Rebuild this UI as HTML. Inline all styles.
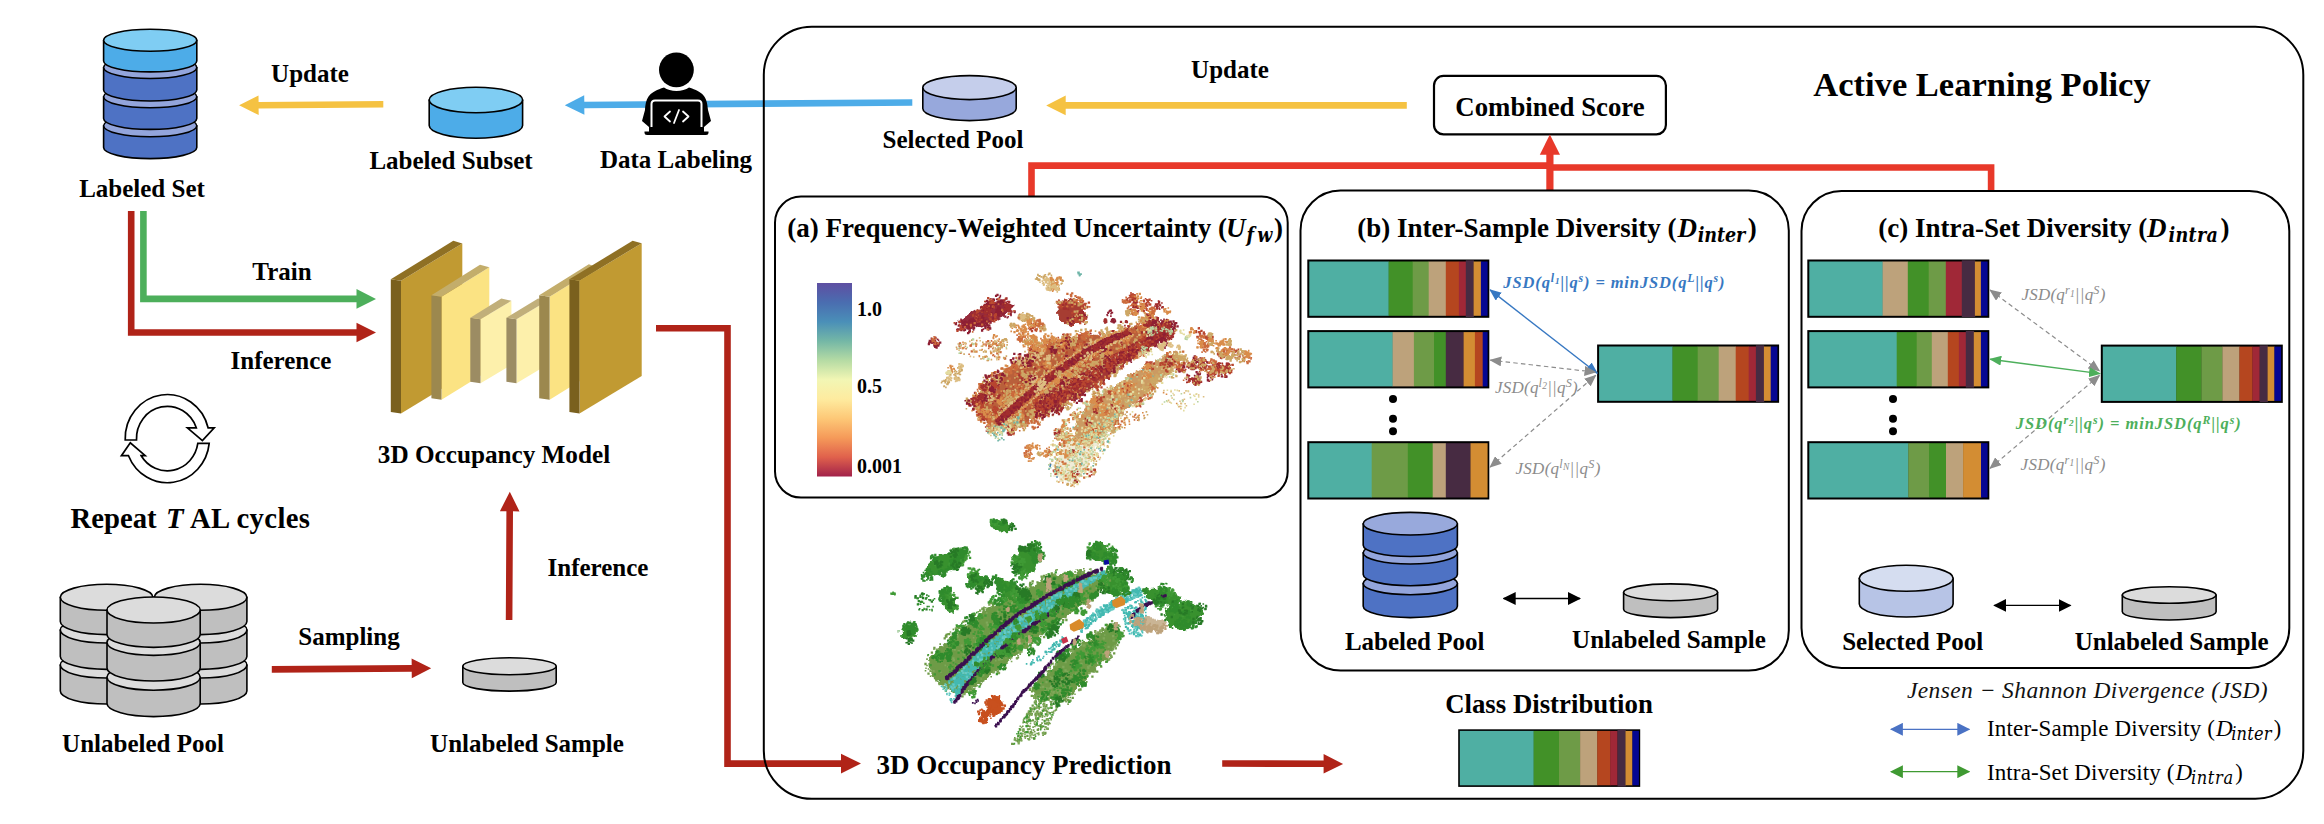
<!DOCTYPE html>
<html lang="en"><head><meta charset="utf-8"><title>Active Learning Pipeline</title>
<style>
html,body{margin:0;padding:0;background:#fff;}
body{width:2324px;height:824px;overflow:hidden;}
svg{display:block;font-family:'Liberation Serif', 'DejaVu Serif', serif;}
</style></head><body>
<svg width="2324" height="824" viewBox="0 0 2324 824">
<rect width="2324" height="824" fill="#fff"/>

<path d="M103.6 125.7V147.6A46.6 11 0 0 0 196.79999999999998 147.6V125.7Z" fill="#4E72C4" stroke="#000" stroke-width="1.6" stroke-linejoin="round"/>
<ellipse cx="150.2" cy="125.7" rx="46.6" ry="11" fill="#93A5DC" stroke="#000" stroke-width="1.6"/>
<path d="M103.6 96.8V118.4A46.6 11 0 0 0 196.79999999999998 118.4V96.8Z" fill="#4E72C4" stroke="#000" stroke-width="1.6" stroke-linejoin="round"/>
<ellipse cx="150.2" cy="96.8" rx="46.6" ry="11" fill="#93A5DC" stroke="#000" stroke-width="1.6"/>
<path d="M103.6 67.5V90A46.6 11 0 0 0 196.79999999999998 90V67.5Z" fill="#4E72C4" stroke="#000" stroke-width="1.6" stroke-linejoin="round"/>
<ellipse cx="150.2" cy="67.5" rx="46.6" ry="11" fill="#93A5DC" stroke="#000" stroke-width="1.6"/>
<path d="M103.6 40.3V60.9A46.6 11 0 0 0 196.79999999999998 60.9V40.3Z" fill="#4DACE8" stroke="#000" stroke-width="1.6" stroke-linejoin="round"/>
<ellipse cx="150.2" cy="40.3" rx="46.6" ry="11" fill="#7FCDF3" stroke="#000" stroke-width="1.6"/>
<text x="142" y="197" font-size="25" font-weight="bold" font-style="normal" text-anchor="middle" fill="#000" >Labeled Set</text>
<text x="310" y="82" font-size="25" font-weight="bold" font-style="normal" text-anchor="middle" fill="#000" >Update</text>
<polygon points="383.3,101.0 258.6,101.9 258.5,95.4 239.1,105.3 258.7,115.0 258.6,108.5 383.3,107.6" fill="#F5C242"/>
<path d="M429.2 100V125.5A46.7 12.7 0 0 0 522.6 125.5V100Z" fill="#4DACE8" stroke="#000" stroke-width="1.6" stroke-linejoin="round"/>
<ellipse cx="475.9" cy="100" rx="46.7" ry="12.7" fill="#7FCDF3" stroke="#000" stroke-width="1.6"/>
<text x="451" y="169" font-size="25" font-weight="bold" font-style="normal" text-anchor="middle" fill="#000" >Labeled Subset</text>
<polygon points="912.3,99.2 584.3,101.7 584.2,95.2 564.8,105.2 584.4,114.8 584.3,108.3 912.3,105.8" fill="#4DACE8"/>
<g id="person">
<circle cx="676.4" cy="69.9" r="17.4" fill="#000"/>
<path d="M645 110 C646 96 650 92 664 87.5 C670 92 683 92 689 87.5 C703 92 707 96 708 110 L711 121 L704 127 L704 132 L649 132 L649 127 L642 121 Z" fill="#000"/>
<path d="M651.5 127 V104 Q651.5 100.5 655 100.5 H698 Q701.5 100.5 701.5 104 V127" fill="none" stroke="#fff" stroke-width="2"/>
<rect x="653" y="102" width="47" height="27" rx="2" fill="#000"/>
<path d="M644.5 131.5 H708.5 V133 Q708.5 135 706 135 H647 Q644.5 135 644.5 133 Z" fill="#000"/>
<path d="M670 111.5 L664.5 116.5 L670 121.5 M683 111.5 L688.5 116.5 L683 121.5 M679 110 L674 123" fill="none" stroke="#fff" stroke-width="1.8" stroke-linecap="round" stroke-linejoin="round"/>
</g>
<text x="676" y="168" font-size="25" font-weight="bold" font-style="normal" text-anchor="middle" fill="#000" >Data Labeling</text>
<path d="M127.89999999999999 211V335.8H356.5V342.3L376 332.5L356.5 322.7V329.2H134.5V211Z" fill="#B02318"/>
<path d="M140.1 211V302.2H356.5V308.7L376 298.9L356.5 289.09999999999997V295.59999999999997H146.70000000000002V211Z" fill="#4DAF5B"/>
<text x="282" y="280" font-size="25" font-weight="bold" font-style="normal" text-anchor="middle" fill="#000" >Train</text>
<text x="281" y="369" font-size="25" font-weight="bold" font-style="normal" text-anchor="middle" fill="#000" >Inference</text>
<polygon points="401,280.7 462.3,243.39999999999998 462.3,376.2 401,413.5" fill="#C19A32"/>
<polygon points="390.8,279.2 401,280.7 401,413.5 390.8,412" fill="#7A601E"/>
<polygon points="390.8,279.2 453.3,240.79999999999998 462.3,243.39999999999998 401,280.7" fill="#8F7024"/>
<polygon points="441.5,296.8 489.3,267.3 489.3,370.3 441.5,399.8" fill="#FBE383"/>
<polygon points="431.4,295.3 441.5,296.8 441.5,399.8 431.4,398.3" fill="#9C884E"/>
<polygon points="431.4,295.3 480.0,264.8 489.3,267.3 441.5,296.8" fill="#C3AD6B"/>
<polygon points="480.5,319.2 511.4,300.8 511.4,364.8 480.5,383.2" fill="#FDF0AB"/>
<polygon points="470.3,317.7 480.5,319.2 480.5,383.2 470.3,381.7" fill="#9C8C63"/>
<polygon points="470.3,317.7 501.3,298.5 511.4,300.8 480.5,319.2" fill="#C1AF7A"/>
<polygon points="516.5,319.2 547.4,300.8 547.4,364.8 516.5,383.2" fill="#FDF0AB"/>
<polygon points="506.4,317.7 516.5,319.2 516.5,383.2 506.4,381.7" fill="#9C8C63"/>
<polygon points="506.4,317.7 538.1,298.5 547.4,300.8 516.5,319.2" fill="#C1AF7A"/>
<polygon points="549.6,296.8 597.4,267.3 597.4,370.3 549.6,399.8" fill="#FBE383"/>
<polygon points="539.2,295.3 549.6,296.8 549.6,399.8 539.2,398.3" fill="#9C884E"/>
<polygon points="539.2,295.3 588.8000000000001,264.3 597.4,267.3 549.6,296.8" fill="#C3AD6B"/>
<polygon points="579.5,280.7 641.7,243.2 641.7,376.0 579.5,413.5" fill="#C19A32"/>
<polygon points="569.4,279.2 579.5,280.7 579.5,413.5 569.4,412" fill="#7A601E"/>
<polygon points="569.4,279.2 632.6,240.79999999999998 641.7,243.2 579.5,280.7" fill="#8F7024"/>
<text x="494" y="463" font-size="25.2" font-weight="bold" font-style="normal" text-anchor="middle" fill="#000" >3D Occupancy Model</text>
<g fill="#fff" stroke="#000" stroke-width="1.7" stroke-linejoin="miter">
<path d="M125.2 440 A42.1 44 0 0 1 208.1 427.8 L214.2 427.8 L202.4 440.6 L187.4 427.8 L196.3 427.8 A30.8 32.2 0 0 0 136.5 440 Z"/>
<path d="M209.2 443.4 A42.1 44 0 0 1 128.5 455.7 L121.4 455.7 L130.3 442.8 L145.2 455.7 L141.2 455.7 A30.8 32.2 0 0 0 197.8 443.4 Z"/>
</g>
<text x="70.5" y="527.8" font-size="28.7" font-weight="bold">Repeat</text>
<text x="166" y="527.8" font-size="28.7" font-weight="bold" font-style="italic">T</text>
<text x="190" y="527.8" font-size="28.7" font-weight="bold" textLength="120" lengthAdjust="spacing">AL cycles</text>
<path d="M60.3 665V691A46.3 13 0 0 0 152.89999999999998 691V665Z" fill="#BFBFBF" stroke="#000" stroke-width="1.6" stroke-linejoin="round"/>
<ellipse cx="106.6" cy="665" rx="46.3" ry="13" fill="#DCDCDC" stroke="#000" stroke-width="1.6"/>
<path d="M60.3 630V656.4A46.3 13 0 0 0 152.89999999999998 656.4V630Z" fill="#BFBFBF" stroke="#000" stroke-width="1.6" stroke-linejoin="round"/>
<ellipse cx="106.6" cy="630" rx="46.3" ry="13" fill="#DCDCDC" stroke="#000" stroke-width="1.6"/>
<path d="M60.3 597.3V621.6A46.3 13 0 0 0 152.89999999999998 621.6V597.3Z" fill="#BFBFBF" stroke="#000" stroke-width="1.6" stroke-linejoin="round"/>
<ellipse cx="106.6" cy="597.3" rx="46.3" ry="13" fill="#DCDCDC" stroke="#000" stroke-width="1.6"/>
<path d="M154.3 665V691A46.3 13 0 0 0 246.89999999999998 691V665Z" fill="#BFBFBF" stroke="#000" stroke-width="1.6" stroke-linejoin="round"/>
<ellipse cx="200.6" cy="665" rx="46.3" ry="13" fill="#DCDCDC" stroke="#000" stroke-width="1.6"/>
<path d="M154.3 630V656.4A46.3 13 0 0 0 246.89999999999998 656.4V630Z" fill="#BFBFBF" stroke="#000" stroke-width="1.6" stroke-linejoin="round"/>
<ellipse cx="200.6" cy="630" rx="46.3" ry="13" fill="#DCDCDC" stroke="#000" stroke-width="1.6"/>
<path d="M154.3 597.3V621.6A46.3 13 0 0 0 246.89999999999998 621.6V597.3Z" fill="#BFBFBF" stroke="#000" stroke-width="1.6" stroke-linejoin="round"/>
<ellipse cx="200.6" cy="597.3" rx="46.3" ry="13" fill="#DCDCDC" stroke="#000" stroke-width="1.6"/>
<path d="M107.0 677.2V703.6A46.6 13 0 0 0 200.2 703.6V677.2Z" fill="#BFBFBF" stroke="#000" stroke-width="1.6" stroke-linejoin="round"/>
<ellipse cx="153.6" cy="677.2" rx="46.6" ry="13" fill="#DCDCDC" stroke="#000" stroke-width="1.6"/>
<path d="M107.0 642.4V668A46.6 13 0 0 0 200.2 668V642.4Z" fill="#BFBFBF" stroke="#000" stroke-width="1.6" stroke-linejoin="round"/>
<ellipse cx="153.6" cy="642.4" rx="46.6" ry="13" fill="#DCDCDC" stroke="#000" stroke-width="1.6"/>
<path d="M107.0 610V634.4A46.6 13 0 0 0 200.2 634.4V610Z" fill="#BFBFBF" stroke="#000" stroke-width="1.6" stroke-linejoin="round"/>
<ellipse cx="153.6" cy="610" rx="46.6" ry="13" fill="#DCDCDC" stroke="#000" stroke-width="1.6"/>
<text x="143" y="752" font-size="25" font-weight="bold" font-style="normal" text-anchor="middle" fill="#000" >Unlabeled Pool</text>
<text x="349" y="645" font-size="25" font-weight="bold" font-style="normal" text-anchor="middle" fill="#000" >Sampling</text>
<polygon points="271.8,672.7 411.7,671.7 411.8,678.2 431.2,668.3 411.6,658.6 411.7,665.1 271.8,666.1" fill="#B02318"/>
<path d="M462.8 666.3V682.6A46.7 8.5 0 0 0 556.2 682.6V666.3Z" fill="#BFBFBF" stroke="#000" stroke-width="1.6" stroke-linejoin="round"/>
<ellipse cx="509.5" cy="666.3" rx="46.7" ry="8.5" fill="#DCDCDC" stroke="#000" stroke-width="1.6"/>
<text x="527" y="752" font-size="25" font-weight="bold" font-style="normal" text-anchor="middle" fill="#000" >Unlabeled Sample</text>
<polygon points="512.4,620.0 513.0,511.3 519.5,511.4 509.8,491.8 499.9,511.2 506.4,511.3 505.8,620.0" fill="#B02318"/>
<text x="598" y="576" font-size="25" font-weight="bold" font-style="normal" text-anchor="middle" fill="#000" >Inference</text>
<path d="M656 328.3H727.5V763.6H842" fill="none" stroke="#B02318" stroke-width="6.6"/>
<path d="M841 753.8L861 763.6L841 773.4Z" fill="#B02318"/>
<rect x="763.8" y="26.8" width="1539.5" height="772" rx="48" ry="48" fill="none" stroke="#000" stroke-width="2"/>
<path d="M922.8 87.6V108.6A46.7 12 0 0 0 1016.2 108.6V87.6Z" fill="#97A8DC" stroke="#000" stroke-width="1.6" stroke-linejoin="round"/>
<ellipse cx="969.5" cy="87.6" rx="46.7" ry="12" fill="#C5CEEB" stroke="#000" stroke-width="1.6"/>
<text x="953" y="148" font-size="25" font-weight="bold" font-style="normal" text-anchor="middle" fill="#000" >Selected Pool</text>
<text x="1230" y="78" font-size="25" font-weight="bold" font-style="normal" text-anchor="middle" fill="#000" >Update</text>
<polygon points="1406.8,102.1 1065.7,102.1 1065.7,95.6 1046.2,105.4 1065.7,115.2 1065.7,108.7 1406.8,108.7" fill="#F5C242"/>
<rect x="1434" y="75.9" width="231.9" height="58.5" rx="9.5" fill="#fff" stroke="#000" stroke-width="2.2"/>
<text x="1550" y="115.8" font-size="26.8" font-weight="bold" font-style="normal" text-anchor="middle" fill="#000" >Combined Score</text>
<text x="1982" y="96" font-size="34.5" font-weight="bold" font-style="normal" text-anchor="middle" fill="#000" >Active Learning Policy</text>
<path d="M1031.5 197.6V165.6H1550" fill="none" stroke="#E8392A" stroke-width="6.6"/>
<path d="M1549.9 167.5H1991.1V191.5" fill="none" stroke="#E8392A" stroke-width="6.6"/>
<path d="M1549.9 190.5V152" fill="none" stroke="#E8392A" stroke-width="7.2"/>
<path d="M1539.8 154.8L1549.9 134.4L1560 154.8Z" fill="#E8392A"/>
<rect x="775" y="196.6" width="512.7" height="301" rx="26" fill="#fff" stroke="#000" stroke-width="2"/>
<text x="787.3" y="237" font-size="27" font-weight="bold">(a) Frequency-Weighted Uncertainty (</text>
<text x="1226" y="237" font-size="27" font-weight="bold" font-style="italic">U</text>
<text x="1246.5" y="242" font-size="19.5" font-weight="bold" font-style="italic" font-family="'DejaVu Serif Condensed', 'DejaVu Serif', serif" textLength="25.8" lengthAdjust="spacing">fw</text>
<text x="1274" y="237" font-size="27" font-weight="bold">)</text>
<defs><linearGradient id="cb" x1="0" y1="0" x2="0" y2="1">
<stop offset="0" stop-color="#5E4FA2"/><stop offset="0.1" stop-color="#4A6DB0"/><stop offset="0.2" stop-color="#4A8FB8"/><stop offset="0.3" stop-color="#74B7A6"/>
<stop offset="0.4" stop-color="#B5DBA4"/><stop offset="0.5" stop-color="#F2F6B4"/><stop offset="0.6" stop-color="#FEEB9F"/><stop offset="0.7" stop-color="#FDC877"/>
<stop offset="0.8" stop-color="#F59A59"/><stop offset="0.9" stop-color="#E0614C"/><stop offset="1" stop-color="#A2224A"/></linearGradient></defs>
<rect x="817" y="283" width="35" height="193.5" fill="url(#cb)"/>
<text x="857" y="315.5" font-size="20" font-weight="bold" font-style="normal" text-anchor="start" fill="#000" >1.0</text>
<text x="857" y="393.3" font-size="20" font-weight="bold" font-style="normal" text-anchor="start" fill="#000" >0.5</text>
<text x="857" y="473" font-size="20" font-weight="bold" font-style="normal" text-anchor="start" fill="#000" >0.001</text>
<defs><filter id="rag" x="-5%" y="-5%" width="110%" height="110%"><feTurbulence type="fractalNoise" baseFrequency="0.18" numOctaves="2" seed="3" result="n"/><feDisplacementMap in="SourceGraphic" in2="n" scale="9" xChannelSelector="R" yChannelSelector="G"/></filter></defs>
<g filter="url(#rag)"><polygon points="974.3,399.8 990.3,379.4 1017.9,360.5 1051.4,341.5 1086.4,332.8 1103.8,336.3 1127.1,328.4 1147.5,322.6 1169.4,325.5 1172.3,334.3 1153.3,345.0 1130.1,357.6 1100.9,379.4 1071.8,399.8 1038.3,417.3 1015.0,428.3 997.6,430.4 983.0,420.2" fill="#B9603B"/><polygon points="1032.5,414.3 1036.9,396.9 1063.1,382.3 1092.2,367.7 1124.2,350.3 1147.5,338.0 1162.1,336.3 1156.3,345.0 1133.0,358.4 1103.8,380.0 1074.7,400.4 1045.6,415.8" fill="#A23535"/><polygon points="1074.7,423.1 1092.2,399.8 1112.6,388.1 1133.0,373.6 1159.2,359.0 1176.6,351.7 1183.9,357.6 1167.9,375.0 1147.5,392.5 1130.1,407.1 1115.5,423.1 1100.9,437.6 1086.4,446.4 1074.7,440.5" fill="#CB9A62"/><polygon points="1054.3,463.8 1068.9,440.5 1086.4,434.7 1100.9,440.5 1089.3,463.8 1074.7,481.3 1063.1,482.8 1054.3,475.5" fill="#D9CF9A" opacity="0.4"/><polygon points="958.2,321.7 974.3,310.1 1001.9,299.3 1013.6,304.3 1009.2,313.0 987.4,324.1 966.4,329.9" fill="#952A3A"/><polygon points="1057.3,305.1 1071.8,297.3 1084.0,304.3 1084.0,321.2 1071.8,326.4 1058.7,318.8" fill="#A63C33"/><polygon points="1149.0,324.1 1169.4,321.7 1173.7,332.8 1162.1,341.0 1149.0,337.2" fill="#9C2C33"/></g>
<g fill="none" stroke-linecap="square">
<path stroke="#D98C4A" stroke-width="1.6" d="M1166.2 321.1h0m-14.6 .8h0m23.2 3.9h0m.1 .5h0m-23.7 8.9h0m-6.6-1h0m-5.4-2h0m-1.2-.6h0m-6.8 4h0m-.2-5h0m-16.9 .2h0m-25.6 2.5h0m-23.3 8h0m3.8-2.8h0m3.4 1.6h0m19.5 1.2h0m50.4-1.7h0m6.1 .4h0m9.6-2.6h0m8.3 3.8h0m-25.1 5.2h0m-14-4.3h0m-21.6 2.3h0m-5.2 3h0m-28-2.5h0m-1.4 2.5h0m-21.5 .1h0m16.2 4.1h0m20.6-3.3h0m6.9-.3h0m1.9 .1h0m5.4 3.8h0m8.6-1.9h0m17.1 .2h0m7-1.6h0m45.9 10.7h0m-9-1.8h0m-35.3 1.2h0m-34.7 1h0m-58.6-3.7h0m-29.8 5.2h0m14.3 3.6h0m44.7-3.5h0m4-.3h0m5.2 2.4h0m.9-2.6h0m15 1.7h0m82.5 4.3h0m-15.8-.3h0m-25.9 4.5h0m-14.3-2.9h0m-12.8 1.4h0m-19.8 .7h0m-6.5-3.7h0m-53.3 5.3h0m-25.5-1.8h0m-11.3 2.7h0m41.5 4.3h0m.1-3.4h0m33.3 3.2h0m25.3-4.8h0m11.9 4.5h0m31.3 7h0m-4.6-.5h0m-1.3-1.7h0m-25.3-3.1h0m-38.6 .3h0m-7.6 5.1h0m-20.4-4.5h0m-7.1 2.6h0m-30.8-.6h0m-9.5 2.6h0m15.5 1.8h0m5.8 .5h0m3.3-1h0m1.4 2.8h0m1.6-1.2h0m5.9 2.5h0m9.1-4.9h0m12.4 3.3h0m.1-1.6h0m1.4-1.9h0m86.2 5.3h0m1.7 0h0m22-1.4h0m-29.8 3h0m-6.3 1.8h0m-63.7 2.1h0m-.2 .2h0m-18.6-1.1h0m-12.4-3.6h0m-25.4 .8h0m-12.7 4.1h0m-1.5-4.5h0m-9.1 .5h0m-2.5 8.6h0m19.4 1.9h0m72.8-.4h0m74.1-.6h0m-17 2.1h0m-36.8 2.4h0m-13.9-3.1h0m-4.5 1.3h0m-12.8 2.8h0m-.7 .2h0m-14.1-2.3h0m-41.1-1.3h0m-28.9-.5h0m2.8 6.6h0m29 .8h0m3.8 2.5h0m4.9-1.3h0m8.2 2.3h0m1.6 .7h0m20.5-3.7h0m34.4-.6h0m3.1 2.3h0m6.1-.9h0m37.3-1.5h0m-15.4 7.1h0m-3.7 1.2h0m-65.2 .8h0m-2.1-1.9h0m-5.5 2.5h0m-15-2.8h0m-6.6 1.9h0m-.8-1.6h0m-10.6 3h0m-14.5 3.2h0m4.6-2.7h0m4.6 3.2h0m2.4 .8h0m24.6-.7h0m14.3-2.9h0m51.2-.6h0m12.6 2.5h0m4.8-1.3h0m7 6.7h0m-14 2.6h0m-74.1-3.8h0m-6.4 3.5h0m-1.4-1h0m59.6 7.2h0m8.8-1.5h0m2.3-1.9h0m8.7 1.4h0m16.8-.8h0m-12.1 7.3h0m-49.4 6.4h0m14.5-.8h0m24.9 3.4h0m15.2-.1h0m-25.5 1h0m-12.6 3.8h0m-15.3-1.8h0m9.2 8.5h0m20.8 4.9h0m-.3-2.4h0m-14.8 .2h0m-4.7 2.5h0m11 4.2h0m8.4-1.5h0m3.2-.1h0m2-.7h0m-10.8 7h0"/>
<path stroke="#D98C4A" stroke-width="2.3" d="M1170.6 322.8h0m-18.2-1.1h0m-4.1 1.4h0m-22.7 5.2h0m3.7 .4h0m12.6-.3h0m12.2-2.1h0m5.1-.6h0m9 8h0m-15.5-1.8h0m-4.4-.8h0m-59.3 4.2h0m-2.8-3.7h0m-9.2 2.6h0m-6.6 .3h0m-3.4 .2h0m-.6 .4h0m9.1 2.7h0m25.6 4h0m22.7-.4h0m25.3 4.6h0m-6.4 1.1h0m-11.1-.6h0m-3.8-3h0m-8.1 .1h0m-8.5-.6h0m-10.2 3h0m-2.3 1.4h0m-18.6-3.1h0m7.3 4.4h0m18.6 4.6h0m4.1-1.2h0m7.6-2.9h0m10.6 3h0m7.9-3.2h0m5.6 3.4h0m28.2-.2h0m-68.2 6.1h0m-.2 .8h0m-15.3-.1h0m-23-1.2h0m-33.9 1h0m-23.6 6.8h0m26.2 .3h0m6.1-1.6h0m5.5-.8h0m5.4-2.7h0m22.5 3.5h0m6.2-3.8h0m3.3 1.3h0m1.1 .2h0m22.7 3.1h0m5.8-3.8h0m16.4 1.1h0m47.6 5h0m-32.6 3.8h0m-51.3-.9h0m-40.7-2.5h0m-.1-.6h0m-42.7-1h0m-5.9 2.4h0m-12.6 7.7h0m3.4-3h0m5.1 4.6h0m1.9-.6h0m27.5-.5h0m24.5-.4h0m14.3-4.3h0m22.2 5.7h0m3.3 0h0m1.3-2.2h0m6.9-1.7h0m16-1.6h0m17.1 4.1h0m10.7 1.6h0m-42.2 2.3h0m-23.8-1.8h0m-2 2.6h0m-6.3 2.6h0m-19.4-1.2h0m-14.1-3.6h0m-39.8 10.6h0m2.6-3.4h0m27.3-2.1h0m5.5 .8h0m3.6 3.2h0m24 1h0m6.2-2.4h0m52.7 2.2h0m10.6 6.5h0m-52-2.6h0m-33-1.1h0m-5.9 3.8h0m-.3-2.1h0m-3.2-1.4h0m-5.6 3.4h0m-9.1-1.4h0m-8.8-3h0m-1.3 .5h0m-1.8 3.1h0m-2.9 1.4h0m-17.8-2h0m-14.8 7.6h0m6-2.3h0m2.7-1.6h0m9.3 3.3h0m10.8-4.4h0m2 1.4h0m.2-.1h0m18.1 .9h0m2.4 .2h0m20.7-.7h0m20.1-.4h0m3.9 .3h0m10.4-1.1h0m34.8 7.9h0m-26.2 .8h0m0-3.7h0m-18.8 .3h0m-14.4 2.2h0m-21.1 2.7h0m-16.7-2.6h0m-8.6 .9h0m-24.1 .2h0m0 6.8h0m11.7-2h0m7.7-1.2h0m41 4.6h0m8.9-3.5h0m35.2-.7h0m5.4 7.8h0m-3.1-1.8h0m-7.3 1h0m-8.6-1.9h0m-66.3 5h0m-22.4-1.5h0m-3.7 1.6h0m-2.8-.3h0m2.7 1.9h0m42.5 4.1h0m89.6-1h0m11.1-2h0m-61.9 8.5h0m21.2 4.9h0m16.3 4.4h0m-11.2-1.3h0m14.4 5.1h0m-19.9 10.1h0m-6.5 9.1h0m-13.3 .4h0m-2.5 9.2h0m27.5-3.5h0m-17.3 4.6h0m-5.4 4.8h0"/>
<path stroke="#B8452F" stroke-width="1.6" d="M1127.1 328.7h0m30.4-.9h0m16 4.2h0m-39.1 .3h0m-3-2.1h0m-2 3.8h0m-1.1-4h0m-28.2 4.9h0m-37.3-.4h0m-8.1 7.2h0m3.6-4.1h0m11 .3h0m4 1.1h0m33.8 .3h0m6.1-2.4h0m3.2 1.7h0m1.2 2.6h0m2.8-3.2h0m8.7 .7h0m23.3 6h0m-15.3 .3h0m-1.7-.3h0m-29.4 2.7h0m-.7 .1h0m-.6-5.1h0m-1.1 .6h0m-16.1-.1h0m-8.3 4.9h0m-4.9-2.6h0m-5.5 3.2h0m14 3.7h0m2-3h0m16 2.6h0m19.8-1.7h0m27.4-1.8h0m-12.2 9.2h0m-33.6 .7h0m-14.7-3.7h0m-.9 4.4h0m-33.3-.1h0m-38.2 5.9h0m7.6-1.8h0m26.9 .3h0m30 .4h0m4 1.6h0m8.9-4.1h0m5.8 8.1h0m-54.2-1h0m-22.3-2h0m-26.8 7.3h0m23.9 .2h0m9.5-1.2h0m22.8 4.2h0m8 .4h0m6.9-2.4h0m5.8 2h0m25.4 7.3h0m-2.4-1.3h0m-1.1-1.4h0m-1.3-1.3h0m-11.4 .4h0m-12.4-2.3h0m-1.7 2.3h0m-12 1.3h0m-1 1.5h0m-1.2-4.6h0m-10.9 3.7h0m-15.2-3.8h0m-8.4 5.2h0m-2.3-5.1h0m-35.9 10.7h0m33.2-2.8h0m23.3 1.4h0m17.4-3.5h0m10 8.1h0m-1.8 .4h0m-1.6-2.3h0m-14.1 5.3h0m-31.5-.9h0m-3.5 .6h0m-8.7-3.2h0m-11.2 4.8h0m18.2 2.9h0m19.4-1.7h0m1.7 2.8h0m17.3-4.6h0m10.9 5.3h0m5.8-.7h0m-14 5.1h0m-25.1 1.7h0m-34.2-2.7h0m-14.9 3.8h0m7.9 4.5h0m21.3-3.5h0m11.5-1.3h0m3.5 4.7h0m3.5-5.2h0m6 0h0m15.5 6.9h0m-53.9 3.6h0m-4.7 6.7h0m25.8 6.3h0m-19.4-1.6h0m-2.9-3.7h0m3.3 6.5h0"/>
<path stroke="#B8452F" stroke-width="2.3" d="M1144.5 323.7h0m-16.2 2.4h0m23.9-.9h0m2.9 3.1h0m20.1-1.7h0m-15 6.5h0m-29.3 1.1h0m-5.4 .9h0m-46.3 .2h0m-11.5-.6h0m-3.6 0h0m-3.5 5.8h0m3.9-1.3h0m2.8 2.1h0m8.2-2.1h0m1.8-1.4h0m1.9 .8h0m43.4-1.4h0m5.6-.2h0m14.4 .1h0m14.3 6.4h0m-10.2 1.5h0m-16.6-1.4h0m-9.3-.5h0m-36.4-.9h0m-3.2 1.3h0m-3.1 1.2h0m-1.4 .9h0m-46.7 3.4h0m18.8-.3h0m17.8 3.8h0m10.5-.3h0m16.7-4h0m11.1 5h0m16.5-1.4h0m2.9 1.9h0m-30.7 4.7h0m-10.1 .8h0m-8.2-4.4h0m-25.2 1.4h0m-13.6 1.8h0m-9.4 1.2h0m-7.6-2h0m38.4 4.3h0m10.9 .1h0m5.3 .7h0m9.3 1h0m6 1.1h0m13-2.8h0m19.7 4.2h0m-1 2.5h0m-29.7-.3h0m-6.2-.8h0m-3.5 4.1h0m-34.7-4.3h0m-19.2 .6h0m-28.9 10.3h0m1.2-3.7h0m1.4 .4h0m6.7-1.1h0m.6 .3h0m13.1-.9h0m2.8-.3h0m.5 2.4h0m33 2.9h0m10.2-4.1h0m3.2 2.6h0m3.9-1.7h0m13.8 4.5h0m-13.2 .8h0m-2.2 .6h0m-.3-.4h0m-2.5 1.6h0m-14.5-3.8h0m-5.3 4.3h0m-24.7-2.9h0m-28.2 9h0m.3-1.7h0m.1-1.4h0m21.2 2.7h0m8-2.4h0m3.1 3.6h0m.8-2.7h0m46-.5h0m6.3 3.6h0m-7.7 .6h0m-34.9-.2h0m-63.7 11.6h0m22.9 .1h0m23.2-.6h0m10.4-5h0m4.5 1.5h0m17.4-1.5h0m-19.7 8.3h0m-14.4 .5h0m-2.4-1.2h0m-29.7 7.7h0m3.9 .2h0m17.5 2.2h0m11.4-5h0m23.4 1.3h0m-16.1 7.3h0m-4.6-1.5h0m-22.4 2.6h0m-2.2 1.3h0m-.5-2.4h0m-1.9 1.7h0m-.7-4h0m-5.9 2.1h0m-2.4-1.2h0m-2.9 1.4h0m-7.2-.7h0m18.7 7.4h0m15.6-1.7h0m1 2.5h0m2.1-2.1h0m16.8-2.8h0m2 1h0m-28.4 6.3h0m-12.6 1.1h0m-2.3-1.3h0"/>
<path stroke="#CDA765" stroke-width="1.6" d="M1173.8 322.1h0m-16.3 1.5h0m-1-1.8h0m-5-1h0m-1.1 2.5h0m-14.1-.9h0m-3.9 5h0m7.4 .1h0m32.4 4.4h0m-6.5 2.9h0m-3.5-3.8h0m-15.6 4.6h0m-3.1-2.5h0m-13-1.2h0m-10.3 1.9h0m-2.2-.2h0m-9.1 2.2h0m-13.4-4.7h0m-7.3 3.2h0m-10.1-3.1h0m-13.4 3.9h0m-6.9 4.8h0m2.9-.3h0m4.4-2.4h0m5.7 1.5h0m15.1-.5h0m13.5 2h0m12.8-3.9h0m2.8 4.7h0m22.2-4.2h0m14.5 5.1h0m1.2-4.8h0m4.8 2.3h0m4.2 3.6h0m-21.5 2.1h0m-18.2-2.7h0m-3.5 5.5h0m-30.4-3.8h0m-22.3-1.8h0m-12.4 3.6h0m-10.3-3.2h0m-18.3 8.9h0m18.5 2.3h0m9.2-4.9h0m.2 2.2h0m28.5-.8h0m5.9-.1h0m12.6 3.6h0m19.2-.5h0m.9-1h0m20.4 1h0m.4-2h0m10.5-2.1h0m-9.8 6.2h0m-4.6 0h0m-1.9-1.2h0m-1.2 5.5h0m-3.9-4.9h0m-.6 2.5h0m-18.5 .1h0m-3.1 .5h0m-2.3 .5h0m-2.1 .2h0m-2.9-.8h0m-11.8-1.8h0m-20.2 .9h0m-20 2.2h0m-2.1-1h0m-4.8-1.9h0m-3.7-1.1h0m-10.4 4h0m-3.7 .4h0m-2.7-.3h0m-7.1 6.2h0m4.2-3.9h0m.3 1h0m4.8-1.6h0m27.5 3.7h0m11.3 .8h0m4.9-2.1h0m5-3.1h0m4.7 2.9h0m21.9-2.3h0m72.1 4.3h0m7.3 3.5h0m-35.8-.4h0m-23.9-1.6h0m-.6 3.8h0m-6.5-2.5h0m-.4 2.3h0m-7.8 .8h0m-2.4-4.2h0m-.4 4.1h0m-14.5-1h0m-8.1 1.3h0m-.8-2h0m-.9 .3h0m-9.1-3.5h0m-8.6 3.7h0m-4.5-2.5h0m-15.3 3.3h0m-4.9-3.3h0m-19.3 1.9h0m-1.5-.3h0m-9.2 3.3h0m2.2 1.5h0m1.5 2.2h0m7.8 2h0m16.8-3.8h0m14.7 0h0m7.1 1.9h0m21.8 .6h0m25.7-4.4h0m.7 2.2h0m43 1.6h0m11.9-.3h0m12-2.6h0m-6.6 6.6h0m-14.5-1.4h0m-3.5 5.2h0m-45.6-2.1h0m-13.8-.3h0m-5.9 2.8h0m-2.1-2.8h0m-12.3 1.4h0m-2.4-4.2h0m-79.7 8.7h0m6-.5h0m.3 1.4h0m33.3-1.4h0m8.3-1.1h0m11.6 2.5h0m1.6-2.7h0m2.1 .8h0m.1-.8h0m7.6-.1h0m12.1 .1h0m14.1 3.6h0m1.2-2.8h0m.4 .6h0m6.2 1.7h0m30.2-2.1h0m-37.6 9.7h0m-6.8-.2h0m-5.1-.1h0m-11.2-2.4h0m-8.5-.3h0m-15.6 .8h0m-6.4-.6h0m-34.6-.7h0m-2.7 1.2h0m-.6-.1h0m-8.3 5.2h0m13.8-.9h0m12.3 .3h0m.3 1.8h0m6.2-1.9h0m1.9 2h0m20.6-2h0m.7 3.1h0m5.7-1.8h0m7 1.8h0m.4-2.4h0m29.5-1.6h0m37.6 1.8h0m29.6-.7h0m-99.1 8.7h0m-9-3.4h0m-2.2 3h0m-3.5-3.3h0m-.6-.7h0m-21.2-.1h0m-5.2 1.1h0m-1 1.6h0m-12.7-1.4h0m-3.8 4.8h0m4.4 3h0m7.2-.4h0m7.1-.9h0m8.2 .5h0m2.8-1.4h0m8.2-1.2h0m.7 2.9h0m6.7 .7h0m.6 1.6h0m5.5-4.6h0m16.1 1.3h0m5.2-1.7h0m30.4 1h0m10.2 .4h0m17.2 3.2h0m7.5 1.6h0m-28.7 4.3h0m-11.5-4.5h0m-6.5-.2h0m-31.6 .7h0m-12.2 1.3h0m-.9-1.4h0m-.4 2.3h0m-9.6 2.2h0m-1.9-5h0m-3.1 3.8h0m-13.2-.6h0m-3-1.2h0m-.2-1.5h0m-.8 3.2h0m-7-.9h0m-4.2-2.6h0m4.2 10.3h0m2.2-3.3h0m.5-.2h0m13.9 2.9h0m1.2-2.9h0m3.7 3h0m15.1-2.9h0m54.6 4.2h0m21.6 4.8h0m-34.1-1.4h0m-8.9-2.6h0m-2.3 2.4h0m-.4-2.1h0m-42.9 0h0m-9.1 3h0m-3.6-1.5h0m-2.1-.2h0m-8.3 2.5h0m-2.1-.4h0m73 2h0m7.1 5.8h0m25.5-2.7h0m4.3-2.7h0m-2.4 7.1h0m-39.1-.2h0m0 7.6h0m8.9-2h0m5.5 .8h0m28.3 4.2h0m2.8-4.2h0m-52 5.3h0m11.3 5.5h0m28.4 2.6h0m1.2 2.1h0m-41.3 4.2h0"/>
<path stroke="#CDA765" stroke-width="2.3" d="M1147.9 322.3h0m-3.9 1.4h0m-12.6 .1h0m-45.7 5.6h0m35.7-1.3h0m15.9 1.6h0m1.2-4.5h0m3.1 4.4h0m9.2-5.5h0m6.2 2.9h0m4.9 .9h0m1.2-2.2h0m5.9 2.1h0m7.2 2.4h0m-4.9 2.7h0m-.7 1.5h0m-1.2-4.2h0m-2.6 1.5h0m-12 1.5h0m-2.1 1.2h0m-1.4-1.9h0m-4.7-1.8h0m-2.2 1.5h0m-.2-.2h0m-17-1.7h0m-.1 1.3h0m-41.3 3.4h0m-4.5-5h0m-5.4 1.1h0m-23.2 6h0m9.7-.3h0m8 3.3h0m1.1 .1h0m26.1 .6h0m4.7-1.6h0m1.9 0h0m1.2-2.2h0m3.1 4.1h0m4.9-5h0m2.7 2.3h0m15.6-2.4h0m3.5 3.6h0m23-3h0m4.8 3h0m-3.9 5.8h0m-14.7 .9h0m-19.8-1h0m-3.8-.5h0m-1.5-2.2h0m-11.1 5.3h0m-18.5-2.4h0m-10 2h0m-4.9-2.3h0m-3.7 .4h0m-12.6 .8h0m-24.4 1.5h0m2.5 3.2h0m2.9-1.1h0m19.6 3h0m4.4 .2h0m15.7 .1h0m9.1-3.2h0m5.4 3.1h0m1.4-1.3h0m15.3 1.1h0m6.2-4.4h0m4.1-.5h0m3.2 1.3h0m11.4 1.6h0m15.4-1.6h0m29.6 2.4h0m3.2 8.1h0m-11.8-3.5h0m-52.5-.8h0m-.8 3.1h0m-8-2.9h0m-13.2 .2h0m-13.8-1.7h0m-21.4 2.1h0m-6.4 2.6h0m-15.9-3.3h0m-7.2 .3h0m-.9-1.8h0m-4.4 4.4h0m-10.8 5.3h0m12.9 1.2h0m4.7-3.9h0m12.5 2.8h0m11-2.1h0m9.6 3h0m4.9-2.1h0m19.1 2.1h0m7.4-.6h0m3.3-4.2h0m4.1 1.1h0m5.7 3.3h0m2.2 .8h0m4-1.2h0m4.2-1.1h0m4.8 .8h0m32.5 8.1h0m-42.5-4h0m-1.4 1.8h0m-1.2 .9h0m-2.2 .1h0m-12.8-4.4h0m-7 2.6h0m-2.3 2.9h0m-.8-1h0m-7.9-1.3h0m-10.2-1.5h0m-26.2 2.5h0m-5.4-1.2h0m-7.7 2.6h0m-9.1-4.3h0m-.1 3.5h0m-5-4.3h0m-.1 5.1h0m-6.7-4.4h0m-1.8 2.8h0m-3.5-1h0m-1.4 .1h0m-11.9 6.3h0m9.9 1.1h0m2.6-3.4h0m2.6 .4h0m10.3 2.6h0m4 .6h0m6.2-4.3h0m7.5 1.1h0m9-.9h0m16.5 2.6h0m2.6 1.3h0m2.5-3.9h0m2.3 1.8h0m8.1-1h0m10.7 2.5h0m10 .9h0m2.4-3.9h0m14-1.2h0m36.4 6.7h0m-6.2 4.4h0m-4.6-3h0m-17.8 3.5h0m-19.7-2.1h0m-1 2.3h0m-9.2-3.9h0m-14.6 3.8h0m-10.1 .1h0m-2.3-.7h0m-7.7-3.2h0m-10.6-.4h0m-4.1 .7h0m-3.8 1.3h0m-1.2-2.9h0m-2.2 2.8h0m-11.4 .5h0m-.7-2.1h0m-14.6 1h0m-6.7-1.1h0m-3.6-.5h0m-2.9-.9h0m-7.8 3.6h0m-3.8 .2h0m6.5 3.1h0m2.8 2.2h0m18.4-1h0m27.3 2.4h0m1.5-1.3h0m6.3-3.3h0m12 .6h0m6.2 1.6h0m17.3 .4h0m48.1-1.4h0m10.3 10.4h0m-52.5-4.4h0m-10 2.7h0m-3.5-3.7h0m-31.3 2.2h0m-19.8 3.2h0m-6.5-4.8h0m-4.9 2.1h0m-1.1-2h0m-.1 .2h0m-21.6 1.3h0m-2.3 2.6h0m-.2-.5h0m-5-3h0m-7.7 4h0m3.4 .4h0m2 5.6h0m.6-3h0m6.7 3.1h0m10-1.5h0m12.5 .4h0m1.3-1.8h0m.8 2.1h0m44.7-4.8h0m22.7 1.5h0m21.6 4.1h0m3.9-3.9h0m26.3 2.7h0m-67.5 5.1h0m-16.5-1.5h0m-7 1.4h0m-6.6-2.1h0m-9.8 3.8h0m-10.8-5h0m-10.2 4.4h0m-9.6-3.9h0m-1.9 .6h0m-2.3-.6h0m-10.8-.4h0m18.7 6.3h0m3.3 3.2h0m5-2.3h0m15.4 .5h0m19.2 3.1h0m5.5-3.7h0m5.1 2.3h0m1.6-2.3h0m.7 1.4h0m5.6 .8h0m41.2 3.5h0m-57.8 0h0m-.5 1.5h0m-.5-2.7h0m-6 3h0m-10.1-.4h0m-1.5-1.6h0m-5.8 4.3h0m-5.5-.9h0m-5.8-4.4h0m-5.5 .5h0m-6.1 2.6h0m-2.6-1.5h0m-4.3 .6h0m-5.7-1.5h0m0 .8h0m-2.8 0h0m11.5 9.2h0m14.5-2.7h0m15 2h0m13.5-1.8h0m1.2-2h0m82.1 2.2h0m-.6 9.2h0m-5.2-.7h0m-96.1 0h0m-5.7-2.1h0m-2.6-.5h0m-14.9 1h0m6.2 5h0m4.3-2.1h0m75.3 1.1h0m8.3-.1h0m-22.2 12.7h0m7.5 5.2h0m-7.4-.4h0m-2.7 3.1h0m-8-.7h0m.6 7.5h0m5.1-1.1h0m38.6 4.9h0m-19.9 14.9h0"/>
<path stroke="#DDBE82" stroke-width="1.6" d="M1149.7 327.5h0m-35.4 5.8h0m-39 2.3h0m25 3.8h0m-67 13.8h0m50-3h0m13.2 2.3h0m7.7 .6h0m1.4-2.5h0m20.6-.3h0m13.9-1.9h0m30.9 4.6h0m12.1-1.3h0m-46.3 5.9h0m-36.1-2.9h0m-6.2-.5h0m-26.4 2.4h0m-8.3 5.9h0m3 .7h0m22.1-2.7h0m28.4 3.4h0m41.2 1.5h0m17 3.3h0m-5.7 0h0m-3.9 .4h0m-14.8-2.3h0m-2 3.3h0m-1.5 1.7h0m-52.4-.9h0m-57.5-4.2h0m-6.9-.1h0m-23.2 8.8h0m65.4 .6h0m6.5-.2h0m1.7-1.2h0m65.4 1.7h0m18.6 .8h0m1.3-3.4h0m-31.4 6.3h0m-109.9-1.8h0m-7.4 6.4h0m1.4 5h0m106.7-1.7h0m.5-2.1h0m6.3 2.9h0m14.7-1.8h0m2.4 6.7h0m-33.3-2.9h0m-57.1 4.3h0m-8.6-1.9h0m-33.9-2.3h0m-23.2 .5h0m-6.3 .5h0m13.2 4.8h0m4.3 5.2h0m101.4-1.3h0m9.6-3.6h0m16.6 .3h0m9.9-.8h0m-2.2 7.7h0m-7.2 .1h0m-17.3-1.8h0m-5.3 5.4h0m-5.7-5.2h0m-11 .4h0m-4.6 1h0m-93.4 6.4h0m51.6-2h0m31.5 5.1h0m24.2-5.2h0m.6-.3h0m10.3 .4h0m2.1 2.6h0m8.9 7.2h0m-24.2 .2h0m-.4-2.4h0m-20.8-.4h0m-82.7-1.6h0m-4 2.3h0m-2.8 1.7h0m102.7 2.2h0m23.9 3.8h0m8.4 2.8h0m-11.8 3.5h0m-18.8-2.5h0m-4.5-1h0m-1.7 2.3h0m-20.7 1.1h0m-1.1-3.4h0m-68.5 4h0m-2.1 .9h0m.6 .5h0m102.4 5h0m12.4-.7h0m0 5.3h0m-10.1-3.3h0m-11.4 4.2h0m-5.8-3.6h0m-23.6-.7h0m-3.3 7.3h0m14.6 .7h0m1.9 1.7h0m14.4-3.4h0m16.5 1h0m2 5.6h0m-5.3 2.1h0m-24-1.6h0m-4 1h0m-14.8-2.6h0m33.4 8h0m5.9-.5h0m5.9 1.8h0m.8-1.9h0m-41.8 5.8h0m-.3 4.3h0m-7.9-4.1h0m36.3 9.9h0m-8.7 6.1h0m-9.4-3h0m11.3 5h0"/>
<path stroke="#DDBE82" stroke-width="2.3" d="M1143.3 328.9h0m20.1 .2h0m-8.1 6.3h0m-15.9-.4h0m-63.3 .9h0m.7 2.8h0m20.8 1.2h0m47.7-1.7h0m-55 7.8h0m-25.9-.2h0m-7.7-.9h0m-13.7 2.9h0m-13.8 4.1h0m15.3-.9h0m17.2 .3h0m41.4 1.8h0m82.8 2h0m-4.2 .3h0m-10.6 .9h0m-32.7 1h0m-29.4 .7h0m-59.9-2.3h0m-17.1 .8h0m-4.3 .4h0m-5.6 2.3h0m17 5.2h0m28.9 0h0m29.7 1.3h0m9-5.2h0m56.4 1.3h0m5.2 .5h0m-.2 6.8h0m-2.8 .9h0m-21.1-.8h0m-46.6-.6h0m-9.2-1.7h0m-11.1 .9h0m-25.1 2.4h0m-5.1-3.7h0m-10.8 5.4h0m-28.8 .3h0m54.4 .6h0m7.1 3.4h0m67.2-3.2h0m9.4 3h0m11.7 6.6h0m-14.1 .4h0m-17.2-4.9h0m-3.6 3.9h0m-69.9 1.6h0m-20.7-2.4h0m-44-.1h0m7.8 8.3h0m24-4.2h0m37.4 1.4h0m73.8-2.3h0m-23.8 8.8h0m-42.2 .6h0m-81 2.5h0m19.1 4.4h0m31.3-2.7h0m8.1-1h0m5.1 1.1h0m60.1 1h0m8.8 2h0m4.4 .2h0m14.6-3.9h0m10.5 1.1h0m-27.1 4.8h0m-10.3 1.4h0m-4.6 .4h0m-5.1-.5h0m-15.3-1.5h0m-83.7 3.9h0m-20.8 1.5h0m11.7 1.5h0m46.8-1.9h0m2.2 1.4h0m48.6-1h0m.2 1h0m20.4 2.6h0m12.6 3.3h0m-5.7 .8h0m-1.7 2.8h0m-80.8-3.6h0m-14.5 4.5h0m-41.4-4.5h0m25.5 4.8h0m12.6 1.8h0m11 3.5h0m.5 0h0m60.8-.2h0m2.2-1.1h0m8.4-2.2h0m7.6 1.2h0m1.1-.9h0m3.6 .5h0m9.2 6.1h0m-28.4-1.9h0m-9.5 3.7h0m-67.2-3.6h0m-12.5 .3h0m66.9 8.6h0m28.8-1.5h0m6.7-.5h0m4.6 4.9h0m-22.6 1.8h0m-11.9 2.7h0m-21.8 1.3h0m54.9 2.2h0m-56.5 6.6h0m3.6 3.9h0m12-.3h0m7.9 4.6h0m1.4-5.6h0m5.5 3.3h0m7 4.7h0m-12.5 .2h0m-10.1 .9h0m-10.1-2.1h0m-.6 4.1h0m15.5 4.5h0m16.1-2.4h0m-14.6 15.7h0"/>
<path stroke="#A22E2E" stroke-width="1.6" d="M1144.2 321.1h0m-8 7.4h0m28.6 1.8h0m-42.5 3h0m-31.6 .2h0m-15.1 6.9h0m34.6-3.4h0m2.5 .3h0m6.1 3.7h0m3.1 3.8h0m-84.4 9h0m3.7-2.4h0m21.5-1.9h0m24.6 2.8h0m-35.1 3h0m-1.5-.7h0m-10.9 4.3h0m88.5 1.7h0m-15.6 7.2h0m-20.9-.5h0m-13.5 0h0m-17.8 0h0m-18.5-.4h0m-44.3 3.4h0m36.9 5.4h0m17.3-1.7h0m47.4 3.9h0m0-4.3h0m8 2.1h0m-3.4 6.5h0m-37.1 1.5h0m-14-4.8h0m-10.6 .3h0m-17.4 3.6h0m5.2 2.8h0m13.4 1.9h0m.6 1.2h0m5.3-3.9h0m-45.5 8.1h0m-19.5-2h0m68.4 6.4h0m20.6-1.2h0m-50.4 9.8h0m-16.4-3.8h0m-13.8 1.3h0m-16.6 3h0m48.2 4h0m3.7 5h0m-22-.2h0m-15.3 1.8h0m-.1-2.8h0m-.8 1.3h0"/>
<path stroke="#A22E2E" stroke-width="2.3" d="M1162.3 322h0m-10.1 6.9h0m-7.4 7h0m-2.7-3.4h0m-13.8 3h0m-3.5-1.5h0m-11.7-2.8h0m-48.8 10.5h0m40-.5h0m45.1-1.7h0m5.9 2.1h0m.5-.1h0m4.7-4h0m-20.2 10.3h0m-3.8-4h0m-15.1-1.7h0m-35.3 5.8h0m-27.2-2h0m4.5 4.8h0m10.7-.8h0m6 .4h0m30.6-.2h0m20.4 4.2h0m-59.3 2.9h0m-8.2 .5h0m-32.8 5.2h0m.7 2.6h0m27.8-2.9h0m9.9-.1h0m16.8-2.3h0m12.8 5.7h0m1.8 3.6h0m-10.6 1.9h0m-18.5-.3h0m-25.1-.8h0m-.7-1.4h0m-6.2-1.7h0m-4.3 1.2h0m-20.7-1.4h0m-16.3 4.8h0m-7 3.6h0m26.1-1.6h0m9.6 1h0m17.9 .5h0m6.1 2h0m31.6 4.9h0m-17.6 .4h0m-1.6-2.2h0m-1.2 .3h0m-4.9 .5h0m-52.1 2.1h0m-12.4 4.7h0m13.7 1.2h0m17-4.7h0m31.1 3.2h0m25.2 6.2h0m-34.9 1.4h0m-20.6-1.7h0m-16.8-1h0m-13.1-.2h0m-19.3 .4h0m69.7 10.2h0m-3.7 1.3h0m-32.4 1.2h0m-7.9 3.3h0m24.2-.1h0m-25.3 10.3h0m-15.3 .5h0m-2-.2h0m37.4 6.1h0m3.6-1.4h0m-14.3 8.6h0"/>
<path stroke="#CC6B3C" stroke-width="1.6" d="M1153 320h0m-31.2 6.9h0m19.8 .1h0m21.4-1.3h0m.6-1.4h0m11.3 6.9h0m-.4 2.1h0m-5.3 2.5h0m-22.9-5.7h0m-6.4 2.5h0m-12.2-1.9h0m-6.2 1.7h0m-10.3-1.3h0m-11.9 1.2h0m-2.1 3.2h0m-6-5.2h0m19.5 9.5h0m17.9 1.6h0m6.9-1.7h0m3.9-2.9h0m.9 1.3h0m31.7-1.3h0m-22.3 6.2h0m-.4 .4h0m-7.6-.6h0m-18.8 4.8h0m-6.8-3.9h0m-8.1-1.2h0m-21.5-.1h0m-4 4.9h0m-3.6-1.3h0m-1.3-.1h0m-15.7-.5h0m-17.9-3.1h0m18.9 11.1h0m35.2 .2h0m9.2-5h0m1.8 2h0m4.4-2.6h0m5.5 2.2h0m17.4 3.6h0m1.3-2.6h0m9.1-1.8h0m-15.5 8.3h0m-24.7-2.3h0m-9.2-.3h0m-1.6 1.3h0m-12.6-1.6h0m-8.7 .6h0m-21.5 4.1h0m-19.4-1.3h0m-19.5 3h0m10.1-.3h0m5.8 4.7h0m2-3h0m27.5 1.2h0m9.9-2.8h0m7.6 1.9h0m9.9 1.5h0m20.8-2.1h0m1.2 1.7h0m68 2.7h0m-59.4 2h0m-4.2 .1h0m-18.1 2.7h0m-3.7 .2h0m-2.6-5.6h0m-4.3 3.4h0m-9-2.3h0m-2.4 2.8h0m-13.2 .8h0m-5.8-.2h0m-9.7-3.5h0m-3.8 1.6h0m-4.3-2.2h0m-13 2.3h0m-27.5 2.9h0m-4.7 3.5h0m34.2 2.6h0m11.1-5h0m12 3.6h0m15.3-.2h0m3.2-.5h0m5.1 .7h0m3.6 .7h0m10.9 .3h0m9.4-1.4h0m.9-3.1h0m36.8 .7h0m-28.3 4.4h0m-13.1 3.5h0m-5.4-1.9h0m-13.4 4h0m-8.5-4h0m-9.8-.3h0m-6.2 3.3h0m-54.4 .8h0m-3.9 .1h0m-13.2 6.1h0m3.5-.6h0m3.4-4.4h0m5.8 2.5h0m20.3-2.4h0m5.6-.7h0m4.2 1.4h0m1.5 4h0m35.5-1h0m9.2-2.9h0m1.9 1.4h0m10-.8h0m6.4 1.6h0m-4.7 4.9h0m-10.1 .1h0m-.2-2.6h0m-60.2 2.5h0m-22.5 1.2h0m-12.9 4.9h0m13.4-2.7h0m.2 5.8h0m14.2-3.2h0m.8 .6h0m2 .1h0m3 1.8h0m15.6 .6h0m4.3-.1h0m12.7-5.5h0m2.6 4.2h0m3.5-.1h0m6-1.8h0m4.1 1.2h0m16.3-2.8h0m5.7 .9h0m8.3 3.8h0m43 1.7h0m-69.2 .7h0m-13.7-.2h0m-3 3.6h0m-5.1 .2h0m-22.4-1.9h0m-6.9 1.9h0m-4.8-.2h0m-.1-2.3h0m-4.6-1h0m-15.7 3.9h0m-1.1-3.4h0m-2.5 3.2h0m-5.9-5.1h0m-1.2 0h0m7.2 9.5h0m10 .9h0m6.5-3h0m16.9 1.6h0m40.7 .7h0m47.5 1.6h0m-65.1 3.2h0m-16.1-1.2h0m-25.2 .7h0m-1.8-2.2h0m-4.5 .5h0m-4.7 3.9h0m-6.1 1h0m-1.8-4.2h0m0-.6h0m-.5-.4h0m21.1 9.9h0m14.6-4h0m16.3 3.3h0m76.6 3.8h0m-6.8 2.4h0m-21.3-.1h0m-54.1-1.7h0m-3.4 2.5h0m-29.9-.4h0m-2.6-4.3h0m74.1 7.7h0m5.1 .7h0m15.4 2.9h0m12.5-3.3h0m-2 8.8h0m-10.7-2.1h0m-18.6 3h0m-8.1-5.5h0m-8.1 10.3h0m1.2 5.4h0m50.1 3.3h0m-29.5 8.1h0m-6.3 4.9h0m12.3 .7h0"/>
<path stroke="#CC6B3C" stroke-width="2.3" d="M1153.9 322.2h0m-11-.4h0m-21.8 7.5h0m.6-.7h0m15.7-4.5h0m11.9 2.5h0m4-.2h0m3-1.5h0m2.6-.9h0m2.5 2.6h0m9 1.2h0m-7.7 5.3h0m-10.6-2.6h0m-5.9 1.4h0m-1.7 1.9h0m-.3 1.4h0m-9.5-3.3h0m-3.2-.6h0m-4 4.4h0m-3.8-2.2h0m-16-1.1h0m-4.1 1.7h0m-3.9-1.2h0m-9.1-2.1h0m-45.9 10.4h0m13.3-.6h0m26.9-1.2h0m7.1-2.3h0m8.9 1.3h0m1.4 .9h0m5.4 .5h0m3 .8h0m16.3-3.9h0m14.3 .2h0m8 5h0m3.1-4.8h0m6.5 1.8h0m-1.7 6.4h0m-18.3 2.4h0m-5.7-.3h0m-7-4.7h0m-6.9 3.8h0m-9.9-1.3h0m-.8-2.4h0m-9.9 .6h0m-17.5 .2h0m-6.9-1.5h0m-4.5 5.6h0m-10.1-2.9h0m-2.6 1h0m-2.5 1.2h0m-9-.1h0m-15.7 4.2h0m3.9 2.7h0m2.8-5h0m2.1 .5h0m1.6-.2h0m5.5 1.2h0m14.3 .7h0m15.3-2.5h0m2.6 4.7h0m1.4-1.4h0m29.6-.1h0m10.6-1.1h0m1.5-1.2h0m62.1 2.3h0m-53.2 4.1h0m-5.1 .5h0m-9.6-.3h0m-8.1 1.9h0m-.4-3.8h0m-12.2 2.7h0m-4.1-1.4h0m-3.2 .8h0m-28.1-1h0m-9.5 2.1h0m-15.5 2.2h0m-13.9-3.2h0m-.9 7.3h0m8.8-1h0m.8-.9h0m11.1 2.3h0m2.3-2.1h0m4.3-.3h0m4.3 1.5h0m10.2-2.1h0m19 4.9h0m7.1-4.2h0m3.5-.9h0m9.7 3.4h0m4 1.3h0m1.1-1.5h0m.8 1.5h0m3.9-4.8h0m.6 3.3h0m2.8-.9h0m29.7 5.9h0m-34.6-2.8h0m-32.3 3.9h0m-13.1 0h0m-17.6-1.5h0m-6.5-1.4h0m-13.1 0h0m-5.5 .2h0m-3.4 1h0m-9.9 .5h0m-5.1-.4h0m-13.4 7.3h0m.5 1h0m5.5-4.7h0m.6 .4h0m10.8-.5h0m9 2.5h0m2.1 .2h0m4.2-1.4h0m21 2.7h0m4.2 1.7h0m5.5-1.4h0m7.6 1.6h0m1.9-5.9h0m15.4 3.9h0m31.7 .1h0m1.2 .1h0m22.8-.9h0m4.2-.4h0m6.5 2.7h0m-42.7 4.3h0m-7.2 2h0m-15.4-4.1h0m-2.6-1.7h0m-28.1 1.8h0m-2.2 1h0m-16.6 1h0m-4.2-1.9h0m-15-1.2h0m-6.8 1.5h0m-3.5 4.8h0m6.7-.6h0m9.5 1.8h0m3.3 .7h0m3.1 1.2h0m1.1-3h0m13.2 3.8h0m4-.1h0m9-3.2h0m13.5-1.3h0m17.9 3.6h0m.6-1.1h0m41.5 2h0m-7.6 4.2h0m-40.4 0h0m-5.1 2.7h0m-1.4-1.1h0m-7.5-3.6h0m-5.8 4h0m-.9-1.3h0m-9.7 1.6h0m-20.2-2.3h0m-6.5-1.4h0m-5.3 2.1h0m-7.6-.3h0m-12.3 1.3h0m-.9-4.3h0m-.8 1.5h0m-16.1 5.5h0m24.1 .3h0m21 .9h0m26.6 1.2h0m13.7-3.1h0m63.1 9.2h0m-61.7-2.3h0m-1.3-1h0m-9.4 2.7h0m-19.8-1h0m-20.4 1.3h0m-.9 .4h0m-19.1-.8h0m-14.9-1.1h0m-1.4 4.3h0m9.5 5.2h0m3.1-1.4h0m7.2-3.3h0m28.4 4.2h0m1.2-2.6h0m17.3-1.1h0m32.4 9.7h0m-24.7-3.1h0m-6 .6h0m-5.9 1.7h0m-23.9-4.2h0m-11.1 4h0m-4.9 .3h0m-6.1-2.1h0m-5.2-1.5h0m-1.1 8h0m4.9 .7h0m3.6-1.3h0m7.7-1h0m4.3 4.2h0m7.1-1.6h0m5.2 1.6h0m7.3-4.6h0m.8 1.5h0m2 3.3h0m7.1-2.7h0m51.2 .3h0m36.3-1.8h0m-101.3 4.7h0m-6.7 1.6h0m-1.8 1.3h0m-20-3h0m71.6 7.9h0m31.6 3.3h0m-10.9 10.2h0m-21.8 14.5h0m26.8-4.4h0m4.3 1.4h0m-13.1 5.7h0m-15.2-.9h0m18.8 13.9h0m-18.6-1.9h0"/>
<path stroke="#E3DCA0" stroke-width="1.6" d="M1174.7 353.9h0m7.8 4.7h0m-12.1-3.4h0m-7.1 .8h0m-17.9 9.7h0m26.6-5.1h0m1.5 6.8h0m-16.3-.6h0m-8.8 5.6h0m18 1.4h0m4.9 .1h0m-17.7 5.9h0m-11.8 3.1h0m-14-3.5h0m-.8 1.5h0m-4.8 3h0m-4.3 0h0m-4.5 4.2h0m12.1 1.4h0m3.3-5.4h0m6.8 2.9h0m6.6 2.2h0m13.3-3.4h0m-4.2 6.6h0m-6.2-1.9h0m-6.3 2.9h0m-10.8-2.8h0m-7.7 4.4h0m-10.2 4.5h0m3-2.1h0m10-1.4h0m1.7 0h0m16.4 6.7h0m-6.1 3.7h0m-4-2.7h0m-.8-.4h0m-10.4-.6h0m-7.7 3.2h0m-2.9-1.7h0m-.2 3.4h0m-2-.4h0m-17.9-2.1h0m-10.9 7.9h0m17.8-.8h0m9.5-2.7h0m26.9 2.4h0m-15 4.5h0m-5 3.5h0m-11.7-2.3h0m-4-.6h0m-.9-.3h0m-3.6-2.6h0m-2.4 5h0m-.7-2.6h0m-2.4 2.1h0m-11 5.4h0m2-4h0m5.6 .7h0m5.1 .6h0m26.5 .9h0m8.6-2.2h0m-19.5 7.8h0m-5.5 1.1h0m-2.3-.6h0m-4.1-.7h0m-4.1 1h0m-6.4 2.9h0m-14.5-3.9h0m-4.6 2.1h0m-2 .6h0m-3 6.5h0m4-1.9h0m2.8 2.4h0m1.4 0h0m11.1-4.7h0m36.8 3.3h0m-16.7 6h0m-18.8-2.1h0m-5.4-1.4h0m-.2 .1h0m-2.3-.2h0m-2.7 5.5h0m-1.9-.1h0m-12.6-2.8h0m-2 3.9h0m5.2 3.1h0m2.3-3.5h0m21.2 4.2h0m17.9-2.4h0m.7 1h0m6-1.6h0m-1.2 8h0m-30.8 1.6h0m-16.5-2.6h0m-3.8 2.7h0m-1.6 .6h0m-2.8-2.2h0m12.1 5.2h0m31.5 2.3h0m1.3-1.9h0m-4.4 6.4h0m-19.6-.8h0m-12.1-2.6h0m8.2 9.5h0m1.1-2.8h0m12.4 1h0m6 .4h0m4 6.2h0m-2.2 .3h0m-4.2-.8h0m-6.3 2.5h0m-11.9-2h0m10.4 7.6h0m1.4-3.7h0"/>
<path stroke="#E3DCA0" stroke-width="2.3" d="M1179.4 354.6h0m-.4-.5h0m-18.8 7.3h0m15.7 4.4h0m-6.2 3h0m-22.6 1.6h0m1.2 7.4h0m17-1.4h0m6.1-3.5h0m-9.2 9.9h0m-3.5-4.2h0m-5.6 3.5h0m-8.9-4.1h0m-2.1 3h0m-17.4 3h0m4.6 5.6h0m2.5-5.5h0m7.3 5.3h0m-39.5 5.7h0m12.6 1h0m.7 1.8h0m7-1.5h0m23 4.2h0m-10.2 5.6h0m-15.8-2.8h0m-1.9 2.6h0m-15.8-1h0m-4.1 2.4h0m-5.7-5.2h0m25.9 7.5h0m.3 2h0m3.8-1.4h0m3.6 .2h0m4.3 7.6h0m-2.4 .5h0m-3.8-3.5h0m-47.2 2.4h0m-1.9-2.6h0m19.8 5.3h0m7.5 3.9h0m-8.1 6.1h0m-8.8-2.4h0m-21.2 9.3h0m10.4-3h0m37.8 8.6h0m-3.9-4.4h0m-4.2 1.8h0m-14.2 1.6h0m-32.4 3.5h0m7.9-1.2h0m10.8 .3h0m3.1 4.4h0m4.2 1.2h0m4.8-4.7h0m10.9 9.9h0m-24.3-4.9h0m-5.5 3.6h0m11.3 6.1h0m15.1-.6h0m-35 7.7h0m4.2 1.1h0m23.2 3.2h0m-17 4.9h0m-4.3-1.8h0m13.5 9.8h0"/>
<path stroke="#B9D3A0" stroke-width="1.6" d="M1176.5 358.8h0m-16.5 1.1h0m-2.3 .1h0m17.6 11.3h0m-13.4-4.3h0m-27.5 8h0m2.7 1.7h0m32.5 .2h0m-43.7 2.2h0m-13.2 8.3h0m6.1 .2h0m3.9-.9h0m9.8 13.8h0m3.2 3h0m-57.3 4.9h0m1.9-.2h0m2.7 4.9h0m5.5-4.7h0m32.3 .6h0m-13.3 9.1h0m-4.3 .4h0m-14.6-2.3h0m-14-.2h0m26.3 8.6h0m1.9-4.1h0m13.9-.1h0m-11.2 6.2h0m-10.3 2.5h0m-17.4-3h0m-7.2 4.5h0m-9.2 5.2h0m12.3 1.4h0m17.7 .3h0m2.7-3.4h0m7.8 1.6h0m7-.7h0m-12.1 13.1h0m3.5-.9h0m-35.5 7.5h0m-14.8 4.3h0m11.4 .4h0m6.7-2h0m18.4 4.7h0m-12.6 4.9h0m-18 3.3h0m2.9 1.6h0m13.3-1.4h0"/>
<path stroke="#B9D3A0" stroke-width="2.3" d="M1167.5 361.1h0m-17.8 9.5h0m11.3 4.5h0m-32.8 3h0m26.5 9.9h0m-51.7 3.5h0m-1 3.5h0m10 4.5h0m14 2.3h0m8.4-5.8h0m2.7 7.1h0m-18.7-1.1h0m-17.2 1.1h0m-14.2 1.4h0m-1.7-1.6h0m-7.6 13.6h0m17.1 7.1h0m-.4 13.7h0m8.3 4.9h0m-11.2 11.7h0m-15.3-.4h0m-22.8-1.6h0m-1.3 7.9h0m3.8-.9h0m29.9-1h0m-27.5 11.9h0m24.4 1.3h0"/>
<path stroke="#6FB5A8" stroke-width="1.6" d="M1142.8 369.7h0m10.2 6.3h0m-21.7 2.7h0m.2 21.2h0m-58.3 27.3h0m25.8 21.6h0m-28.6 2h0m-11.1 16.8h0m-3 4.4h0m20.6-3.1h0"/>
<path stroke="#6FB5A8" stroke-width="2.3" d="M1128.5 394.5h0m.8 11h0m-23 3.4h0m1.7 32.6h0m-50.3 8.2h0m46.4 .3h0m-24 4.1h0"/>
<path stroke="#CC6B3C" stroke-width="1.6" d="M1155.1 323.9h0m-.4-.8h0m-12.8 .4h0m-2.3-.1h0m-1.1 1.6h0m.1 2.5h0m1.8-.9h0m.9 .2h0m1.3-2.1h0m.4 3.2h0m.4-.4h0m.7 0h0m-18.3 4.9h0m-40.9 1.9h0m-.9 .9h0m-.5-1.4h0m-1 .9h0m-.8-1.1h0m-19.2 8.1h0m19.8-3.1h0m1.3-1.6h0m.9 1.5h0m3.7-1.9h0m-9.2 10.9h0m-2.3 .4h0m-.6 5.6h0m4.9-2h0m.8-.2h0m23-2h0m33.1 2.7h0m2.7-1.9h0m.6 3.5h0m26.8-.4h0m4 2.6h0m-1.8 2.5h0m-1 1.3h0m-2.4-4.8h0m-1 3.3h0m-25.7-1.8h0m-2.2-1.4h0m-2.3 3h0m-1.2-3.3h0m-48.5 4.5h0m-2.8 .8h0m-2.6-5h0m-3.3 1.1h0m-.9-.6h0m-43.6-.1h0m-17.1 9.7h0m46-2.6h0m4.9 0h0m.6 1.3h0m.1-3.5h0m.4 .5h0m1 2h0m12.4-1.3h0m2.1 2.2h0m.6 .6h0m1.2-.5h0m.4 2.2h0m1.1-4.2h0m1.3 1.6h0m.9 1.5h0m.1-.3h0m.2-1.4h0m2.3-.5h0m1.3-2.5h0m.2 4.2h0m1.1 .2h0m.1 1.4h0m1.6-1.3h0m79.5-.1h0m.9-3.6h0m.5 4.2h0m2-2.1h0m2.9 2.3h0m.6-2.1h0m.2 1.2h0m.6-.5h0m1.1-.1h0m.2 2.2h0m-.3 .3h0m-2.8-.1h0m-1.5 3.4h0m-1.6-1.1h0m-.8-.7h0m-.5-1.2h0m-64.7 .2h0m-17.9 .8h0m-4.9-1.4h0m-12.1 3.3h0m-.5 .2h0m-.3 .6h0m-.5 .4h0m-.2-3.1h0m-.8-.5h0m0 2h0m-.1-1.6h0m-.1-.1h0m-.2 .5h0m-.5 .6h0m-.3-.2h0m-56.1-1.3h0m-2.5 .1h0m0 1.4h0m-1.9 .1h0m-.1-.2h0m-.3-.1h0m-.1-.2h0m-.8-1.5h0m-.3 2.8h0m-1.5-.6h0m-1 2.6h0m0-.2h0m-.7-.2h0m-.6-.9h0m-.3-.9h0m-1.9 .1h0m-.3 1.5h0m4.1 3.4h0m1.2-1h0m.2-.4h0m1.1-.2h0m9 2.3h0m-38.3 8.9h0m-2.6 3.5h0m.8-.1h0m.5-1.7h0m.2-1.2h0m.2 2.6h0m1.7 0h0m58.3 3h0m1.2-.2h0m.8-3h0m1.9 .1h0m17.5 .8h0m33.7-3.5h0m51.6 3h0m.9 1.2h0m.8-.7h0m.1-.2h0m.7-1.8h0m4.6 1.4h0m-3.4 3.8h0m-.1 3.9h0m-2.1-2.3h0m-16.3 1.3h0m-.6-.5h0m-.2 2.2h0m-.4 0h0m0-.1h0m-.1-.5h0m-2.1-2.4h0m-9.6-1.8h0m-20.7 3.9h0m-1.1-1.5h0m-3.1 .2h0m-.5 2.6h0m-.7-1.6h0m-47.9-3.1h0m-1.7 1.7h0m0-2.7h0m-.3 .6h0m0 2.3h0m-29.2 .4h0m-3.8 .4h0m-2.8 1.6h0m-2.9-.8h0m-.7-.1h0m1.2 3.7h0m1.8-.6h0m.1 3.1h0m.9-.2h0m1.3-3.1h0m.9 .7h0m3 .1h0m.4 1.8h0m20.4 1.1h0m39.2-1.1h0m19.7-2.3h0m.1-.8h0m2 1h0m.6 .9h0m.3-.9h0m1.9 0h0m.4-.1h0m30.4-1.3h0m.5-.1h0m17.9 .1h0m.3 2.1h0m.4 .5h0m-8.7 5.5h0m-.5-1h0m-.9 1.7h0m-.5-1.4h0m-.6-1h0m-.3 3.2h0m-.2-4h0m-.6 4.6h0m-.6-3.3h0m-16.9 2.6h0m0 1.1h0m-1.6-5.1h0m-.4 4.7h0m-63.6 .2h0m-2.8 .1h0m-3.2 .1h0m-4.2-4.8h0m-8.7 0h0m-16.3 .2h0m-13.6 3.5h0m-37.5-2.2h0m29.3 8.2h0m1.2 0h0m8.1-3h0m51.5 .9h0m1-.7h0m.5 1.7h0m16 1.1h0m.7 1.5h0m28.6-.1h0m2.2-.8h0m1.7 .6h0m.1-2.4h0m1.1 3h0m6.5-4.4h0m.6 .5h0m.4-.2h0m.8 .5h0m-12.1 5.6h0m-.2-1.6h0m-.5 0h0m-.2 1.1h0m-13.9 1.7h0m-13.6-.4h0m-1.8 1.4h0m-.5-2.7h0m-1.3 2.5h0m-1.9-2.5h0m-39.3 2.7h0m-21.6 1.2h0m-1.4-3.2h0m-17.8 2.7h0m-3.1-.4h0m.6 3.6h0m3.2 .3h0m11.5 1.7h0m25.7-.7h0m6-2.6h0m4.2 3.4h0m74.7 1.9h0m.4-1.4h0m.9-1.6h0m.3 1.4h0m.2-3.2h0m1.1 3.1h0m.5-3.5h0m1 .1h0m2.4 3.8h0m-1 1.6h0m-4.4 1.6h0m-14.2 3.5h0m-1.2-.5h0m0-3.2h0m-1.2 2.6h0m-1.1-.4h0m-37.1 1.2h0m-.1-.7h0m0-1h0m-.9 2h0m-.6-.5h0m-1.9-1.3h0m-1.1-.7h0m-1.6 1.7h0m-17-3h0m-3.8 1.4h0m-40.2 1.4h0m-1.2 .1h0m62.2 2.3h0m3-.4h0m.9 .2h0m2.8-.1h0m2 5.4h0m2.9 0h0m26.2-3.8h0m1.7-.3h0m1.5 3.7h0m.6-4.2h0m.3 .2h0m.9 1.3h0m.9 .1h0m0 2.7h0m.3-5.5h0m.4 .5h0m1 .3h0m-33.7 8h0m-2.2 .4h0m-4.1 1.5h0m-10.8 7.1h0m12.6-4.1h0m-9.8 6.7h0m-.5 2h0m-.8-.9h0m0-2.3h0m-1.8-.3h0m-.7 1.3h0m-.4 1.8h0"/>
<path stroke="#CC6B3C" stroke-width="2.3" d="M1157.5 322.3h0m-1.3 1.3h0m-8.9-3.5h0m-24.6 9h0m16.3-2.1h0m.2 1h0m.6-.4h0m1.5-1.5h0m.4 3.7h0m.6-.4h0m.8-.3h0m1.3-1.1h0m9.5 3.7h0m-3 2.9h0m-63.9-1.3h0m-.6 .7h0m-.1-1.1h0m-1.5 .6h0m-3 3.7h0m.9 1.1h0m.5 .3h0m2-2.4h0m1.6-.1h0m62.1 9.6h0m-3.7 1h0m-6.4 1.1h0m-73.8-1.3h0m-34.5 1.9h0m5 .7h0m16.7 3.1h0m23.7-2.8h0m1.3-.5h0m.6 2.2h0m1.8 1.7h0m.4-3h0m2 2.9h0m6.7-2.9h0m45.7 2.1h0m.6-.5h0m.2 1.5h0m1.1-1.1h0m.7-2.8h0m2.9 2.3h0m2.5 2h0m24.8-.1h0m3.9 3.5h0m-2.8-.5h0m-.6-.9h0m-1 .7h0m-1.7-.6h0m-21.1 .3h0m-6.9 1.8h0m-.1-.2h0m-.2-.5h0m-2.3-2h0m-7.1 2.9h0m-47.3-3.4h0m-1.7 1.9h0m-12.6 1.2h0m-.6 1.5h0m-1.9-.8h0m-.1 1.8h0m-1-.1h0m-23.1-4.4h0m-7.6-.7h0m-.1 1.7h0m-1.6-.7h0m-13.3 2.3h0m-4 7.1h0m1.7-.4h0m.4-.5h0m1 .6h0m48.7-3.4h0m.1 1.2h0m1.2 1.6h0m.8-1.8h0m.2 1.2h0m2-2.8h0m.6 1.2h0m12.5-1.3h0m.1 4h0m.1-3.2h0m1.2 3.3h0m4.9-1.2h0m1 1.4h0m3.6 .1h0m.5-4.1h0m1.3 2.8h0m.9 .5h0m.1-2.1h0m15.3 2.1h0m4.3 1.4h0m5.4-4.6h0m52.4 2.3h0m.4 .9h0m.2 .8h0m.7-4.4h0m4.3 1.9h0m.4 3.3h0m.9-.3h0m3.8-2.8h0m1.1 1.5h0m-4.2 3.2h0m-.9 .7h0m-.4-1.5h0m-.2 .1h0m-.2 .7h0m-.4 .3h0m-1.1-.8h0m-68.7 2.7h0m-16.4-2.2h0m-9.8-1.4h0m-4.3 1.9h0m0 1.1h0m-1.2-2.2h0m-.5 0h0m-1.2-.4h0m-.9 1h0m-57.1-.8h0m-.5 .5h0m-.3-1.2h0m-.7 4h0m-2.9-3.9h0m-1.7 3.5h0m-.3 1.2h0m-.4-2.5h0m-1.8 4h0m2.6 .7h0m20.1 4h0m121.2 6.9h0m-78.7-2h0m-.3-.5h0m-26.6-.2h0m-2 .5h0m-42-3.2h0m-10.5 2.4h0m-12.9 3.3h0m.1 3.8h0m.2-1.3h0m.2-.3h0m.5 1.5h0m.9-3.2h0m.2-.6h0m.7 3.9h0m.3-3.4h0m.1 2.9h0m.4-.7h0m48.2-1.2h0m11.8 2.6h0m.7-.7h0m2.2 1.6h0m0-2h0m58.4-3h0m45.4 4.5h0m.2-4.2h0m1 .9h0m1.4 4.3h0m.3-2h0m.6-1.4h0m0 2.4h0m1.4-.1h0m-6.8 3.5h0m-.1 2.5h0m-1.2-2h0m-1.7 2.8h0m-11.7-.7h0m-1.2-1.5h0m-.3-.8h0m-1.7-.3h0m-14.6 1.4h0m-16.7 .6h0m-4.6-.4h0m-47.4-1.2h0m-.1-1.4h0m-3.2-.9h0m-.7 2.8h0m-1.5-1.9h0m-22.9 3.6h0m-1.8 .6h0m-1.4-1.8h0m-.5 .2h0m-1.4-1.6h0m-.3 1h0m-3.4 2.6h0m-1.7-1.8h0m-2-1.1h0m-1.1 2.1h0m-8.2-2.3h0m10.2 5.7h0m.4 1.6h0m2.6-2.6h0m1.5-.6h0m.4 2.5h0m1-3h0m.3 1.6h0m.8-.6h0m.6-.8h0m2.5-.1h0m21.9 4.4h0m1.6-4.3h0m8.8 4h0m.5 .5h0m30-4.1h0m15.2 2h0m3.4-1.1h0m51.8 .6h0m1.5-.8h0m-11.3 6.2h0m-.6 1.9h0m-2.2-.7h0m-79.5 2.4h0m-6.6-1.9h0m-1.8-1.6h0m-.1 3.9h0m-.6-2.4h0m-.8 2.6h0m-.6-3.8h0m0 2.3h0m0-2.3h0m-.6 0h0m-1 1.1h0m-35-.8h0m-5.8 2.9h0m-20.5-5.2h0m-8.7 5.8h0m-6.5-2.4h0m37.9 7.3h0m7.2-4.6h0m1.7 2.9h0m87.8 .9h0m1.7-.7h0m.7 .7h0m.5-1.4h0m.5 .8h0m.7 2.5h0m8.1-4.6h0m1.3 2.2h0m3.6-3.2h0m.5 .5h0m-16 6.5h0m-28.3 .7h0m-2.4-1.5h0m-3.9 .4h0m-28.2 4.7h0m-8.6-2.7h0m-.2 1.3h0m-22.3-.4h0m-.6-2.6h0m-.3 1.9h0m-2.4-1.9h0m-15.1 4.5h0m-2.8-1.7h0m-.1 .6h0m-.5-1.5h0m-1.8 2.4h0m0-.3h0m-.1-1.7h0m1.4 5h0m.1 .4h0m.3-1.9h0m1.2 .6h0m1.7-.3h0m.3 1.4h0m15-2.6h0m20.6 2.5h0m3-1.4h0m.3 1.5h0m3.5-1.2h0m2.5 .2h0m.4 1.9h0m1.5 1.2h0m79-.9h0m.4 3.5h0m-3.2 1h0m-13.5 2h0m-2 1.4h0m-.6-3.1h0m-.8-.3h0m-43 1.6h0m-20.9-2.2h0m-1 .7h0m-1.3-1.4h0m-26.4-1h0m7.3 8h0m43.6 1.1h0m34.9 2.2h0m4.5-2h0m.7 .3h0m-3 2.9h0m-29 4h0m-1-1.8h0m-.3 2.3h0m-1.8-2.8h0m-4.8-1.6h0m2.6 5.7h0m.5 .5h0m4 .8h0m6.9 9h0m-22.2-2.3h0m-.4-2.3h0m-.5 4.9h0m-.7 .2h0"/>
<path stroke="#A22E2E" stroke-width="1.6" d="M1157.2 317.7h0m.7 1.7h0m-.3 4.2h0m-.8-1.6h0m-31.9 3.6h0m2.9 3h0m1-1.6h0m.9-1h0m.5-1.7h0m-5.9 7h0m24.5 16h0m-.3-1.6h0m-.5-3.7h0m-.9 3.4h0m-2.5-1.9h0m-.7 .8h0m-.6 1.3h0m-.9-.4h0m-2.2 1.5h0m-75.5-2.3h0m-34.5 8.7h0m5.4-.9h0m.1-3.6h0m1.7 3.8h0m1.1 1.3h0m66.8-3.3h0m41.4-1.8h0m25.7 10.8h0m-2.9-.4h0m-.2-2.5h0m-2.4 2.2h0m-74.4 1.1h0m-26.6-3.9h0m-30.8 .2h0m-1.8-.7h0m0-1.1h0m-.5 1h0m-2.1-.7h0m-6.7 6.4h0m4.1 1.9h0m82.4 3h0m55.9-4.4h0m5.5 3.1h0m2.9-3h0m.1-.2h0m-81.6 6.6h0m-73.8 7.8h0m1.8 .9h0m53.6 6.7h0m-1.3-1h0m-51.2-2.3h0m-2.2-.6h0m48.8 4.7h0m1.7 .1h0m.3 3.5h0m3.9-3.5h0m9.6 10.7h0m-90.2 .8h0m-3.2-4.6h0m-1.7 5.4h0m1.3 2h0m1.4 2h0m122 6.5h0m-.2 .7h0m-.3-5.8h0m-.6 4.6h0m-.8-.7h0m-54.1 1.3h0m-13.2-3.6h0m-25.2 .6h0m-1.2-1.7h0m-.1 1.8h0m-.2 1.1h0m-.5 .9h0m-.6 .1h0m-.1-.1h0m-.3-.9h0m-.1-2.1h0m-.2-1.3h0m-.3 4.6h0m-2.3-3.3h0m-.8 2.9h0m-2.8-.8h0m2.7 6h0m42.7-.5h0m.1-1.1h0m1 3.3h0m.2-1.1h0m1.6 .7h0m1.1-2.3h0m1.6 1.4h0m.2-2.4h0m32.9-.6h0m.1 3.4h0m1.4-2.5h0m0 1.6h0m1.1-1.2h0m.5-.2h0m.2-.9h0m0 .2h0m.3-.4h0m14.1-.6h0m3.2 .4h0m-26.1 10.3h0m-3.6-.3h0m-74.9-.7h0m-1.6 .4h0m-4.3 4.5h0m1.6-2.5h0m1.5 1h0m.3 4.4h0m.2-.7h0m.6-1h0m77.6-.7h0m1-1.8h0m.1-.1h0m0-1.3h0m2.2 .9h0m.3 .8h0m1.3 1.2h0m-53.2 4h0m-25 3.7h0m-4-3.1h0m-.2 2.1h0m-2.1-3.3h0m-15.5 3.7h0m-2.7 1.1h0m-.1-1.2h0m-.2-.6h0m0 .2h0m-1.9-2.3h0m-.8-.3h0m25.3 8.1h0m.8-.9h0m2.3-1.2h0m40.5 1.4h0m.5-.8h0m.2 .9h0m0-1.9h0m.1 1.6h0m1.2 .9h0m2-.6h0m.9-1.6h0m14 21.8h0m-1.8-4.1h0m-1.7 1.9h0m-.3-1.8h0m4.5 22.6h0m3.4-1.8h0m1.8 2.8h0m-2.4 .1h0m-4.3 1.9h0"/>
<path stroke="#A22E2E" stroke-width="2.3" d="M1155.8 317.9h0m.7-.3h0m1.9 4.3h0m-.4 1.1h0m-.1-4.9h0m-.3 1.8h0m-.2 1.5h0m-.3-1.5h0m-.7 .1h0m-1 3.1h0m-1.6-3.6h0m-3 4h0m-23.9-1.3h0m-.6-1.1h0m-.4 .7h0m-4.9 0h0m3.7 7.1h0m1.8 1.7h0m18 10.2h0m.5-.9h0m.5 3.8h0m-.6 .8h0m-74-.5h0m-3.6-1.4h0m-6.9-.6h0m-30.8 11.3h0m.2-3.7h0m1.3-.3h0m.6 3.5h0m1.2-1.1h0m.2-1.6h0m.4 3.2h0m.5-1.8h0m113.9-3h0m22.9 8.3h0m-2.9 1.5h0m-37-3.7h0m-54.5-.6h0m-8.1 5.9h0m-29.6-2h0m-3.1-.7h0m-.2-2h0m-.8-1.2h0m-.5 .6h0m-.4 .8h0m-.2 4h0m-.4-2.2h0m-.3-2.7h0m-.6 2.3h0m-1.3-1.2h0m-.5 7.9h0m135.4-1h0m.6-2.4h0m1.8 5.1h0m1.4-2.2h0m1.9 .5h0m-1.9 2.5h0m-63.3 .8h0m-86.8 8.6h0m1.2 2h0m0-.2h0m.3-.3h0m.2-1.3h0m.1 2.1h0m.8-.1h0m2-3h0m.5 2.9h0m49.5 4.4h0m-4.4 0h0m-38.6 2h0m-6.1-5h0m-3.4-.6h0m-1 2.3h0m-.8-1.1h0m50.6 6.1h0m.4 .2h0m1 1.3h0m1.5-.4h0m.3-1.6h0m-74 10.2h0m-5.2-3.4h0m-3 2.6h0m-2.4-.1h0m6.4 6.8h0m2.2-3.1h0m1.2-1.7h0m.3 2.5h0m16.6 2.9h0m.1-.1h0m97.5-2h0m5.2 7h0m-4.4 .7h0m-2.3-3h0m-14.6 2.4h0m-1 .9h0m-75.1-3.3h0m-.1-1.1h0m0 .4h0m-1.4 1.5h0m-2.2-3.2h0m0 1.3h0m-2.1 1.8h0m-4.8-1.1h0m0 7h0m2.8 1.9h0m1.1-4h0m4.2-.3h0m.1 .2h0m21.5 4.1h0m17.6-3.2h0m2.1-.7h0m1.3 1.2h0m.8-1h0m31.9-.4h0m.4 2.5h0m.3-2.6h0m1.7 2.7h0m.4 1.5h0m-37.7 1.2h0m-47.6 3.7h0m-1.4-2.3h0m-1.8-1.2h0m-1 .1h0m-.2 3.7h0m-.4 .1h0m-.5-1h0m-.2-.4h0m-1.5 1.7h0m-.9 1.4h0m-.6 2.9h0m5.1 1.1h0m1.9 1.5h0m77-.7h0m2.8-2.7h0m-31.5 8.5h0m-45.7 1h0m-1.2-2.3h0m-.7 .9h0m-2.5-.6h0m-.6-3.4h0m-.7 .5h0m-12.9 1.3h0m-6.3-.9h0m-.7 3.8h0m2.1 1.2h0m18.8 1h0m1 1.6h0m0-1.4h0m1.4 .7h0m1.3-1.9h0m43.7 1.5h0m.6 .8h0m.3 .6h0m.5-.8h0m.7 1.4h0m1.8-3.4h0m14.6 18.5h0m-.1 1.6h0m-1.6-2h0m-.4 .6h0m-.9 3.5h0m1.3 18.3h0m.1 .9h0m5.5 .9h0m-2.7 7h0m.4-.7h0m1.6 1.1h0"/>
<path stroke="#CDA765" stroke-width="1.6" d="M1154.5 318.2h0m-49.1 10.8h0m.6-.6h0m1.2-1h0m.2 1.5h0m10.2-.7h0m.9-2.6h0m1.6 .2h0m.2-.6h0m.4 1.7h0m.8 1.8h0m.1 .3h0m.4-2h0m.3 1.5h0m.7 .8h0m25.2-2.4h0m.8 .2h0m0 2.5h0m.5-2.1h0m1.5 .5h0m1.1-1.1h0m2.2-1.6h0m1 3.8h0m.9 1.7h0m-7 1h0m-2.6 3.2h0m-22.8-2.5h0m-.6-2.5h0m-3.9 .1h0m-.3 5.7h0m-.8 0h0m-8.1-1.9h0m-2.4-1.4h0m-.5 1.5h0m-5.5-.4h0m-53.2 6.2h0m.2-.6h0m.3 1h0m1.2 1.1h0m1.3 .4h0m1.3-3.5h0m.2 1.8h0m.2-1.4h0m15.3 .5h0m2.5 2.6h0m4.7-1.7h0m40.7-2.7h0m.6 1.6h0m0-.7h0m.7-.4h0m1.4-.8h0m.3 .8h0m.7 1h0m2.1-1.6h0m.8-.6h0m13.4 3.4h0m4.1 1.7h0m2.1 .1h0m-.2 2.8h0m-4.7 2.3h0m-1.9-3.4h0m-.1 4h0m-.3-1.5h0m-.4-.4h0m-3.9 1.2h0m-2.2-2.3h0m-.1 1.8h0m-54-3.5h0m-1.8 2.3h0m-10.3-.2h0m-6.4 3h0m-.6-3.5h0m-.6 2.6h0m-.1 .8h0m-.3-1.5h0m-.8-2.5h0m-.5 2h0m-.8-3.7h0m0 3.2h0m-2.9-2.4h0m-19.9 9.8h0m.2-.6h0m.1 .3h0m1.1 .7h0m1-.4h0m1.5-.2h0m1.4 1h0m18.4-4.9h0m2.2-.3h0m.1 .2h0m.5 .1h0m12.7-.2h0m12.9 4.1h0m18.8-4.3h0m5.3 2h0m18.8 1.5h0m.7 1.4h0m.5-4.9h0m1.1 0h0m.1 3.8h0m.5-2.5h0m.5 2.9h0m1.9-2.5h0m.8 .2h0m2.2-.3h0m2.6-.7h0m41.1 4.7h0m10.6 4.5h0m-1.8-1.9h0m-.6 1.3h0m-.7 .6h0m-2.4-.3h0m-1.2 .6h0m-.8 .3h0m-.2-2.8h0m-2.1 0h0m-1.7 .7h0m-137 1.5h0m-2.8-.2h0m-.1 .2h0m-1-1.3h0m-1.6 1.9h0m-.9-3.9h0m-.4 2.9h0m-.8-2.1h0m0 3.8h0m-.2-4.8h0m-1.7 3.3h0m-.5-.6h0m-.3-1.8h0m-1.1-1.1h0m-.1 .1h0m-1.3 .1h0m-9.3 8.3h0m1.9-2.6h0m.9 .2h0m8.7 .1h0m5.3 .8h0m.2-.3h0m54.4 2.6h0m2.9 .7h0m0 1.1h0m1.3-2.8h0m.1 1.4h0m.9-.4h0m.7-1.1h0m.1-1h0m.3 1.9h0m.8-1.9h0m1.3 2.5h0m1.6-.7h0m4 1.2h0m0-1.5h0m.7-.1h0m1.4 1h0m.1-2.7h0m.1 1.2h0m.2 2.6h0m.7-1.4h0m1.9 .8h0m.7-.4h0m5.6 .6h0m1.9-.1h0m3.3-.1h0m45.3-.6h0m1.8 .6h0m11.8-4.6h0m3.2 .2h0m3.1 1.1h0m0-1.4h0m-8 11.7h0m-2.9-.6h0m-1.1-.7h0m-.5-1.1h0m-3.7-3.2h0m-.4 1.1h0m-.2 1.6h0m-2.1-.6h0m-.5 1.1h0m-.5 .8h0m-.6-1.1h0m-.6-2.5h0m-42.6 3h0m-1.9-.4h0m-1.3-2.9h0m-.4 .5h0m-1.2 4.3h0m-1.2-4.7h0m-.2 .6h0m-.5 1.7h0m-6.5-2.5h0m-9.2 1.3h0m-.6-1.4h0m-.9 4.8h0m-.5-1.2h0m-.5-.3h0m-2.2-1.3h0m-2.3 3.2h0m-1.8-1.1h0m-1-2.5h0m-1.1-.6h0m-2.2 4.5h0m-56.2-4h0m-45.2 10h0m12.6 .3h0m3-.6h0m23.3-3.7h0m0 1.2h0m0 1.7h0m1-.2h0m1-1.1h0m.1 2.6h0m.1-3.6h0m2.1 2.6h0m56.7-3.1h0m.1 3h0m.3 .6h0m.3-.9h0m.4-1.6h0m.4-2.1h0m.2 2.3h0m.2 .1h0m.5 .6h0m.2 1.5h0m.3-2.5h0m.8 .5h0m.5 .8h0m.7-.5h0m1.5 2.1h0m20.6-3h0m1.3-1.3h0m.4-.6h0m1.5-.4h0m.5 1.2h0m.4 2.6h0m.6-1.1h0m.4-2.9h0m.4 3.1h0m0-2.8h0m.1 3.4h0m.4-2.2h0m.5-.3h0m.9-1.2h0m33.8 5.4h0m1.4 .5h0m.4-3.1h0m1.9 2.2h0m1.2-.1h0m10.2-3.2h0m.6-1.7h0m2.5 1.4h0m.4 .6h0m.8-1.3h0m.9 4h0m1.7 1.1h0m-15.9 1.2h0m0-.6h0m-1.3 1.7h0m-1.4 1.5h0m-.3 2h0m-.1 .3h0m-.1-3.2h0m0-1.6h0m-1.6 2.9h0m-1.4-2.2h0m-55.4 4h0m-2.2 .1h0m-3-4h0m-.3-1.5h0m-.4 2.4h0m-.7-1h0m-4.8 .2h0m-.2 .6h0m-.5-2.6h0m-14.5 4.4h0m-.5 1.5h0m-3.8-1.8h0m-6.4-.2h0m-1.3 1.9h0m-11.2-4.4h0m-12.2 3h0m-3.5-2.4h0m-.7 1.3h0m-.8-1.6h0m-2.8-.4h0m-.2 2.1h0m-1.2 1.3h0m-23.9-3.8h0m-2.3 4.4h0m-.3-4.4h0m-2.4 2h0m-.5 0h0m-.9 1.1h0m-.4-.7h0m-5.7-1.9h0m6 4.6h0m2.6 .4h0m.8 .3h0m30.2 .7h0m.1-.7h0m.2 4.8h0m.3 .1h0m2.9-1.9h0m1.3-.4h0m13 2.3h0m4-.5h0m.7-.3h0m2.7-4.2h0m1.3 1.4h0m1.2-1.6h0m.4 1.4h0m.3-1.4h0m.8 .6h0m.3 1.1h0m1.6 .9h0m0 2.8h0m1-.6h0m.8-2.1h0m.2 .8h0m1 .8h0m1.1-3.6h0m.3 2.1h0m.1-.4h0m.3 2.9h0m.3-.7h0m.1-2.2h0m1 2.9h0m2.1-4.8h0m1.5 1.9h0m1.2 1.6h0m.2-.5h0m2.5 1.5h0m2.4-3.5h0m15 3.9h0m1.1-3.8h0m1.1 3.1h0m.2-.4h0m2.2-1.4h0m2.4-.3h0m.5-.7h0m.5 3h0m1.2-2.3h0m7.9 .5h0m2.9 .5h0m1.1 1.1h0m5.3-.6h0m8.3 0h0m3.7-4.2h0m1.4 4.2h0m.3-1.2h0m1.6-.9h0m0-.5h0m.3-.8h0m.5 2.1h0m4.3 1.7h0m4.1-1h0m3.9-1.1h0m.7 1.2h0m.1 1.7h0m.7-1.7h0m.3-1.2h0m1.7-.2h0m1.1 2.6h0m.7-3h0m2.6 7.4h0m-.9-2.3h0m-2.7-.9h0m-2.2 1.5h0m-1-.4h0m-.4 1h0m-1.2-1h0m-1.5-.9h0m-6.8 0h0m-.3-.1h0m-.7 5h0m-1.8-1.4h0m-2.4-3.6h0m-2 3.2h0m-3.6-1.8h0m-5.5 3.1h0m0 .8h0m-15.7-3.8h0m-6.5 .7h0m-2.1-.1h0m-3.3 1.7h0m-23.5-4h0m-5-.2h0m-.6-.1h0m-2.6 0h0m-1.7 .4h0m-6 3.2h0m-1.6-.7h0m-3.6 2.2h0m-1.1-3.1h0m-1.3 1.4h0m-15.9-2.4h0m-.8 .8h0m-.7 2.4h0m-.5-1h0m-2.3 1.7h0m-1.8 .2h0m-.8-3.3h0m0 1.3h0m-1.3-2.1h0m-10.9 3.6h0m-.1-2.6h0m-.1 .3h0m-.7 3.6h0m0 0h0m-1.3-2.9h0m-1.1 .9h0m-.2-3.1h0m-.1 1.9h0m-.3 2.3h0m-.1-1.6h0m-1.7-1.6h0m-.7 3.3h0m-6.5-.8h0m-30.9 5.7h0m.1 0h0m.1-.5h0m.2 .2h0m.1 .4h0m1.4 0h0m3-1.1h0m4 .7h0m4.4 1.6h0m.2-.4h0m1.3-.7h0m.1-1.3h0m1.2 2h0m2.6-2h0m9.8 .3h0m11.6 1.6h0m.4 .1h0m.2-3.8h0m.6 2.6h0m.6 .7h0m.2-.2h0m.2 .9h0m1.5-.8h0m1.1-1.2h0m25.2-1h0m11.6-.5h0m.4 2.1h0m18.7 1.9h0m4.8-3.8h0m21.9 1.3h0m3.4 .3h0m2-1.1h0m13.7 2.9h0m4.3-1.1h0m3.8 1.1h0m.4-4.8h0m.9 .4h0m2.8 3.3h0m.3-.1h0m2 1.2h0m1.2-.2h0m4.2-2.2h0m1-.3h0m1.4 .7h0m.8 .3h0m1.2-1.4h0m3.9 6h0m-1.4-.2h0m-10.3-1.3h0m-2.1 1.2h0m0-1.8h0m-.3 2.6h0m-2.2 .1h0m-8.5 .6h0m-1-.5h0m-1.7 .2h0m-1.9-2.9h0m-7.4 4.9h0m-.1 .4h0m-1.4-.9h0m-1.1 .1h0m-30.3-.9h0m-.3-2.1h0m-.8 4.2h0m-1.4-3.8h0m-1.9-1.4h0m-2.1 5.1h0m-2.3-3.8h0m-18.2 .1h0m-31.9-1.3h0m-2.1 2.3h0m-2.6-2.8h0m-22.4 5.5h0m-.6-5h0m-1.3 1.2h0m-.4-.8h0m-1.3 3.8h0m-.1 .6h0m-1.1-1.7h0m-.4-.6h0m-.6 .4h0m-.8 1.5h0m-1.1-2.6h0m-1.7 .6h0m-.5 1.2h0m-2 1.3h0m-4.4-5.2h0m-.5-.4h0m-2.4 6.8h0m14 4.5h0m.4-.6h0m.8 .5h0m.1-1.4h0m1.2 2h0m.3-5.4h0m2.3 .2h0m0 3.5h0m.2-.1h0m.9-.9h0m12.1 1.6h0m1.2-4.3h0m5.4 3.8h0m8.3-1h0m15.6-.1h0m1.1 1.2h0m.1 0h0m.4-.7h0m.5 1h0m.8-2.8h0m.5 2.3h0m.3 1.1h0m.1 .3h0m.3-.5h0m.4 .8h0m.6-4.4h0m.6 .6h0m.7 1.9h0m20.8 .4h0m11.8-4.2h0m.2 .5h0m4.6 4.2h0m28.3-2.1h0m.5 1.7h0m.5-1.6h0m2 .5h0m.8-2.5h0m-2.8 6.7h0m-30.4 0h0m-37.6-.9h0m-.6 .4h0m-.2-.9h0m-.8 2.8h0m-17 2.6h0m-4.5-2.5h0m-.1-.4h0m0 2.6h0m-1.7 .6h0m-1-.3h0m-1.9-1.6h0m-.3 .1h0m-1.2 1.3h0m-23.9-4h0m-.8 0h0m0 .6h0m-.5-.9h0m12.2 10.7h0m2.5-.2h0m0 .4h0m9.6-4.3h0m.5 .3h0m.3-.9h0m1.6-.3h0m.1-.4h0m.2 2h0m.4-1.3h0m0 .1h0m.5-.2h0m.7-.3h0m.1 .8h0m.5-1.4h0m.3 0h0m.7 2h0m.5 3.6h0m1.1-1.2h0m.5 .6h0m.7-2.8h0m1 .2h0m.1 2.2h0m.6-3.7h0m.5 1h0m1.5 .9h0m.2 3.1h0m.1-1h0m3.8 .6h0m1.6-1.4h0m.9 0h0m.2 .9h0m.9-.1h0m0-1.6h0m.1 .5h0m1.4 1.7h0m.2-1h0m14.3-2.2h0m48.1 1.6h0m1.6 1.5h0m24.3 5.6h0m-2.6-3.7h0m-.7-.8h0m-85.5 2h0m-.2-1.3h0m-5.2-.9h0m-6.9 .4h0m-.5-.5h0m-.2 .8h0m-1-.5h0m-.2-.3h0m-14.8 3.6h0m-1.4-2.1h0m-.4-.3h0m-.1 3.1h0m-2-4.4h0m-.3 4.9h0m-1-4.7h0m64.6 9.6h0m3.3-1h0m.2 .8h0m2.1-3h0m.5 1.4h0m1 .8h0m.5-2.3h0m.4 5h0m.3-1.1h0m1.4-1.4h0m48.2-2.5h0m-40.7 7.8h0m-4.8-.6h0m-8.5-1.6h0m-.5 .1h0m14.1 16.1h0m-4.1-3.1h0m-20.9-.9h0m24.4 22.1h0m23-.6h0m-22.1 5.1h0m-6.6 7.6h0m.7 .5h0m.4-.6h0m.2-.1h0m1.1-4h0m3.9 2.2h0m5.4-1.8h0m-7.7 5.3h0"/>
<path stroke="#CDA765" stroke-width="2.3" d="M1150.3 321h0m-31.8 6.8h0m.2-2.4h0m1.2 4.1h0m.3-4.2h0m1 3.4h0m1.1-1.8h0m.6 2.9h0m7.4-5.6h0m21.5 4.3h0m.5 .9h0m2.6-2.4h0m1.2 3.1h0m-.9 1.4h0m-1.9 .2h0m-.5 1.3h0m-3.9-.6h0m-27.2 3h0m-1.7-.3h0m0-.6h0m-10.5-2.5h0m-.8 2.8h0m-.6 .7h0m-1.1-2.5h0m0-2.9h0m-1.5 5.5h0m-.9-.7h0m-1.8 .3h0m-.2-2.7h0m-1.1-2h0m-54 9.7h0m.2-.3h0m1.3 1.4h0m.6-.4h0m1 .2h0m1.9-2.5h0m.3 .1h0m18.1 1.3h0m2-2.3h0m2.3 1.2h0m.1-.2h0m.4 .3h0m.1 2.6h0m0-.9h0m40.2-4.3h0m4.1 3h0m1.1-1.8h0m.9-.1h0m13 3.3h0m1.2-.9h0m7.1 1.8h0m13.1-4.2h0m-.6 7.4h0m-3.5 1h0m-9.3 .5h0m-.8-2.2h0m-2 3.7h0m-.6-4.8h0m-.2-.9h0m-1.7 1.2h0m-1.4 3.5h0m-2.1-4.8h0m-5 5.7h0m-5-.8h0m-21.3 .8h0m-1 0h0m-16.2-.4h0m-11.7-2.6h0m-.4-.8h0m-1.4-.3h0m-.2-1.3h0m-1.5 1.2h0m-.2 1.2h0m-3.9-1.3h0m-3.3 2.3h0m-8.6-.3h0m-.4-1.4h0m-.8 .4h0m-.1 1.8h0m-.4-1.6h0m-.8 1.2h0m-3.1-3.4h0m-17 9.3h0m1.2-2.9h0m20.7-.4h0m23.5 1.2h0m25.5-1h0m21.8-.5h0m1.7 .3h0m1.5 2.6h0m1-1.4h0m0 1.9h0m.2 .2h0m1.1 1.3h0m54.6 6h0m-.8-2.7h0m-.5 3.5h0m-.9-2.2h0m-.7-.3h0m-.1 .8h0m-1.1 1.2h0m-.3-1h0m-.2-1.2h0m-.7 .3h0m-1.1-1.1h0m-2-2h0m-.5 5.2h0m-1.2-2.2h0m-39.4-3h0m-13.9 2.1h0m-51.6 .7h0m-2.6 2h0m-.4-.2h0m-1 .7h0m-28-5h0m-2.6 3.6h0m-.3-2h0m-.7 2.9h0m-2.3 .3h0m-.5-.5h0m-.4 0h0m-1.1-.7h0m-.1-3.4h0m-.8 3.3h0m-.6-2.1h0m-.4 2.7h0m-.5-.2h0m-13.5 3.5h0m10.3 2.7h0m.3 .4h0m6.8-5h0m35.4-.2h0m15.8 5.8h0m6.6-1.5h0m1.3 0h0m.1 .3h0m2.2-2.6h0m.3 3.6h0m1.1-2.6h0m1.7 2.6h0m.5-3.8h0m6.1 .5h0m1.4 0h0m1 3.3h0m.9 .1h0m1.3-.4h0m7.2-.9h0m5 .3h0m1.7-.7h0m40.9 1.3h0m.4-.4h0m2.8 .9h0m.5-.3h0m.7 .3h0m0-1.9h0m20.3-3.7h0m.2 1.3h0m.6-.3h0m-11.3 10.6h0m0-.4h0m-3.6-2.4h0m-1.2 .3h0m-.7 2.2h0m-.2-.7h0m-.3 .9h0m-1.4-.3h0m-2.2-3.9h0m-.5-1.4h0m-.6 1.8h0m-2.4-1.4h0m-.9 .6h0m-.1-.6h0m-44 0h0m-.9 0h0m-.7 4.4h0m-.5-.5h0m-11.1-2.5h0m-2.1-1.5h0m-.7 .1h0m-4.4 .5h0m-1.9 0h0m-.4 .9h0m-.4 2.4h0m-1.4-1.8h0m-3.3 .7h0m-5.2 2.2h0m-63-.1h0m-.4 4.1h0m1.3-2.1h0m.5 2.5h0m.5-1.9h0m.3 .1h0m.8 3.3h0m1.3 0h0m0-2.1h0m1.7-.9h0m1.1 1.5h0m54.3-2.8h0m.7 3.8h0m.8 .6h0m1.1-4.6h0m1.5-.5h0m.2 2.9h0m25.5-2h0m.7-.4h0m.8 3.4h0m.4-.3h0m1.2-3.9h0m.3 .5h0m31.5 3h0m.8 2.1h0m3-4.4h0m4.6 1.7h0m1.4 1.4h0m8.9-3.5h0m5.1 4.5h0m4.5-1.1h0m-20 5.2h0m0-2.1h0m-.2 1.5h0m-.2-2.8h0m-.9 1.2h0m-.2 3.1h0m-1.1-.8h0m-1.1-2.4h0m-.7 4.1h0m-.6-1.8h0m-.2-3.4h0m-.4 1.1h0m-2.4 4.8h0m-59.9-3.2h0m-.3 .1h0m-.5-2.6h0m-.8-.1h0m-1-.1h0m-.5 3.6h0m-14.1-.9h0m-2.3 .6h0m-.6 1.1h0m-4.3-1.7h0m-5.7 2.6h0m-2.2-1.9h0m-24.9-.7h0m-1.4 1.6h0m-1.9 1.6h0m-3.3-.5h0m-4.7-3.4h0m-20.6 2.8h0m0-2.1h0m-.9 2.2h0m-1.5-2.9h0m-.7 .4h0m-.3 1.3h0m-12.3 .1h0m41.8 7.5h0m.7-1.5h0m.3-2.5h0m.3-1.3h0m3.4 2.6h0m3.3-.3h0m6.4 .4h0m2.9-1h0m2.3 1.1h0m5.8 2.3h0m.3 .2h0m2.9-3.1h0m2.3 .4h0m1.9-1.4h0m.7 4h0m1.1-5.2h0m.5 .9h0m1.6 4.9h0m1.6-3.2h0m.3 1.8h0m.2-3.1h0m0 3.2h0m.5 .1h0m1.7-1.2h0m3-2.9h0m3.1 1.1h0m23.8 2.7h0m.6-3.8h0m7.4 5.2h0m1.1 .1h0m5.5-3.5h0m16 3.4h0m.1-3.6h0m1.5 3.4h0m3.9-3.6h0m11-.2h0m.7 3.2h0m.1-1.6h0m3.2-.2h0m2.2 1.6h0m3.2-3.8h0m1.5 .8h0m1.4 1.2h0m-.7 4.5h0m-2.3 2.7h0m-3.6-4h0m-1.2 .2h0m-.5 1.1h0m-1.7 .5h0m-.4 .9h0m-7.4 3h0m-1.5-1.6h0m-1.1-.4h0m-.2-1h0m-1.7-2h0m-2.4 4h0m0-1.5h0m-7 2.5h0m-1-.8h0m-.3 .7h0m-13.6-1.3h0m-.7-3.7h0m-.6 1.8h0m-1.2 1.4h0m-5.8 1.6h0m-1.6-.7h0m-.6-3.3h0m-1.1 1.8h0m-3.5-1.3h0m0 2.8h0m-.6-3.2h0m-.1 4.3h0m-27.6-4.1h0m-8.1-1h0m-.6 .2h0m-.7 .1h0m-8.3 1.4h0m-.8-2.2h0m0 1.9h0m-.6-1.2h0m-1.1 .1h0m-.3 2.4h0m-.6-2.1h0m-15.2 .5h0m-1.7 1h0m-4.4 1.8h0m-.4-3.4h0m-.2 .3h0m-1.4-1h0m-4.7 5.3h0m-.1-3h0m-9-1.9h0m-.1-.5h0m-3.5 .7h0m-37.1 7.4h0m.4 2.6h0m0-1.5h0m.1 2.2h0m.1-.2h0m.1-1.3h0m1.6 .9h0m2-.4h0m6.2-.1h0m5.7-2h0m.8 2.4h0m1.5-.4h0m19.2-.2h0m.8-1.6h0m1.2-1.6h0m1.4-.3h0m1.5 2.2h0m1.5-2.1h0m1.8 1.4h0m2.9-1.4h0m79.9-.8h0m.2 2h0m2.9 1.5h0m.6-2h0m19.5-.9h0m.9 2.6h0m5.5 .4h0m.6-.1h0m1 1h0m1.8 .5h0m7.3-3h0m2 6.5h0m-8.1-1.4h0m-2.2 2.4h0m-.8-1h0m-1.4-1.4h0m-8.4-.1h0m-.2-1.2h0m-.2 .6h0m-.1 2.5h0m-.6-2.8h0m-.3 0h0m-.2 2.9h0m0-1.3h0m-.1 .7h0m-1.3-.5h0m-2.1-1.4h0m-7.5 4.9h0m-1.2-.7h0m-31.7-2.4h0m-2.2-.9h0m-1.4 3.4h0m-1.9-2.3h0m-.7-1.1h0m-16-1.2h0m-38.7 .4h0m-3-.1h0m-2.2 .6h0m-18.5 4h0m-.9-4.8h0m-1.8 3.6h0m-1-2h0m-1.4 3.2h0m-3.3 .1h0m-9.4-5.4h0m6.8 5.9h0m3.3 3.3h0m.1 2h0m2.1-5.4h0m2.2 1.3h0m2.1 .4h0m.2-.9h0m1.1-.8h0m.7 2.2h0m9.8 1.6h0m5.9 .9h0m24.8 1h0m2.8-1.9h0m.4-.3h0m.3-1.1h0m.4 .8h0m.6 2.1h0m.8-2.9h0m0 2.4h0m.9-1.8h0m.4-1.5h0m.7 3.3h0m6.3 0h0m1 .1h0m1.7-2h0m.7 0h0m22-2.5h0m.4 .9h0m.9-.5h0m31.7 0h0m.6 1.5h0m1.1-.5h0m.7 2.1h0m.8-3.8h0m-50.5 6.9h0m-19.9-.4h0m-1.8 1.9h0m-.2 1.3h0m-.4-1.2h0m-2.5-1.6h0m-.2 0h0m-.4-.6h0m-11.2 5.3h0m-2.3 0h0m-2.6-1.3h0m-3 0h0m0-.3h0m-3.2 .1h0m-12.6 1.2h0m-2.4-2.6h0m-7.4-2.1h0m-1.3 1h0m-.3-.5h0m-.1-.8h0m0 1h0m-.3 .1h0m-.8 .2h0m-.1-1h0m25.4 8.5h0m2.8-1.5h0m.8 2.8h0m.3-3.9h0m.2 .1h0m.8 1.1h0m1.3 .3h0m.5 .7h0m.5-2.4h0m.1 2.7h0m.3 .3h0m1.6-.5h0m.5-2.9h0m4.9 4.9h0m3-1.6h0m2.7 2.3h0m64.9-5.1h0m26 8.7h0m0-.3h0m-2.6 1.4h0m-.1-.4h0m-.3-1.8h0m-1.5 2.5h0m-87.1-4.6h0m-1 4h0m-3.8-3.2h0m-3.7 1.5h0m-3.5 3.5h0m-15.8-2.8h0m-2.3 .5h0m-.1-.9h0m-2.8 3.1h0m-.1-4.7h0m-.8 1.7h0m-.3 .8h0m-.6 2.3h0m1.4 .2h0m3.3 .6h0m15.5-.5h0m52.8 5.8h0m1-1h0m.9-2.1h0m2.6 2.4h0m.5 0h0m44.2-4.9h0m-43.8 9.4h0m-4.7-2.8h0m-4-.4h0m-1.2 1.1h0m-.7 0h0m-1.9 29.5h0m38.9 3.3h0m-22 4.7h0m-3.7 2.8h0m-1-.7h0m-.5 4.7h0m7.4-1.4h0"/>
<path stroke="#B8452F" stroke-width="1.6" d="M1155.9 322.3h0m-.4-.3h0m-1.2 .2h0m-.3 .3h0m-.4-3.6h0m-.2 2.7h0m-3-3.6h0m-3.1 1.3h0m1.7 5.4h0m6.7 7.2h0m-91.6 9.1h0m78.4 .2h0m.3 3h0m0 .7h0m-.2 2.1h0m-1.1-2.5h0m-.5 2.1h0m-2.2 .2h0m-.8-1.2h0m-69.8 .2h0m-.7-3.4h0m-.8 3.5h0m-.7 .3h0m-.1-2.5h0m-1-1.1h0m-.2 3h0m-.7-.1h0m-1.7-1.1h0m-10.5 4.7h0m36.9-.4h0m39.6 1.8h0m2.8-2.3h0m.5 .8h0m.1-.5h0m.5 .3h0m.8 3h0m1.9 4.3h0m-.7 .1h0m-4.9-.8h0m-62.2 2.6h0m-48.7-3.4h0m-4.3 9.2h0m18.8-2.9h0m55.4 1.7h0m.5 2.6h0m22.9 .5h0m34.4-1.9h0m2.9-1.4h0m.5 1.8h0m.2 1h0m.7-3.2h0m.6 1.6h0m1-1.6h0m8.9 1h0m1.8 1.8h0m1.4-.1h0m.2-2.7h0m3.3 2h0m0 2.9h0m-1.6 3h0m-1.5-2.7h0m-.8 .9h0m-11.7 1.3h0m-1-1.9h0m-4.1 1.4h0m-36.8 .3h0m-80.9 7.3h0m98.3 6.6h0m-.2 .2h0m-24.7-3.9h0m-2 3.9h0m-2.8-1.9h0m-1.7 1.1h0m-35.1-2.2h0m-1-1h0m-.4 .4h0m-3.3 3.6h0m-29.4-1.9h0m29.7 4.3h0m1.3-.6h0m2.9 .3h0m1.8-1.2h0m33.6 .8h0m1.5 1.9h0m2.7-1.8h0m10.6 4.8h0m16.5-3.6h0m.3-1.1h0m.7 1.2h0m1.3 2.1h0m-5 3.4h0m-.9 .1h0m-12.3 .6h0m-.2-.2h0m-1-.2h0m-.1 2.3h0m-.2-3h0m-1.6-.1h0m-.3 1.4h0m-117.7 2.3h0m-18.1 6.6h0m2.3 0h0m6-1.7h0m13-1.5h0m40.5 1.2h0m1.2-3.2h0m.6 4.7h0m1.4 .7h0m.2-.2h0m42.6-1.9h0m16.2 1.7h0m.6-4.2h0m.4 3.4h0m3.7-4.4h0m.1 4.2h0m.1-2.9h0m1.2 3.7h0m1.4-4.5h0m37.2 2.2h0m2.9 .2h0m-1.3 5.1h0m-2.1 2.4h0m-.3-1.1h0m-140.7 .5h0m-6.1 1.1h0m-11.6 0h0m-.7-.1h0m-5.1-.7h0m-.6-.7h0m-3-2.5h0m-1.6 2.4h0m7.7 8h0m1.5-4.4h0m3.8 3.4h0m8.9-2.3h0m0-.8h0m.4 .4h0m1.1-.8h0m3.4 1.2h0m38.7-2h0m.3 4.5h0m.3-1.5h0m7.2-2.2h0m12.4 3.5h0m-13.8 1.7h0m-56 4.9h0m-3-1.2h0m-2.9-1.2h0m-.3 3.6h0m119.2 10.4h0m-2.6 0h0m-.2-1.8h0m-1.2-.2h0m-2.3-.5h0m-.3 .8h0m-.7-.9h0m-.2-.2h0m-.2 2.3h0m7.7 1.7h0m-46 39.2h0m.2 .5h0m.9-1.9h0m.6 .4h0m1.5 2.9h0m1.1-1.9h0m14.4 .3h0m1 2h0m13.6 .4h0m.3-4.6h0m.1 4.4h0m.4-4.3h0m6.4 .7h0m-2.5 4.7h0m-15.1 .1h0m-5.2 1.7h0m-.2 .2h0"/>
<path stroke="#B8452F" stroke-width="2.3" d="M1155.8 322.4h0m-3.3-1.9h0m-3.7 .9h0m-.1-2.1h0m-86.1 20.1h0m86.4 .4h0m4 .1h0m1.4-3.1h0m-10.7 9.6h0m-.7 .1h0m-.4 .2h0m-.4 1.2h0m-1.2-2.6h0m-2.7 .5h0m-70.2-.5h0m-3.4-1.9h0m-1.2 1h0m-2.2-.3h0m-6 6.5h0m31.9-.6h0m42.2 2.3h0m.2-.7h0m1.1 .1h0m.6 .9h0m.6 .8h0m1.2-2.5h0m.1 1.7h0m.8 1.1h0m7.3-4.6h0m.4 .7h0m.4-.5h0m.1 .1h0m.2 .1h0m-7.2 6h0m-4.3-1.3h0m-62.6 3h0m-37-2.5h0m-3.8 .3h0m5 6.9h0m51.9 1.2h0m62.4-.7h0m7.2 1.3h0m6.5 1.1h0m0-1.3h0m2.1-.7h0m2.4 1.9h0m3.4-2.4h0m-1 9.3h0m-1.4-1h0m-13.1-1.7h0m-3.2-1.1h0m-.1-.8h0m-.3-.3h0m-128.8 10.3h0m104.2 6.8h0m-20.8-.1h0m-3.3-4.1h0m-36.3 3.9h0m-4.2-2.4h0m-15.7 1.6h0m12.1 3.3h0m2-.9h0m1.7 1.7h0m0 1.7h0m.2-.5h0m34.5-3.4h0m.5 2.3h0m.3-2.6h0m1.1 3.3h0m.5-1.3h0m.7 .4h0m3.5 .7h0m20.6 1.6h0m5.4 .5h0m1.5-1.9h0m2.2-2.3h0m-3.3 4.8h0m-1.6 2.3h0m-1.5-.5h0m-12.9 0h0m-1 .9h0m-.2 .1h0m-.8-.1h0m-.1 .1h0m-.5-2.4h0m-.3 2.3h0m-1.2 .6h0m-8 2.1h0m-2.2-5.5h0m-103.7 5.1h0m40.7 1.9h0m.2 .1h0m1 2.7h0m.1-1.2h0m.2 2.4h0m.5-1.2h0m.4 .2h0m1.1-1.4h0m58.4 .8h0m2.9 0h0m1.7-1.2h0m.2 1.9h0m2.4-2.9h0m34.9 4.7h0m1.7-3.9h0m.4 3h0m1.3-.6h0m.4 3.4h0m-41.7-1.1h0m-2.3 .7h0m-62.2 .1h0m-2.5-.6h0m-17.9 .1h0m-19.5 4.8h0m-1.6-.9h0m-12.7-3.8h0m-1.3-.6h0m-2.3 2.2h0m-.2-.5h0m-2.5-1.3h0m-1.9 1.5h0m-.5 5.1h0m3.6 2.5h0m3.4-.7h0m2.7-.3h0m1.5 .1h0m.1 2.2h0m1.4 .2h0m6.9-3.6h0m2.1-.6h0m.9 3.7h0m.1-1.4h0m.5-2.8h0m.7-.2h0m37.8 3.6h0m1.1-3.8h0m.9 3.9h0m.8 .4h0m.3-1.2h0m1.2-2.2h0m.6 .4h0m2.4-1.3h0m0 2.4h0m3-1.7h0m-5.6 7h0m-1.6-.5h0m-52.8 2.4h0m-2-.6h0m-.8-1.4h0m-.7-1.7h0m-1.8-.3h0m-.2 3.9h0m-.6 .1h0m-.8-3.2h0m115.4 14.5h0m-.6 .6h0m-1.4 1h0m-38 39.8h0m1.8 3.2h0m.6-2.7h0m1.9-.9h0m16.6 1.6h0m16.7-.4h0m2.9-1.9h0m.6 .4h0m-1 4.2h0m-4.1 1.8h0m-14.7 1.1h0m-2.2-1.5h0m-.2-.5h0"/>
<path stroke="#D98C4A" stroke-width="1.6" d="M1141.6 317.2h0m26.6 3.2h0m-.4 1.4h0m-.9 .8h0m-.2-1h0m0 1.3h0m-1-2.5h0m-.3 .8h0m-1.2 1h0m-10.4-3h0m-7.5 4h0m-.1-4.7h0m-.3 5.3h0m-.5-.4h0m-.8-1.9h0m-.4 2.2h0m-.1-3h0m-.2 .8h0m-.8 1.8h0m-1.4-1.6h0m-.2 .2h0m-.2 .1h0m-.9-.7h0m-14.7 7.3h0m17.2-2.6h0m.4-1.5h0m.5-.4h0m.2 2.9h0m.1-.6h0m.6-1.7h0m.9-.3h0m.3 2.9h0m.4-3h0m.4 .3h0m1.4 2.1h0m2 2.6h0m1.4-3.7h0m14.2-1.3h0m1.5 .9h0m2.2-.7h0m.3-.3h0m-19.8 6.9h0m-2.8 .2h0m-3.3 0h0m-86.1 10.2h0m3.1-.4h0m.1-1h0m2.3-1h0m62.2-.2h0m.4-1.4h0m.8 2.6h0m.6 .8h0m.1-1.7h0m1.1 1.3h0m.9-2.3h0m.1 1.7h0m.9-3.8h0m.2 1.1h0m0 .8h0m.1-1.4h0m-47.1 8.6h0m-19.9-.7h0m-.5 2.2h0m-3.3-4.7h0m-.4 3.3h0m44.7 3h0m.7 4.3h0m.2-1.7h0m2.2 .3h0m1.8-1.5h0m2.1 3.8h0m1.3 .7h0m-2.7 2.6h0m-1.1-.1h0m-.1 1.3h0m-.7-2.3h0m-1-.7h0m-.7-.1h0m-83.3 2.6h0m22.5 6.7h0m.8 .3h0m.5 .9h0m.7-3.2h0m1.4 3.1h0m1.3 .1h0m.4-2.1h0m.1 2.4h0m58.2-.2h0m37.8-1h0m1.1-.8h0m.2 2.2h0m.8-2.2h0m1.8 4h0m-.8-1.6h0m-.6 1h0m-.4 4.7h0m-4-4h0m-.8-.9h0m-94.3 1.9h0m-1.6-1.5h0m-.4 .1h0m-2.4-.3h0m21.9 10h0m77-1.5h0m.9-3.5h0m.3 4.1h0m1.6-3.4h0m.1 2.5h0m.9-.8h0m0 .6h0m.6 1.5h0m1-1.2h0m1.4-1.5h0m-2.1 4.3h0m-1.8-.1h0m-16.6 5.7h0m-1.3-.7h0m-62.9 0h0m-73-2.6h0m63.2 4.2h0m8 3.4h0m5.6-2.5h0m31.4-1.3h0m10.7 4.2h0m2.7-.7h0m8.3 1.9h0m2.7-.7h0m.1-4.2h0m2.3 3.2h0m1.1 .5h0m.2-1.9h0m.4-.6h0m1.9 0h0m1.7 .9h0m-4.5 3.1h0m-3.7 1.8h0m-1.6 3.2h0m-.6-4.8h0m-1.5 .8h0m-.6 1.7h0m0-.4h0m-1.6-1.5h0m-2.7-.5h0m-3.8 2.3h0m-1.4 .5h0m-130.2 1.7h0m-2.2-1.8h0m-2.8 .9h0m-2.7 1.9h0m.2 .6h0m.2 2.6h0m3.6-3h0m.1 5.6h0m2.2-1.6h0m15.6-.6h0m2.9 .4h0m1.7 1.3h0m.8-.1h0m5.2 0h0m33.1-1.2h0m4.5-1h0m47 2.3h0m.6 .6h0m.5-.9h0m22.3-.6h0m1.2-1h0m.6-1h0m4 2.6h0m.2 .3h0m0-.4h0m0 1.2h0m31.8-5.3h0m-31.9 5.8h0m-2.1 1.9h0m-.4-.5h0m-1.9-.2h0m-1.3-.6h0m-10 4.7h0m-.5-4.1h0m-2.2 3.3h0m0 1h0m-.4-3.2h0m-.2-1.3h0m-.6 .2h0m-.1 .7h0m-.4 1.5h0m-.4-.7h0m-4.2 2.2h0m-1.5-4.2h0m-1.8-.5h0m-82.2 4.5h0m-7.9-3.4h0m-.9 .9h0m-1.5-1.8h0m-.8 1h0m-17.7 3.9h0m-.4-.9h0m-.4 .2h0m-8 3.6h0m5.1-1.7h0m.4 1.6h0m.8-.8h0m1.8-1h0m.8 3.2h0m.8-2.1h0m1 .1h0m1.4 2.2h0m1.3-.9h0m1 1.4h0m1.5-.1h0m2.6 .6h0m14.2-.9h0m10.2-2.9h0m5.9 3.5h0m0 .6h0m31.1-1.9h0m7.3-2.9h0m35.2 1.2h0m0 .3h0m2.9 .9h0m.1-1.9h0m2.8 4.5h0m1.4-4.8h0m.9 2h0m2.3-.7h0m2.9 3.3h0m-2.6 3.3h0m0-1.2h0m-.5 1h0m-3.6-1.5h0m-.9 .4h0m-8.8 4.3h0m-.3-2.6h0m-.5 1.5h0m0-1.6h0m-1.8 .8h0m-10.8-1.8h0m-.5-1.9h0m-.5 2.9h0m-3.6-1.9h0m-.7 .1h0m-48.9 .2h0m-1 2.1h0m-.3-.6h0m-1 1.7h0m-1.3-3.8h0m-.9 2.4h0m-.6-.2h0m-28.8-2.8h0m-.5 0h0m-3.5 3h0m-.6-2.8h0m78.6 8.7h0m.8-1.5h0m1.2 2.8h0m.2 .8h0m.3-.3h0m2.9-2.4h0m49 4.9h0m-3.5 2.6h0m-14.5 .8h0m-10.7-3.8h0m-1.3 3h0m-18-1.4h0m-4.7-.1h0m-3.7 1.4h0m-3.5-.7h0m7.5 8.1h0m.1-.4h0m.7 .3h0m.5-4.7h0m.4 5.3h0m.7-1.5h0m.5-3.1h0m.6 2.5h0m.5-.1h0m1.2 .1h0m1.7 0h0m18.8 1.7h0m-14 2.6h0m-2.2-1.8h0m-1.6 1.5h0m-1.1-.7h0m-2.9-.8h0m0 3.2h0m-.4-1h0m-.6 1.2h0m-5.4-1.6h0m-8.8 9.7h0m1.4-.6h0m2.3-2.1h0m2.6 2.9h0m11.8-4.9h0m3.7 2.9h0m-6.8 6.1h0m-2.7-2.6h0m-3.5 2.5h0m-5.2 .3h0m-.5-.8h0m-.4 .3h0m9.6 2.5h0m13.9 19.2h0m-8.4 10h0"/>
<path stroke="#D98C4A" stroke-width="2.3" d="M1170.4 323.3h0m-2.4-3.1h0m-.4 3h0m-.7-1.1h0m-2.3-1.2h0m-16.2 2.6h0m-3.1-.7h0m-.1 .2h0m-.1-.3h0m-.6-2.2h0m-.3-2.2h0m-1-.3h0m-.3 1.4h0m-.9 .5h0m-.2-1.2h0m-.5 2.9h0m-.3-1.1h0m-.5-.4h0m2.4 6.2h0m0 .3h0m.5-1.5h0m.3 .8h0m.9 .4h0m2.7-1.7h0m.8 5.1h0m.8-3.4h0m1.5 .3h0m.2-1.6h0m16.4 .8h0m-18.7 5.8h0m-19.1 3.7h0m-2.1 .1h0m-2.2-3h0m-66.3 7.2h0m1.4 2h0m3-2.6h0m2.3 0h0m60.1-2.1h0m1.2 .8h0m1.3-1.6h0m.4 3.9h0m-60.5 6.3h0m-3.3-3.1h0m-1.9 2h0m-.4-1.6h0m-.6 3.4h0m-.5-2.5h0m-1-1h0m-1.1 1.3h0m-1.6 6.5h0m7.5-2.9h0m24-.2h0m11.3 4.6h0m3.8-.8h0m.1 0h0m1.9 .7h0m2.9 0h0m3.2-.2h0m26.2-4.3h0m-1.3 6.6h0m-5.1 .2h0m-25.1 1.8h0m-1.6-.6h0m-26.8-.2h0m-47.1 .9h0m14.6 6.6h0m.4-1h0m1.8 .6h0m.2-.6h0m1.1 .7h0m0 1.3h0m45.5-.2h0m52.4 1.6h0m.9-1.1h0m1.8 .6h0m-2.1 2.7h0m-.5 1.3h0m-1.2-2.8h0m-.2 .5h0m-120.6 .6h0m-1-.5h0m-31.6 8.2h0m4.2 .8h0m151.3-.5h0m.1-1.1h0m2.1 2.2h0m-23.3 6h0m-99.7-2.9h0m-40.5-.9h0m124 10.6h0m9.4-.5h0m5.5-4.1h0m.7 3h0m3 1.3h0m4.3-4.8h0m16 8.8h0m-24.6-.9h0m-3.4-.1h0m-.6 1.5h0m-.6-3.4h0m-.7 1.7h0m-6 .1h0m-98.8 2.4h0m-32.5 1.3h0m-5.3-.5h0m-1.5-1.9h0m-2.3 5h0m1.2 .1h0m.6-1.7h0m4.5 4.3h0m3.5-5h0m14.6 4.3h0m.6 .8h0m2-1.8h0m.7-.4h0m46 1.8h0m31-4.7h0m12.9 4.5h0m1-1.4h0m.3 1.1h0m.3-1h0m.7-2.2h0m.2 .2h0m.2 .2h0m.3 1h0m.7 2.9h0m.9-1.8h0m22.5 1.8h0m.7 .1h0m0 .1h0m-.9 1.1h0m-12.1 2.4h0m-.5 2.7h0m-2.1-.2h0m-.9-3.7h0m-2.1 1.4h0m-1-.5h0m-.2 .6h0m-2.6 1.6h0m-.1-3.1h0m-.1 2h0m-1.4 .2h0m-1.1 1.1h0m-3.2-5.2h0m-44.1 4.5h0m-31.1-4.6h0m-11.5 .1h0m-.1 3.3h0m-.1 .4h0m-3.5-2.8h0m-.1 1.1h0m-2.5-2h0m-20.5 .3h0m-.3 2h0m1.1 5.5h0m.6 1.9h0m.1-.1h0m.1-.2h0m3.4-2.3h0m.2 .3h0m.2-.1h0m.2 0h0m.7 2.3h0m.7 1.6h0m.1-1.4h0m3.5-.5h0m.7-.2h0m31.4 2.7h0m.4-1.1h0m18.4 .4h0m40.6 .4h0m22.2-2.1h0m1 2.4h0m1.7 .5h0m-1.6 .5h0m-10.3 4h0m-.8-2.8h0m-.6 .9h0m-1.7 0h0m-.2 .1h0m-11.7-.5h0m-.3 2.5h0m-.4-1.1h0m-.1-1.5h0m-.8 .8h0m-6.9 1.9h0m-46.6-4.4h0m-1-.4h0m-.1 4.4h0m-.3-2.6h0m-1-.4h0m-.1 1.2h0m-.8-2.7h0m-30 2.6h0m-.2-.6h0m-3.5-1.6h0m-.8-.2h0m-4.3 4h0m8 6.4h0m74.7-4.6h0m.1 4.9h0m.9-.2h0m.1-4.5h0m.1 2.4h0m3.8-2.6h0m.9-.1h0m29.6 9.7h0m-7-2.9h0m-1.2-.3h0m-3.2 4.2h0m-2.3-2.7h0m-14 2.6h0m-3.2-2.3h0m-3-1.4h0m-1.6 3.5h0m-.6-3.9h0m-.2 .3h0m-53.8 3.4h0m-18.9-2h0m-.2 .5h0m77.4 7.4h0m1-2.9h0m16.6-.1h0m2.6-.4h0m.6 3h0m1.6 .3h0m.2-.6h0m3.5-3.6h0m-10.6 11.3h0m-1.6 .3h0m-.7-1.3h0m-4.5-.9h0m-4.4-1.6h0m-1.9 2.7h0m-1.2-2.7h0m-1.8 2.6h0m8.3 1.7h0m2.8 1.4h0m1.4 .4h0m.2 .8h0m-6.9 8.5h0m-4.1 .3h0m-1.6-4.1h0m-.1-1.1h0m-.3 3.4h0m-.3 1.5h0m-4.1-1.3h0m-.5-1.4h0m-.5-.8h0m-.1 1.9h0m-2.1-.5h0m-1.1 1.4h0m8.4 2.8h0m.1-.8h0m20.3 12.7h0"/>
<path stroke="#DDBE82" stroke-width="1.6" d="M1123 323.3h0m-31.4 18.5h0m58.9-1.4h0m11.2 .1h0m.4 .3h0m.7-1.3h0m.4 .2h0m.4 .8h0m2 .9h0m1-4h0m1.1 2.1h0m1 .6h0m-.6 2.3h0m-.9 1.6h0m-28.1 1.7h0m-44.1-1.8h0m-3.3-1.2h0m-2 .9h0m-.4-.4h0m-.9 1.2h0m-1.1 .2h0m-.1-1.3h0m-45.7 9.4h0m.5-.7h0m.3-2.4h0m0 3.8h0m0-3.5h0m1 3.4h0m.2-2.3h0m.1 .8h0m.3-2.5h0m42.7 1.9h0m51.6-1.6h0m4.6 4h0m0-2.1h0m.1-2.4h0m0 2.4h0m.9 2.3h0m.1-5.8h0m.5 3.6h0m1.2-.8h0m25.3 8.2h0m-51.5 .9h0m0-1.1h0m-.1 .8h0m-.6-3.7h0m-1.1 1.2h0m-4 .3h0m0-1.7h0m-.5 .9h0m-60.3 1.1h0m-2.4-2.3h0m-.5 2h0m-.2-1.3h0m-.5 1.1h0m-.8 2.5h0m-1.4-3.8h0m-8.3-.8h0m-3.7 2h0m-.3-.6h0m-1.5-.6h0m-1.1 3.6h0m-11.9 .1h0m-2.8 .1h0m.7 1.8h0m1.6 .1h0m5.2 1.8h0m.3 .2h0m.1 2.3h0m1.4-2.1h0m6.9-3.2h0m4 2h0m1.8-2.6h0m10.2 3.1h0m63.7 1.3h0m3.1-3.7h0m1.3 1.1h0m0-1.7h0m-22.4 10.1h0m-.3 .6h0m-.4 .5h0m-.1-1.8h0m-1.6 1.1h0m-1 .2h0m-67.7-4.5h0m-.1 .7h0m-3.6 1.1h0m12.4 9.7h0m3.7-1.2h0m54.7-4.2h0m2.6 1.1h0m.3-1.3h0m1.8 .2h0m79.9 2.9h0m-142.7 5.9h0m-.2-.9h0m-.6 .5h0m-.2-.2h0m-2-2.2h0m80.4 7.7h0m14.3 4.8h0m-5.8 4.7h0m-6.4-1.5h0m-5.4-.7h0m-115 2.4h0m-3-2.5h0m-3.9 4.6h0m0 2h0m1.8-2.4h0m.9-.7h0m.1 3.1h0m.2 .8h0m1.9-1h0m.5-3.5h0m1 .7h0m.2 .9h0m.5 2.5h0m135 1.4h0m8.2 2.5h0m-88.1-1.7h0m26.3 9.6h0m28.4-2.9h0m14.5 0h0m-10.4 7.3h0m-14.6-.6h0m-16.5 0h0m-.8 3.1h0m20.8 6.4h0m21.6-1.3h0m-25.8 5h0m-29 1.2h0m-50.8 3.1h0m49.5 2.5h0m4.8-2.9h0m1.6 1.4h0m0-2.3h0m3.5 1.9h0m20 1.3h0m-25.9 2.9h0m-.5 1.1h0m8.4 15.9h0m-2.5-.3h0m20.9 12.5h0m-36.2 3.7h0m26.2 4.8h0m-4.7-.2h0m-2.6-1.2h0m-3.4 1.2h0m3.9 10.8h0"/>
<path stroke="#DDBE82" stroke-width="2.3" d="M1158.3 322.3h0m-3.1-3.9h0m-.3 5.2h0m-64.5 16.1h0m.3 .2h0m4 2h0m68.2-1.6h0m1.3 .4h0m.4-1.5h0m3.4 .1h0m-2 5.5h0m-1.6-1h0m-.9-.8h0m-20.2 3h0m-.9 .8h0m-.9 1h0m-46.6-4.8h0m-1.9 2.4h0m-.6 .4h0m-1.3-3.7h0m-1.6 1.4h0m-1 2.8h0m-.7-.3h0m-26.7-1.8h0m-26.3 9.2h0m5.2-3.5h0m.5 3.2h0m.2 .7h0m.7-1.7h0m0 1.8h0m.2-3.4h0m.2-1.4h0m2.1-.3h0m.5 .8h0m57.1-1h0m35.5 5.2h0m.9 0h0m.1-3.4h0m1.4 3.1h0m1.2 0h0m-21.4 3.2h0m-.5-1.9h0m-2.2 1.4h0m-1.6 1.4h0m0-1.3h0m-2 2h0m-59.2-3h0m-4.2 3.7h0m-1 .3h0m-.6-.4h0m-.2-1.2h0m-.3-.1h0m-.3 2.1h0m-2.7-.7h0m-5.7-2.2h0m-.7 .5h0m-2-1.8h0m-1.4 1h0m-2.5-1.1h0m-8.1 3.4h0m-1.9-.4h0m-3.2 6h0m.8-1.7h0m1.9 .4h0m.4-2.7h0m1 4h0m1.7-3.9h0m7.6 0h0m1.3 .1h0m3.1 1.8h0m3.4-2.2h0m7.7 2.7h0m1.8 .4h0m66.5-1.4h0m-20.7 7.4h0m-1.7 1.2h0m-1.1-1.9h0m-.8 2.5h0m-70.6-3.2h0m9.4 9.1h0m1.7-1.6h0m3.5 1.5h0m.8 1h0m.2-1.3h0m55-4.3h0m3.2 .9h0m.3-.3h0m.5-.4h0m-20.2 10.2h0m-27.2-.8h0m-12.6-3.4h0m-1.7 .7h0m-.1 2.4h0m-.2-3.4h0m-1.5 3.9h0m-.5-3.3h0m-34.9 .5h0m65.3 6h0m8.2 1.3h0m52.5 7.4h0m-5.2-1.3h0m-128.3 .6h0m-2.8 6.8h0m.8-3.6h0m3.9 3.5h0m2.1-1.4h0m148.1 5.5h0m-6.6 .7h0m-16.3 1.8h0m-5.7 1.3h0m-12.6-2.7h0m-52.5-1.4h0m-6.9 8.3h0m15.7-3.3h0m20.3 10.7h0m-3.9-5.1h0m-94.9 4.2h0m14 5.1h0m14.7-1.9h0m2.7 .2h0m79.7 5.9h0m-97.4 1.1h0m-4.8-1.3h0m79.4 7.7h0m30-1.2h0m-17.5 6.1h0m-16.9 3.9h0m9.3 7.7h0m-3.9-.2h0m-10.4 17.7h0m1.5 2.8h0m35.3 1.3h0"/>
<path stroke="#8E1F33" stroke-width="1.6" d="M1153.8 332h0m-1.2-1.2h0m-1.9 1.4h0m-2.1-2.2h0m-82.9 10.8h0m4-.8h0m1.3 1.6h0m79.2-4.7h0m1.4 5h0m.9-4.2h0m4.1 2.4h0m.8-1.6h0m-2 7.7h0m-3-3.3h0m-1.5 .4h0m-.9 .9h0m-43.5 3.5h0m-4.2-.3h0m-15.3-2.9h0m-2.5 .8h0m-16.7-3.3h0m-1.4 4.6h0m-4.5-4.1h0m-1.3 .5h0m-7.8 4.6h0m-1.5-1.2h0m-.9 2.3h0m1.2 3.5h0m.6-3.2h0m2.7 2.9h0m14.3-3.7h0m14.2 .2h0m3-.4h0m3.5 1h0m9.6-1h0m.5 5.2h0m.6-4.3h0m1.2-.2h0m.5 3.6h0m2.6-2.9h0m1.4-.5h0m3.6 1.3h0m21 .7h0m1 2.3h0m1.1-.4h0m-3.9 3h0m-3.3 3.4h0m-1 .4h0m-.7-5.4h0m-1.7 5h0m-2.8-.5h0m-10.2-3h0m-1.9 1.9h0m-37.7-1h0m-.6 1.8h0m-1.5 1.5h0m-2.7-.1h0m-38-.5h0m-.6-3.7h0m-7-1.5h0m-6.3 4.8h0m-.9 4.2h0m3.1-.6h0m.5-1.1h0m6-.7h0m1.5 4.6h0m3.6-2h0m.9-.5h0m.3 .8h0m.5-1.5h0m1.1 1.6h0m3.5-2.4h0m32.7-1.1h0m44.1 4.3h0m3.1 1.4h0m1.3-.2h0m6.1-4.7h0m9.9-.2h0m.9 1.4h0m-17.7 4.8h0m-1 .4h0m-.8 3.9h0m-1.9-3.5h0m-.3 1.9h0m-84.8-2.7h0m0-.5h0m-26.9 5h0m-9.6 5.1h0m5.4-1h0m.2-2.6h0m35.3 3.1h0m1.3 1.4h0m10.4-1.5h0m22.8 1.1h0m4.4 3.5h0m-5.2 2.9h0m-2.3-3.2h0m-14-.5h0m-7 2.5h0m-.7 0h0m-4.5-3.6h0m-4.1 1.9h0m-.6 2.9h0m-32.9-2.2h0m-6.9 2.4h0m-2.8-5.6h0m-.2 4.2h0m-.7 2.1h0m44.5-.4h0m10 1.1h0m3.7 1.4h0m25.1-.6h0m2.4-1.4h0m.8-.5h0m8.7 7.1h0m-32 2.6h0m-4.8 .5h0m-79.4 6.6h0m15.6-2h0m1.2-1.2h0m2.4 1.9h0m.1 1h0m2.2 0h0m56.7 .5h0m1.9-4.7h0m1.9 3.5h0m.4-3.3h0m26.1 .8h0m1.9-.9h0m-17.1 9.7h0m-2.4-.5h0m-3.2 .5h0m-6.5-2.5h0m-4.9 4.3h0m-2-.5h0m-33.4-1.6h0m-24.1-3.6h0m-8.4 1.3h0m-1-.5h0m-.2 1.7h0m0-2.4h0m-5.4 .2h0m32.6 9h0m6.5-.8h0m32.1-.7h0m3.7-1.2h0m4.1 1.1h0m8.8 2.6h0m2.4-2.8h0m-3.9 4.5h0m-.7 .8h0m-10.9-.1h0m-1.1 1h0m-4.6 .9h0m-28.8-1.9h0"/>
<path stroke="#8E1F33" stroke-width="2.3" d="M1153.3 331.5h0m-.5 3h0m-.7-3.3h0m-.4 3.7h0m-4.9-2.7h0m-80.5 5.9h0m80.9 .4h0m1-1.1h0m2.2 .6h0m.4-.8h0m.8 1.4h0m4.6 .1h0m.9 1.4h0m.2 2.6h0m-.6 1.2h0m-1.3 2.1h0m-3.9-3.5h0m-46.7 4.2h0m0 1.2h0m-.5-1h0m-1.3-.5h0m-12.7 0h0m-1.5 .1h0m-.1-1.5h0m-2-.3h0m-17.8 0h0m-16.4 1.9h0m-38.2 7.3h0m36.5-4.7h0m.8 2.3h0m2.3-1.5h0m.6 2.1h0m.5 .9h0m.9-1.3h0m.2-1.1h0m.3-.8h0m10.1-1.6h0m16.7 2.4h0m1.1-2.6h0m.9 1.5h0m.6 1.7h0m14.7-2h0m.1 1.3h0m.4-1h0m.2 3.7h0m1.9-5h0m.2 2.3h0m.1 .7h0m.5-.7h0m1.1-.1h0m1-1.3h0m24.3 .9h0m.1 .1h0m1.1 1.8h0m.9-1.1h0m.1-1h0m2.6-.3h0m1.3 3.3h0m0-2.1h0m.4 2.9h0m-2.8 1.6h0m-1.4-.4h0m-3.3 3.8h0m0-2.3h0m-9.4 .1h0m-12.2 .9h0m-2.3-1.1h0m-2.4 1.2h0m-33.6-.2h0m-2.3-1.1h0m-.8-.1h0m-1.1 3.2h0m-30.2-1.4h0m-1.5-.9h0m-5.5-2h0m-.1 1.8h0m-2.9-1.2h0m-2 3h0m-2.8-4.3h0m-.9 4.3h0m-5.9-.2h0m-2.6 1.8h0m.8 2.3h0m11.1 .7h0m5.5 2.8h0m.9-4.3h0m1.1 4h0m.1-5.3h0m2 .8h0m32.9-.8h0m.9-.3h0m43.8 5h0m1-.4h0m.3-1.3h0m.7 .2h0m9.6-2.1h0m8.7-1.1h0m-15.5 11.6h0m-.2-.7h0m-.2-2.1h0m-.1 2.8h0m-.1-3.4h0m-.2 1.1h0m-.3-2.3h0m-1.8-1.2h0m-.6 1.3h0m-.8 1.9h0m-1.8-1.1h0m-.2 .5h0m-1.3 .9h0m-109 1.9h0m-12.6 3.8h0m.5 1.2h0m.3 .9h0m3-1.2h0m6.5 .3h0m.7-.8h0m.3 2.1h0m5.4-2.8h0m.3-.8h0m.4-.3h0m.1 .2h0m1.4 1.6h0m26.9 .1h0m34.5 2h0m43.3-4.4h0m4.7-1.4h0m-41.6 9.8h0m-8.4 2h0m-.7-2h0m-1.8 1.2h0m-.8 .9h0m-17.6-1.5h0m-3.1-2h0m-4.7-2.2h0m-2.4 1.1h0m-3.2 .6h0m-3.6 2.2h0m-24-2.6h0m-.7-1.3h0m-.8 3.4h0m-7.7-.5h0m-.9-.4h0m-5.1 1.5h0m-2.2-1.6h0m4.6 4.1h0m48.6-.1h0m.3 1.1h0m5-.6h0m1.7-1.1h0m25.2 .8h0m15 10.2h0m-1.9-1.4h0m-3.3 1.5h0m-4-1h0m-2.7-.5h0m-25.8 1.2h0m-7.8 .6h0m-70.9 5.3h0m.5 0h0m12.2-1.6h0m.3-.7h0m.7 .3h0m.9 2.7h0m.6-.5h0m56.6 .4h0m1.7-3.9h0m5.8 2.7h0m27 .2h0m1.7-1.6h0m2.8 2.1h0m2.4 .2h0m0-1.9h0m-4.8 3.8h0m-19.6 4.9h0m-2.1-2h0m-7-3.3h0m-.5 .7h0m-3.6 .4h0m-37.7 3.6h0m-.5 .6h0m-23.4-5.5h0m-.5 2.1h0m-7.6 1.4h0m-4.3-.5h0m-.8-1.4h0m-2.3-.2h0m6.3 5.3h0m26.1 4.6h0m3.5-3.5h0m1.5 2.5h0m4.5-1.5h0m27.9 2.1h0m8.3-1.9h0m4.6-2.9h0m2.4 2.8h0m0-2.8h0m1 .7h0m3.6 2.2h0m.8-1.3h0m-13.4 6.9h0m-.7-2h0m-.9 3.3h0m-6.1-3.4h0m-.1 2h0m-32.5-1.7h0m-1.7-.1h0m-.2 .9h0"/>
<path stroke="#B9D3A0" stroke-width="1.6" d="M1167.4 358.3h0m-2.4-2.9h0m-53.7 33.6h0m16.9 11.6h0m-9.6 6.2h0m-18.3 5.9h0m-10.7 5.6h0m-2-.9h0m-10.9-2.8h0m-1.7 3.4h0m-10.5 2h0m51.1 10.7h0m-46.2-.9h0m-4.8-1.9h0m0 2.2h0m28.5 4h0m1.7 2h0m-22.6 4h0m-4.6-1.4h0m-2.2 .8h0m-3.2 6.6h0m5.4 6.8h0m-18.3 1.4h0m7.8 18.9h0"/>
<path stroke="#B9D3A0" stroke-width="2.3" d="M1173.2 374.5h0m-22.6 21h0m-20.5-1.1h0m-13.6 5.1h0m26.7 4.2h0m-24 6.4h0m-29.7 7.7h0m-23.6 6.1h0m23.5-3.6h0m10.2 10.7h0m-42.5-.7h0m-.5 5.1h0m9.6-2.1h0m2.6 9.1h0m-12 3.9h0m14.3 3.9h0m-.5 1.8h0m3.4 19.7h0m-6 8.5h0"/>
<path stroke="#E3DCA0" stroke-width="1.6" d="M1169 358.9h0m3.1 14.9h0m-52.9 14.1h0m29.1 4.7h0m-36.2-.2h0m-12.5-.7h0m-1.7 3.1h0m16.9 7.1h0m13.8-1.5h0m9.8 2.2h0m-19.5 4.5h0m-4.6-.2h0m-12.9-2.6h0m-12.1 15.6h0m-15.2-5.2h0m37.6 11.3h0m-1 1.7h0m-14.7 3.5h0m-29.5-3.3h0m-1.9 2.4h0m-7.5 .4h0m.4 7h0m12.6-3.4h0m22.5 .3h0m2.3 4.5h0m-21.2 15h0m-3.4 20.9h0m.3 8.6h0"/>
<path stroke="#E3DCA0" stroke-width="2.3" d="M1171.7 374.2h0m-62.7 14.9h0m24 3.1h0m-1.8 2h0m-12.3-3.4h0m-18.4 4.5h0m44.2 4.5h0m-7.3 4.2h0m-20.5 2.2h0m-38 7h0m26.1 4.2h0m-38.9 3.3h0m26.2 .4h0m24.8 8.2h0m-57.1 7.9h0m3-3.4h0m.3 3.3h0m-3.5 12.5h0m-1.8 4.8h0m-6.4-1.3h0m-5.1-1.6h0m8.4 20.8h0m15.7 5h0m-1 2.3h0"/>
<path stroke="#6FB5A8" stroke-width="1.6" d="M1101.6 431.3h0"/>
<path stroke="#8E1F33" stroke-width="1.6" d="M1164.5 332.2h0m-.6 1.1h0m-1.3-2.2h0m-.2 .2h0m-1.1 2.7h0m-1.8-.6h0m-2.8-1.9h0m-26.7 1.4h0m-2.3-.8h0m0 1.2h0m-1.9-1.8h0m-.3 3.5h0m-.7-3.6h0m-.9 4.5h0m-1.1-4.1h0m-.4 2.6h0m-.1-1.1h0m-2.1 .6h0m-.6 .2h0m-1.5-.4h0m-.3 .1h0m-2.1 1h0m0-.6h0m-4.4 1.4h0m-11.6 6.1h0m2.5-.3h0m.8-1.4h0m.2 1.2h0m2.4-3.1h0m0 1.6h0m.7 1.7h0m1.7-3.1h0m.9 .8h0m1.5-3.1h0m.6 .4h0m.3 0h0m.2 1.4h0m.4-1.1h0m1.1-.7h0m.1 .5h0m.3 2.3h0m1.2-.3h0m.3-2.2h0m.4-.2h0m1.3 1.8h0m.7-.6h0m4.8-.9h0m2.6-.3h0m20.2 4.5h0m7-2.6h0m.5 1.8h0m4.9-.4h0m.7 .1h0m2.8-.5h0m0 2.6h0m1.5-3.9h0m1.9 .1h0m3.8 .1h0m-12.7 5.3h0m-9.3 2.7h0m-1.4-2.1h0m-1.5 3.6h0m-6.5-3.1h0m-.2 1.4h0m-3.3-1.5h0m-22.7-2.1h0m-1.1 .4h0m-3.1 2.2h0m-1.5-2.4h0m-2.3 .4h0m-.2 1h0m-.5 3.4h0m-2.3-2.9h0m-.7 3.2h0m-1.6-2.2h0m-.1-.3h0m-2.2-.7h0m-1.8 3.3h0m-11.2 4.6h0m2-1.4h0m1-.4h0m1.4-1.1h0m.2 4.5h0m.3-3.3h0m.9-1.2h0m4.7 .9h0m.7 1.2h0m.1-1.5h0m.5-.8h0m.5-.1h0m1 2.3h0m.1-2.5h0m.8 .1h0m1.5 .5h0m24.7 3.3h0m.4 1.1h0m3.5-1.7h0m1.1-2.3h0m1-.7h0m.4 2.3h0m.4 0h0m.1-1.2h0m3.7-.5h0m.8 1.8h0m.8 .5h0m6.7-3.5h0m.4 1.2h0m4.9-1.3h0m-12.7 6.8h0m-2.4 .2h0m-2.8 1.3h0m-.6 .1h0m-2.3 1.7h0m-3.8 .2h0m-.9 .9h0m-.6-4.9h0m-3.5 3h0m-2.3-2.6h0m-.8 1.7h0m-1.7 1h0m-5.4 2.1h0m-16.8-5.8h0m-.9 0h0m-5.8 1.4h0m-1.7 2.7h0m-.3-2h0m-1.6-.4h0m-.5-1.7h0m-.8 4.7h0m-.6-3.7h0m-1.6 2.3h0m-.8-1.1h0m-10.4 9.4h0m1.5-3.5h0m.1 2.8h0m2.3-1.1h0m.7-.8h0m1 .5h0m.7 2.1h0m.2-4.6h0m.2 2.6h0m.5 .4h0m.8 .2h0m.3-3.3h0m.3 .8h0m.5-1.7h0m1.4 .2h0m1.1 1.8h0m.3-.6h0m2.9-1.4h0m24.3 2.6h0m3.2 2.6h0m1.8-.7h0m.8-.3h0m.6-3.6h0m.1 3.7h0m.1-2.4h0m1.2 1.2h0m.4 1h0m1.7-1h0m2 1.7h0m1.3-3.1h0m2.2 1.1h0m.8-.2h0m1.7-.5h0m-16 8.3h0m-3.6 .5h0m-1.3 .1h0m-.7-2.4h0m-1.3-.1h0m-4.1 .6h0m-.4 2.5h0m-.5-.7h0m-26.5-3.4h0m-.2 .2h0m-.3-1.3h0m-3 .2h0m-.6 2.8h0m-.2 .4h0m-.2-.7h0m-1.5-.4h0m-1.2 .1h0m-.7 1.8h0m-1.5 1.2h0m-1.6-.3h0m-1.8 .3h0m-8.1 4.1h0m.7-.3h0m0 2.3h0m1.5-3.5h0m.3-.2h0m3 2.8h0m3.8-3.4h0m.3 2.4h0m1-2.5h0m3.2-1.5h0m20.6 3.6h0m3.8-1.5h0m.2 .3h0m1.2-1.5h0m5.6 2.5h0m.7-3h0m2 5.1h0m-6 4.8h0m-2.2-2.9h0m-2.4-1.4h0m-.5 1.4h0m-.6 3.5h0m-.6-4.8h0m-.6 4.4h0m-.3-3h0m-5.5 3.8h0m-.7-4.5h0m-1.1 5h0m0-3.8h0m-21.2-1.9h0m-.8 .5h0m-.6 1.1h0m-1.8 .5h0m-1.4-.1h0m-3.9 1.1h0m-1.1-2.3h0m-.1 1.7h0m-.1-1.6h0m-1.5 2.6h0m-.2 1.1h0m-.8 1.1h0m-3.1-.1h0m-3.9 3.8h0m.6 2h0m.3-3h0m1.3 3.2h0m1-.6h0m2.8-5h0m0 .2h0m4.2 2.2h0m20.6 .1h0m.2-.8h0m3-1.5h0m6.3 2.1h0m.3-.4h0m1.9-.3h0m1.3 1.6h0m0 1.5h0m5.9-2.5h0m-14.3 4.7h0m-1.6 1.1h0m-1.2 2.3h0m-1-3.7h0m-.7 1.4h0m-1.9 3.5h0m-2.2-5.1h0m-8.2 3.2h0m-15-2.6h0m-1.7-.4h0m-1.6 1.3h0m-.1-2h0m-.9 3.6h0m-1.9-2.4h0m-.3 4.4h0m-1-.9h0m-.2 .5h0m-.4-4.2h0m-.4 2.6h0m-.5 1.9h0m0 .3h0m-.4-2.1h0m-.8 1.3h0m-.6-1.6h0m-1.3 2.1h0m-.5-1.3h0m-7.9 6.9h0m1 .6h0m.9-1.6h0m4-2.9h0m2.1 1.1h0m.6 .3h0m.3 .6h0m.2-3.1h0m1.1 4h0m.9-.5h0m17.5 2.1h0m.5-.9h0m4.8-1.1h0m.1-.1h0m1.9-.9h0m2.1 3h0m2.3-2.8h0m1.5 2.2h0m5.6-3.3h0m2.3-1.5h0m-11.9 6.1h0m-5.9 2.5h0m-4.1 1.7h0m-2.4 .2h0m-3.2-1h0m-17.2-2.7h0m-.5-.4h0m-.7 .8h0m-.2 2.6h0m-.5-2.8h0m-.2 .1h0m-2.3-.6h0m-2.3 1.6h0m-.3 3.2h0m-.2-4h0m-1.1 4h0m-7.9 4.9h0m.3-.6h0m1.3 .4h0m.6-1.6h0m1.3 1.8h0m.5-3.9h0m.5 2.1h0m1.5 1.6h0m.1 .9h0m1.5-4.3h0m1.3 2h0m1.4-1.4h0m0-1.3h0m26.6 3.9h0m-34.9 4.4h0m-.3-.8h0m-.8 .5h0m-1.4 .9h0m-.2 .1h0m-.1-.9h0m-.2-.1h0m-.8-.5h0m-2.1-.3h0m0 2.4h0m-1 1.7h0m-1.9 .3h0m-.2-1.1h0m-2.2 1.3h0m.1 1.3h0m1.2 1.5h0m1.2-.8h0m3.4-1.7h0m1.4-.2h0"/>
<path stroke="#8E1F33" stroke-width="2.3" d="M1163.5 328.2h0m4 7.2h0m-.9-1.2h0m-.7 .5h0m-.9-.4h0m-2.2-1.7h0m-1.3 2h0m-.7-3.3h0m-4 1.8h0m-.8 1.2h0m-3.3 1.5h0m-4.2-.2h0m-17.7-1.2h0m-2.1-1.5h0m-2 .4h0m0 1.6h0m-.2-2.3h0m-.3-2h0m-1.3 3.8h0m-.3-.7h0m-.8-2.9h0m-.6 1.2h0m-.1 2.1h0m-2.9 .5h0m-.8 1h0m-3.6-.9h0m-.6-.3h0m-1.3 .1h0m-13.6 6.7h0m.7-.5h0m1.5 .9h0m2.4-1.1h0m0 .9h0m.1-2h0m.3-.4h0m.4 1.9h0m.7 .9h0m1.4-3.1h0m.5 0h0m.4 1.6h0m.8-2.9h0m.2 1.5h0m.1 1.6h0m1.2 1.2h0m.8 .2h0m.1-5.2h0m.6 3.5h0m2.7-3.7h0m.2 2.8h0m.7-1.4h0m.3-1.4h0m1.4 3.1h0m.6-3.3h0m.4 2.8h0m.5-.7h0m1.1-.7h0m1.1-1.5h0m.4 1h0m.5-.9h0m1.2 1.4h0m16.1 3h0m1.7 1h0m3.7-3.5h0m3.3 .1h0m4.2 .2h0m.9-.5h0m.7 1.9h0m.5-3h0m.9 4.6h0m.9-3.2h0m1.2 2.4h0m2.4-.6h0m-6.9 3.4h0m-1.7 1.2h0m-3.1-1h0m-4.4 .1h0m-5.6 2.9h0m-.7-.2h0m-1.3-3.3h0m-.1 3.6h0m-4-1.5h0m-3.4 1.9h0m-20.7-4.6h0m-1.3 1.2h0m-2.7-.5h0m-.3 .3h0m-1.5-.2h0m-.2 3.3h0m-.7-2.6h0m-1.3 .4h0m-.4-.5h0m-.3-1.8h0m-.2 3.7h0m-.9-3.1h0m-.1 2h0m-.4 0h0m-2.8 0h0m-1 1.1h0m-1.4-.1h0m-2.8 1.2h0m-6.8 6.1h0m.2-.9h0m.2-.3h0m.9 1.2h0m0-2.8h0m.5 .4h0m2.1-1.3h0m.3 .2h0m.6-.6h0m.1 .6h0m1.6 1.8h0m.2-1.7h0m.6-.1h0m.1 3.7h0m2.9-2.5h0m.7-1.5h0m1.6-1.1h0m0 .3h0m1-.4h0m23.1 4.9h0m.8 .6h0m1.1-1.2h0m2.5-1h0m1.4-1.3h0m2.2-1.6h0m6 1.4h0m1.7 3.7h0m2.4-3.5h0m-8 5.3h0m-1.3-1.3h0m-2.2 2.3h0m-.5 1.9h0m-2.7-.9h0m-1-1.5h0m-.5 2.4h0m-.7-2h0m-.6 .1h0m-.2 3h0m-.5-3h0m-1.8 2.8h0m-.6-1.4h0m-1-3.2h0m-3.9 2.4h0m-3.3 2.1h0m-20.6-4.4h0m-2.9 1.4h0m-.9-.6h0m-.2 .8h0m-.1-1.4h0m-1.4 2.7h0m-.1-.9h0m-.1-.7h0m-1.1-.2h0m-1.5 1.7h0m-.6-2.1h0m-.5 0h0m-.2 2.3h0m-1.3 .1h0m-.9-.1h0m-3 2.1h0m-1.4-.9h0m-7.3 4h0m.4 2.2h0m.1-2.3h0m.1 3.1h0m.5-.7h0m1.1-2h0m.1 1.4h0m.7-2.5h0m.2 3.5h0m.2-5.2h0m.3 5.2h0m1-4.3h0m1.3 1.5h0m.4-1.4h0m.1 2h0m1.6 .8h0m0-2.5h0m.9 2.3h0m.2-1.6h0m3.6-2.4h0m1.2 .4h0m.6-.3h0m.2 .4h0m25.8 1.7h0m.2 1.3h0m4.4-3.2h0m.1 4.1h0m2-2.2h0m0-.8h0m2.3 1.1h0m2.1-2h0m1.3 2.5h0m.1-1h0m-7.2 5.1h0m-.6-1h0m-1.3 3.5h0m-1.7 1.6h0m-1.5-2.2h0m-1 .7h0m-.8-3.6h0m-2.2 2.5h0m-.4 3h0m-.3-4.6h0m-4.4 3.4h0m-1.1-1.2h0m-2-1.2h0m-.4 .1h0m-3.6 3.7h0m-25.5-1.3h0m0-.3h0m-.2-.5h0m-.5 0h0m-1.3 .1h0m-.1-1.7h0m-.2 3.7h0m-1-2.8h0m-.3 0h0m-.7-2.5h0m0 .2h0m-.6 1.5h0m-.1-.2h0m-.1 2.7h0m-1.5-.2h0m-.4-1.9h0m-2.5 2.5h0m-1.2 .6h0m-7.2 5.8h0m1.4-1.4h0m2.1 1.5h0m2.5-1.8h0m.4-1.1h0m.2-2.6h0m.2 4.1h0m1-4h0m1.9 1.3h0m0 .5h0m1.5-.6h0m.9 .2h0m.4-.5h0m22 2.1h0m.6 2.6h0m1.6-.9h0m.3 .5h0m0-3.7h0m.5-.3h0m2.7 1.8h0m3.1 .8h0m3.4 .7h0m.8-.8h0m6-.7h0m-5.7 4.2h0m-.9-.7h0m-5 3.3h0m-2.2 1.7h0m-.1-.4h0m-1.3-4.1h0m-.8 4.4h0m-.3-3.1h0m-.9 .8h0m-.6 .8h0m-.9-2.6h0m-.3-1.5h0m-1.7 1.2h0m-1.3 .9h0m-.3-.1h0m-3 2.6h0m0 1h0m-21.6-4.9h0m-2.9 2.1h0m-.2-.5h0m-2.1 .2h0m-.6 1.7h0m-.4 0h0m-.1 .9h0m-1.2-3.4h0m-1.6 0h0m-.6-1h0m-2.3 5.1h0m-.4-1.7h0m-8.4 7.7h0m.3-1.8h0m.8 1.2h0m.2-2.1h0m.6-.9h0m.6 2.9h0m2-1.9h0m.6 1.1h0m1.1-2.7h0m.3 1.2h0m4-1.7h0m.9 1.6h0m.4-1.1h0m.1-.4h0m0 .5h0m1.1-.5h0m15.6 4h0m7.1-2.1h0m2.5 .7h0m2.6-2.7h0m1.5 3.5h0m3.6-3.2h0m1.7-.6h0m4.8-.3h0m-14.4 7.9h0m-5.4 1.3h0m-2.5-2.7h0m-.1 2.2h0m-1.4-2.6h0m-1.8 3h0m-.1 .5h0m-.6-1.6h0m-.1 3h0m-1.4-1.8h0m-2 1.4h0m-15.9-5.1h0m-.2 .4h0m-1.9 .8h0m-1-1.1h0m-1.3 3.9h0m-.4-3.9h0m-.7 .7h0m-1.7-.2h0m-.5 4h0m-.1-2.7h0m-.2-.7h0m-.9 2.7h0m-2.6-.9h0m-.5 .8h0m-.8 2.1h0m-1.1-.8h0m-6.3 5.1h0m1.5-.5h0m.6-1.3h0m.9 .9h0m.7 2.4h0m.3-4.3h0m.9 2.4h0m.6-1.3h0m.5 .3h0m.4 2.6h0m.4-1.2h0m2.6-.9h0m2.1-2.2h0m15.1 1.6h0m1.4 1.1h0m3-3.2h0m.5 1.2h0m.2 4.1h0m3.3-2.1h0m.4 1h0m1.4 .8h0m.1-2h0m.8 .6h0m4.8-3.8h0m4.3 1.2h0m-9.5 4.5h0m-1.3 1.6h0m-3.8 .9h0m-2.7 1.2h0m-2.8 .5h0m-1.7 .6h0m-2.8-4h0m-3.9 .8h0m-1 2h0m-15-1.2h0m-1 1.1h0m0 .8h0m-1.1 1.3h0m-1.3-.8h0m-.3-4.1h0m-1 .4h0m-1.2 2.5h0m-.1-1.4h0m-.3 3.6h0m-.5-.5h0m-1.5 .1h0m-.5-.1h0m-1.1-.4h0m-6.4 5.3h0m2.8-1h0m1.1 .1h0m.1-2.7h0m.4 2.6h0m1-2.6h0m1.8 2.9h0m.1-2h0m.5 2h0m.4-1h0m.2-2.1h0m.8-.3h0m1.6 .8h0m.3 1.2h0m23.4 .8h0m4.6-1.4h0m2.2-.3h0m.9 0h0m-6.4 4.9h0m-30.5 .6h0m-1.1 .8h0m-.9 1.1h0m-1.6 2.6h0m0-1h0m-.3-4.2h0m-.7 1.3h0m-2.2 1.9h0m0-1.1h0m-.3-.3h0m-.8 3.6h0m-.4-3.7h0m-3 2.7h0m-.7 4.6h0m.2-1.5h0m1.2 2.3h0m.1-3.8h0m.2 4.5h0m.7-1h0m2-.5h0m1.2-1.8h0"/>
<path stroke="#A22E2E" stroke-width="1.6" d="M1160 332.9h0m-2.8 1.2h0m-1.5 1.8h0m-27.1-1.8h0m-.1-.5h0m-2.7-3.1h0m-1.4 .1h0m-1.5 4.9h0m-1.5-1.4h0m-17.8 6.3h0m6.5-1.8h0m3.4 1.3h0m2.2-.9h0m4.6-.6h0m34.1 1.6h0m6.6-.2h0m-10.8 2.4h0m-.2 .9h0m-3.1-.3h0m-5.2 0h0m-1.8 5h0m-9.2-.4h0m-.6-1.1h0m-23.9-2.1h0m-1.5-1h0m-3.3-.5h0m-.3 .4h0m-1.6 3h0m-3-1.6h0m-1.4 1h0m-3.3 1.5h0m-6.2 4.1h0m5.6-.5h0m1.9 1.8h0m.4-.2h0m1-2.3h0m26.2 1.5h0m4-2.9h0m1.9 4.9h0m3.5-1h0m4.6-1.9h0m.5 2.5h0m.8 1.3h0m-3.5 0h0m-.2 1h0m-2.9 2.7h0m-2.1-1h0m-3-2.8h0m-.9 2.4h0m-5.7 .1h0m-1.2 .9h0m-1.4-3h0m-.6 4.8h0m-.6-2h0m-.4-2.4h0m-.2 1.7h0m-6.6 2.5h0m-19.1-3.5h0m-.7-.1h0m-4.9 2.7h0m-1.2 1.1h0m-1.9 .2h0m-3-2.6h0m-14.6 8.3h0m9.1-1h0m34.2-2.2h0m1.6 1.3h0m2.1 .4h0m4.5-.3h0m.1-1.4h0m3.9 3.3h0m2.9-5h0m.3 .4h0m-17.3 9.9h0m-1.2-1.2h0m-1.1-.5h0m-2.6 0h0m-.2-1.7h0m-1.1-.8h0m-2.2 3.4h0m-5.6 1.3h0m-22.3-2.1h0m-.4-2.7h0m-.2 .7h0m-1.9 .1h0m-3.7 4.6h0m0-4.9h0m-2.7 3.7h0m-3.2 .6h0m-2.6 5.7h0m3.9-1.6h0m.6 .9h0m24.2-1h0m1.2 1.2h0m1.2-2.2h0m0 2h0m6.3 1.4h0m8-1.8h0m7.3-3.5h0m-14.8 9.5h0m-2.9 .7h0m-.6-1.3h0m-3.5-.2h0m-3.2 2.3h0m-2.7-2h0m-2.9-1.9h0m-24.3-.1h0m-.6 .5h0m-.7 .3h0m-.1-2.1h0m-1.2 1.9h0m-6.9 2h0m-5.5 4.9h0m38.6 2.1h0m4.4-.3h0m1.5-1.6h0m-11.4 4.8h0m-1.3 1.5h0m-.6-.8h0m-1.1-2h0m-6.7 2.7h0m-1.8-1.9h0m-.8 .6h0m-21.2-1.9h0m-.7 1.5h0m-.6 1.7h0m-.9-.2h0m-1.5-2.4h0m-11.5 8.9h0m4.1-1.4h0m4 .3h0m16.8 3.4h0m6.2-5.1h0m2.3 1.8h0m9.1 1.5h0m-6.8 3.8h0m-1.5-1.3h0m-.3 .9h0m-3.4-.8h0m-1.7 0h0m-1.3 4.2h0m-3.9 .6h0m-6.7-.8h0m-16.4-4.3h0m-5.6 2.5h0m1.2 5.1h0m1.4-1.7h0m20.5 1.6h0m6.8-1.3h0m.1 3.4h0m.5-2.3h0m-40 6.9h0m-.2-1.8h0m-.5 3.2h0m-4.6 .9h0m-1.2 3.8h0m.3-2.2h0"/>
<path stroke="#A22E2E" stroke-width="2.3" d="M1166.6 333.5h0m-.1 .1h0m-1 .8h0m-1.1-.4h0m-1.8-3h0m-2.5 3.9h0m-1.3-4h0m-5.6 4.5h0m-25.5-2.6h0m-.1 .7h0m-.6-2.9h0m-1.5 1.1h0m-.2 1.9h0m-.3-3.1h0m-.7 1.3h0m-.4 1.1h0m-.5-1.3h0m-4.3 3.5h0m-15.6 4.9h0m3.3-1.6h0m.6-.5h0m.3 3h0m1 .2h0m1.2-1.9h0m.4 1.7h0m.5-1.1h0m0 1.1h0m3.7-2.1h0m7.6-2.5h0m20 5.3h0m2.4-1h0m6.6 .8h0m1.1 .1h0m.3-5.5h0m0 5.2h0m1.8-2.5h0m.6-2.3h0m.4 2.2h0m1.7-1.3h0m.9 2.7h0m3.3 .7h0m1.5-.4h0m-7.1 3.2h0m-2 1.3h0m-3.2-2.8h0m-.3 1.3h0m-.1 1.7h0m-.7-2.1h0m-1.3 4.1h0m-4.7-2.7h0m-1.6-2.2h0m-4 1.8h0m-.9-1.2h0m-3 2.2h0m-.3 2.9h0m-.7-1.6h0m-26.2-4h0m-2.8 3.9h0m-.6-.1h0m-4.2-1h0m-.2-1.2h0m-1.9 2.7h0m-2.6-.9h0m-.2 .5h0m-10.6 5.2h0m.6 1.4h0m.8-.9h0m.3-.9h0m.3 1.1h0m5-.3h0m3.9-3.2h0m.5 1.1h0m1.5-.1h0m1.8-.3h0m28.6 .1h0m.3 0h0m5.3 3.8h0m8-3.6h0m2.5 .4h0m-17.7 6.9h0m-.1 2.5h0m-1.7 .2h0m-2.6-5.1h0m-1 2.7h0m-4.9 2.7h0m-1.7-.3h0m-6.6-.2h0m-1.1 .5h0m-24.4-1.8h0m-3.3-2h0m-12.5 7.8h0m1.3 .5h0m0 .3h0m.3-2.6h0m7.3-.3h0m.6 .5h0m.5 .4h0m28.8 0h0m8.5 1.1h0m.4-.3h0m2.5 .7h0m-6 1.9h0m-.7 2.2h0m-1.1 .2h0m-2.2-2.4h0m-.9 4.1h0m-6.2-3h0m-6.7 1.7h0m-3.4 2.9h0m-20.2-4.2h0m-1.3 1.4h0m-.5-2.1h0m-2.3-.6h0m-1.6 5.1h0m-2.6-.4h0m-13.2 5.3h0m3.5 .2h0m1.8-2.1h0m0-1.9h0m.5-.4h0m.3 1.6h0m2 2.6h0m.3 1.1h0m26.6 .3h0m4.9-5.1h0m.6 2.2h0m5-1.3h0m.5 1h0m.3-1.9h0m2.9 2.3h0m.4 3.1h0m2.1-1.7h0m.1-3.1h0m1.1 .1h0m-5.7 6.2h0m-.8 0h0m-1.8-.2h0m-2 2.6h0m-2.4 1.5h0m-1.3 .2h0m-1.2-2.4h0m-2 .3h0m-2.1 .4h0m-1.9-.2h0m-1 2.1h0m-1.5-1.9h0m-4.6 0h0m-23-.6h0m-4.3 .2h0m-.3-3.1h0m-1.5 5.2h0m-10.2 4.5h0m.3 1.8h0m4.7-1.8h0m1.2-3.3h0m4.8-.6h0m1.8 .7h0m20.9 2.7h0m4.8 .6h0m1-3.1h0m1.8 2.5h0m2.4-1.8h0m1.5 2.8h0m.8-.8h0m2.7-1.7h0m2.6 .2h0m-8.3 3.8h0m-3.2 2h0m-4.1 1.3h0m-1.6-1.7h0m-8.6 2.7h0m0 0h0m-4.8 1h0m-.2-.7h0m-15.6-2.9h0m-4.4 .3h0m-2.7 .9h0m-1.7 2.1h0m-.4-2.1h0m-7.5 6.1h0m3.7 1.1h0m2.1-2.5h0m.2-.2h0m19.3 4h0m6.3-4.1h0m.9 .3h0m2.1-1.1h0m.4 .8h0m3.1 4.5h0m5.8-3.7h0m-11.2 4.3h0m-1.9-.4h0m-4.7 4.6h0m-1.8-3.5h0m-2.6-.7h0m-.1 4.7h0m-1.4-1.3h0m-1.9 1.6h0m-1.5-3.2h0m-15.1-2.2h0m-2.5 3.3h0m-.3-.6h0m-.4-.9h0m-1.4-.8h0m-2.3 1.8h0m-.4 .6h0m-2.4 0h0m-.7 .9h0m-.7 1.3h0m-7.6 6.1h0m.4-.2h0m3-1.3h0m.2-1.1h0m1.2-1h0m.4 1.7h0m.6 .2h0m2.8-3h0m2.2 1.1h0m22.5-2h0m-27.8 6.6h0m-2.3-.3h0m-1 2.5h0m-2.9-2.3h0m-3.4 3h0m-1.3 2.4h0"/>
<path stroke="#DDBE82" stroke-width="1.6" d="M1122.6 329.4h0m.2 0h0m10.2 5.5h0m-.1 .1h0m-12.9-4.1h0m0 .2h0m-.7-.5h0m-1 1h0m-2.4 .3h0m-1 .2h0m-.7 .9h0m-2 .3h0m-1.9 1.3h0m-.3-.2h0m-1.2 1.1h0m-1.4 .1h0m-.7 .3h0m-1.6-.2h0m-.1-.2h0m-9.4 5.5h0m.1-.4h0m.1 .8h0m.3-.2h0m1.1-.5h0m3.8-2h0m4.1-1.7h0m.2-.3h0m10.5 4.9h0m.8 .2h0m.7-.8h0m2 0h0m.6 .4h0m1.4-1.7h0m.3 .7h0m.2 .3h0m.6-.3h0m1.4-2.1h0m1.3 1h0m2.9-1h0m1.5-1.9h0m.9-.3h0m1.1 .2h0m-15.9 6h0m-.3 .9h0m-.6-.6h0m-.7 0h0m0 .7h0m-.3-.1h0m-2 1.9h0m-.4-.1h0m-.6-.6h0m-1.9 1.4h0m-.3 .9h0m-.7-.1h0m-1.3-.3h0m-.2 .8h0m-.5-.1h0m-11.2-4.3h0m-.9 .3h0m-.6 .9h0m-2.6 .9h0m-2.1 .5h0m-1.9 1.7h0m-2.1 .7h0m-.5-.3h0m-8.2 6h0m.6-1.2h0m2.3-1.5h0m1.5-.4h0m.1 .5h0m4.9-2.8h0m2.4 4.6h0m10.3-.7h0m2.3-.7h0m0 .6h0m.7-2h0m.1 .4h0m1.2 .2h0m.5-.1h0m.7-.6h0m-9.1 5.5h0m-.1-.9h0m-1.7-.3h0m-.4 4.3h0m-.5-3h0m-.2 1.8h0m-.1 2.5h0m-.2-3.4h0m-.2 .7h0m-.5 2.3h0m-.6-2.4h0m-.2-2.5h0m-2.5 4.8h0m-.7 .3h0m-.4-.1h0m0-.6h0m-1.5 1.2h0m-10.4-4.9h0m-.3-.9h0m-.7 1.7h0m-2 1.1h0m-1.3 .6h0m-.7 .2h0m-1.3 1.6h0m-1.5-.9h0m-11.4 7.2h0m1.1 0h0m.9-1.3h0m.2 .1h0m.3 .5h0m.8-1h0m.8-.2h0m0 .3h0m.2 .8h0m2.1-2.6h0m.1 .8h0m3-2.4h0m12.2 4.4h0m2.6-1.3h0m.2 .7h0m.8-1.3h0m.7 .7h0m.3-.3h0m0-1.2h0m1.3-.3h0m.6 .2h0m3.1-1.9h0m-10.7 6.8h0m-.1-.2h0m-.6 .5h0m-.2-.5h0m-.1 1.2h0m0-1.5h0m-1.4 1.3h0m-1 .2h0m-.1-.4h0m-.8 1.9h0m-.8 .2h0m-.1 .4h0m-1.3 1h0m-1.7 .6h0m-18.2-.4h0m-.1-.3h0m-.8 .6h0m0-.7h0m-6.9 5.6h0m.3-.2h0m.4 0h0m.7-.2h0m0 .3h0m.1-1h0m.8 .1h0m.9-.9h0m2.2-.9h0m.1 .2h0m12.8 2.8h0m.7 .6h0m.3-1.9h0m0-.1h0m.5-.7h0m.5 1.2h0m.1-.7h0m.3-.2h0m.8-1.5h0m.4 1.1h0m.2 .2h0m1.4-1.2h0m.7 .3h0m12.8 2.5h0m.2-.3h0m.3-.2h0m.8 0h0m1.1 1.3h0m.3-.5h0m1.1-1h0m-.5 3.5h0m-22.8-.5h0m-.3 .1h0m-.4-.5h0m-.7 1.7h0m-.3-1.3h0m-.3 1.8h0m-1.4 .2h0m-1.5 2.2h0m-10.3-2.6h0m-1.3 1h0m-2.1-2.1h0m-.6 4.4h0m-1.3-4.2h0m-.4-.1h0m0 1.3h0m-.7-.3h0m-.9 2.2h0m-.8-1.1h0m-9.6 7.5h0m.7-.3h0m2-.7h0m1-.9h0m1.9-1.4h0m.3 .1h0m.1-.1h0m.5-1.4h0m.8 1h0m.4-1.2h0m3.9 4.5h0m.2-.7h0m.6 1.9h0m.2-5.3h0m1.5 2.3h0m1 3.1h0m.5-2.8h0m0-2.2h0m.6 3h0m.9-3.8h0m.6 5.4h0m0-3.9h0m.5-.3h0m.4 4.6h0m0-.9h0m0-4.9h0m.1 5.7h0m.3-.9h0m.6 .4h0m.1-1h0m.3 1.4h0m1-2h0m.1-.1h0m1.2-1.1h0m.1-.2h0m1.8-1.1h0m.3-1h0m0 .4h0m.1 1.3h0m.1-.1h0m.7-1.5h0m.5-.1h0m-7.3 6h0m-2.1 2h0m-1 .7h0m-2.3 1.4h0m-.7-1.3h0m-.2 2.4h0m-.5-4.4h0m-.9 4.8h0m0-.7h0m-2.2-3.9h0m-10.2 .9h0m-.4-.5h0m-1.8 2.4h0m-.4-1.6h0m0 .1h0m0 .8h0m-1.4 .4h0m-7.7 7.8h0m2.1-.6h0m.7-2.8h0m.7 .8h0m.2-1.1h0m1.2-.5h0m1.2-.5h0m11.9 3.6h0m.1 .7h0m.6 0h0m2.5-2.5h0m1.6-2.3h0m.1 .2h0m-5.6 6.5h0m-2.8 2h0m-1.1-.2h0m-.8 1.8h0m-1.3 .1h0m-.6 1h0m-11.1-4.6h0m-.3 .5h0m-.3 .3h0m-.3-1.5h0m-.5 .3h0m-.2 .7h0m0 .3h0m-.7-.5h0m-.7 2.3h0m-.7-.5h0m-.1 1.8h0m-.4-1.5h0m-1.4 2.5h0m-.5-.5h0m-.5-.1h0m0 .4h0m-6.4 5.3h0m.4 .9h0m.4 0h0m.1-1.5h0m.7 .4h0m1.2-.4h0m1.8-1.6h0m.9-1.7h0m.6 .3h0m.2-.4h0m0-.6h0m.1-.1h0m11.2 5.6h0m1.8-1.3h0m.4-.3h0m.6-.6h0m.2-.2h0m1.2-.3h0m.4-2.5h0m1.2-.2h0m.1 0h0m92 4.4h0m6.6-2.2h0m-5.1 5.6h0m-1.6-.3h0m-2.4 1.6h0m-1.4 2h0m-1.3 .1h0m-.6-.1h0m-.6-4.5h0m-87.3 2.5h0m-6-2.6h0m-1.2 3.6h0m-.1-1.3h0m-.4 2.1h0m-14.1-4.3h0m-4.9 3.7h0m-.5 .2h0m-.1 6.5h0m11-.3h0m1-1.4h0m.4-.9h0m2-.9h0m.3-.1h0m.6-1.7h0m1 .3h0m.3-.2h0m5.5 .3h0m1.2 3.6h0m1.2-2.3h0m.4 .2h0m74 4h0m9.9 0h0m1.4-1.9h0m.2-.4h0m1.2-1.8h0m.7 2.3h0m1.4-.8h0m1.6-3.1h0m1.9 2.8h0m.2 .3h0m-4.6 7.2h0m-1.4 .3h0m-6.3 .2h0m-.5-4.5h0m-1.9 5.2h0m-.1-5.1h0m-1.4 3h0m-.1 1.8h0m-1.6-4.5h0m-2.5 5h0m-5.3-1.5h0m-75.9-1.5h0m-5.4-2.2h0m-.7-.4h0m-.4 1.4h0m-4.8 3h0m-.1-2.1h0m-8.2 1.4h0m1 5.5h0m9.8-2.1h0m83.2 .4h0m6.5 2.6h0m2-3.5h0m.8 2.9h0m1.1 .5h0m.3-3h0m.3 3.6h0m7.3-2.5h0m.7 0h0m1 .3h0m1.4 .9h0m1.2-1.3h0m.4-2.1h0m-3 10h0m-.3-2.3h0m-5.3 3.6h0m-6.9-1.4h0m-4.7-3.2h0m-.9 4.1h0m-.7-.4h0m-2.7-3.4h0m-.8 4.1h0m-2.3 5.2h0m1-.4h0m4.7-3.4h0m5.2 0h0m4.5 5.4h0m-6.5 5.2h0m-1.4-2.4h0m-2.6 .8h0m-.2-.6h0m-8.8-1.4h0m-3.7 1.6h0m-2.3 4.1h0m1-1.1h0m18.4-.1h0m5.7 1.3h0m-12.4 4.5h0m-1.6 3.6h0m-16.7 6.2h0m0 1.7h0m3.7 .2h0m.4-3.4h0m1.6 .2h0m2.1 2.9h0m13.4-.1h0m-4.9 1.5h0m-.7 .8h0m-8.2-.7h0m-.9 4.4h0m-.9-4.1h0m-.9 2.2h0m-7.1 2h0m0 .1h0m-4.1 1.8h0m11.9-1.3h0"/>
<path stroke="#DDBE82" stroke-width="2.3" d="M1087.4 353.3h0m.2-.1h0m4.2-.8h0m-1.4 6.9h0m-2.1-3.2h0m-3.6-.1h0m-5.6 20.9h0m3.2 1.3h0m-.3 .2h0m-.6-.2h0m-.3 .1h0m-.4 .2h0m-35.3 3.6h0m-1.3-3.3h0m-.4 3.4h0m-.2 1.4h0m-2.5-1.3h0m-1-1.9h0m0-.8h0m-.4 3.8h0m-1.1-.9h0m-1.5-2.4h0m1.5 4.7h0m.1 3.9h0m1.2-2.5h0m.9 .2h0m.6 2.1h0m0-2.4h0m1.2 1h0m.5-2.2h0m.5-.6h0m1.2-.3h0m-4.5 6.2h0m-4.6 1.4h0m-23.3 27h0m-.5 .3h0m-5.6 7.3h0m-10.6 2.1h0m-1.9-2.3h0"/>
<path stroke="#CDA765" stroke-width="1.6" d="M1123 330.6h0m-5.3 1.6h0m-2.4 .2h0m-1 .7h0m-5.2 2.5h0m0-1.5h0m-1.3 .5h0m-2.2 .5h0m-6 4.6h0m2.5-2.5h0m1.4-.9h0m-17.2 11.2h0m-11.3 5.7h0m1.5-.2h0m1.4-1.3h0m2.5-2h0m21.6 3.7h0m.2 .5h0m1.4 1.5h0m-.7 .9h0m-.8 .5h0m0-2.6h0m-.2 1.5h0m-.2 1h0m-.8 .4h0m-.3-1.9h0m-13.8 3.6h0m-28.9 5.1h0m3.8-1.5h0m17.6-.7h0m.8 2.8h0m1.1-.4h0m1-.6h0m2 .9h0m2-3.7h0m.6 4.1h0m1.5-1.2h0m6.8-.9h0m.3 2.6h0m.7-.2h0m.1-.4h0m.2-2.5h0m.2 1.7h0m.5-1.6h0m.2 2.1h0m.3-.9h0m.3 1.7h0m-13.2 1.2h0m-4.7 2.3h0m-1.5 1.4h0m-.3 .9h0m-.2-.2h0m-.2-.5h0m-3-.7h0m-6.7 1.5h0m-1.4 0h0m-10.6 .1h0m-1.9-4.5h0m-4.3 4.5h0m5.3 2.3h0m1.2 1.1h0m.1-2.6h0m1.2 4.4h0m1.6-3.2h0m8.5 3h0m0-1.4h0m.4-.7h0m.1 2.2h0m.5-.2h0m.2 1.7h0m0-2.8h0m.2-3h0m0 5.7h0m.1-.4h0m.1-.3h0m0 .7h0m.2-5.2h0m.3 4.8h0m.3-3h0m0-2.2h0m0-.1h0m.1 .7h0m.2 4h0m.2-3.4h0m0 .6h0m.2 2.1h0m1.5 1h0m1-2.1h0m2.1-2.9h0m1 1.2h0m0-.1h0m3.2-.7h0m-26.8 10.6h0m-19.8 1.5h0m16.8 .4h0m.9-.7h0m.9 1.5h0m0-1.6h0m.2 2.8h0m.3-2.3h0m1.4 .2h0m-29.3 6.1h0m-3.3 4h0m-22.2 18.8h0m4.8-4.1h0"/>
<path stroke="#CDA765" stroke-width="2.3" d="M1102.8 353.8h0m0 .5h0m0 2.3h0m-.7-.7h0m-14.9 2.1h0m-6.3 .1h0m-.5 3.6h0m3.5 3.7h0m11.7-.5h0m.6 0h0m.2-2.1h0m.1-.6h0m-19.2 6.3h0m-.9 0h0m-.6 .4h0m-7.5 2.1h0m-.4 .2h0m-7.3 .7h0m-1.3-.6h0m-4.1 2.5h0m3.3-.7h0m.4 1.7h0m1.4-.9h0m.2 1.1h0m.6-.6h0m4.8-1.8h0m.3 2.5h0m1.2 .1h0m.7 .6h0m.4 0h0m.3 .5h0m.2-1.6h0m.2 3.1h0m.7-4.5h0m.6 1.5h0m.1-1.6h0m.2 2h0m1.9-.8h0m1.2 .6h0m1.3-2.8h0m-23.3 11.1h0m-1.5-.5h0m-1.2 3.1h0m.5-.6h0m2.5 0h0m.5 .8h0"/>
<path stroke="#D98C4A" stroke-width="1.6" d="M1124.5 329.7h0m0-.3h0m8.8 6.1h0m-11.5-4.8h0m-2.6 .5h0m-3.2 .7h0m-2.5 1.2h0m-.6 .9h0m-2.6 .4h0m-1.8 1.5h0m-.2-.8h0m-11.6 6.2h0m.8-1.3h0m.3 .7h0m.9-.6h0m2-2.2h0m.4 .6h0m2.4-1.3h0m1.7-1.1h0m12.7 4.9h0m3.2-1.8h0m2 1h0m.5-.4h0m1.2-.4h0m5.3-3.4h0m.5 .6h0m-23 10.8h0m-.4-1.3h0m-13.9-3.6h0m-.5 .7h0m-.1 .6h0m-3.8 1.8h0m-3.6 .7h0m-10.7 7h0m1.1 .2h0m2.6-2.2h0m2.2-2.1h0m13.3 4.7h0m2-1.2h0m.1 .4h0m3.9-2.7h0m.3 .8h0m.5-.6h0m-4.7 3.7h0m-2.6 1.3h0m-3.5 .6h0m-.5 1.5h0m-18.5-1.4h0m-.4-.1h0m-2.2 1.1h0m-2.8 2.4h0m-7.3 4.8h0m1.3-.2h0m.1-1.4h0m1.1-.5h0m5.4-2.4h0m10.6 4.7h0m.6 .8h0m2.7-1.4h0m0-1.5h0m.3 .7h0m.8 .4h0m4.3-2.8h0m-7.9 5.1h0m-3.1 .3h0m-.6 1.1h0m-3.3 3h0m-.3-.2h0m-.7 .2h0m-4 1.4h0m-11.7-4.9h0m-.2 .8h0m-.8-.2h0m-1.7 3h0m-.5 .2h0m-7.1 5h0m3.1-2.4h0m.7-.3h0m14.6 1.7h0m.3 1.4h0m.3-.7h0m.5-.9h0m.6 .6h0m1.4-2.5h0m.9 .3h0m.6-.8h0m.3 3.9h0m.9-2h0m.2 1.8h0m1.1 0h0m1.1-.2h0m.6 1.5h0m.4-3.5h0m.6 .8h0m-12.1 5.2h0m-.6 2.5h0m-.5 .8h0m-.7-4.4h0m-.7 .1h0m-.6 1.1h0m-.3 .7h0m-.3-.9h0m-.5-.2h0m-2 1.9h0m-.9 1.7h0m-.3 0h0m-1.3 1h0m-9.2-5.8h0m-2.5 .6h0m0 1.1h0m-1.5 .3h0m-.7 1.7h0m-.4 .3h0m-11.1 7.7h0m1.1-.6h0m3.2-2.6h0m1-1.1h0m.2 .5h0m14.9 3.5h0m2.4-2.3h0m1.1-.6h0m.2-1.5h0m2.6-1.1h0m-8 6.2h0m-1.6 1.7h0m-1.4 1.4h0m-.3-.3h0m-1.6 2h0m-16-3.4h0m-.7 1.9h0m-1.1 .7h0m-6.3 4.7h0m15 1.8h0m2-1.6h0m3.9-1.7h0m-7.2 5.7h0m-2.8 3.5h0m-.2-1h0m0-1.2h0m-.1 1.5h0m-1.7 .4h0m-.4 1.3h0m-17.3-1.2h0m-6.3 7.5h0m1.8-3h0m.4 1.4h0m2.7-2.5h0m12.1 3.9h0m3.5-4.4h0m1.2-.8h0m1.5-.3h0m97.2 2.5h0m-5.9 8h0m-1.4-.8h0m-3.8 1.8h0m-5.6-1.6h0m-87.3-3.9h0m-.6 .3h0m-2.3 3.2h0m-1.8 1.3h0m-.3-.3h0m-14.1-1.9h0m-.5-.9h0m-.1-.5h0m-.2 1.4h0m0 .2h0m-1 .7h0m8 7.4h0m.3 .3h0m3.6-3.6h0m89.8 2.7h0m1.1-1.3h0m.1 1.3h0m3.6 .3h0m1-4.1h0m4.7 7h0m-2.1 .3h0m-2.3 .6h0m-4.7 .2h0m-.6 0h0m0-.3h0m-1.8-1.9h0m-3.4 1.8h0m-2.3 2h0m-1.5 1.3h0m-85-5h0m88.7 8.5h0m1.4-3h0m4.6 .9h0m4.2 .1h0m.4 6.1h0m-3.5 2.9h0m-7.9-.2h0m-.7 1.5h0m-3.3-3.5h0m-1.9-.9h0m-.5-.6h0m12.5 17.3h0m-.4-1.9h0m-3.5 .9h0m-5.3-.2h0m-11.5-2.4h0m-2.5 .4h0m-.3-.9h0m-6.4 7.6h0m3.9 1.6h0m2.6-.3h0m19.2 .2h0m.6-2.6h0m-7.1 8.4h0m-11.1-.5h0m-.1 3.2h0m-8.3 9.6h0m-9 3.1h0m4 .6h0"/>
<path stroke="#D98C4A" stroke-width="2.3" d="M1068.4 373.8h0m.3 1.7h0m1.8-1.2h0m-11.6 5.9h0m-.6 .7h0m-.8 1.4h0m-1.3-2.4h0m-.4 2.6h0m-.2 0h0m-1-1.2h0"/>
<path stroke="#B8452F" stroke-width="1.6" d="M1164.1 333.9h0m-1.9 .3h0m-1.1-1.4h0m-1.6-2.1h0m-.2 3.6h0m-.8 1.6h0m-1.9-2.2h0m-15 6.3h0m3.2-1.1h0m1.9 2.9h0m9.8-2.5h0m.3 2.4h0m7.5-5.5h0m-16.5 9.1h0m-1.5-2.8h0m-2.2 3.9h0m-5.5-2.9h0m-11.8 3.8h0m-9.4 5.4h0m7.5-2.1h0m1.4 2.9h0m3.6-5.3h0m.7 .8h0m3.6 2.5h0m1.2-1.2h0m-10 6.5h0m-2.7-2.5h0m-5.1 3.6h0m-6 2.3h0m-3.6 9.5h0m-14.2-1.5h0m-8.5 9.5h0m3.2-3.8h0m8.2 3.9h0m.8-4h0m2.9-1h0m-18.3 8.4h0m-7.3 .2h0m-2.2 1.4h0m-15.1 7h0m13-2.1h0m3.1-1.1h0m4.6-.7h0m4.2 .3h0m-9 5.4h0m-2.7-.2h0m-5.2-1.4h0m-2.8 2.3h0m-.7 1.8h0m-6.4-.9h0m-8.9 4.1h0m2.5 .4h0m3.6 1.9h0m7.5 1h0m-8.5 4.7h0m-2 1.1h0m-.8-3.1h0m-.4 4.4h0m-8.9 1.3h0m4.7 2h0"/>
<path stroke="#B8452F" stroke-width="2.3" d="M1158.2 332.4h0m-18.5 8.2h0m3-1.5h0m2.8-2.1h0m7.1 4.8h0m4.6-4.9h0m.9 .6h0m-10.1 7.1h0m-1.7-1.3h0m-1.9 1h0m-.4 .1h0m-5.4 .7h0m-.8 1.6h0m-.4-1.7h0m-.2-.5h0m-2.4 2.9h0m-11.9 2.5h0m1.8-.1h0m1.3 2.2h0m1.1-2.8h0m3.4 2.7h0m8.5-3.7h0m-3.5 6.2h0m-2.2-.3h0m-9.4 1.1h0m-2.3 2.5h0m-5.1-1.9h0m-.4-.7h0m-1.5 4.8h0m-2.3-4.1h0m-.7 1h0m-.8 .1h0m-14.3 9h0m10.3-.3h0m.2-5.4h0m.1 3.2h0m1.4 2h0m3.1-1.9h0m4-2h0m5.2 1h0m2-1.6h0m-10.5 5.6h0m-1.4 1.7h0m-1.6 1.9h0m-.8-2.7h0m-1.8-.4h0m-2.3 4.3h0m-7.1 .1h0m-2.8 0h0m-1.5-2.3h0m-4.3 2h0m-5.8 6.1h0m3.4-4h0m6.8 .4h0m1.5 2.2h0m4.2 .1h0m-8.4 4.4h0m-2.2 1.2h0m-.7 .4h0m-.8-3.9h0m-1 2.7h0m-1.5 3.1h0m-.7-1.6h0m-1.7-4.1h0m-6 2.4h0m-.9-.4h0m-.8 1.5h0m-3.2-.4h0m-3.5 8.5h0m1.3-3.4h0m6.4 .1h0m2.2-2.2h0m5.3-.1h0m2.5 .9h0m-19.4 10.9h0m-.8-1.5h0m-1.8-3.6h0m-6.5 4h0m-.7-1.7h0m-3 2.6h0m-6.1 4.5h0m.4 .1h0m0-1.3h0m2.4 .6h0m.7 1.9h0m1.7-.6h0m3.8-2h0m3.6-2h0m1.8 2.1h0m-8.8 4.3h0m-1.4 2.6h0m-1.8 2h0m-.4-4.4h0m-3.2 2.6h0m-5.2-.7h0m-2.9-.6h0m.1 3.7h0m4.8 .3h0m1.1 2.7h0"/>
<path stroke="#B9D3A0" stroke-width="1.6" d="M1119.3 412.3h0m.3-3.8h0m.3 2.4h0m-2.7 6.5h0m0-.6h0m-.3-.9h0m-3.8 1.6h0m-1.5 .8h0m-.9 .7h0m-1.5-1.2h0m-1.6 0h0m-88-1.7h0m-2.9 1h0m-3 2.2h0m-10.1 4.4h0m11.7-2.2h0m1.2 3h0m78.8 1.1h0m8.7-5.6h0m0 5.2h0m.5-.8h0m2-3h0m.8-.6h0m5.5 3.1h0m-.2 2.2h0m-2.4 4.1h0m-4.3 1.7h0m-.8-5.4h0m-1 4.5h0m-4.9-2.4h0m-2.7 2.4h0m-3.1-3.7h0m-.8-1.2h0m-.4 5.2h0m-.5-5h0m-.2 5.5h0m-4.5-1.4h0m-78.4-1.3h0m-5 1.5h0m-.9-2.9h0m-5.7-1.5h0m-.5 1.1h0m-9.4 .9h0m94.8 8h0m1.9-2h0m.5 1.2h0m.9 1.9h0m2-2.9h0m.2 2.8h0m.3-1.2h0m.5 1.6h0m.9-2.8h0m.6 1h0m0 2.1h0m1.2-5.8h0m3 4.8h0m1.4-.3h0m.4-1.7h0m.4 2.6h0m.6-1.8h0m4.5 1.1h0m1.3-3.5h0m.2 3.1h0m.9 0h0m.1-1.9h0m.5-.3h0m2.4 .3h0m-1.2 3.9h0m-1.3 .8h0m-1.8 4h0m-6-1h0m-1.1-.3h0m-2.1-3.4h0m-4.2 1.7h0m-2.2 .7h0m-2.2 0h0m-1.5 1.3h0m-4.8 1.3h0m-2 5.1h0m.1-1.4h0m.7-.7h0m.1-2.4h0m2.3 4.4h0m1.1-1.5h0m1 .3h0m9.6-.1h0m.8 .3h0m9.2 1.4h0m-8 3h0m-.6 3.1h0m-.7-5h0m-2.1 1.1h0m-4.9 4h0m-2.2-2.5h0m-3.8 .1h0m-2.8 1.8h0m-6.7 5.8h0m1.7-3h0m.5 3.4h0m1.1-.2h0m.2-2.1h0m1.6-1.5h0m.5 3.1h0m2.3-1.8h0m1.1 2.4h0m.1-.3h0m1-.8h0m.6 1.7h0m.3-3.4h0m1 2.2h0m2.4-4h0m1.8 5.5h0m3.3-4.2h0m4.9 6h0m-.4 2.6h0m-6.9 1.7h0m-2.2-3h0m-.9 .9h0m-8.4-1.7h0m-1.8 3.4h0m-.2 .7h0m-5.5-2.9h0m-.2 1h0m-.1 1h0m-.6-.4h0m-1.8 5.4h0m.6-.7h0m3.2 1.6h0m7.1-1.5h0m5-.4h0m10.2-1.6h0m1 .2h0m-11 5.5h0m-6.4 3h0m-11.5-3.9h0m-1.5 .5h0"/>
<path stroke="#B9D3A0" stroke-width="2.3" d="M1020.2 414.4h0m-1.5 10.6h0m4.8-3.1h0m-25 5h0m-9.6 3.5h0"/>
<path stroke="#E3DCA0" stroke-width="1.6" d="M1118.1 410.6h0m.6-.5h0m.1-.6h0m-1.4 4.8h0m-1-.1h0m-.8 3.1h0m-.5-3.2h0m-.1 4h0m-2.4 .3h0m-.5 1.1h0m-96.7-.4h0m-13.2 4.2h0m5.1 .7h0m1-3.5h0m9.7 5.1h0m1-1h0m76.2-.6h0m.5 .6h0m1.9-2h0m1.4 0h0m4.1-1.6h0m2.3 3.6h0m3.1 .3h0m.4-2.7h0m.9 9.1h0m-1.6-1.7h0m-1.1-1h0m-.4-2.6h0m-1.3 4.3h0m-.4 .4h0m-3.5 0h0m-2.1-2.3h0m-.7-1.2h0m-1.9 2.5h0m-.7 2h0m-.8-4.7h0m-.4 3h0m-1.2-2.2h0m-5.2 .6h0m-2.9 1h0m-.7 1.7h0m-75.8-2h0m-.3 .2h0m-1.3-1.2h0m-2.9-1.7h0m-.6 4.7h0m-3.4-4.8h0m0 2.6h0m-.3-2h0m-5 3h0m-3-2.2h0m-4.9 .4h0m-.3 2.5h0m13.3 2.7h0m1.1-.4h0m.9-.7h0m82.4 5.2h0m2.8-1.5h0m1.5 .4h0m.7-2.5h0m1.8 1.3h0m.1-1.7h0m1.7 1.5h0m2.7-.6h0m.6 1.7h0m.4 .2h0m1 .5h0m2-1.4h0m1.6 1.7h0m2.3-2.2h0m3.4 .8h0m-6.6 8.2h0m-2.3-.3h0m-1.7-1.9h0m-2.9 .4h0m-.9-2.4h0m-2.6 1.2h0m-.2-2.6h0m-1 4.5h0m-.2 .4h0m-2.9-2.1h0m-1.6 .6h0m-1.6 .5h0m-4.1 1h0m-2.3 4.1h0m1.9-.6h0m.1-1.6h0m.8-.6h0m.3 4h0m1.3-.5h0m5.4-1.7h0m2.7 1h0m3.6-1.8h0m5.1 1.6h0m3.2 1.8h0m0 .5h0m.7-4.3h0m-3.8 10.3h0m-.6-1.7h0m-1.9-.9h0m-5.1-1.1h0m-.6-.6h0m-.3 4.1h0m-2.9-1.9h0m-1.1 2.7h0m-.3-3.9h0m-3.8 .8h0m-4.4 2.7h0m-.8-.7h0m-.4-2h0m-3.8 2.1h0m-.6 2h0m14.5 1.9h0m3.1 1.7h0m1.6-1.4h0m1.3 1h0m.4-.4h0m.6-3.5h0m1.7 4.4h0m2.6-4.4h0m-11 7h0m-6 4h0m-1.1-1h0m-1-3.1h0m-1.8-.8h0m-6.4-.3h0m-3.4 3.6h0m-.8 .7h0m-2.7 3.6h0m.1 3h0m1.1-.7h0m.2-.7h0m2.3-2.7h0m1.8 .1h0m2.8 5h0m1.1-5.8h0m6.6 1.5h0m1.8-.1h0m.5 2.3h0m.7 .9h0m7.5-.7h0m1.8-3.9h0m.8 1.4h0m-12.7 7.1h0m-5-1.4h0m-3.4 1.4h0m-2.3 2.6h0m-5.1-1.4h0m-5.9 3.9h0m4.9-1.3h0"/>
<path stroke="#E3DCA0" stroke-width="2.3" d="M1010.1 425.4h0m1-4.5h0m-.5 6.8h0m-.8 2.4h0m-9.8 1.4h0m-1-2.5h0m-9.7 4.3h0m3.5-.5h0"/>
<path stroke="#6FB5A8" stroke-width="1.6" d="M1115.3 417h0m-.5-2.6h0m-96.5 4.2h0m-14.1 5.5h0m2.2 1.1h0m7.8-2.6h0m85 1h0m13-2.3h0m-8.4 5.5h0m-8.1 4.2h0m-101.2-4.7h0m-6.7 6.4h0m4.9 .5h0m1.2 1.4h0m92.4 1.5h0m2.2-.6h0m.2 0h0m8.4 1.9h0m2.6 .4h0m-20.7 6.3h0m5.2 5.7h0m6.8-1.6h0m9.2 2.6h0m-19.4 1h0m-11.2 8.5h0m3.1 .1h0m20.5 5.4h0m-11.3-2.6h0m-.3 1h0m2.2 9.6h0"/>
<path stroke="#6FB5A8" stroke-width="2.3" d="M1018.4 417.5h0m-1 4.8h0m-13.1 7.4h0m-1 1.4h0m-1.9-3.5h0"/>
<path stroke="#8E1F33" stroke-width="1.6" d="M1000.4 295.5h0m-.1 1.2h0m-.9 .9h0m-1 2h0m-.5-.6h0m-1.2 .4h0m-5.8-.7h0m-.8 .6h0m-5.2 5.6h0m.7-3.3h0m1 2.2h0m.3 1.7h0m.3 .2h0m.3-3.1h0m.6 1.3h0m.5-1.3h0m.3 2.8h0m.1-3.6h0m1.2 1.9h0m0 1.6h0m.5-3.2h0m0 .8h0m1.4 2.5h0m.7-2.5h0m.1-.8h0m.4 3.4h0m.1-3.9h0m1.7 1h0m5.6 1.5h0m.7-2.7h0m.8 0h0m.3-.2h0m3.4 3.6h0m1.6-3.3h0m2.2 4.4h0m.4 0h0m100 4.7h0m-.6 .4h0m-.3 .6h0m-28.2 0h0m-68.8-5.1h0m-.5 5.1h0m-1-4.7h0m-.4 2h0m-1.3 2.7h0m-2.5-1.3h0m-3.9 1h0m-1.6 .1h0m-3-.5h0m-.2-.4h0m-.1-1.1h0m-3-2.9h0m-1.5 .1h0m0-.5h0m-.6 2h0m-1.7-1.1h0m-1.1 .8h0m-.4-.4h0m-1.3 .2h0m-.6-.3h0m-.1-.8h0m-.1 4.2h0m0-2h0m-.6 1.3h0m-.1-2.4h0m-.3 .5h0m-.5-.4h0m0 2.2h0m-.6-2.1h0m-.2 3.6h0m-1.4-1.9h0m-1.6 1.9h0m-.3-4.9h0m0 2.6h0m-.4-1.6h0m-6.6 4.4h0m3.1 4.1h0m1.2 1.1h0m0 .4h0m3.7-1.8h0m5.8-1.2h0m3.2-1.8h0m4.2-.2h0m1.9 2.6h0m3.3-1.9h0m1.8 1.1h0m.8-1.1h0m3.7 4.6h0m.8-1h0m2.8-1.4h0m.4-3.4h0m3.3 .4h0m65.6 .2h0m.4 1.1h0m1 1h0m1.3 .1h0m.2-.9h0m.3 3.2h0m.5-.3h0m.1-3.4h0m1.1 2.3h0m.1-.7h0m21.8-.3h0m.4 .8h0m.4-2.9h0m.4 .5h0m2.6 3h0m.1-2.3h0m.5-.9h0m.9-.3h0m56.8 9.8h0m-.3-.8h0m-.5 1.3h0m-1.7-3.4h0m-.2 2.7h0m-2.5-2.8h0m-3 .7h0m-1.9 1.6h0m-2.8 .4h0m-.5-.1h0m-1.9 .4h0m-.2-2.6h0m0 2.2h0m-.2 .5h0m-.8-2.6h0m0 3.8h0m-.3-1.9h0m-.3 2.1h0m-.8-.4h0m-.9-1h0m-1.6 1.3h0m-.1-3.1h0m-33.4 .6h0m-.4-1.7h0m-.8-.5h0m-.9 1.2h0m-.2 .5h0m-.3-1.9h0m-1.7 2.6h0m-27.7-2.9h0m-4.6 .4h0m-4.6 1.6h0m-.1-.8h0m-1.3 2.5h0m-3.3 1h0m0-1.1h0m-.3-1.5h0m-.9-.1h0m-75.8-.4h0m-2.2-.8h0m-.6 3.5h0m-.2-1.1h0m-2.2 2.1h0m-.7-1.8h0m0-.9h0m-.3 .7h0m-.4 1.9h0m-.3-3.1h0m-1.6 .4h0m-2.5 .5h0m-.6-3h0m-.4 5.2h0m-1.9-1.4h0m-.5-4.2h0m-.3 2h0m-1.4 3h0m-.1-2.4h0m-.4 .7h0m-.7-.7h0m-.3-.3h0m-.3 .5h0m0-3h0m0 4.4h0m-1.2-3.3h0m-.7 3.1h0m-.3-.6h0m-.3 .6h0m0 1.7h0m-1.1-2.1h0m-.3 1h0m-.5-2.8h0m-.1 2.5h0m-1.1-1.5h0m-6.4 2.2h0m-.6-2.3h0m-.9-1.7h0m-1.6 3.2h0m-3.1 .4h0m.6 6.7h0m4.6-4h0m.7 2.2h0m.3 .7h0m.2-.3h0m.3-2.3h0m1.2-.7h0m.3-.2h0m.8 5h0m.2-.5h0m0-4.8h0m.1 1.3h0m0 3.5h0m1.1-3.4h0m2.4 1.4h0m0 .9h0m.3-3.6h0m.9 4.3h0m1.4-3.5h0m.8 .9h0m.5 2.4h0m.6 1.1h0m1.3-5.3h0m.4 .7h0m1-1.3h0m4.7 .2h0m.7 2.5h0m.1-1.1h0m.3 4.3h0m1.2-4.8h0m.1 4h0m2.1-2.7h0m1.7-.7h0m.2 2.1h0m0-3.2h0m.7 2.7h0m.1-1.5h0m0-.3h0m.8-.4h0m.7 .3h0m159.5 .7h0m.1-1.7h0m.5 1.8h0m1.1 1.9h0m.6-1.7h0m.4 1.4h0m.9-2.2h0m.3 .3h0m.8 2h0m0-2.6h0m1.2 .7h0m2.6 .9h0m3.3-.8h0m1.4-1.9h0m6.5 2.3h0m.3-1.7h0m.1 4.6h0m1.2-1.7h0m1.3-1.3h0m.1-2.4h0m.9 2.3h0m.1 3.5h0m2.1-1.1h0m-3.3 1.7h0m-7.1 1.8h0m-1 2h0m-1.7 .9h0m-1.7-.1h0m-.2-.6h0m-.2 1.3h0m-2.2-3.7h0m-.7 1.8h0m-168.3-3.8h0m-19.8 2.7h0m-3.9-2.4h0m-.8 .3h0m-32.7 7.8h0m.1 .5h0m2.2 2.1h0m.8 .4h0m.8-3.8h0m.1 3.2h0m.1-3.4h0m2.1 1.8h0m.9 1.2h0m218.3 1.5h0m.2-4.8h0m.7 3.5h0m1.7-1.4h0m2.3 .5h0m1.2-1.1h0m.2-1.4h0m.1 1.7h0m.1-.1h0m.3-1.6h0m.8 3.5h0m2.4-1.1h0m.5 3.7h0m-.8 1.9h0m-1 1.1h0m-.6 1h0m-2.2-.8h0m-4.8 .5h0m-1.3-2h0m-217.5-.6h0m-.1-.3h0m-.3 .3h0m0-.5h0m0 1.1h0m-.1 .9h0m-.9-.2h0m-.5-2.8h0m0 1.3h0m-.2 .1h0m-.1-1.5h0m-.5-.1h0m-.6 2.2h0m0-1.5h0m-.3 .5h0m-.8-.6h0m-.3 2.9h0m0-.7h0m-.8-2.7h0m-1-.4h0m-.6 .9h0m-2.9-.4h0m235.9 5.3h0m40.4 11.6h0m-1.7-1h0m-1.5-.1h0m-1.2 .2h0m-.8-.9h0m-1.1 1.9h0m-.8-.4h0m-2.7-1.6h0m-.6 1.1h0m-6.3 3.6h0m2.3 2.2h0m.8-1.1h0m.2 .2h0m.6 1.3h0m.2-.5h0m1.4 .4h0m1.1-.6h0m.4-3.5h0m.1-.4h0m2.8 4.6h0m.9 .2h0m.5-1.2h0m.5-3.6h0m.1-.1h0m.6 2.5h0m.3-1.7h0m.5-.4h0m.4-.3h0m.4 2.3h0m0-1h0m.2 .1h0m.1-1.8h0m1 1.3h0m0-.1h0m1.7-.4h0m1 .9h0m.1 3.6h0m5.9-.5h0m.2-2.5h0m.1 .6h0m.5-.3h0m2.6 1.7h0m11.7 6.3h0m-4.4-1.4h0m-2.7 2.1h0m-1.3 .2h0m-2-3.6h0m-.3-1.3h0m-.2 .5h0m-.5 .9h0m-.3 2.8h0m-.1-4.8h0m-.4 2.8h0m-.6-2.9h0m-1 .4h0m-2.8 1.7h0m-.1 1.7h0m-7.9-.7h0m-.3-2.9h0m-.1 1.4h0m-2.5 .3h0m-5-1.5h0m-.1-.4h0m-.4 2h0m-1.3 1.4h0m-.1-2.8h0m-.4 2.3h0m-4.4-1.1h0m-5.4 2.7h0m-.3-.4h0m-.2-3h0m-.2 2.4h0m-3.9 1.2h0m-.2-.2h0m-1.9-1.3h0m18 6.2h0m.7 .7h0m1.8-2.2h0m.7 3h0m.5-3.6h0m2-.1h0m7.2 1.5h0m0 2.6h0m3.1 .3h0m4.6-5.2h0m3.7 .9h0m2.8 .8h0m2.8 2.7h0m.4-2.3h0m.8 2.5h0m.1-1.3h0m.2 1.4h0m2.4-5.1h0m-15.8 6.3h0m-.2 .9h0m-.1 .4h0m-3.1 1.5h0m-.4-1h0m-1.1-.9h0m-8.6-.1h0m-1.6 .4h0m-2-1.4h0m-.5-.1h0m-199.8 4.5h0m-5.2 6.1h0m.7-.1h0m.6 .9h0m.1-1.2h0m0-.3h0m.1-.2h0m.3-2.4h0m.5 .8h0m.8 2h0m.2 .8h0m.3 .7h0m.5-1.6h0m3.8-2.3h0m1.1-1.3h0m-5.6 6.1h0m-.1 0h0m-.5-.5h0m-.6 .9h0m-.5 .4h0m-1.8-1.2h0m-3.2 5.6h0m-1.4-.1h0m-1.7-.5h0m-1-.7h0m-4.1 5.6h0m.1-.1h0m0-.3h0m.3-1.3h0m.8 0h0m.4-1.2h0m2 3.2h0m.3-2.7h0m.4-.3h0m2.8 3.3h0m1-.2h0m.1 .8h0m.5-2.7h0"/>
<path stroke="#8E1F33" stroke-width="2.3" d="M997.5 294.9h0m-1.4 .9h0m-2.2 4.1h0m-.6-.5h0m-8.3 5.6h0m2.1-4.1h0m1 4.8h0m.8-3h0m.7 2h0m.4-2.8h0m.2 4h0m0-2.9h0m.1 .2h0m0-1.7h0m.2 3.5h0m1-1.2h0m1 .5h0m2.4-.4h0m.7-.1h0m3-2.4h0m.1 1.9h0m1.5-.3h0m.5-2.2h0m.6-.3h0m1.8 .5h0m.7 3.6h0m.2-1.1h0m4 1.4h0m1.1-3.1h0m101.8 8.8h0m-96.3 .9h0m-4.5-1h0m-4.1-2.7h0m-.7-1.2h0m-4.6 4.4h0m-.9-2.3h0m-.7-.9h0m-.6 3.9h0m-.4-4.2h0m-.2 3.3h0m-1.2-.4h0m-.1-.6h0m-3.8-3h0m-1.7 1.1h0m-1.6-.8h0m0-.4h0m-.3 1.8h0m-.1-1.1h0m-.5 1.2h0m-.3 2.7h0m-.2-5.2h0m-1.8 4.7h0m-1-.4h0m-1.5 .7h0m-1.3-3.2h0m-.1 .1h0m-.1-.5h0m-1.2 0h0m-5.7 6.4h0m5.6 3.3h0m1.2 .7h0m1-.6h0m3.1-5.3h0m9.1 2.1h0m.2 0h0m.7-1.4h0m.2 1.2h0m2.3 .1h0m.4 1.4h0m6.1 1.3h0m5.4-2.7h0m62.8 3.3h0m5-2.9h0m1.3 2.8h0m.1-.3h0m.6-3h0m.2 1.6h0m.9 2.1h0m.2-.4h0m0-5h0m.1 2.2h0m.5-1.7h0m.5 .5h0m.1 2.7h0m.2 .7h0m.9-2.4h0m.4 .6h0m1.9 2.3h0m89.8 6.1h0m-1.2 .4h0m-1.5-2.2h0m-1.3 2.5h0m-1.5-2.3h0m-7.6-.3h0m-1.5 1.9h0m-6.3-2.1h0m-.5 1.7h0m-1.8-.6h0m-.7 .9h0m-2.3-1.4h0m-.3-.4h0m-34.7 .1h0m-1.2 1h0m-1.1-.9h0m-.3 .1h0m-.4-1.6h0m-28.3-1.5h0m-1 2.6h0m-2.6-2.1h0m-6.8-.5h0m-.1 2.2h0m-1.5-2.5h0m-.4 5.6h0m-1.7-.7h0m-1.9-4.9h0m-74.1 .5h0m-3 4h0m-3.6 1.1h0m-1.1-3.2h0m-1.4 .3h0m-1.2 2.7h0m-.5-.4h0m-.1-1.5h0m-.1-2.3h0m-.2 2.8h0m-.1-1.8h0m0-2.3h0m-.4 .7h0m-.8-.7h0m0 4.8h0m-.7-4h0m-1.4 2h0m-.5 2.1h0m-.8 .8h0m-.3-1.5h0m-.9-2.8h0m-.4 3.8h0m-.2-5.2h0m-2.2 5h0m-.3-2.6h0m-1.8 1.4h0m-.2-2.5h0m-.1 2.9h0m0-.2h0m-1.1-1.7h0m-.2 3.3h0m-1-.2h0m-1.8-.8h0m-1.9-1.1h0m-1.9 .9h0m-7.6 1.7h0m2.3 5.2h0m.7-3.8h0m1.2 3.7h0m2.3-2.7h0m.6 1.7h0m1.2 1.2h0m4.2-1.6h0m.3 .7h0m.1-4h0m.5 1h0m1.4-.4h0m.1-.1h0m.6-.3h0m.1 1.5h0m2.1-1h0m.2-1.2h0m.4 4.1h0m1.1-3.8h0m1.2 .3h0m.3-.2h0m6.7 1.1h0m2 1.4h0m0 1.1h0m.3-2.7h0m3 3h0m.8-1.1h0m.7 1.2h0m156.9-3.1h0m1.6-.8h0m1.8 .7h0m.5 3.2h0m.5-3.8h0m.1 .9h0m0 .4h0m.1-1.8h0m.1 2.4h0m.1-.2h0m.3-.3h0m1.1 2.3h0m2.9-3.5h0m2.6 2h0m2.7-.8h0m.6 3.8h0m2.2-2h0m3.3-2h0m1.4 1.6h0m0-.8h0m2.4 .4h0m1.4 2.2h0m1.2-1.2h0m.6-2.6h0m3 .9h0m-4.5 4.2h0m-8.2 5.3h0m-.2-1.7h0m-1.7 .7h0m-1.2-4h0m0 .6h0m-.2 4h0m-179.5-4.8h0m-12.3 .3h0m-.6 .9h0m-1.1 1.3h0m-6.7-3.2h0m-31.6 11h0m1.9 .8h0m.7-1.4h0m.1-.2h0m1.9 1.7h0m.9-3.6h0m223.4 1.6h0m1.9-1h0m.5 3h0m.4-3.3h0m.2 2.2h0m.1 1.1h0m.4-4.1h0m.5-1h0m2.1 2.6h0m.3-1.8h0m.7 3.7h0m-7.9 3.5h0m-.3-2.2h0m-217.4 .1h0m-3 1.5h0m-.6 3.3h0m-.2-1.4h0m-1.2-3.9h0m0 4.7h0m-.5-2.6h0m-.2 .9h0m-3.8-2.8h0m-1.2-.1h0m-.6 1.9h0m275.3 15.6h0m-2.6-1h0m-2.5 .9h0m-2.6-.1h0m-1-.1h0m-.6-.5h0m-.1-2.7h0m-1 1.7h0m-10.4 7.6h0m9.4-.9h0m1.2-.1h0m.9-3.9h0m.9 2.2h0m.3-2.4h0m.7 1.1h0m.7 .3h0m2.6 2.1h0m.4 .3h0m0-4.3h0m1.3 1.6h0m1.2 2.8h0m.2-.3h0m.7-.6h0m.3-3.3h0m3.4 2.4h0m6.8 2.9h0m.7-3.6h0m1.1 3.2h0m1.6 3.3h0m-1.2-.8h0m-1.2-.8h0m-1.2 2.2h0m-8.9-.6h0m-5.5-1.1h0m-4.3-.3h0m-.2-.8h0m-1.3 2.6h0m-.1-1.1h0m-1.6 .9h0m-3.1-1.9h0m-5 .6h0m-.2-.5h0m0 4.7h0m-1.4-.3h0m-2.4-.7h0m-.7 1.1h0m-.5-2.2h0m17.6 2.8h0m1.6 3.8h0m.4-1.9h0m1.2 .1h0m8.6 1.7h0m1.1-.7h0m2 1.3h0m1.6-4.4h0m2.2 1.8h0m6.6 2.5h0m4.6 .3h0m-18.6 3.7h0m-8.5-1.8h0m-207.4 4h0m-1.8 6h0m0 .9h0m.3-.8h0m1.4-1.3h0m.6-.8h0m.1 3.3h0m0-2.4h0m.3 .5h0m1.2-2.5h0m.5 1.2h0m.7 2.8h0m-1.2 2.6h0m-1.2-1.6h0m-1.9-.1h0m-5 5.3h0m-1.4-.6h0m-6.4 5.1h0m.2 .1h0m.4-1.6h0m0-2.6h0m.2 1.5h0m.2-1.1h0m1-.5h0m.5 1.1h0m.2-.6h0m1.1 3.5h0m0-3.3h0m.1 1.8h0m.5-.1h0m.5-.3h0m1.6 .7h0m.7-.7h0m.3-1.2h0"/>
<path stroke="#CC6B3C" stroke-width="1.6" d="M1136.1 297.6h0m-3.6-1.6h0m-.1 3.1h0m-1.1-1.8h0m-5.1 .5h0m-.1-.6h0m-3.6 2.7h0m-40.1-.9h0m-1.6 .7h0m-2.8-2.6h0m-.3 .5h0m-2.3 2.1h0m-4.1-3.3h0m-80.8 2.8h0m-1.2 1.2h0m1.9 2.1h0m7.3 1.6h0m6.7-.7h0m1.5 2.3h0m52.2-1.5h0m1.2 1.4h0m2.7-1.3h0m.7-1.7h0m2.1-2.6h0m.3 1.5h0m.6-.9h0m.2-.5h0m0 4.9h0m.1-4.8h0m3.2 3.6h0m2.6-.9h0m1.3-1.9h0m1.6 .6h0m.8-.4h0m1.4-1h0m1.3 2.6h0m.1 1.9h0m2 .6h0m.3-4.8h0m5 3.1h0m36.5-1.9h0m.8 1.1h0m1-1.8h0m.9 .5h0m.1 .2h0m0 1.1h0m2-2h0m.2 .6h0m1.1 0h0m1.9 4.3h0m1.4-1h0m.3-.5h0m.3 .1h0m.1-4.3h0m1.8 4h0m.4-.4h0m19.6 7.8h0m-.1-1h0m-1.6-3.2h0m-.1 1h0m-.2 2.9h0m-.1 .8h0m-.1-2.8h0m0 2.5h0m-.8-2.2h0m-.2-2.2h0m-.2 2h0m-.4-.9h0m0 .9h0m-.6-.2h0m-.3-.1h0m-15.1 1.2h0m-.6 .9h0m-.2-4.9h0m-.6 .3h0m-.1-.3h0m-.1 .9h0m-.1-.5h0m-.2-.3h0m-1 4.4h0m-1-1.5h0m-1.5 1.9h0m-.4-.7h0m-.3-3.9h0m-.4 1.2h0m-1 .8h0m-37.8-1.5h0m-.7-.1h0m-21.4-.3h0m-.8 .1h0m-52.8 4.3h0m-11.2 .5h0m-13.8-5.3h0m-1.7 .9h0m-.4 4.5h0m-1.8-2.7h0m-1.4-1.8h0m-1.9 1.7h0m-5.2 1.7h0m-2.1 2.8h0m3.9 2.1h0m12.6-1.6h0m27.7 3.8h0m.2-1.1h0m.4-1.2h0m.2 2.7h0m.2-3.5h0m.2 2h0m.6-.9h0m.9 1h0m57-2.1h0m0 1.2h0m1.1-1.5h0m.1 3.8h0m1-2.8h0m.7-1.9h0m1.2 2.6h0m.2-.4h0m.7 2.2h0m1.8-4.6h0m43.4-.9h0m.8 1h0m2.3 .5h0m.6-.7h0m1.9-.2h0m17.2 .8h0m.1-.7h0m.4 .6h0m.4 2.7h0m0-2.2h0m.6 1.5h0m.1-1.7h0m1-.1h0m.1 .5h0m-70.7 7.8h0m-1.9-1.4h0m-6.7-1.5h0m-3.1 3.2h0m-4.1-.7h0m-.5 0h0m-27-1h0m0 .4h0m-.1 1.3h0m-.1 .8h0m-.3-1.1h0m-.5 1.3h0m-.3-2.2h0m-1.3-.2h0m-1.2 .2h0m-.5 2.8h0m-1.8-2.3h0m-14.1-3.1h0m-.6-.3h0m0 .6h0m-30 4.3h0m-2.4-1.6h0m-9.4 .3h0m-1.2-2.3h0m-11.6 7.8h0m.4-.5h0m1.8-2.4h0m4 2.1h0m64.2 .6h0m.8 1.8h0m.8-3.4h0m.4 3.4h0m.1 .9h0m.9-5.3h0m1.1 1.7h0m.2 .4h0m.1-1.6h0m.9 3.6h0m.4-.8h0m.2-3.5h0m.3 2.5h0m.7 .9h0m.6-.8h0m.8-2.8h0m.1 0h0m160.8 11.5h0m-4.4 .1h0m-163.5-4.5h0m-13.7 3.3h0m-.1-1.3h0m-5.5 2h0m-44.4-3.2h0m-40.4 9.7h0m.3-1.4h0m.7 1h0m.5-1.8h0m.3-2.6h0m.2 4.7h0m.4-4h0m0 2.3h0m1.2-1.5h0m55.6 2.6h0m26.8-1.4h0m.1-1.1h0m0 .4h0m.4-2.1h0m.1 1.4h0m.2-1.3h0m0 .8h0m.3-1h0m.8 5.2h0m.2-5.5h0m.3 1.8h0m0 2h0m.5 .5h0m.6-2.2h0m.2 2.6h0m.9 .9h0m1-.5h0m.7-1.3h0m16.3-1.5h0m3.3-.9h0m.6 3.6h0m0-4.5h0m1.4 4.4h0m1.6 .3h0m.9 0h0m1.1 .1h0m.1-.2h0m.1-1.1h0m.2 1.5h0m.6-1.8h0m.6-2.3h0m2.2 2.8h0m145-2.6h0m1.1 1.2h0m1.4-1.4h0m.2 1.9h0m.1 1.3h0m0 .6h0m.1-5.4h0m.2 3.8h0m.9-3.7h0m2.5-.1h0m1.3 3.1h0m.1 2.6h0m.8-4.9h0m.9 2.5h0m1.6-.1h0m-2.1 7.8h0m-.1-.5h0m-1.4-.2h0m-1.2-3.5h0m-.6 .4h0m0 2.6h0m-.2 1.1h0m-.1-2.6h0m-.5 0h0m-.1-1.2h0m-1.1 .5h0m-1 .3h0m-.3 1.1h0m-.2 .2h0m-.1-2.6h0m-.3 4.1h0m-.6-2.5h0m-148 .9h0m-1.4-2.6h0m-.5-.4h0m-.1 3.3h0m-.3-2.9h0m-.7 1.2h0m-.3 1.7h0m-2.1-1.3h0m-1.3 1.8h0m-1.1 0h0m-8.9 1.5h0m-2.4-.5h0m-.1-2.3h0m-.2 0h0m-.3 .7h0m-1.6 2.3h0m-28.5-3h0m-.1 2.7h0m-3.9-2.2h0m-1.1 .4h0m-.1-.5h0m-.2 .1h0m-.3-1.9h0m-1.4 1h0m-1.4-1.8h0m-1.7 2.7h0m-.1 .2h0m-1.5 .2h0m-.6 1h0m-.6 0h0m-2.3-4.6h0m-.5 0h0m-.2 3.6h0m-.1-1.5h0m-9.9 2h0m-4.3-2h0m-1.2 1.9h0m-.3-.3h0m-9.6-.6h0m-24.8-.6h0m-.2-2.2h0m-.2-.3h0m-.2 1.2h0m-1 1.1h0m25.6 3.8h0m1 5.2h0m1.5-4.8h0m3.7 .2h0m22.6-.2h0m4.2 .2h0m2.3 1.6h0m1.9 .1h0m0-1.2h0m32.6 .3h0m2.7 1.7h0m169.7 .9h0m1.4-2h0m.1-.9h0m.1 .7h0m.6-.7h0m0 1.9h0m1.3 .9h0m.6-2.9h0m1.3 .2h0m.4 .5h0m15.7-.6h0m1.2 3.3h0m0 .9h0m1.3-3.6h0m.9 1.1h0m.7-.2h0m.2 .5h0m1-2.2h0m.1 .5h0m.5 3.2h0m1.4-3.4h0m.9 2.2h0m.5-2.3h0m.9 2.8h0m.9-.9h0m.1-1.7h0m.8 1.4h0m16.3 7h0m-.3 1.2h0m-4-2.8h0m-1 .7h0m-1.7 2h0m-.6-1h0m-.5 1.5h0m-15.5-5.4h0m-3.9 .8h0m-19.4 3.1h0m-.5 .9h0m-1.6 .2h0m-.1 .4h0m-.5-.1h0m-.8 0h0m-5.6 0h0m-2.5 .5h0m-198.1-3.4h0m-1.3-1.7h0m-.5 .8h0m-8 1.4h0m-1.8 1.6h0m-14-4.2h0m210.5 10.2h0m11.5-.7h0m10.6-.9h0m1.5-1.6h0m1.2-1.2h0m.1 .8h0m.7 .1h0m.5-.6h0m3.7 1.9h0m1.1-.7h0m.3-.8h0m.7 2.6h0m.3-.8h0m1.5-.8h0m.2 2h0m0-.2h0m.2-2h0m.4-.1h0m.2-.7h0m.2 1.7h0m8 1.8h0m6.7 0h0m2.9 .4h0m12.1-3.3h0m2.6 .4h0m1.5-.8h0m-25.4 5.9h0m-.6-.9h0m-1.5 5.2h0m-1.1-3.9h0m-1.3 4.6h0m-3.7-2.8h0m-.4-.6h0m-1-1.2h0m-2.3-1.1h0m-1.6 .7h0m-5.7-.6h0m-.5 3.8h0m-.4-3.9h0m-3 3.5h0m-5.2-3.3h0m-1 1.3h0m-2-1.4h0m-.9 1.5h0m-9.8 2.1h0m-2.7-1.9h0m29.1 4.8h0m2.3 .4h0m.2 1.7h0m2.1-1.4h0m.8 .2h0m1.3 .1h0m1.5-1.6h0m.3 1.3h0m2.5 2.8h0m.3-3.1h0m6.1 3.3h0m-12.7 1.7h0m-12.5 3.9h0m-.1 1.5h0m-4.9-1.8h0m-10.9-1.5h0m-44.9 38.8h0m-2.5-1.5h0m-.6-3.2h0m-.7 .8h0m-.4 4.7h0m-.3-2.9h0m-9.2 1.1h0m12.7 2.2h0m-111.1 25.7h0m.6 .1h0m1.1-.9h0m.1 2.9h0m.1-2.3h0m.4 4h0m.3-1.4h0m1.2 1h0m1.6 4.8h0m-.8-.9h0m-.6-3.1h0m-.2 2.7h0m-.1-1.9h0m-.4 4.5h0m-1.8-4.3h0m-1.8 .9h0m-.1 .8h0m-1.7 2.1h0m.2 1.3h0m1.2-.2h0m3.1 2.3h0m.7-.4h0"/>
<path stroke="#CC6B3C" stroke-width="2.3" d="M1067.4 293.9h0m4.8-.5h0m62.9 2.2h0m-.2 2.8h0m-.1-2.9h0m-.1 3.1h0m0-.9h0m-1 .1h0m-.9-2.5h0m-.6 1.4h0m-.5-.7h0m0 1.3h0m-.2 0h0m-.2-.4h0m-4.6 3h0m-45.7-1.1h0m-1.2-1.2h0m-.9 .3h0m-3.4-1.7h0m-1.8 3h0m-2.5-3h0m-.3-1.3h0m-65.1 3.9h0m-7.1 .4h0m-6.7 3.3h0m64.9-.6h0m2.9 3.9h0m.5-2.4h0m6.6-.5h0m2.6 .1h0m4.6 1.1h0m2.3-3h0m.7-1h0m1.3 3h0m1.8-2.6h0m.6 2.4h0m2.2-1.8h0m39.9 .5h0m1.5 .7h0m0-1.7h0m1.9 1.9h0m2.2-.5h0m3.6-2h0m.1 4.9h0m.8-.6h0m.6-.7h0m1.7 1.2h0m0 .1h0m.8-.1h0m18.9 4.6h0m-1.1 2.2h0m-.1-3.5h0m-.3 3.3h0m-.7-.3h0m-1.1 .5h0m-1.8-2.8h0m-14.4-2.8h0m-.6 .2h0m-.7 .7h0m-47 0h0m-8.1 4.4h0m-6.8-5h0m-10.1-.1h0m-60.1 3.7h0m-9.2-3.3h0m-15.9 10.4h0m14-1.9h0m17.7-1.3h0m9.9 3.9h0m.1-.1h0m1.8-.9h0m.9-1.2h0m55.5-2.7h0m2.2 2.4h0m.8-1.8h0m.5 .3h0m4.1 4.1h0m48.5-4.3h0m17.2 .2h0m.3-1.5h0m.6 .5h0m.8 .9h0m1-1.4h0m-71.5 6.3h0m-3.7-.2h0m-7.8 2.3h0m-27.2 3h0m-2.5-.9h0m-.3 .3h0m-.2-3h0m-.7 1.2h0m-1.3-.9h0m-2.1 2.4h0m-16-4.6h0m-44.9 5h0m-3.8 1.8h0m11.3-.3h0m5.4 4.7h0m46.7-2.9h0m.9-.3h0m1.2-.9h0m1.2-1h0m.8 2.2h0m2-2h0m.1 3.2h0m2.2-.2h0m.3 .6h0m.1-2.8h0m1 .2h0m157.9 10.4h0m-2-.2h0m-159.4-4.6h0m-17.6 1.9h0m-90.5 6.1h0m55.7 2.1h0m29.6-1.8h0m1.2 .2h0m.4 .3h0m.8 1.2h0m.4-3.7h0m.7-.2h0m.5 2.6h0m.3-2.4h0m2-.6h0m.9 .3h0m17.5 3.3h0m3.1 0h0m4.4-.6h0m4.3 2.2h0m143.1-4.5h0m3.7-1.1h0m1.9 4.9h0m.4-4h0m.3 .4h0m1.6-.1h0m24.7 10h0m-21.4-2.9h0m-.3 1.6h0m-.2-1.8h0m-1.7 1.8h0m-1-.6h0m-.2 1.5h0m-.1-2.8h0m0 1h0m-1.2-2.2h0m-.2 1.1h0m-1.1 3.2h0m-149-3.5h0m-4.4 1.1h0m-4.6-.2h0m-2.6 .4h0m-7.5 .7h0m-.9 .9h0m-.7-.1h0m0 .3h0m-1.7-.3h0m-30.1-1.5h0m-6.1-1.4h0m-4.2 2.5h0m-.5-.8h0m-1.1 .4h0m-18.3-.4h0m-10.7-.6h0m-.2-1.6h0m-.4 2.6h0m-21.6-2.5h0m33.8 7.9h0m25.5 2.1h0m3.2-1.2h0m32.5-1.8h0m1.6-1.7h0m.2 1.1h0m172.2 .6h0m15.2 .3h0m1.2-1.1h0m.6 3.2h0m.3-2.3h0m3 1.1h0m.4 1.6h0m.4-2.6h0m4.1-1.2h0m17.3 8.2h0m-.3-.3h0m-5.3 .3h0m-16.2-3.5h0m-1 .4h0m-.8 .3h0m-.1-.8h0m-14.4 5.5h0m-9.2-1h0m-5.8-1.1h0m-.8-.5h0m-190.5 1.6h0m184.2 4.7h0m3.6 .3h0m5.7 2.3h0m2.2-3.9h0m.4-1h0m8 1.9h0m4.5-2.5h0m.4 5.2h0m1.4-1.3h0m.5-2.6h0m2.5 4.1h0m.6-2.6h0m23.9-2.5h0m4.6 2.5h0m1.9-1.7h0m-19.8 7.3h0m-2-.9h0m-3.3-1.1h0m-.9 2.3h0m-.6 2.3h0m-.4-3.3h0m-.4-.7h0m-.1 3.4h0m-.5-.6h0m-1.5-1.8h0m-.2 2.4h0m-.2-4.6h0m-.1 3.7h0m-3.3-1.3h0m-.2 2.3h0m-.1 .3h0m0-2.9h0m-4.6 3h0m-.4-4.2h0m-1.1 2.1h0m-1.4-.2h0m-2.2 1h0m-3.2-1.1h0m-1.7 1.3h0m-3.2-2.9h0m-3.1-.6h0m-3.2 2.2h0m-9.4 2.1h0m-2.6-4.2h0m28.7 5.9h0m2.5 2h0m1.7-.9h0m-15.8 9.1h0m-.7-.4h0m-.5 .5h0m-7-1.1h0m-163.2 65.8h0m3.8 1h0m.1 6.1h0m-3 .2h0m0-3.7h0m-1.8 1.9h0"/>
<path stroke="#B8452F" stroke-width="1.6" d="M1131 292.9h0m15.8 6.8h0m-1.2-1h0m-10.9-3.9h0m-1.5 4.2h0m-.2-4.8h0m-.5 3.4h0m-1.8-.4h0m-.5-1.5h0m-.2 4.1h0m-.4-4.3h0m-.5 2.3h0m-1.5 .8h0m-.7 1.2h0m-142.1 1.7h0m5.2 1.7h0m3.9-.2h0m.9-.2h0m63.3 1.5h0m.8-4.2h0m.5 1.2h0m2 2.3h0m23.6 0h0m.2 1.5h0m42.3-5.1h0m14.9 4.5h0m1.4-3.5h0m.3 .8h0m0-.3h0m2.2 1.5h0m.1 2.4h0m.5-2.8h0m.3-2.5h0m1.7-.1h0m.1 2.7h0m2.6-1.9h0m-4 5.2h0m-.6 4.3h0m-.1-1.5h0m-.6 1.1h0m-.1-1.9h0m-1.4 .2h0m0-1.7h0m-2-.4h0m-2 .8h0m-.6 1.9h0m-54.8-2.5h0m-1.7 2.1h0m-1.2-1.4h0m-24.2 0h0m-64.2 .6h0m-7.1-1.3h0m-1.5-.2h0m-7.8 4.9h0m-4.5 4h0m.1-.2h0m2.4 1.2h0m.7-2.4h0m.2-.9h0m1.1-.2h0m4.3-.4h0m7.1 5.3h0m5.3-1.9h0m.1 .2h0m.3 1.1h0m.1-2.3h0m.9-.2h0m.5 .9h0m75.9 1.3h0m3.9 .9h0m1.7 .2h0m.2-1.9h0m4.5 .5h0m4.7 5.8h0m-1.1-3.4h0m-1.8 2.2h0m-.2-1.4h0m-3.2-.4h0m-.4 1.2h0m-.7 2.6h0m-4.7-2.5h0m-40.8 3.4h0m-3-.3h0m-.2 .5h0m-36.6-4.5h0m-2.2 1.2h0m-1.5-.9h0m-.7-.2h0m-8.3 .1h0m-1.9-.1h0m-2.8 .9h0m-17 .9h0m-1 .6h0m-4.6 1h0m-.2 .1h0m5.3 1.6h0m.5 5.2h0m1.2-.8h0m.3-.1h0m1.2-.1h0m.9 .5h0m65-.8h0m1.4 1.1h0m1-.1h0m2-4.9h0m51.7-.3h0m75.3 3h0m.5-.9h0m.5 1.6h0m2.2-3.1h0m.4 1.8h0m.5 2.4h0m.6-2.9h0m.3 .2h0m.1 3.3h0m34-2h0m8.1 8h0m-2.5-1.8h0m-.7-1.8h0m-.3 .5h0m-4.2 .2h0m-3.6-.8h0m-34.3-2h0m-.4 0h0m-203.9 1.2h0m239.8 5.3h0m.8 0h0m9.4 1.9h0m0-2.1h0m.8 4.1h0m1.2-3.1h0m1.3 1.7h0m.2 .6h0m.2-1.1h0m1 2.1h0m.5 .5h0m5.8 11h0m2-.1h0m3.4 .4h0m11.7-.3h0m.5-1.4h0m.2-.5h0m.4 1h0m1-.7h0m.7-1.1h0m3.7 2.2h0m.2-.5h0m.3 .8h0m.2 3.7h0m-2.7-1.4h0m-4.8 3.5h0m-.8-3.5h0m-10.7 3.3h0m-1.2-3.3h0m-.2 1.8h0m-.7 2.5h0m-1.8-4.3h0m-.6 2.2h0m-.8-1.9h0m-.2 .1h0m-.1 0h0m-38.4 9.8h0m5.2-1.4h0m18.2 2.9h0m25.2-.2h0m.7-.5h0m2.8 5.1h0m-1.6-2.6h0m-1.2 1.6h0m-5 2.3h0m-1.1-1.7h0m-1.8-1h0m-.9 3h0m-4.9-.6h0m-.9-1.4h0m-1.6 1.9h0m-.4-4.8h0m-.2 1.9h0m-.6 .9h0m-.1 .6h0m-5.1-3.6h0m-.3 4.2h0m-.4-4.8h0m-6.2 5.5h0m-13.8-2.2h0m-2.8-1h0m-1.3 1.8h0m-3-1.6h0m30.2 4.4h0m1.3-1.1h0m.2 .3h0m.8-.1h0m.1 1.5h0m1.8 2.9h0m1.2-2.6h0m.3 1.6h0m9.8-3.4h0m.6 2.7h0m-24.7 7.2h0m-1.6-2.5h0m-.6-1.1h0m-.5-.1h0m-2.5 4.9h0m-199.7-.2h0m-1.1-1.4h0m-.9 2.1h0m-.8-1h0m0 2.5h0m1.2 0h0m.3 1h0m2.1 .9h0m.3-3.2h0m-16.4 17h0m8.5 1.6h0m-1.4 1.1h0m-2.1 3.9h0m-.9-4.7h0m-1 1.9h0m-1-.4h0m-.5 .7h0m-.1 1.8h0m-.3-3.6h0m-.5-1h0m-.7 1.5h0m76.1 63.5h0m.1 .8h0m.1 5.7h0"/>
<path stroke="#B8452F" stroke-width="2.3" d="M1149.6 299.7h0m-16-1.9h0m-1-3.4h0m-1.3 .3h0m-.8 2.6h0m-142.3 .9h0m2.3 4.9h0m1-2.4h0m1.3 .4h0m.6 1.7h0m.3 .4h0m64.7-.4h0m1 1.1h0m1.2 2h0m.2-3.2h0m3 .4h0m17.5 .3h0m.9 1.2h0m.1-1.8h0m2.6 1.6h0m4-1.7h0m41.2-1.2h0m12.2 2.6h0m.9 .5h0m.8-3.9h0m2.2 3.5h0m.6 1.2h0m1.2-3.9h0m1.4 2.9h0m.8 .1h0m-5 2.5h0m-1.4 4h0m-1.8-3.9h0m-.6-.2h0m-54.4 .5h0m-2.3 1.3h0m-2.2-.7h0m-.5-1h0m-8.3 4.6h0m-12.4-4.3h0m-67.5-.5h0m-14.4 3.8h0m-2 1.3h0m-4.3 3.8h0m2.5 2.2h0m4.1-.7h0m9.7-2.4h0m5.9 2.3h0m.6-2.6h0m76.4-1.3h0m2.9 2.3h0m.6-2.6h0m.9 2.3h0m2.2 2.2h0m1.1-4.4h0m6.1 5.5h0m-1.8-.5h0m-2.8 1.8h0m-1.3 3.3h0m-.7-2.7h0m-.3 1.4h0m-1.9-3.4h0m-.1 3h0m-1.5 .3h0m-1.9-2h0m-77.7 .2h0m-1.8 1.4h0m-3.8-2.7h0m-11.1 2.8h0m-18.8 5.9h0m.5-.8h0m.5 2.6h0m68.3-1h0m1.2-.9h0m.3 .7h0m1.8 .2h0m.7-2.3h0m.5-1.8h0m1.1 .1h0m124.7 2.4h0m.4 3.2h0m.2-.6h0m.6-1.2h0m1.2-.8h0m.7-1.4h0m1.1 0h0m.1 .4h0m.2 1.1h0m0 2.1h0m34.1-1h0m5 5.3h0m-.1-.2h0m-2.2-2.6h0m-1.4 2.9h0m-.9-1.5h0m-2.9-.2h0m-.4-.9h0m-33.5-.1h0m-126.9-.9h0m-3.5 1h0m-74.5-.5h0m248.7 6.9h0m1.9 1.1h0m.3-.7h0m3.8 .5h0m.2 2.1h0m.2-3.5h0m6.9 16.6h0m18.4-.2h0m1.7 3.1h0m-1.2 1.3h0m-14.8-1h0m-2.6 1h0m-3-3.8h0m-36.1 10.4h0m1.9-1.5h0m16.2 2.5h0m2.9-1.3h0m1.4 1.8h0m28.4-1h0m-5.1 5.2h0m-2.5-2.6h0m-.2 2.2h0m-.1 1h0m-.2-.2h0m-5.8 .9h0m-.4-1.4h0m-.5 0h0m-3.2 1.6h0m-3-3.3h0m-2.6-1.6h0m-4 .7h0m-5 .3h0m-1.3-.4h0m-11.5-.7h0m-2.7 4h0m-1.1 .5h0m-1.7-1.8h0m-3 .4h0m31.8 2.7h0m.8 1.2h0m.7-.8h0m6.7 2.7h0m6.6-2.4h0m4.4 .1h0m1.4-1.1h0m-35.6 8.5h0m-1.7-1.4h0m-.5 3.2h0m-.3-.1h0m-198-.7h0m-.9 2.2h0m-2.3-.1h0m-.6-.5h0m3.4 2.4h0m.1-.1h0m.3 2.1h0m.8-1.5h0m.4-1.5h0m199.4 .1h0m-213.5 14.5h0m1.8 3.4h0m-1 4.2h0m-.2-.8h0m-1.1 0h0m-.5 1.7h0"/>
<path stroke="#A22E2E" stroke-width="1.6" d="M1136 298.5h0m-1.4 1.3h0m-2.2 .1h0m-148.3 5.5h0m18.4-.8h0m.3-.7h0m1.7 1.4h0m.1-4.7h0m1.7 1.6h0m1 3.4h0m.2-1.7h0m.7 .6h0m1 1.1h0m56.8-5.3h0m.3 4.5h0m3.6-1h0m1-1.5h0m62.6 .3h0m1.1-.2h0m0-.1h0m.1-1.6h0m1.3 2.3h0m.1-2.2h0m.7 1.7h0m18.8 1.8h0m2.6-.5h0m.3-2.8h0m1 3h0m2.4-1h0m-.1 4.7h0m-2.1 1.5h0m-.5-1.1h0m-1.1-1.9h0m-.3 .1h0m-2.8-.2h0m-16.4 4.6h0m-1.2-3.9h0m-.2-.7h0m-.9 .7h0m-.1 4.4h0m-1.9-1.4h0m-.3-2h0m-.6-1.7h0m-.5 1.4h0m-.8 3.3h0m-53.5 .8h0m-10.1-2.1h0m-.3-.1h0m-4.4-.8h0m-52.1-1.4h0m-.7 .5h0m-.3 0h0m-.7 3.6h0m-1-4.5h0m-.3 2.3h0m-1.6 .4h0m-1.1 .2h0m-1.7-1h0m-12.9 .7h0m-1.5 .9h0m-2.1-.7h0m-.7 1.2h0m-.2-.1h0m-.3-4.7h0m-.6 3.8h0m-.1-2h0m-1.3-1.1h0m-.7 .7h0m-.9 1.1h0m-1 2.9h0m-.1-4.5h0m-10.9 7.7h0m4.1-.1h0m2.8 1.8h0m.6 .9h0m5.8-1.1h0m5.7-1.5h0m88.3 .8h0m.6 .3h0m.3-.2h0m.2-1.7h0m.1 1.7h0m0-3.4h0m.1 1.9h0m.3 3.7h0m.2-3.3h0m.1 1.1h0m.3 .1h0m1.5-.1h0m.2 1.7h0m.4-3.4h0m.1-.4h0m.1 .7h0m.5 3.6h0m49.8-2.9h0m2.7-.2h0m1.7-1.8h0m9.2 3.9h0m.1-.5h0m.8 1.5h0m1.1-1.1h0m.5-.8h0m1.6-1h0m-.5 3.4h0m0 5.1h0m-.6-4.8h0m-.2-.1h0m-.8 5.4h0m-.3-.9h0m-1.3-1.5h0m-.3-.2h0m-.4 2.4h0m-.3-3.4h0m-.2 .2h0m-39.6 1.3h0m-.3-1.1h0m-.1-1.2h0m-.1 .9h0m-1.1-.3h0m-.3-.3h0m-.2 1.6h0m-.1 .1h0m-23-3.4h0m-1.3 .8h0m-100.2 1.3h0m-1.8 1.3h0m-.1-1.9h0m-6.3 3.8h0m176.2 3.6h0m.2 .1h0m1.8-1.3h0m11.4 1.8h0m2.9 1.2h0m1.3 .1h0m1 .9h0m1.6-2.3h0m0-1.2h0m.7 2.3h0m1.2-1.2h0m1.1 1.4h0m2.8 4.6h0m-.1 1h0m-1.8-1.8h0m-2.3 1h0m-.4-.6h0m-.9-.1h0m-.7 1.2h0m-1.2-3.1h0m-1 .7h0m-2.5-1.5h0m-3.4 3.5h0m6.9 2.4h0m1.3 2h0m.8 .7h0m0-2.2h0m1.1 2.9h0m2-.3h0m16.5 26.4h0m.2-1.8h0m1.7 1.8h0m2.2-1.1h0m6.8-1.3h0m1.5 .4h0m0-.6h0m.3 .2h0m0 2h0m.2-.6h0m3.5 .7h0m14.6-1.1h0m.9 1.4h0m.6-2.3h0m1.9 0h0m.7 2.6h0m3.6-2.3h0m0 .5h0m.4 .3h0m1.4-.8h0m0-.3h0m.5 .9h0m.4 .2h0m.5 .9h0m.2 .1h0m-2 2.3h0m-.1-.5h0m-2.3-.9h0m-3.9 2.1h0m0-2.1h0m-2.1 1.2h0m-.3-.3h0m-15-.1h0m-1.3-.2h0m-.4 1.8h0m-1.5 0h0m-1.4-1h0m-4.3 .4h0m-4.8-1.3h0m-3.6 8.6h0m.2-.7h0m0 2.1h0m1.3-1.4h0m.1 1.7h0m.8-1.2h0m7.6 .6h0m2.8 6.1h0m-.4-1.4h0m-.1-1.7h0m-1.7 1.8h0m-1.3 1.9h0m-.4 .2h0m-1-1.8h0m-.1 .7h0m0-1.5h0m-.2-.4h0m-.7-1.8h0m-1.1 2.1h0m-2.6 .4h0m-1.1-2.3h0m-1.9 3.5h0m-.4 .2h0m-.4-3h0m-205.4 7.8h0m.1-1.8h0m1.1 .9h0m.9 .7h0m.1-1.9h0m.1 1.7h0m.1-2h0m0 1.5h0m1.9-1.1h0m.1 2h0m1.6 .6h0m206.9-3.6h0m1.3 .8h0m2.6-.9h0m-216.4 10.2h0m-.3 .6h0m-.2-1h0m-.4 1.5h0m-.1 .2h0m-.1 .3h0m-1.2-2.2h0m-3.6 1.9h0m-4.4 3.3h0m1.3 .2h0m.7 2.5h0m.2-3.7h0m.8 0h0m.5 3.9h0m.6-.5h0m.4-3h0m.9 1.3h0m1.2-2.9h0m1.4 2.8h0m1-1.1h0m0-1.4h0m.1 1.1h0m1.1 1.2h0m.9-2.6h0m.1 1.6h0m-8.2 5h0"/>
<path stroke="#A22E2E" stroke-width="2.3" d="M1134.9 299.4h0m-128.4-.9h0m-19.8 7.4h0m17.5-5.4h0m2.9 4.6h0m1.8-2.9h0m54 2.7h0m.1-3.3h0m3.2 1.9h0m5.8 1.2h0m62.3-3h0m.4-.2h0m1 .8h0m0 .1h0m.7-1.5h0m.2 1.3h0m0-1h0m19.9 3.2h0m.9 .3h0m1.7-2.7h0m1 3.4h0m2.6 1.7h0m-5.5 1.5h0m-.4-2.1h0m-19.1 1.4h0m-.6 3.8h0m-1.3-4.6h0m-5.3 2.8h0m-49.1 1.4h0m-1.5 .3h0m-14.1-3h0m-1.9 .1h0m0 0h0m-52.7 2.8h0m-1.2-5.5h0m-1 .8h0m-.1 2.8h0m-.1-.8h0m-.4 2.4h0m-1.8-3.6h0m-.2 .2h0m-1.1-1.4h0m-.4 3.2h0m-15.5 1.9h0m-.6-2.3h0m-.2-1.2h0m-3.3 1.6h0m-.8-.7h0m-9.9 4.1h0m2.6 1.9h0m2.9 1.6h0m4.4-4.4h0m.8 1.1h0m.1 2.6h0m1.1-3h0m1.8 3.6h0m1-3.9h0m89.1 2.1h0m.8 2h0m.9-1h0m.2 2.2h0m.2 .1h0m.4-2.3h0m.3-1.9h0m.2 .3h0m.1 .4h0m.3 .6h0m55.6-2.9h0m9.3 2.3h0m.1 1h0m.7 2h0m.6-1.7h0m1.2 1.6h0m.2-1.4h0m.1-1.8h0m.4 2.9h0m.6 .3h0m-.1 5.8h0m-.7-1h0m-2-1.6h0m-.1 .7h0m-1.5-.3h0m-40-.3h0m0 1.3h0m-1 .6h0m0-3.2h0m-23.8-.2h0m-1.5-.3h0m-1.3-.5h0m-102.3-.1h0m167.9 6.6h0m1.1 .8h0m.4-.8h0m2.9-.1h0m.7 .8h0m.1-1h0m11.7 4.6h0m4.3-5h0m.1 1.6h0m1.7 2.8h0m1.3 1.1h0m.1-3.5h0m.1 .8h0m.7-2.1h0m.4 3.4h0m1.8 7.1h0m-3.9-2.9h0m-2.3-1.3h0m-3.3 4.8h0m-1.3-1.6h0m4.6 2.6h0m4.5 1h0m2.1-.9h0m.9-.5h0m18.4 28.9h0m1.9-4h0m6.3 4.1h0m18.2-1.6h0m.8 1.5h0m8.5-1.8h0m0 1.2h0m1.7 1.8h0m-1 1.2h0m-.8-.3h0m-5.4 .9h0m-26.1-.2h0m-2.3-1.3h0m-1.3 2.1h0m-.4-.2h0m4.9 8.9h0m4.8 4.2h0m-2.1 1.2h0m-.2-2.5h0m-.7-.4h0m0-1.3h0m-.7 1.5h0m-1-1.6h0m-1 4.6h0m-.5-4.3h0m-1.5 .2h0m-1.1-.8h0m-1.2 .7h0m-.7-.1h0m-1.4 1.2h0m-206.7 7.8h0m.4-1.2h0m.2 .3h0m.3-.3h0m.4 3h0m1.5-3.5h0m.4 3.5h0m-2.2 5.8h0m-10.8 3.3h0m.8 1.6h0m2-2.3h0m1 1.4h0m1.1 2.2h0m.6-4.7h0m1.3 .6h0m2-1.6h0m1.6 1.6h0"/>
<path stroke="#CDA765" stroke-width="1.6" d="M1051.4 275.2h0m-3-.6h0m-3 .1h0m-.9 .7h0m-4.6 .3h0m-1.9-.6h0m-.1-.5h0m-2.3 4.4h0m.9 .3h0m.3-1.8h0m.4 .2h0m.4 1.4h0m.6 1h0m.5-1h0m.5-3h0m2 .8h0m2.2 1.9h0m.1-.8h0m.7-1.5h0m1.7 .2h0m5.2 2.8h0m.6-2.3h0m5.9 2.7h0m.3-1.9h0m.9 .6h0m1.5-1h0m.3-.3h0m1.4 6h0m-.7 .6h0m-2.4 1.3h0m-2.4-.7h0m0-.5h0m0 .6h0m-.3 2.7h0m-1.8-1.6h0m-.8-3.4h0m-.1 1.6h0m-.7 2h0m-.6-2.2h0m-.4 .2h0m-.4 3.7h0m-.1-.2h0m-.3-2.8h0m-.4 2.1h0m-1.1-4.5h0m-1.2 5.3h0m-.3-.1h0m-.1 1.6h0m.8 .6h0m2.1-1.6h0m.6 1.7h0m.5-1.7h0m2.1 .8h0m27.1 10h0m-24.4 4.3h0m5.7-1.5h0m8.2-.8h0m4.5 3.3h0m4.2-1.2h0m2.7 .7h0m47.3 7.4h0m-.2-.5h0m-1-.6h0m-.5 1.4h0m-45.6-3h0m-61.7 8.5h0m.3 .4h0m.3-2.3h0m.9 .7h0m1.1-2.9h0m.9 2.1h0m4.2 2.9h0m.8-.7h0m0-3h0m1.2 1.8h0m1.6 .1h0m.1-.1h0m.8-.1h0m0 .6h0m42.7 0h0m1.4-1.7h0m1.1 1.5h0m2.1-1.2h0m7.6 .4h0m38.8-1.1h0m1.2 .6h0m.1-2.2h0m.8 2.9h0m0-1.4h0m2.6 .1h0m13.3-1.4h0m.8 4.7h0m.4-2.4h0m.4 1.7h0m.5-.5h0m.1 3.7h0m-1.1 2.6h0m-1.6-3.4h0m-.5 .1h0m-2 3.2h0m-.3-3.3h0m-1.9 2.6h0m-.3-2h0m-53.4 2.2h0m-5.8-2.1h0m-9.1 .2h0m-35.9-2h0m-.1 1.8h0m-.8-1.2h0m-.1 2.7h0m-.1-.5h0m-.6-1.3h0m-3.3-1.5h0m-1 2h0m-2.3-1.7h0m-.3 1.5h0m-.1-.3h0m-.5-.2h0m-.8-.5h0m-2 2.4h0m-1-1.1h0m-1.9-.8h0m-8.1 4.2h0m-1.5 1.6h0m.9 1.4h0m.2-1.9h0m3.5 .5h0m.2-.3h0m.1 .7h0m15-1.1h0m3.1 .4h0m7 3h0m.7 .9h0m.4-1.6h0m0 1.2h0m1 1.3h0m.9-2.6h0m.3 .6h0m.4 2h0m.6-4.5h0m.2 4h0m.2-3h0m167.8 7.6h0m-.6 1.4h0m-.4-.5h0m-.2-1.4h0m-.2 2h0m-1.1-.6h0m-.4-.3h0m-1.5 .6h0m-163.3-4.6h0m-.9 .3h0m-13.8 5.2h0m-58.3 4.2h0m23.1 .9h0m7.1-.2h0m1 .4h0m.8 0h0m1.2-2.1h0m1.1-.3h0m19.4 2.2h0m1.3-.5h0m.1 1.2h0m.5-1.8h0m1.1-1.4h0m0 2.9h0m.7-1.1h0m1.3-.7h0m1.6-3.3h0m2.3 4.5h0m1.4 .9h0m.7-3.9h0m173.2-.7h0m1.3-.4h0m.3 1h0m0-.5h0m0 2.6h0m1.5 .8h0m.3 .8h0m13.3 .3h0m.9-.2h0m1.5 0h0m.2-.9h0m1-.8h0m1.2 4.6h0m-.3 .6h0m-.3 .2h0m-17.4-2.2h0m-.2 .1h0m-1.1 1.8h0m-.2 0h0m-.8-.7h0m-1.8-.1h0m-.7-1.6h0m-166.8 1.2h0m-.2-1.2h0m-1.2 3.2h0m-2.1-1.6h0m-1 1.1h0m-.1 .4h0m-.5 .5h0m-.4-2.1h0m0 2.5h0m-.1-1.3h0m-2.8-3.1h0m-.5 .7h0m-4.5 .7h0m-20.9-1.3h0m-.2 2.7h0m-3.1 .4h0m-.6-1.9h0m-1.4 .9h0m-.2 3.1h0m-.6-2.6h0m-.3 2.2h0m-.9-3.6h0m-.4 1.9h0m-2.8-3.2h0m-1.7-.1h0m-.4 2.3h0m-1.4 3.1h0m-3.3-4.8h0m-1.2 1.2h0m-6-1.5h0m-.3 3.8h0m-6.8-3.1h0m-.4 .7h0m-2.7-.1h0m-7.2 2.8h0m-.2-3h0m-6.9 .6h0m-1.8 3.2h0m24.6 3.1h0m2.5 1.6h0m7-.5h0m4.7-3.4h0m.9 3.3h0m0-1.7h0m1.4 .3h0m1 2.5h0m.2-1.4h0m.8 .1h0m.6-1.9h0m.1-.8h0m211.8 3.1h0m1.3 .9h0m.8 1.5h0m1.8-5.5h0m.9 2.5h0m.7 .7h0m.7-1.4h0m.4-2.1h0m.3 4.8h0m.9-.2h0m0-1h0m.9 2.2h0m.5-.3h0m.4 .2h0m.1-1.6h0m2.1 .9h0m8.4-.1h0m.1 0h0m.2 .7h0m.6-1.1h0m.7-.7h0m.7 .3h0m3.1-1h0m.4 2.7h0m.1-1.6h0m.6-1.1h0m0 1.2h0m2.2 1.5h0m.1-.6h0m.4 .2h0m.4-2.2h0m1.6 .5h0m.1 1.2h0m-.2 3h0m-.8-1.4h0m-3.4 4.5h0m0-4.5h0m-.4 3h0m-.3 1.5h0m-.1-4.8h0m-1.2 1.1h0m-.7 2.4h0m-.6-3.1h0m-.4 .3h0m-2 1.2h0m-.1 .2h0m-.4-1.4h0m-.5-1h0m-.2 3.1h0m-.2 .5h0m-.2-2.2h0m-.1-.4h0m-2.4 .9h0m-.3 3.1h0m-1.5-1.3h0m0 1.5h0m-1.2-2h0m-.3 1.9h0m-.4-2.7h0m-1.9-.3h0m-.8-.3h0m-.2 .2h0m-.1 .6h0m-.1-.8h0m-.3-1.8h0m-1.8 .6h0m-16.5 4h0m-4.4 1.1h0m-193.2-3.6h0m-2.4 2.4h0m-.3-.9h0m-5.3-2.7h0m-7 4.7h0m-4.3-2.8h0m-.7-.7h0m-5.4 2.8h0m-16.9-4.8h0m23.1 6.4h0m207.6 1.2h0m.8 2.4h0m1.5-3.8h0m2 3.5h0m2.8 1.1h0m2.2-4.9h0m1.9 4.1h0m9.5 1.8h0m14.1-.1h0m7.5-5.7h0m0 .5h0m4.6 1.2h0m1.6-.5h0m-9.4 7.5h0m-1.9 .5h0m-3.5-2.5h0m-1.1 4.6h0m-.2-1.4h0m-4.6-.8h0m-.3-2.6h0m-1.3 2.6h0m-7.2 .7h0m-.2-.7h0m-.2 2.5h0m-1.3 .2h0m-.4-5h0m-.7 4.4h0m-3.8 .2h0m-2.3-.3h0m-1.4-5.1h0m-.7 2.3h0m-3.3-1.9h0m-.2 2.2h0m-6.4-.6h0m-12.2-.1h0m-219.3 2.6h0m0-1.4h0m-.3-1.9h0m-.4-1h0m0 .6h0m-.6 4.9h0m-1-1h0m-1.1-2.8h0m-.1-.3h0m-1.3 4.1h0m-1.2-1.3h0m-.8 .9h0m-4.3 .5h0m-1.9-.9h0m-.1 .7h0m-1.6 1.8h0m1.3-.6h0m0 .2h0m.4 0h0m.3 0h0m0 .3h0m1.4-1h0m3.9 2.3h0m1.2 .9h0m1 .8h0m.8 1.5h0m.3-.2h0m.1-3.9h0m1.2-.6h0m.2 4.4h0m.3-5.1h0m.3 2h0m.4-.3h0m.6 .3h0m239.1-1.8h0m11 3.8h0m1-.3h0m.8 1.7h0m2.5-.6h0m5.5-2.9h0m-9.8 6h0m-10 .2h0m-1.8-.6h0m-1-1.8h0m-2 2.3h0m-1.5 2.2h0m-.2 1.1h0m-9.1-5.6h0m-225.4 1.1h0m-.6-.7h0m-.4 1.2h0m-.7-1.5h0m-.1 1.4h0m-.2 0h0m-.1-1.2h0m-.2 2.3h0m-.6-1.6h0m0 1.2h0m-.3-1.8h0m-.5 .8h0m-.3-.7h0m-.1 .6h0m-.3 0h0m-7.1 3.8h0m-2.2-3.2h0m-.6 2.7h0m-3-1.2h0m-.7 1.4h0m2.5 3.6h0m.3-.4h0m1.6 1.4h0m1.4-3.2h0m250.3 .2h0m1.2 .8h0m-52.4 26.7h0m1.1 2.9h0m-2.7 2.9h0m-.6 .7h0m-5.1 1.2h0m-.9-3.8h0m-.4 1.5h0m-1.4 .6h0m-6.1-3.5h0m-3.6 1.4h0m-1.4 8.6h0m13.4-4h0m-16.4 7h0m-80.9 26.9h0m-.5-1.8h0m-.1 2.2h0m-.2 .3h0m0 .3h0m-.6 .5h0m-.9-2.5h0m-.2 1.7h0m-.2-.6h0m-.2-2.4h0m-1.1 1.7h0"/>
<path stroke="#CDA765" stroke-width="2.3" d="M1049.5 273.6h0m-10.1 6.4h0m4.1-3h0m12.9 2.9h0m6.3 .9h0m-6 2.1h0m-2.8 2.9h0m-2.7 2.1h0m0-.5h0m-1 2.7h0m.2-1.4h0m0-.4h0m24.1 11.4h0m-15.5 2.5h0m1.1 .6h0m9.5-.2h0m2.5 .1h0m6.5 2.7h0m2.1-1.3h0m50.4 6.9h0m-2.8 .6h0m-.7-.7h0m-1.5 .5h0m-40.2-4.1h0m-8.5 4h0m-2.6 .4h0m-55.8 3.9h0m7.2 .8h0m.4-1.2h0m.5-1.4h0m1 2.8h0m1.5-1.5h0m3.7 2.7h0m48.5-2.7h0m44.6-1.9h0m.9 1.9h0m1-.4h0m.5-2.4h0m10.2 5.1h0m8.1 .2h0m0 2.6h0m-1.1-1.5h0m-2.7 2.4h0m-56.6 1h0m-1.1 1.1h0m-3.4-5.1h0m-.5 2h0m-9.2-1.2h0m-4.6 4.7h0m-40.2-4.7h0m-.7 .2h0m-1.4 1h0m-.3-1.1h0m-.8 1.8h0m-.1-1.7h0m-.2 0h0m-1.3 .4h0m-9 4.3h0m-3 .1h0m.1 2.5h0m1.8-.7h0m.7-1.4h0m.5 .5h0m.2 .7h0m.1-1h0m.3 2.4h0m16.8-1.7h0m9 2.8h0m4.4 .4h0m.6 1h0m164.3 4h0m-.7 .4h0m-206.3 6.3h0m2.2-.8h0m1.5 .9h0m17.3 1.7h0m2.3-1.1h0m.1 .2h0m.5 .9h0m5-.2h0m1.2-3.3h0m.3 2.1h0m1.2-1.9h0m.1 .4h0m2.4 .8h0m171.9-3.7h0m1.1 5h0m1-3.4h0m18.4 2.6h0m.8-1.1h0m.8 1.9h0m-.4 1.6h0m-.6 1.8h0m-.9 .3h0m-.3-1.4h0m-1.9 1.3h0m-13.8-2.3h0m-.7 .6h0m-.3 1.8h0m-.9-1h0m-.1 .8h0m-169.4-.3h0m-2-1.1h0m-.4 2.5h0m-.3-3h0m-1.9 2h0m-.4-2h0m-8 1.6h0m-.4 .8h0m-2-2.1h0m-.6-.8h0m-.1 .3h0m0 1.5h0m-22.4 0h0m-1 2.7h0m-2.5-2.6h0m-11.1-.5h0m-13.8 8.1h0m11.2 0h0m7.9-.4h0m4.8-3.3h0m213.1 4h0m5.5-1.1h0m.9-2h0m22.7 .6h0m1.8 1.6h0m1.9 .3h0m-1.7 7.5h0m-3.6-.9h0m-3 .7h0m-1.5-3.3h0m-1.9 .2h0m-.6 1.9h0m-1.3 1.4h0m-.9-1.7h0m-1.3 1h0m-1-1.6h0m-.5 2.6h0m-4.7-2h0m-.1-1.1h0m-.9-.3h0m-.4-1h0m-.9 .7h0m-.3-.2h0m-20.3 4h0m-202.3-1.7h0m184.6 5.6h0m5.9 1.7h0m1.4 .6h0m.2-.8h0m2.5-2.8h0m1.2-1h0m7.3 1.4h0m.1 3.5h0m2.8-1.2h0m.4-4.6h0m1.3 5h0m8.2-2.2h0m17.5-2.1h0m9.4 1.3h0m4.4-2h0m-14.4 10.9h0m-3.2 .9h0m-.2-.2h0m-.1-.5h0m-3.5-3.3h0m-1.8 4.1h0m-7.4-3h0m-1 .6h0m0-2.2h0m-1 3.5h0m-18.1-2.4h0m-3-.1h0m-229 1.7h0m-14.2 3.5h0m2.9 1.1h0m0-2.6h0m.4 .1h0m4.7 1.5h0m228.7-1.5h0m2.7 5.3h0m9.2-.5h0m1.3-.6h0m3.2 1.2h0m9.9-4.6h0m5.8-.2h0m7.3 .1h0m-25.4 6.4h0m-243.4-.8h0m-5.9 3.8h0m-1 .3h0m-2.6-1.6h0m-1-.1h0m3.2 3.4h0m92.1 70.7h0m-1-.5h0m-.3-1.3h0"/>
<path stroke="#D98C4A" stroke-width="1.6" d="M1050.2 279.2h0m.1-1.4h0m.6-.2h0m.3 3.4h0m.2-.8h0m.1-2.3h0m.2 .4h0m.2 2.1h0m.4 .5h0m.5-1.7h0m.5 1.5h0m.1-1.1h0m.5 1.7h0m2.4-1.1h0m.5-2h0m.1 2h0m0 .4h0m.5-3h0m0 1.3h0m1.8-1.8h0m1.1 1.6h0m0-.2h0m.3 1.8h0m1.4-.3h0m-4 4.4h0m-.1-2.3h0m-1 2.4h0m-1.7 1.9h0m-1.2-2.8h0m-.7 .2h0m-.5 .7h0m-.9 .9h0m-.8-3.2h0m-.3 2.9h0m-1.3-1.6h0m1.5 4.5h0m1.6 .4h0m.1 2.7h0m.7-1.1h0m.8-1.2h0m1.8-.1h0m1.3 .7h0m1.3 .1h0m.6-.9h0m77.8 5.1h0m4.4 3.4h0m-.2 1.1h0m-.8 .1h0m-2.1 .3h0m-1 .9h0m-.1-5.5h0m-.2 3.6h0m-.1 .9h0m-2.1-2h0m.2 3.9h0m.5 .5h0m.1 .4h0m3.7 .9h0m1.3 2.8h0m.1-4.2h0m1.2 0h0m1.3 3h0m27.2 7.6h0m-2.1-3.4h0m-1.2 3.9h0m-.7-.8h0m-.7-2.3h0m-.8 1h0m-.5 .1h0m-.2 1.7h0m-15.5-1h0m-.3 .6h0m-2.9-3.5h0m-.9 0h0m-.3-.8h0m-.8 2.3h0m-1.2-1h0m-.2 1.1h0m-1.1-.1h0m-.4-.7h0m-4.5 2.2h0m-.4 .8h0m-.3-2.5h0m-1.4 1.3h0m-.2-.4h0m-.6 0h0m1.2 4.7h0m2.2-1.4h0m.3 .1h0m8.1 .1h0m.3-.4h0m1 4.6h0m.2-.2h0m1.9-.6h0m.7-3.1h0m.7 2.5h0m.1-4.1h0m.3 1.8h0m1.9 .8h0m.2 .4h0m.6-.4h0m13.1-2.6h0m.1-.1h0m.2 .3h0m.7 1.5h0m.2-1.1h0m.1 1.2h0m.8-.6h0m-19.1 6h0m-112.2 4h0m-2.1-2.5h0m-.1 2.9h0m0-1.3h0m-3.1-3.5h0m-.4 3h0m0-.4h0m-.4-1.3h0m-.9-.8h0m-.1 4h0m-.3-1.1h0m-.8 1.1h0m-.9-2.9h0m-.4-.1h0m-.1 0h0m-14.9 7.8h0m3.9-.6h0m.1-2.2h0m1.1 4.4h0m.6-4.4h0m.6 .7h0m2.3 2.6h0m1.8 .3h0m.6-1.8h0m2-.2h0m.2-2.7h0m2.5 .8h0m.9 1.1h0m.3 2h0m3.5-4h0m1 2.4h0m.4-1.5h0m1 .9h0m157.2 3h0m.9 .6h0m1.7 1.1h0m-.1 .2h0m-.1 .7h0m-.3 0h0m-.3 1.1h0m-.2 0h0m-2.5-.3h0m-.2-.5h0m-1.2 .7h0m-138.6 1h0m-7.2 2.3h0m-10.8-1h0m-.2 .4h0m-.2 .2h0m-4.9-3.6h0m-2.1 3.3h0m-.4-4.7h0m-.1 .6h0m-1.9-1h0m-.2 1.6h0m-.4 2.6h0m-.6-3.5h0m-1.3 4.6h0m0-5.3h0m0 1.6h0m-.8 2.6h0m-2-3.7h0m-1.2 .7h0m-.5-.2h0m-5.4 .3h0m-34.5 9.2h0m16.5-2.7h0m.3-1.4h0m.1 1.9h0m2.3-1.5h0m.1-.6h0m1.2-.3h0m1.5 5.1h0m.5-2h0m21.9-2h0m3.6-.1h0m.7 4.8h0m.9-3h0m1.6-1.6h0m0-1.1h0m.4 5.8h0m2.9-4.1h0m.4 .6h0m0-1.4h0m.4 4.3h0m.5-4.3h0m1.5 .7h0m.3 1.1h0m.1-.6h0m2.2-.1h0m.3-.9h0m.1 3.7h0m5-.1h0m.2-.2h0m.1-.3h0m.8 .6h0m1.5-.6h0m.9-2.2h0m.1 .8h0m.1-.1h0m1.7 1.2h0m.3-4h0m3.2 5.1h0m.5-3.7h0m1.1 3.1h0m.1-2.5h0m.7-.3h0m0 1.2h0m.1 .2h0m.1-1.5h0m0 1h0m.2-.2h0m.1 2.2h0m0-2.6h0m.2 3.3h0m.1-.8h0m.4-3.3h0m2 1.7h0m0-.9h0m141.4 2.7h0m1.1-1.4h0m1 2.2h0m8.4-.6h0m.2-2.3h0m.3 .2h0m.1-.2h0m.1 2.4h0m.9-2.2h0m.2 1.7h0m.3-1.8h0m.2 1.9h0m.4 0h0m0-1.6h0m1.2 0h0m.3 2.3h0m3.5-.6h0m6.1-.2h0m1.3 .5h0m0-1.8h0m0 1.5h0m1.9 1.1h0m1.8 .2h0m-.5 .8h0m-2 4.9h0m0-3.3h0m-.3 .4h0m-.9-1.7h0m-1.6 1.4h0m-.2-.9h0m0 .5h0m-1.5 .4h0m-.3-2h0m-.1 1.2h0m-1.4 2.2h0m-.4-1.2h0m-3.1-1.3h0m-1.4 2.4h0m-10.6-.2h0m-.4-2.8h0m-.2 .5h0m-1.2 1.3h0m-.4-.6h0m-1.2-.8h0m-1.4 .2h0m-.4 4h0m-151.3-4.5h0m-.2 4.7h0m-1.5-5h0m-.1-.1h0m-1.6 4.8h0m-.4 .1h0m-.9-1.9h0m-.6 .9h0m-.2 .6h0m-.1-.7h0m-.2 .2h0m-1.4-2.8h0m-.8 2.3h0m-2.1-1.6h0m-1.7 .2h0m-.8-.8h0m-.1 2.3h0m-.1-2.2h0m-1.1-1.4h0m-.9 4.5h0m-2.2-3.8h0m-.2 .9h0m-1 3.4h0m0-.1h0m-3.4-1h0m-1.3 .3h0m-.3-1.6h0m-18.9-.4h0m-.1 1.6h0m-8.2-1.8h0m-2.9-2.5h0m-27.2 1.8h0m-2 3.7h0m-.6-3.3h0m-.3-1.9h0m-6 6.7h0m25.2 .6h0m16.5-.1h0m29.5 .1h0m5.7-.3h0m.2-1.3h0m2.4 2h0m1.9 1.2h0m.3-2.8h0m1.3 1.2h0m3.6 1.5h0m.2-1.1h0m1.1-.7h0m180.1-1.3h0m1.5 .6h0m1.5 .6h0m1.3 3.1h0m.4-2.4h0m.8 1.3h0m14.6 .4h0m1.8 2.2h0m.9-1.3h0m0 .1h0m.9-2.1h0m1.8 3h0m.8 .3h0m-2.4 1.9h0m-.1-1.6h0m0 1h0m-.2-.8h0m-.4 3.4h0m-.8-1.5h0m-.9-1.5h0m-.6 2.6h0m-.3 .3h0m-.4-.1h0m-.5-3.4h0m-.2 .3h0m-18.5-.1h0m-1.4-.3h0m-.2 0h0m-.1 .5h0m-225 2.8h0m-.6 2.2h0m-19.3-3h0m-.1-.7h0m9 4.6h0m-34.1 8.7h0m-.4-.6h0m-1.3-2.3h0m0 5.5h0m-.7-2.8h0m-3.1 1.8h0m-.2 .7h0m-.4-3.6h0m1.6 4.4h0m1.9 .3h0m.4 .3h0m214.5 21.4h0m-2.9-1.6h0m19.3 7.8h0m-2.9 6.1h0m-3.3-3h0m-33.9 9.3h0m1.2 2.8h0m-4.8-.3h0m-.4 1.9h0m-.5 .1h0m-5.4-.7h0m-6.1 .9h0m-2.1 1.3h0m-.3 1.2h0m.9 4.9h0m3.8-4.9h0m.2 1.8h0m.2 2.4h0m-4.8 3.6h0m-91.9 15.6h0m-.3 .3h0m-5.1 3h0m.2-1h0m1 2.5h0m1.2-3.3h0m.1 2.7h0m0-.6h0m.8 1.5h0m0 .2h0m.8-3.1h0m.1 3.2h0m.2-.6h0m.9-2.7h0m.3 1.5h0m.5 .6h0m1.9-.3h0m1 1h0m.7 .8h0m.5-4h0m2 .6h0m.4 2.9h0m8 4.6h0m-1.5-.9h0m-.2-1.2h0m-.9 .6h0m-.7-.2h0m-.1-.4h0m-2.7 3.4h0m-11-.6h0m-.3-.1h0m-.9-3.8h0m-1.6 3.4h0m-1 2.2h0m.2 1.5h0m1.2 4h0m.4-4.6h0m.8 .4h0m.2 4.1h0m1.4-2.2h0m0 2.2h0m2.8-3.3h0m9.7-1.7h0m2 .9h0m1.2-.5h0"/>
<path stroke="#D98C4A" stroke-width="2.3" d="M1050.9 280.1h0m.4-.1h0m.2-1h0m9.2-1h0m-3.9 6.3h0m-1.2-1.1h0m-1.9 .6h0m-1-1.8h0m87.1 11.9h0m-1.8 2.5h0m2.7 7.2h0m2.4 1.7h0m.7-1.3h0m20.4 5.3h0m-14 2.5h0m-7.1-4.1h0m-.5-1.6h0m-.8 4.5h0m-.5-2.4h0m-2.6-1.8h0m-6.3 3.8h0m-.3 1.3h0m1.6 2.3h0m.3 .4h0m.7-.8h0m1 .5h0m.1 1h0m.4-1.9h0m1.2 .6h0m15.1 2.6h0m.5 1.2h0m14.4-5.4h0m2.3 0h0m-132.7 11.8h0m-6-3.2h0m-.2 1.4h0m-.9 1.9h0m-.2-3.3h0m-.6 2h0m-.4-1.4h0m-.2 1.1h0m-.2 1.5h0m0-1.6h0m-.7 0h0m-8.4 5.5h0m1.4 1.6h0m1.8-2.7h0m1.1-.7h0m.3 .3h0m.2-.9h0m.6 4.3h0m.5-1.6h0m1.1 .8h0m2.8-4.7h0m2.1 2.8h0m160 2.4h0m.2-.7h0m.2-.5h0m2.6 4.5h0m-4.2-.2h0m-144.4 1.9h0m-11.3 1.5h0m-6.1-1.6h0m-2.3-2.7h0m-1.3 .8h0m-1 2.6h0m-4.3-1.2h0m-1.9-2.9h0m-2.8 1.4h0m-20.4 3h0m36.6 1h0m.1 5.1h0m.6-5.1h0m1.5 .9h0m1.3-.2h0m.5 2.2h0m.3-.4h0m.2 1.2h0m.5-2.9h0m0 1.8h0m8.3 2.1h0m.3-4.1h0m.3 .6h0m0 3.3h0m.4-1.3h0m.2 1.3h0m1.3-1.1h0m1.9-3.6h0m3.5 .5h0m1.1 2.1h0m1.9 2.8h0m.7-2.2h0m147 2.4h0m6.9-1.7h0m.1-1h0m.9 2h0m10.3 .8h0m1.8 .1h0m2.9-2.6h0m-2 5.3h0m-2.2-1.5h0m-.6-.7h0m-.9 3.1h0m-1.5-1.5h0m-1.6-.3h0m-.1-.3h0m-15.3 2.6h0m-.3-3.8h0m-.1 5.3h0m-3.5-.1h0m-149.9-4.7h0m-2.5 3.8h0m-.3 .9h0m0-4.3h0m-.5-.4h0m-3.2 3.1h0m-.6 .7h0m-2.9-3.5h0m-1 4.7h0m-1.3-5.4h0m-1.2 5.2h0m-2.8-3.7h0m-.3 .1h0m-2.5-.6h0m-2.2 .5h0m-25.4-1.4h0m-7.8 1.8h0m-9.3 .2h0m-7.4 0h0m-13.1 3.8h0m13.3 3.5h0m14.7 1.4h0m44.7-4.3h0m3.6 .9h0m.5 .1h0m.2 .8h0m176.9-2.4h0m4.7 2.8h0m3.1-2.7h0m3 3.8h0m1.5-.9h0m15.9 2.8h0m.6-2.3h0m1 1.8h0m1.4-1h0m1.9 1.6h0m-1 .6h0m-1 2.3h0m-.2-1.6h0m-.1 .3h0m0-.8h0m-.1 .3h0m-.3 0h0m-.7 .2h0m-18.9-1h0m-228.7 3.1h0m-14.1-.5h0m-34.6 8.9h0m1.2 4.3h0m-.8-2.6h0m76.4 80.5h0m.4-2h0m4 0h0m4.3-.2h0m.9 1.8h0m9.5 7.4h0m-.9-4h0m-.1 4.8h0m-2.4-2.5h0m-17.3 3.5h0m7.4 1.9h0"/>
<path stroke="#DDBE82" stroke-width="1.6" d="M1042.3 281.1h0m1.8-.7h0m1.7-.1h0m.4 .8h0m.3-2h0m.1 .5h0m.2-2.3h0m0 .8h0m.5 .8h0m.2-.6h0m.2 1.9h0m0-.5h0m.7 1.2h0m0-.4h0m0-1h0m.3-.2h0m0 .9h0m.3-.9h0m0 1.2h0m1.2 1.1h0m8.4 5h0m-.4-1h0m-2.4 1.2h0m-.7-.4h0m-.1-2h0m-.3 3h0m-.4-2.6h0m-1 .5h0m-.3 1.8h0m0-.7h0m-.4-1.2h0m-.7 1.3h0m-.4 .8h0m-.7-.1h0m-.4-4.5h0m-.1 3.4h0m-.3-1.4h0m0-2.4h0m-1 .9h0m-.5 2.1h0m-.1-1.9h0m-.4 3.3h0m-.4-3.1h0m-.9 2.2h0m-.4-3.1h0m-.4-.1h0m-.3-.2h0m-1.4 2.2h0m-.5-1h0m-.1 1.7h0m-.3-2.5h0m-.7 .7h0m-2.6-1.3h0m6.3 5.9h0m0 .6h0m.8 .2h0m1.4 1.3h0m1.2-2h0m3.4-.2h0m1.7 0h0m.8 1.4h0m.6 .8h0m.6-1.1h0m.5 2.8h0m.7-3.8h0m.3 2h0m1.1-.1h0m-38.8 25.7h0m.7 .3h0m.3-1.9h0m1.2 3.8h0m.2-.8h0m.3-2.3h0m.6 1.1h0m.5-.1h0m-.9 2.6h0m-.4 .2h0m-1-.3h0m-52.3 23.1h0m9.8-3.5h0m.6 2.8h0m14.6 .2h0m2.4-.6h0m182.8 7.3h0m-.2-1.1h0m-.2-.1h0m-.5-1h0m0 1.1h0m-.3-.6h0m-.1 1h0m-1.1-1.3h0m-.7 1.8h0m-4-1.7h0m-.5-.6h0m-.5 1.4h0m0 .5h0m-.9-4h0m-.2 1.1h0m-.3 .8h0m-.1 2h0m-.8-1.8h0m-1.1-1.3h0m-3.3-1h0m-.1 2.8h0m-.4-3h0m-.6 2.1h0m-.3-2.5h0m-.4 5.2h0m0-4.5h0m-.3 4.4h0m-.1-.1h0m-.1-.7h0m-.3-2.2h0m-.1 .8h0m-.1 .1h0m-.7 2.5h0m-.1-2.9h0m-1.1 1.1h0m-.7-2.4h0m-1.5 2h0m0 .5h0m-.5-1.6h0m-166.6 .8h0m-9.8 1.1h0m-9.2-3.1h0m-11.1 3.8h0m-2 3.1h0m2.3 2.3h0m18.3-2.1h0m5.1 .3h0m12.6 1.4h0m9.1-3.2h0m153.5-.1h0m.3 .7h0m.5-.3h0m.7 1.2h0m.7-.7h0m0-.8h0m.3 1h0m.3 .6h0m.2-1.3h0m.3 .4h0m15.4-.5h0m-181.8 10.6h0m-.5-2.1h0m-22.7-.5h0m-3.3-.6h0m-9.4 9.5h0m.3-1.5h0m.3 .5h0m.2 .5h0m.1-.9h0m.1 2.4h0m-1 1.2h0m-1.7-.1h0m0 .2h0m-.1-2h0m-.4 .7h0m-12 10.6h0m.9 .2h0m1.7-1.7h0m1.1 1.4h0m.1 0h0m8.3 2.1h0m-1.8-1.1h0m0 1.7h0m-1.2 1.1h0m-.3 .2h0m-.2-2.3h0m0 .1h0m-.2 0h0m-.1-.3h0m-3.5-.8h0m-.3 2.3h0m-.2-.1h0m-.7-.7h0m-2.1-1.6h0m-1.7 1h0m252.1 16h0m-2.4-.8h0m-6.3 0h0m-1.6-2.8h0m-2.4-.5h0m-1.6 2h0m-5.2-2h0m-5.2 4.1h0m-2.9-3.2h0m-7.2-1.3h0m4.7 9.9h0m3.5-2.4h0m7.9 3.3h0m4.4-2.1h0m19.2-2.5h0m-17.2 9.1h0m-1.3-2h0m-3.7-.2h0m-.6-.2h0m-2.1 3.4h0m-8.7-4.6h0m10.9 6.6h0"/>
<path stroke="#DDBE82" stroke-width="2.3" d="M1044.9 279.4h0m1.4 1.9h0m.5-1.9h0m.9-.2h0m8.2 8.3h0m-.4-1.1h0m-2.7-4.4h0m-1.2 5.4h0m-4.2 2.3h0m2.4-.1h0m8.4-1.5h0m-36.5 28.5h0m2.4-1.4h0m.4 1.6h0m-.7 1.3h0m-2.4 .4h0m158.2 28.8h0m-9.8-3.9h0m-1.1 2.2h0m-4.6-1.9h0m-1.7 2.5h0m-1.9 1.5h0m-.3-2.2h0m-.4 .5h0m-.7 1.7h0m-156-3.4h0m-37.9-1.2h0m8.6 6.8h0m21.8 .5h0m183.8-1.6h0m-196.2 8.4h0m-23.8 7h0m3.4 1.8h0m-2.9 3.3h0m-11.5 8.4h0m7.8-.4h0m.1 .2h0m3 2.5h0m-2.3-.8h0m-.1 .3h0m-7.5-.4h0m-.9 1.5h0"/>
<path stroke="#B9D3A0" stroke-width="1.6" d="M1150.2 329.4h0m.1 0h0m.3-2.1h0m.7 .1h0m.9 1.2h0m0-.5h0m.6-1.3h0m.6 1.9h0m2.8-.5h0m5.7 .1h0m.6 1.5h0m1.1-.7h0m.1 .1h0m.4-1.9h0m1.7 2.2h0m.3-.6h0m.5 .8h0m1.2-.2h0m3.4-.6h0m1.1 2.8h0m-.3-.3h0m-1.1-.4h0m-.1 3.3h0m-.1-1.6h0m-.2 0h0m-.8 1.1h0m-.2-2h0m-.5-.1h0m0-1.2h0m-2.5 1.3h0m-4.4-.7h0m-1.7-.4h0m-3.1 2.1h0m-.8-2.2h0m-3.5 4.2h0m-1.1 .7h0m-.3-3.9h0m-.1-1.1h0m-.2 3.2h0m-2.2-3h0m-.9 2.4h0m-.1-1.4h0m37.1 7h0m.3-1.2h0m.2 1.6h0m.3-2.4h0m.4 .8h0m.4-1.1h0m.2 3.1h0m.8-1.7h0m-40.6 9.9h0m-.9-.1h0m-.6-.1h0m-2.1-.7h0m-.4 0h0m-.9 1.1h0m-136-.7h0m-8.3-.4h0m-30.8 .7h0m-6.3-2.7h0m-.8 .6h0m-1.2 2.8h0m.3 5h0m1.2-1h0m181.1-2.3h0m.9 .8h0m.3 2.1h0m1-3.9h0m.8 .8h0m.8-1h0m-161.5 9.9h0m197.6 35.2h0m-10.1 2h0m-4.6 5.1h0m7.2-1.4h0m8.5 .9h0m.4 1h0m7.7-3.8h0m7.3 4.1h0m-33.3 .3h0m-170.1 33.8h0m.3-3.8h0m1.3 4.4h0m5.4 1.3h0m.9-3.9h0m0 1.3h0m-4.1 3.1h0m-2.8 .1h0m55.3 29.4h0m-1.9-2.8h0m.6 3.4h0m1.5 5.5h0m3.7-3.5h0m1.6-2.3h0m1.2 4.2h0m.2 2.2h0m-6.8 1.6h0"/>
<path stroke="#B9D3A0" stroke-width="2.3" d="M1151.2 328.6h0m.4 0h0m1.9-.3h0m18.3 2.9h0m-21.4 .5h0m-.7 0h0m-176.6 7.6h0m.2 4.8h0m15.2 14.9h0"/>
<path stroke="#E3DCA0" stroke-width="1.6" d="M1146.6 329.7h0m.9-.8h0m.2 .9h0m.7-.9h0m42.3 5.5h0m-.1 .3h0m-.3 1.2h0m-.6-1h0m-1.3 .5h0m-4.2-1h0m-.6-4.4h0m-.2 4.2h0m-1.4-.9h0m-1.1-2.3h0m-.4 1.9h0m0-2.6h0m-.5 1.1h0m-29.6-1.1h0m-.5 4.6h0m-.4 .8h0m-.3-5.3h0m-5.1 1.4h0m-.2 .7h0m3.2 3.6h0m.2-.1h0m39.3 .4h0m.1 .3h0m2.4 .2h0m-44.1 15.1h0m0 1.4h0m1.1-1.3h0m1.5 .2h0m1.2 .1h0m1.8-1.5h0m.9 .8h0m.8 2.8h0m-6.2 2.9h0m-.1-1.2h0m-1.1-.9h0m-194.4 16.1h0m-.5-.1h0m-1.2-.2h0m-.1 .2h0m-1.4 .5h0m-.9 1.2h0m1 .7h0m1.4-.2h0m.9-.2h0m1.5-.4h0m245.4 21h0m-2.8 1.5h0m-5.7-4.5h0m-10.8-.5h0m-2.4-.4h0m-1.9 3.5h0m-1.9-3h0m-3.7-.2h0m.2 11.4h0m27.2-5.5h0m1.4 3.2h0m2.5-2.5h0m-4.6 7.4h0m-9 3.3h0m-3.7-1.1h0m-3.6-1.6h0m-6.5-1.8h0m-9 1.1h0m21.5 6.4h0m-186 24.8h0m.8 3.7h0"/>
<path stroke="#E3DCA0" stroke-width="2.3" d="M1148.4 354.4h0m-199.2 17.3h0m-2.6 1.2h0m2.4 .2h0m.3 .1h0"/>
<path stroke="#6FB5A8" stroke-width="1.6" d="M1081.1 274.1h0m-1.1 1.1h0m-.3-1.2h0m-.1 1.7h0m-.2-.5h0m-.4-2.8h0m-.4 1.3h0m-.3-.1h0m-.1-1.1h0m0 .3h0m-.1-.5h0m-.1 .1h0m-83.4 162.7h0m1.4 1.7h0m1.8-4h0m2 2h0m4 4.9h0m-1.8-1.3h0m-2.4 1.4h0m-1.5 1h0m59.2 26.2h0m-8.3 2.3h0m5.8 2.1h0"/>
<path stroke="#3F7FB0" stroke-width="1.6" d="M1050.6 464.6h0m-.5 1.7h0m6.9 10.7h0"/>
</g>
<g filter="url(#rag)"><polygon points="929.1,658.2 951.9,636.0 986.8,609.6 1023.2,591.4 1053.5,574.2 1082.3,571.1 1103.5,573.5 1108.1,580.8 1086.0,602.7 1055.6,623.9 1025.3,648.2 995.0,672.4 971.6,689.4 959.5,694.6 942.8,684.6 930.1,673.3" fill="#6E9B47"/><polygon points="1032.3,687.0 1060.5,659.1 1083.8,641.5 1112.0,624.8 1123.3,633.0 1109.6,655.1 1086.0,678.5 1065.6,700.6 1053.5,696.1 1036.8,699.1" fill="#6E9B47"/><polygon points="924.0,569.3 936.7,556.6 958.0,546.9 967.7,551.1 965.2,562.0 946.4,571.7 927.6,577.8" fill="#38912F"/><polygon points="1011.0,561.1 1022.3,547.5 1033.2,542.9 1039.2,556.6 1033.8,571.7 1019.2,576.3" fill="#38912F"/><polygon points="966.5,574.2 978.6,570.5 988.3,580.8 984.0,591.7 972.5,586.3" fill="#38912F"/><polygon points="993.7,579.3 1011.9,582.0 1025.9,593.0 1020.4,603.3 1001.6,597.8" fill="#38912F"/><polygon points="1087.8,544.4 1099.9,542.6 1114.5,554.1 1113.9,562.0 1098.1,561.4 1088.4,553.5" fill="#38912F"/><polygon points="1097.5,576.0 1112.6,569.9 1128.4,576.0 1127.8,590.5 1110.2,594.8 1097.5,587.5" fill="#38912F"/><polygon points="1146.0,589.9 1160.6,586.9 1180.6,596.6 1177.6,605.1 1158.7,603.9 1146.0,597.2" fill="#38912F"/><polygon points="1163.6,608.7 1184.8,600.8 1202.4,607.5 1197.6,622.1 1184.8,630.6 1170.3,627.5" fill="#38912F"/><polygon points="940.4,589.9 948.9,587.5 956.7,605.1 952.5,613.0 944.0,607.5" fill="#38912F"/><polygon points="900.3,626.9 910.6,621.5 917.3,629.4 911.9,640.3 901.5,638.5" fill="#38912F"/><polygon points="989.5,522.6 1000.4,519.0 1011.9,523.8 1009.5,531.1 995.0,531.7" fill="#38912F"/><polygon points="987.7,698.5 998.6,695.5 1003.5,704.0 998.6,713.7 988.9,714.3 986.8,721.9 979.8,721.0 981.0,713.1 986.5,708.8" fill="#C8501E"/><polygon points="1132.7,618.4 1149.0,616.0 1166.0,622.1 1161.8,630.0 1143.0,631.8 1133.3,626.3" fill="#BDA27B" opacity="0.8"/></g>
<g fill="none" stroke-linecap="square">
<path stroke="#6E9B47" stroke-width="1.6" d="M1057.1 569.8h0m26.7-1h0m7.1 .2h0m4.1 .9h0m1.8 2.2h0m-.9-2.1h0m-.4 2.2h0m-.3 .4h0m-3.7 2h0m-.4-3.4h0m-6.7-.5h0m-6.6-.4h0m-2.7 1.6h0m-3 3.6h0m-16.3-5.3h0m-7.6 3.8h0m-7.1 6.7h0m15-4.7h0m4 .5h0m.3 2.7h0m1.6 2.7h0m11-3.7h0m29.6-.3h0m.4 .6h0m-7.4 3.7h0m-3.8 3.7h0m-.3-2.1h0m-.1 .9h0m-15.8-1.5h0m-.8 3.4h0m-.7 .6h0m-12.3 .5h0m-10.2-.6h0m-7.3-5h0m-3.7 5.4h0m-2.4-4.4h0m-5.6 .4h0m-2.1 2.8h0m-4.4 .4h0m1 1.3h0m3.3 1.7h0m9.3 3h0m12.3-2.1h0m5.8 2.5h0m.7-2.3h0m2-.4h0m16.5 1.7h0m11.7-1.2h0m11.7-1.9h0m-13.2 8h0m-.6-2.8h0m-1.4 1h0m-3.3 4.5h0m-1.5-1.2h0m-4.5-2.8h0m-6-1.3h0m-3.6 5.2h0m-2.8-3.3h0m-3.9 .6h0m-.5-2.4h0m-4.4 2.2h0m-2.7 1.4h0m-2-.4h0m-2.3 .8h0m-4.1-1.4h0m-2.1-.2h0m-9.1 .3h0m-4.5 .8h0m-.1 .3h0m-.2-2.9h0m-2.3 .8h0m-2.5 2.5h0m-10.3-3.6h0m-14 4.4h0m8.9 2.4h0m1.1 1.6h0m16.4-2.9h0m1.2 .3h0m.1 .3h0m16.1 2.9h0m16.4-1.5h0m19.5 .9h0m8.9-.5h0m4.8-2.2h0m-16.6 6.6h0m-1.7 1.4h0m-4 1.8h0m-16.3-.9h0m-16.7-.4h0m-3-.4h0m-2.4 .9h0m-9-2.5h0m-5.4 4h0m-3.4-2.3h0m-10.5 .1h0m-1.2 2.1h0m-8.7-3h0m-1.5-.2h0m-7.5-.8h0m-.1 3.4h0m-1.8-2.4h0m-.1 .9h0m-2.2 1.5h0m-1.6 1.2h0m8.3 3.1h0m4-.2h0m1.9 .4h0m23.4-1.6h0m2.6-1.1h0m2.2 4.8h0m3.3-5.1h0m.7 4.6h0m14.2-2.6h0m.6-.2h0m1.6 1.1h0m1.5-2.6h0m2.7 2.9h0m8.4-.7h0m.5 .4h0m8.5-.3h0m.3 .9h0m.5-2.1h0m-20.1 10.4h0m-2.1-5.3h0m-3 5.2h0m-11.3-3.9h0m-12.6 2.6h0m-10.1-3.5h0m-.5 2.9h0m-2.1-1.1h0m-9 .9h0m-4.7 1.2h0m-1 .8h0m-5.9-4.4h0m-1.3 2.6h0m-1.6-2.9h0m-6.4 1.2h0m-18.3 9.2h0m7.5-.5h0m2.8 0h0m1.9-4h0m1.6 1.6h0m6.9 3.1h0m6.4-2.8h0m3.7 2.1h0m4.4 1h0m.9-5.9h0m.5 5.6h0m20.1-.4h0m2.9-.1h0m10.6-4.3h0m10 .5h0m.5 3.7h0m4.9-.6h0m5-.5h0m10.6 .8h0m.1-3.8h0m48.8 3.9h0m10.6 .9h0m5.9-3.2h0m4.1 4.2h0m-3.5 3h0m-3.5-3.3h0m-4.6 2.4h0m-7.1-2.4h0m-61.2 1.7h0m-5.4 2.5h0m-3.6 1.2h0m-6.6 0h0m-2.7-4.9h0m-32.1-.6h0m-2.5 .8h0m-6 1.7h0m-5.1 1.3h0m-12.4-2.4h0m-1.6-.9h0m-8.9 2.5h0m-.4 .4h0m-2.3 .9h0m-7.2-.5h0m5.4 3.1h0m5.1 2.5h0m2.3-2.5h0m10 2.8h0m18.9-1.7h0m2.7-1.5h0m2.6 1.6h0m1.5-1.2h0m5.3 2.1h0m6-2.8h0m23.6 3.4h0m6.7-3.4h0m.2 2.2h0m3.1-2.2h0m39.8 4.9h0m7.7-2.1h0m11.3 2.3h0m6.4-3.1h0m1.6 .3h0m.5 2.7h0m3.6-1h0m3.1-3.8h0m2.7-.1h0m-1.5 6.6h0m-3.9 1.2h0m-1.5-1h0m-1.5-.9h0m-2.9 3.9h0m-1.7-2.3h0m-14 0h0m-9.3 3.2h0m-58.3-1.2h0m-3.6-1.4h0m-6.8-.8h0m-7 1.1h0m-1.4-1.5h0m-11.7 2.6h0m-2.6-2.3h0m-2.6 2.7h0m-2.5-1.1h0m-2.8-.1h0m-21.1-1.5h0m-10.1-1.5h0m-6 1.7h0m-4.5 .1h0m4.6 7.8h0m3-3.3h0m6.5 2.8h0m6.8 .3h0m.5-3.2h0m3.6 4.3h0m1.8-2h0m1.2 2.7h0m2.6-2.7h0m17.2 2.2h0m4.2-1.6h0m.3 1.2h0m1.6 1.3h0m2.2-1.9h0m3.9 .7h0m68.5-2.6h0m.3-1.1h0m4.9 4.1h0m5.5-2.8h0m5.8 .7h0m2 .8h0m15.8-1.5h0m.1 2.7h0m.3-.2h0m8.5 4.5h0m-1.2 1h0m-1.1-.1h0m-9.5 1.1h0m-13.4-2h0m-17.1-.3h0m-9.3-2h0m-40.1-.8h0m-1.8 3.4h0m-.4-1.9h0m-10.9 1h0m-9.7-1.6h0m-10.2 1.5h0m-2.1-1.6h0m-2.1 3.4h0m-2.9-1.8h0m-2.2-1.5h0m-3 .8h0m-2.2-.6h0m-6.5 3.5h0m-.6 .5h0m-14.5-4.2h0m-8.7 3.9h0m-.9-1.1h0m-5.2-2.4h0m-1 .8h0m-7.4-.9h0m-.9 3.7h0m0 6.4h0m4.9-4.6h0m.4 .4h0m10.2-1.1h0m.5 3.4h0m0 1.5h0m1.3-.2h0m.3-3h0m11.3 2.4h0m20.9-2.6h0m11.1-.6h0m.8-1.1h0m2.2 3h0m67.7-1.7h0m4.7-.2h0m3.4 .2h0m1.9 2.7h0m1.2-2.1h0m11.6 .7h0m.2 1.4h0m2.5 .2h0m2.6 .2h0m5.1 .1h0m3.7 6.9h0m-.9-2.3h0m-2.5 2.4h0m-5.9-5h0m-8.9 1.5h0m-1.3-1.9h0m-11.6 .5h0m-9.1 .8h0m-1.4-1h0m-1.6 5h0m-4.9 .2h0m-50.1-2.5h0m-2 1.2h0m-3.5 .8h0m-.7-4.5h0m-1.2 .7h0m-.6 1.6h0m-2.1 2.6h0m-.6-.4h0m-4.9 .5h0m-2.5-4.2h0m-4.5 3.3h0m-1.7-1.6h0m-3.5 .8h0m-6.2-.8h0m-.4 1.2h0m-3.5 .2h0m-2.5 .8h0m-1.1-4.2h0m-5.4 3h0m-.4-3.3h0m-8.2 4.9h0m-2.8-5.5h0m-1 1.7h0m-4.2 0h0m-3.5 3.2h0m-1.8-2.1h0m-3 1.7h0m5.1 5.5h0m2.3-.1h0m5.9-1.2h0m.5 1.6h0m.6-1.1h0m1.2 1.3h0m5.9-2.9h0m24.1 2.1h0m.3 .6h0m1.4-.8h0m4-2.4h0m2.6 2.6h0m11.8 .8h0m57.2-2.8h0m2.9-.5h0m3.1 1.7h0m2.8-.6h0m3.4 2.2h0m.4-3.9h0m4.6 3.8h0m5.2-2h0m1.6 .6h0m3 .5h0m1.8 .5h0m2.2-1.8h0m5.6 .5h0m1.8 7h0m-2.5 1.5h0m-.7-.5h0m-9.2-2.8h0m-2.2-2.1h0m-1.2 2.9h0m-.1 .3h0m-.5 1.6h0m-.5-4.1h0m-.5 4.3h0m-.9-3h0m-1.3-.4h0m-.7-.8h0m-.2 2h0m-2-1h0m-.1-.5h0m-.3 4.2h0m-.4-4.2h0m-2.2 3.9h0m-.1-.6h0m-8 .8h0m-.7-.3h0m-4.7-2.1h0m-.3-.5h0m-7.1-.4h0m-5.2-.3h0m-1.8 2.2h0m-49.9-1h0m-2.2 2.7h0m-.6 .2h0m-1.7-4.9h0m-7.6 3.9h0m-15.2-3.8h0m-8.9 3.4h0m-3.2-.3h0m-3.4 1.6h0m-2.8-2.5h0m1.4 3.2h0m3.7 1.6h0m1.3 2.3h0m16.1-.8h0m8.9 .9h0m4.7 .3h0m6.3-3.5h0m61.5 2h0m1.3 .4h0m3.7 .9h0m.8 .4h0m1 .7h0m.3-1.2h0m3 .5h0m.6-4.1h0m.9 3h0m1.1-2.6h0m.1 3.3h0m1.5-4.1h0m.1-.1h0m.6 1.6h0m1.8 2.2h0m.4-.4h0m.4-2.4h0m.9 3.6h0m3.3-3.1h0m1.2 .1h0m.9 3.6h0m.6-2.3h0m7.1 4.6h0m-6.1 2.5h0m-4.1-.7h0m-.9-.1h0m-.8 .6h0m-.7-1.6h0m-.1 .6h0m-1.8 .2h0m-.4 2.2h0m-.5-1.4h0m-.9-2.6h0m-.5 .7h0m-1.8-2.3h0m-.1 3.3h0m-.8-2.5h0m-1.8 4.4h0m-.5-2.1h0m-1.2 1.5h0m-.7-3.8h0m-.1 4.6h0m-1.1-3.7h0m-1.6 1.6h0m-3-.7h0m-.8 3.1h0m0-4.1h0m-.8 1.6h0m-.2 2.1h0m-.3-.7h0m-1-1.8h0m-2.4 .9h0m-.2-3.7h0m-3.4 4.2h0m-1.2-3.6h0m-58.8 .5h0m-11.3 .5h0m-6.3 1.2h0m-.7 4.3h0m1.7 .9h0m76.8-1.9h0m.7 4.7h0m.1-1.9h0m.4-2.5h0m0 4.8h0m1.1-3.3h0m1.5-1h0m1.5 2.9h0m1-3.3h0m1.7 4.8h0m1-5h0m.6 4.8h0m.4-3.7h0m.1 2.6h0m.2-1.8h0m.5-2.1h0m1.4 3.5h0m.4-2h0m1.2 2.4h0m.6-2.2h0m0 .1h0m.9 3.7h0m.7-3.5h0m.9 3.4h0m2-5h0m.8 .9h0m.6-.7h0m.3 5h0m2.1-5.7h0m1 3.4h0m.7-3.4h0m.6 4h0m.4-2.1h0m.2-1.1h0m.2 3.9h0m.9-2.6h0m4.4 3.7h0m2-4.7h0m1.2 3.6h0m.9-3.2h0m-2.1 6.6h0m-10.2-.2h0m-.6 3.4h0m-.8 .3h0m-.5-1.6h0m-2-1.9h0m-.6 0h0m-1.5 3.8h0m-.3-.4h0m-.2-3.9h0m-.3-.6h0m-.6 4.4h0m-3.7-2.7h0m-.1 1.7h0m-1.1 .2h0m-1.2-.8h0m-.9-2.6h0m0 3.6h0m-.4-2h0m-2.2 2.4h0m-1.6 .6h0m-.1-1.7h0m-.4 .1h0m-.5 1.3h0m-1.3-2.2h0m-6 4.6h0m.9-.8h0m.3 4.8h0m3.1-.7h0m.9-4.8h0m.3 5.4h0m.1-1.9h0m2.7-2.9h0m.9 3.4h0m1.2 .5h0m.7 .2h0m1.3-4.1h0m.3 1.7h0m.2-.5h0m.2-.6h0m1 1h0m1.2 3.3h0m.1-3.6h0m2.6 2.3h0m.9-4.5h0m.5 4.6h0m1.7-.4h0m.7 .1h0m.8 .6h0m1.5-2.4h0m1-1h0m.3 .4h0m-4.6 6.8h0m-.7 2.9h0m-.4-1.5h0m-2.8 1h0m-.7-3.2h0m-.7 3h0m-3.8-3.5h0m-2 .6h0m-2.3 2.9h0m-.4-1h0m-.8 1.7h0m-1.2-2.2h0m-.3 .9h0m-.5-3.8h0m-.1 0h0m-5.6 1h0m-2.4-.5h0m-.1-1.1h0m-.3 .4h0m-1.2 2.9h0m-1.3 1.2h0m-.7 1.6h0m0 1.7h0m1.1 .1h0m1.6 .8h0m1.9-.9h0m1.6-1h0m5 3.4h0m.4-2.4h0m2.4-.3h0m4.5 1.6h0m2.2-2.6h0m.6 3.1h0m.8-.3h0m.3-2.7h0m.1 3.3h0m2.3 .7h0m.3-3.8h0m.2 2h0m1.2 .7h0m-5.3 6h0m-2.1-2.6h0m-.2-.8h0m-1.6 2.7h0m-1-2.8h0m-1.3 2.7h0m-3.6-2.2h0m-.2 5.2h0m-1-1.6h0m-.6-3h0m-1.6 2.9h0m-1.5-3.8h0m-.1 2h0m-.5 1h0m-.9-2.9h0m-4.6 4.8h0m-.6-.1h0m-.5-4.7h0m-3.3 4.5h0m-.1-2.1h0m-4.6 9.2h0m3.1-1.3h0m.5-.8h0m2.4 1.3h0m1.5-1.1h0m2.2-3.2h0m.1 3.8h0m.9-3.9h0m0 3.9h0m4.5-2.8h0m1.2-1.5h0m2.5 5.4h0m.9 .2h0m.3-2.9h0m2.2-1.5h0m1.6-.5h0m0 1.2h0m4.3 .9h0m.2-.1h0m0-1.8h0m.3-.8h0m.2 .2h0m1.2 1.5h0m-23.2 6.5h0m-4 1.1h0m-1.6-.9h0m-2.4 3.3h0"/>
<path stroke="#6E9B47" stroke-width="2.3" d="M1100.4 572.9h0m-4.6-1.2h0m-5.8 4.1h0m-1.2-2h0m-.3-1.1h0m-.1 2.6h0m-.6-.1h0m-2.1-1.1h0m-6.3-1.3h0m-2.9 2.8h0m-14.8-.4h0m-7.6 .7h0m-2.3-2.6h0m-7.8 2.5h0m-11.3 5.5h0m8.9-4.6h0m.5 3h0m0-.9h0m2.2-2.2h0m3.4 0h0m4.6 4.4h0m6.6-1h0m.6 .6h0m.9-2.3h0m2.4 .9h0m3.2-2.2h0m8.9 4.7h0m.9-1.6h0m8.6 .8h0m12.5-1.7h0m0-2.1h0m1.3 2.1h0m11.8 1.3h0m-3 4.3h0m-4.1-.9h0m-.6-.8h0m-3.8 1.2h0m-35.4 3.5h0m-7.4-3.4h0m-2.9 0h0m-.8-1.8h0m-1.7 3.7h0m-9.1-2.6h0m-.4 .4h0m-3.3-1.7h0m-.2 5h0m-6.9-1.3h0m-.1-3.1h0m-.3 1.5h0m-12.3 8.7h0m4.6-3.3h0m.7 1.6h0m.1 .7h0m.4-.1h0m7.5-2h0m.7 3.6h0m.3-1.6h0m3.6 1.2h0m5.2-.1h0m5.1-4.8h0m4.1-.4h0m2.8 5.5h0m2.4-4.7h0m11.4 3.8h0m.4-3.2h0m3.9-.4h0m3.3 1.6h0m.8-.2h0m5 1.1h0m4 1.9h0m7.5-2.8h0m1.6 2.4h0m4.6-.8h0m3.2-2.4h0m-8.7 8.4h0m-2.6-2.2h0m-1.9 2.1h0m-1.8 .7h0m-11.3-4.3h0m-2.2 .5h0m-.4 4.9h0m-3.2-4.6h0m-2.8 4.4h0m-2.3-4.6h0m0-.7h0m-3.5 3.8h0m-1.1-3.7h0m-1.4 4h0m-1.7-4h0m-3.9 3.6h0m-3.7 1.8h0m-.9-5.7h0m-1.5 3.6h0m-24.7-3.4h0m-5.9 3.3h0m-1.1-.1h0m-13.1 .3h0m-10.1 4.4h0m.1 .7h0m1.9 1.9h0m1.1-1h0m.5-2.7h0m3.2 2.2h0m5.7 .5h0m1.4 1.4h0m5.7-4.2h0m3.9 3.9h0m5.1-1h0m.1-1.4h0m2 2.4h0m.6-2.7h0m4.9 3.4h0m.3-4.8h0m5.8 .2h0m.4 1h0m2.8 2.5h0m2.9-.5h0m14.1-2.2h0m3.2-1.7h0m2 .2h0m3.1 .2h0m6.5 .8h0m6.1 4.5h0m4.7-5.4h0m.9 .9h0m3.4-.4h0m9.3-.6h0m-21.4 6.1h0m-.4 .6h0m-5.4 .3h0m-3.9 3.2h0m-1.4 .3h0m-6.8-1.9h0m-2.6 2.5h0m-17.2-3.2h0m-2.9 2.7h0m-10.1-2.9h0m-.5-2.1h0m-.6 1.9h0m-1.8-.8h0m-1.7-.7h0m-18.2 .3h0m-1.7 4.2h0m-2.6-2.2h0m-1.4 1.8h0m-.1 1.1h0m-4.6-2.8h0m-3.8 .9h0m-.2-1.1h0m-.1 3.3h0m-10.5 3.5h0m2-.9h0m6.7 .2h0m1.6-.5h0m1.3 3h0m5.1-2.1h0m8.8-.9h0m8.2 1.9h0m5.4-1.2h0m4.6-2.4h0m.4 3.2h0m7.4-.6h0m16 .8h0m1.1 1.7h0m.6 .1h0m1.3-.6h0m2.9-3.8h0m3.1 3.2h0m5.2-.8h0m3.9-3.2h0m7 4.5h0m3.4-4.6h0m47.6 11h0m-1.3 .4h0m-48.8-3.8h0m-3.2 .1h0m-2.1-1.7h0m-11.6 3.3h0m-4-.3h0m-3.1-.9h0m-8.9 2h0m-2.8 .2h0m-1.7-1.5h0m-8.1 0h0m-1.5-2.8h0m-4.6 1.3h0m-8.8 3.1h0m-4.6-4.2h0m-.9 2.1h0m-3.3 2.9h0m-.6-4.2h0m-3.8 4.4h0m-10.5-.7h0m-3.8-.7h0m-4.1 .9h0m-1.5-.5h0m-2.1 .4h0m-6.1-2.2h0m-8.7 8.3h0m1.4-2.2h0m1.4 .8h0m2.7 1.4h0m.5-2.6h0m2.2-.6h0m.1 .7h0m16.4 2.6h0m4.3-.6h0m1.1-3.8h0m1.3 .2h0m5-.4h0m1.1 2.2h0m7.4 2.6h0m5-2.1h0m.4 1.1h0m1.8-2.5h0m1.3 3.6h0m3.6-4.5h0m2.2 2.1h0m1 1.7h0m.6-2.4h0m7.8 3h0m1.9-5.1h0m1.2 4.3h0m8.6-4.8h0m5.7 2.1h0m5.2-2.1h0m3.6 4.1h0m.6-.9h0m2.4-.2h0m48.6 1.3h0m.5 1.5h0m4.2-4.8h0m1.8 4.2h0m9.5-3.9h0m-13.2 6.1h0m-2.8 4h0m-.7-4.8h0m-6.4 .6h0m-3.8 1.8h0m-1.9 1.2h0m-48.1-3.6h0m-1.8 1.3h0m-2 3.7h0m-3.9-5h0m-3.8 .5h0m-.7 1.5h0m-1.6 2.5h0m-.3-1.2h0m-.6 1.6h0m-16.2-2.9h0m-6.1-2.4h0m-6.6 2.8h0m-9.8-.9h0m-4.8 3.2h0m-7.5-5.3h0m-.1 4.4h0m-1.9 .4h0m-.6-3.1h0m-1 0h0m-1 2.4h0m-.1-3.7h0m-8.6 1.4h0m-1.5 .2h0m-11.8 2.2h0m-2.7 .7h0m-1.8 3.4h0m1.2-2.1h0m.5 .5h0m10.4 2.6h0m1.9-2.9h0m1.3 5.2h0m.9-3.8h0m2.3 3.7h0m1.1-3.9h0m11.1 1.8h0m5 0h0m17-.7h0m4.7-.3h0m4.5-1.5h0m2.2 4.1h0m3.9 .9h0m2.7-1.2h0m2.7-1h0m2.4 1.6h0m.6-1.6h0m3.8-3.6h0m2.4 1.5h0m3.6 1.3h0m.4-1.4h0m.3-.9h0m1-.4h0m.8 1.2h0m4.9 .6h0m.3 .9h0m1.3 .7h0m4.2-2.5h0m43.5 .7h0m8.2 3.1h0m7.4-.1h0m.9-1.3h0m.3-1.4h0m.4-1.5h0m5.1 4.7h0m0-1.3h0m.9-3.7h0m12.4-.3h0m-5.8 9h0m-10.3-.8h0m-2.8 2.2h0m-.7-4.3h0m-1.9 .9h0m-.2 2.6h0m-1.4-2.4h0m-1.3 1.9h0m-2.1 2.7h0m-2.3-5.7h0m-1.5 2h0m-3.9 .4h0m-4.6 .9h0m0-1.5h0m-.2-.4h0m-.2 1h0m-.3 1.3h0m-10.6 1.1h0m-36.2-4.2h0m-4.5 .1h0m-1.3 4.8h0m-.4-2.5h0m-13.9 .6h0m-6.6 1.1h0m-14.8-1.5h0m-11.2-1.4h0m-.2 1.3h0m-5.3-2.2h0m-3.6-1h0m-1 .9h0m-1.1 3.6h0m-.2-2.1h0m-4.1-1.5h0m-4 2.8h0m-6.1 2.2h0m-5.6-5.9h0m-21.1 10.7h0m2.5-4.7h0m2.5 2.2h0m1.8 1.4h0m1.8-3.1h0m4.3 4.2h0m5.2-1.3h0m1.4 1.5h0m1.9-3.7h0m19.8 3.8h0m7.3-2.3h0m19.1 2.2h0m3.6-.4h0m2.1-4h0m5 3.6h0m4.2-.3h0m2.3 1.2h0m47.6 .6h0m5.2-3.9h0m1.1 1.4h0m1-1.4h0m1.3-1h0m2.7-.4h0m10.3 3.9h0m2.2-1.3h0m4.9-2.9h0m.8 4.8h0m3.1-.9h0m7.4-2.1h0m7 .3h0m2.9 3.3h0m1.5-5h0m-4.5 8h0m-6.2-.9h0m-.6 3.5h0m-1.4-2.6h0m-2.9-.5h0m-5.7 3.9h0m-.8-1.4h0m-11.1-.3h0m-4.1-2.8h0m-1.9 .9h0m-3.2 3.3h0m-4.6-1.6h0m-4.2 .6h0m-.2 1.4h0m-1.1-3h0m-1.6 2.1h0m-1.4-1.5h0m-43.2 .9h0m-7.6-.8h0m-2.4-2.3h0m-7.8 .4h0m-2.6 1.9h0m-2.9-3.1h0m-2.4-.5h0m-12.7 4.9h0m-3.7-2.4h0m-9.3 3.2h0m-5.2-4.3h0m-9.4 1.4h0m-3.5 3.1h0m-2.5-4.5h0m-4.8 .8h0m-7.8 .1h0m-6.9 7.7h0m24.5-2.5h0m5.3 1.5h0m2.2-2.7h0m5.3 3.3h0m0 .1h0m.3-3.7h0m3.2 4.9h0m1.4-3.1h0m3.1-1.6h0m5.4 1h0m1.1 2.5h0m.8-.4h0m11.3-1.1h0m2.4 1.9h0m1.5-.7h0m.8-.8h0m.6-.9h0m1.8-.2h0m3.9 3.4h0m1-4.2h0m2.2 1.9h0m1.2 1.7h0m47.8-.6h0m4.7-1.7h0m14.1 3.3h0m1.8-.8h0m3.1-1.9h0m2.4-2.4h0m2 2.1h0m6.1 2.2h0m.3 .2h0m.7 .2h0m1.3-1.9h0m3.9-1.7h0m3.2 0h0m2.5 .8h0m7.5-.2h0m1.6-1.7h0m-6.6 6.5h0m-4 4.9h0m-2.3-1.6h0m-1.3 1.5h0m-2.4-.3h0m-10.7-.6h0m-5.3-.6h0m-6.2-3.2h0m0 4.4h0m-1.9-5.1h0m-.3 .4h0m-.5 2.7h0m-.2 1.7h0m-4.6-1.4h0m-1.2 .6h0m-1.3-4.1h0m0 1.6h0m-2.6 .5h0m-7.5 3.1h0m-43.3-3.4h0m-5.2-1.5h0m-2.7 5.4h0m-7.6-5.2h0m-4.6 2.5h0m-3.8-1.5h0m-4.2 1.8h0m-3-.2h0m-2.6 2.5h0m-15.3-4.3h0m-3.5 1h0m-8.6-.5h0m-10.6 1.3h0m-5.4 4.6h0m10.4-.5h0m1.4 .8h0m1.9-1.5h0m11 3.6h0m2.6-1.9h0m2.5 3.4h0m12.3-3.9h0m7.3-.2h0m4.7 2.8h0m10.9-4h0m5.5 .6h0m39.1 4.6h0m14.6-3h0m3.7-.8h0m.5 .1h0m1.7 2.2h0m2 1.5h0m.6-.9h0m3.6-2.1h0m1.1-1.5h0m4.1 0h0m3 3h0m5.8-3.8h0m0 2.9h0m3-2.7h0m3.5 3.6h0m1-1.3h0m.8-.8h0m2.4-1.4h0m2.9 4.1h0m-9.2 4.7h0m-.6 1.5h0m-.7-4.5h0m-9.7 0h0m-.3 .7h0m-.5 4.9h0m-5.1-2.6h0m-1.2-.4h0m-.1 2.9h0m-1.5-.6h0m-.5-1.1h0m-2.4-.6h0m-4.4 1.4h0m-5.3-4.2h0m-4 4.8h0m-1.3-5.4h0m-1.4 .3h0m-3.9 5.3h0m-1.2-4h0m-60.9 .6h0m-5 1.7h0m-8.2-.6h0m-2.4-2h0m-1.2 2.2h0m-7.5-.1h0m-.4 .3h0m-.6 .8h0m-5.2 1h0m-1.2-1.1h0m-3 .5h0m-4.1-.2h0m-3.1-2.5h0m-1.3-2.1h0m13 10h0m.8-1.7h0m8.1-.3h0m1.5-.7h0m3.3 .1h0m5.2 .3h0m3.7 .8h0m.8-.4h0m1.1-2h0m1.7 5.3h0m.4-4.2h0m55.3 4.4h0m.5-5.4h0m2.6 3.6h0m5.6-4h0m3.5 2.2h0m1.7-2.1h0m.9 .4h0m0 3.4h0m.4-2.9h0m.1 4.6h0m.1 .1h0m.3-1.3h0m1.9 1.5h0m2.5-2.3h0m2-.9h0m7 .4h0m1 .3h0m.4 2.1h0m1.4-1.8h0m5.8-2.6h0m1.4 4.6h0m4.2-3.4h0m1.4 .2h0m.6 .3h0m3.8-.9h0m1.5 3.6h0m-7.5 3.6h0m-.9 .5h0m-2.6-1.8h0m-1.2 1.4h0m-2.9-2.8h0m0 3.6h0m-1.9-.2h0m-.2 2h0m-.2 0h0m-3.6-4.2h0m-3.4 2.7h0m-.2-4.2h0m-1.2 2.7h0m-.4 .2h0m-.6-.9h0m-1.3 2.6h0m-.3-3.8h0m-3.5 2.3h0m-.1 .3h0m-3.5 2h0m-1.5-4.9h0m-.7 3.3h0m-3.3 .5h0m-.5-.1h0m-6.9-2.9h0m-.3 4.5h0m-60.4-4.5h0m-.6 1.3h0m-1.5 .1h0m-2.2-1h0m-6.6 0h0m-.2 .7h0m-1.1-.8h0m-1 1.3h0m-1.3-2h0m5.6 5.3h0m72.8 .6h0m4.3 4h0m1.3-1h0m.2-3.5h0m.5 4.3h0m0-1.4h0m1-3.3h0m.3 2.1h0m.8-1.6h0m.3 3.2h0m4.4-.4h0m3.9-2.1h0m0 1.3h0m1.5 .5h0m.4-1.5h0m1.8-.7h0m2.8 3.8h0m.2 .6h0m1.8-5.2h0m.1 2h0m.4 3.7h0m2.6-1.8h0m1.6 .5h0m2.6-.6h0m.2 .5h0m2.2 .4h0m2.2-2.9h0m-15.9 9.1h0m-17.6-2.8h0m-4.4-1.8h0m-2.1 3.3h0m-4 7.9h0m.3-1.9h0m1.7 2.3h0m.5-2.6h0m1-2.2h0m5.1 3.4h0m.1-.1h0m.1-.9h0m5.2-.9h0m4.5 1h0m.5 7.7h0m-6.8-5.1h0m-1.1 2.2h0m-1.3-2.4h0m-2 5.4h0m-.6-3.9h0m-6.9 4.4h0m-.4-2.5h0m-1.7-1.4h0m1 9.8h0m5.1-5.4h0m7.7 4.7h0m6.5-1.7h0m1.4-.3h0m-.9 5.7h0m-6.5-1.4h0m-3.4 2.4h0m-9.8-.4h0m-4.5-.1h0m-4.8 6h0m8.7 .5h0m3.4-3.6h0m14.6 .8h0m-11.1 5.6h0m-5.3 .7h0m-8-.1h0m-.3 .2h0m-2.9 .6h0m-3-.4h0m-2.6 4.3h0"/>
<path stroke="#7FA85A" stroke-width="1.6" d="M1089.7 569.2h0m14.8 2.7h0m-22 .2h0m-.6 .8h0m-15.1 1.8h0m-20.5 .2h0m16.1 1.7h0m1.3 1.6h0m4.7-2.1h0m1.7 1.1h0m8.3-.6h0m9.5-.6h0m13.5 1.7h0m-10.1 7.1h0m-10.5 3.1h0m-11-4.4h0m-50.1 7.1h0m3.7-2.3h0m.7 .8h0m42.6-.9h0m9.1 1.8h0m11.4 3h0m9.1-4.6h0m-34.1 9h0m-6.9 .6h0m-7.7-2.5h0m-1.5 4.1h0m-7.3-.5h0m-1.2-.3h0m-7.4-.1h0m-2.6 .9h0m-14.8-3.6h0m19.3 5.1h0m4 4.8h0m.7-1.2h0m30.8-2.2h0m2.8 1h0m-7 4.3h0m-36.7 3.6h0m-41-3.6h0m1 5.1h0m10.4 4.5h0m1.9-1.7h0m23.3 .8h0m40.9-2.2h0m-21.9 7.1h0m-10.8-3.1h0m-12.1 1.2h0m-16.3 2.1h0m-1.1 .4h0m-5.2 6.4h0m3.6 1.5h0m5.3-3.2h0m.8-1.2h0m104.2 4.4h0m9.3 4.2h0m-14.3 .9h0m-5 0h0m-2.1-2.2h0m-1.1 2.1h0m-54.8-2.6h0m-1.5 1.8h0m-3.1-3.9h0m-15 1.3h0m-6.2-.7h0m-26 2.4h0m-30.8 .1h0m-8.7-1.3h0m1.2 7.9h0m2.7 1.6h0m19.3-3.8h0m2.8 2.5h0m35.4-3.1h0m12.9 .5h0m1.4-1.1h0m86.9 10.7h0m-8.3-3.5h0m-14 2.6h0m-71.9-4.2h0m-17.6 1.8h0m-20.8 3.4h0m-1.8-1.2h0m-2.4 1.1h0m-.8 .1h0m-16.9-5.2h0m-24.5 7.2h0m5.1 1.5h0m8-2.4h0m5.1 1.4h0m10.5-.9h0m11.9-.3h0m16 1.9h0m10 2.8h0m5 .1h0m107.7-4.2h0m2.7-1h0m-4.4 8.2h0m-3.4-1.2h0m-13.1 1.8h0m-.5-.9h0m-1.5 .4h0m-76.4 1.7h0m-5.7-.2h0m-5.1-.6h0m-70.9 1.2h0m10.3 6.8h0m13.9-1.7h0m7.2-1.7h0m1.9-1.9h0m17.7 5.2h0m9.8-4.7h0m15.8 .9h0m38.2 3.5h0m1.4-.3h0m13.6-4.1h0m11.3 2.8h0m18.8 8.2h0m-7-4.8h0m-1.3 4.2h0m-1.7-.1h0m-8.3-3h0m-5.9 3.8h0m-20.4-3.1h0m-2.1-.9h0m-62.5 3.3h0m-2.9-.4h0m-34.9-3.8h0m-21.9 1.4h0m14.8 4h0m97.4 4.5h0m1.4 .8h0m9.3-4.1h0m1.7 3.6h0m20.4-.2h0m2-2.1h0m3.4 3h0m6.2-5.6h0m.7 2.1h0m-2.3 5.2h0m-10.8 .5h0m-3.3-.5h0m-5.1 .1h0m-.5 2.7h0m-1.4-1.8h0m-7.2 3.4h0m-11.9 0h0m-59.6-4.8h0m-4.1 3.3h0m-15.2 1h0m-23.1 .3h0m14.6 3.4h0m18-2.7h0m5.9 1.5h0m63.5 1.4h0m15.1-.8h0m.1 2.5h0m2-.4h0m0 0h0m3.4-3.8h0m1.7 1.9h0m3.3 .9h0m.5 1.5h0m8.1 5.3h0m-5.1-2.4h0m-8.4 4h0m-.7-.8h0m-.6 0h0m-.1-1.3h0m-1-2.2h0m-.3-.1h0m-1.5 .2h0m0 1.5h0m-1.8-2.7h0m-1.5 1.1h0m-1.8 3.8h0m-1.1-3.8h0m-.5 2.4h0m-1.7-3.3h0m-2.9 4.8h0m-1.7-3.1h0m-.3 2.2h0m-2.8-.9h0m-.6 1.7h0m-.4-.6h0m-2.5 .9h0m-.7-.2h0m-67.4-4.9h0m65.6 10.3h0m3-3.1h0m1 2h0m.8 1h0m2.2-4.8h0m.7 .6h0m1.8-.5h0m4.4 2.4h0m5.2 3.4h0m.7-3.7h0m.9 .7h0m1.2 1.1h0m1.2-2.8h0m.9 4.5h0m.9-4.2h0m6.4 1.2h0m1.9 3.5h0m-11.1 2.5h0m-.7 2.9h0m-.5-4.4h0m-4.5 1.7h0m-.2-.1h0m-6.8-1.6h0m-.4 2.6h0m-2.9-3.2h0m-1.8-.1h0m-1 5.4h0m-1.5-1.1h0m-.5 1.1h0m-.2-5.2h0m-1.1 1.2h0m-.5 3.2h0m-6.1 4.2h0m1.6 1.2h0m1.2-2.7h0m2.2 1.8h0m.8-1.9h0m.5-1.3h0m1.8 3.8h0m11.6-3.2h0m5.4 2.3h0m-1.9 6.4h0m-.6-2.7h0m-3.3-.1h0m-.2 4.4h0m-.1-5.2h0m-2.8 2.4h0m-2.1 0h0m-.3 3.3h0m-.1-2.5h0m-1.1-2h0m-2.5 .4h0m-11.9 2h0m-3.7 4.9h0m4.2 1.1h0m3.2-.3h0m.8-2.5h0m3 2.1h0m2 1.8h0m1.9 1.1h0m6.1-3.9h0m-14.6 6.8h0m-1.7 2.9h0m-1.3-5.3h0m-.9 5.5h0m-4.2-4.5h0m-1.4-1.1h0m-.3 11.6h0m2.1-4.7h0m.9 .5h0m2.1 .8h0m3.3-2.1h0m.4 .2h0m1.2 4.7h0m2-3.4h0m0 .4h0m0 3.4h0m.9-5.1h0m.4 2.7h0m2-1h0m3.4 .3h0m5.4-1.5h0m-14.4 6.1h0m-1.8-.4h0m-2.5-.7h0m-6.1 1.3h0m-1.9-.8h0m-2.5 .3h0"/>
<path stroke="#7FA85A" stroke-width="2.3" d="M1107.1 572.7h0m-31.5 2.9h0m-10.6-2.6h0m-10.5 1.5h0m-12 3.1h0m34-.4h0m11.4 3.9h0m8.7-2.4h0m10.1-.9h0m1.5 1.7h0m-1.5 2.9h0m-1.8 .9h0m-30.3 4.4h0m-1.8-3.9h0m-21.2-1.2h0m-33.8 8.3h0m51.2-.4h0m8.7 1.7h0m7.8 5.7h0m-10.8 .2h0m-.8-.7h0m-5.4 .7h0m-11.5-2.4h0m-1.7 3.9h0m-8.8-5.4h0m-30.3 3.9h0m-26.9 6.6h0m22.6-1.7h0m7.5 .4h0m.2-.4h0m17 0h0m1.6-2.2h0m5.6 1h0m13.2-.3h0m13.9-1.1h0m-.2 10.5h0m-9.8-1.6h0m-.2-.8h0m-12.8-.7h0m-27.8 .5h0m-9 1.5h0m-13.3 1.9h0m-17.6-1h0m34.5 4.9h0m39-.4h0m1.3 1.1h0m57.1 4.8h0m-65.6-2.8h0m-11.4 4h0m-9.9 1.6h0m-1.1-5.3h0m-11.9 2.9h0m-25.3 1.1h0m-10-3.7h0m-13.8 3h0m-7.2 6.5h0m20.6-1.8h0m1.6 .7h0m9.7-2.1h0m5.9-1h0m9.7 3.6h0m7.2-1.8h0m2-1.6h0m.4 4.8h0m14.3-4.8h0m13.3 5.2h0m1.7-3.5h0m4.4 3.1h0m66.3-4.8h0m3.2 3.6h0m.1-.7h0m-15.4 3.2h0m-.7 .2h0m-5 1.5h0m-76.3 1.8h0m-13.4 1.2h0m-6.2 .5h0m-16.5-2.9h0m0-.8h0m-16.8-.8h0m-8.7 2h0m-7.7 6.1h0m8-2.8h0m18.6 5.3h0m14.2-5.1h0m8.5 4.1h0m8.5-2.6h0m1.8 1.9h0m4.6-3h0m.6 4.5h0m1.2-5h0m1.1 1.5h0m87.1 .3h0m9.3-2.2h0m.5 4.4h0m1.3 5.3h0m-6.3 1h0m-8.9-1.9h0m-10.3-1.2h0m-5 1.6h0m-.8 .2h0m-2.5-2h0m-5.9 2.4h0m-49-4h0m-4.6 1.7h0m-24.4 1.4h0m-2.7-2.9h0m-2.7 1h0m-21.3 .8h0m-8.7 1.6h0m-5-3.4h0m-19.6 7.4h0m13.6 .9h0m3.9-.8h0m4.1 1.4h0m3.5-.9h0m4.5 .3h0m2 2.2h0m1-4.4h0m48.3 2.8h0m2 1.5h0m1.4-.9h0m49.6-.6h0m2.1 .4h0m14-.8h0m16 3.2h0m2.4-1.3h0m4.9 2.4h0m-1.4 4.5h0m-7.4-4.7h0m-14.8 .7h0m-6.6 3.8h0m-3.8-1.8h0m-74.6 1.4h0m-.6 .1h0m-2.3 .5h0m-9.2-1.9h0m-7.5 2.2h0m-13.8-4.7h0m-2.3 3h0m-1.9-4.1h0m-10.9 4.3h0m-4.6-1.6h0m-9.3-.3h0m14.4 3.7h0m2.8 5.3h0m25.8-3.8h0m1.3 1.1h0m72.2 2.5h0m.1-4h0m.1 2.6h0m9.3-1.8h0m7.4 2.4h0m8.6-.5h0m8.2 1.8h0m8.9-1.6h0m-10.2 3.9h0m-15.7-1.4h0m-7.2 3.9h0m-2.2-3.5h0m-69.3 4.7h0m-7.6-4.3h0m-24.4 .3h0m-28.4 3.4h0m-2.9-.8h0m21.5 4.9h0m12.5-2.6h0m4.2 .1h0m2.2 1.5h0m12.1 1.1h0m15.6-2.2h0m57.4 0h0m2.3 1.2h0m1 1.4h0m8.2-3.7h0m.2 3.3h0m8.4-1.7h0m12.9-.4h0m-19.3 9.9h0m-2.2-2.5h0m-.6 .6h0m-3.1 2.3h0m-.6-.7h0m-.5 .2h0m-10.6-4.9h0m-5.8 3.9h0m-101.5 5.2h0m27 .2h0m56.1-.7h0m2.2 1.9h0m8.8-1.5h0m4.1-.2h0m3.4 1.4h0m2.9 .4h0m1.3-.6h0m.3-1.5h0m2.2 .8h0m14.9-2.3h0m1.9 2.2h0m9 2.7h0m-18.7 .5h0m-7 2h0m-8-1.2h0m-1.2 3.8h0m-6.3 .8h0m-73.4-1.8h0m-2-.4h0m71.6 2.5h0m.1 1.6h0m3.2-.5h0m.6-.5h0m1.4 3.3h0m6.3-1.6h0m4-1.7h0m.6 .8h0m1.3 .3h0m2.6-1.6h0m4.4 8.3h0m-7 .8h0m-7-.2h0m-7 2.2h0m-10.1 6.4h0m3-5.6h0m3 .3h0m11.9 0h0m2.6 10.9h0m-2.2-5.2h0m-9.1 .2h0m-5.2 .4h0m-4.7 3.7h0m9.5 6.5h0m11.8-2h0m-.9 5.7h0m-1.6-1.5h0m-22.5 3.3h0m-2.8-.7h0m1.2 5.2h0m.2 .8h0m8.8-.1h0m12.4-2.5h0m-22.2 7h0m-1.6 .8h0m-.4 2.3h0"/>
<path stroke="#3F9A35" stroke-width="1.6" d="M1097.7 572.7h0m-31.4 8.6h0m32.5-1.6h0m-2.4 6.4h0m-29.4-3.1h0m-5.4 .5h0m-30.1 1h0m-6.1 3.1h0m2.6 1.4h0m37.9 3.2h0m-3.6 6.4h0m-1.4 .8h0m-4.1-3.5h0m-42.2 .4h0m-1.9-1.9h0m-4.5 8.6h0m14.6 .6h0m47.2-2.1h0m3.1 2.6h0m10.8-1.5h0m-58.8 7.3h0m-5.6-2.9h0m-12.2-.9h0m-25.4 9h0m22.2 .8h0m26.3-2.7h0m-13.7 9.4h0m-54.9 .6h0m29.7 5.1h0m14.7-1.5h0m15.6-1.5h0m15.7 3.9h0m13.5-2h0m72.8 8.6h0m-8.2-.5h0m-92.5-.1h0m-60.2-2.1h0m72.2 6.1h0m44.9 1.5h0m2.6-.2h0m33.7-.8h0m-10.7 3.2h0m-17.1-.3h0m-64.4 1.3h0m-8.8 .8h0m-3.8-.9h0m-50.1 6.8h0m1.2 1.4h0m2.7-3.1h0m10.3 2.7h0m9-.1h0m14.5 2.2h0m104.2-1.5h0m1.9-2.3h0m-106.4 4.5h0m-21.5 2.5h0m-14.4 .3h0m-27.6-2h0m-7-.4h0m38.6 5.4h0m90.2 2.1h0m35 3h0m7.6-2.5h0m1.2 2.9h0m-49.6 5.2h0m-1.2-4.2h0m-78.5-.6h0m-.3 1.2h0m-18.5-.6h0m-6.5 9.3h0m116.9-1.3h0m6.1-2.5h0m4.4 2.7h0m-9.8 4.7h0m-6.3 3.7h0m-10.3-3.5h0m-4.5 2.7h0m-102.9-2h0m105.4 8.4h0m7.5-2.7h0m3.2-1.1h0m1.1 3h0m.7-2h0m4.7-1.7h0m7.1 .3h0m8.3 .2h0m-14.8 7.3h0m-.8-.1h0m-.1-1.2h0m-4.3-.2h0m-8-.2h0m-.2 1.5h0m-1.8-.1h0m-9.8 4.6h0m.1 2.8h0m2.5-1h0m4.1-.1h0m9.2-.7h0m7.3 1.4h0m-1.5 3.3h0m-6.3 1.9h0m-2.7 .3h0m-10.1-1.2h0m-1.9 3h0m-2.6-1.8h0m-6.2 6.9h0m.6-2.2h0m4 0h0m0 .1h0m8.3 1.7h0m5.1-2.9h0m2.1 5.8h0m1.5-5.7h0m1.3 6.9h0m-.5-.4h0m-2.5 3.7h0m-4.1-3.7h0m-4-.3h0m-11.8 5.3h0m-2.5-4.3h0m-2.9 3.1h0m-.3 3.8h0m12.6 .4h0m.2 1h0m7.6-2.4h0m-1.1 5h0m-3 3.6h0m-.1-3.3h0m-20.6 2.6h0m-1.6 2.6h0m-1.3 2h0m1.2 2.3h0m.6-2.8h0m1.6 3.7h0m.4-3.7h0m5.5-1h0m9.3 4h0m-1.6 2.6h0m-14.7 1h0m-4.9 3.8h0"/>
<path stroke="#3F9A35" stroke-width="2.3" d="M1064.9 573.8h0m-9.1-1.5h0m-6.8 2h0m-4.7 7.5h0m9.9-4.2h0m1 .5h0m44.8 .5h0m-.3 8.6h0m-41.4-2.2h0m-5.3 2.2h0m-7-2.3h0m-19.6 5.1h0m32.3-.9h0m7.8 2.4h0m23.8-2.9h0m-12.7 8.3h0m-29.5 2.9h0m-20.4-.7h0m-13.3-1.4h0m-11.9 6.6h0m7.3-.4h0m19.5-1.8h0m13.4-.8h0m30.8 .4h0m-2.4 8.3h0m-8.1-1.5h0m-32.2-2.5h0m-31.3 3.6h0m-17.3 7.9h0m3.3-1.8h0m7.9-1.5h0m11.6 2.8h0m57.7-3h0m52.5 9.3h0m-52.4-.9h0m-6.6 .6h0m-13.4-3.5h0m-83.4 6.7h0m39.5 .5h0m1.7-2.3h0m0 3h0m1.5 1.9h0m35.8-1.4h0m67.9-2.9h0m4.6 3.8h0m8.4 .8h0m.7 2.4h0m-30.3 3.5h0m-72.3-1.5h0m-13.3-.3h0m-22.2-.8h0m-2.9 0h0m6.3 6.7h0m13.6 .5h0m24.4-3.7h0m.5 1.1h0m4.8 .5h0m67.4 3.9h0m23.4-4h0m1.6 .7h0m-1.6 3.8h0m-25.7 4.9h0m-20.3-.8h0m-43-1.2h0m-38.2 1.8h0m-53.4 4.4h0m20.3 1.2h0m8.3-4.4h0m33.2-.3h0m68.5 1h0m15.1 4.6h0m7.6-4.7h0m12.8 2.9h0m-7.2 3.7h0m-1.6 .9h0m-11.9-.4h0m-4.2 2.5h0m-15.5-2.5h0m-1.3 2h0m-75.7 1.8h0m-22.6-1.7h0m-5.8 .7h0m-27.7 6.4h0m34.1-4.8h0m.4 5.3h0m27.9-.2h0m84.8 .2h0m10.7-5.1h0m4.6 1.6h0m13.8-.5h0m-35.8 9.3h0m-25.7-1h0m-57.3 1.6h0m-48.6-.4h0m-4.7 3.2h0m62.1-.4h0m86.7-.9h0m3.9 3h0m-21.4 2.3h0m-8.9 2h0m-19.1 3.5h0m-66.1-2h0m-8.5 4h0m16 .7h0m75 2.8h0m5.1-1.6h0m3.7-1.8h0m1.1 3.3h0m4.7-5.2h0m2.3 4.4h0m-.4 2.4h0m-14.4 4.1h0m-14.5-.8h0m-66.5-3.1h0m-29.7-.5h0m95.4 10.3h0m4.1-.7h0m17.6-4h0m6.4 5.6h0m-11 1.2h0m-20.2 15.5h0m-11.5-1.3h0m.5 4.1h0m2.7-.7h0m6.9 3.7h0m-10.3 1.9h0m.5 6h0"/>
<path stroke="#3F9A35" stroke-width="1.6" d="M991.1 521.3h0m1-.4h0m1.9 .4h0m.5-.1h0m3.2 .6h0m1.3 2.6h0m-1.8-1h0m-.6-1.1h0m-.1 .3h0m-2.2 .5h0m-1.3-.3h0m-1.1 .8h0m-.1-1.5h0m-.6 .9h0m98.1 21.6h0m23.2 1.6h0m-.3 4.4h0m-1.5 .3h0m-1.5-1.3h0m-2.8-.4h0m-.3 .7h0m-10.1-2h0m-1.8 3.2h0m-.7-4.5h0m-.2 .2h0m-1.7 1.7h0m-1.2 3h0m-.7-.1h0m-137.4 2h0m8.3 2.4h0m0 .8h0m.8 .4h0m.6-2.7h0m.3-2h0m.4 5.6h0m1.8-5h0m2 2.4h0m1.3-2h0m.8 .6h0m.4 1.9h0m49.6 1.7h0m0-.3h0m1.3-.1h0m16.5-.5h0m.8 .3h0m.5-1.5h0m1.5 .8h0m.2 1h0m.3-.3h0m.8-2.9h0m.2 1.8h0m1.2 1.9h0m.5-3.5h0m0 .1h0m.7 3.4h0m64.6-.3h0m2.5-4h0m-2.7 6.7h0m-2.1 2.9h0m0-1h0m-.1-1.3h0m-.1-2.5h0m-.6 3.9h0m-1.7-4.1h0m-1.9 2.3h0m-57.4-1.1h0m-2.7 2.1h0m-.4-.7h0m-1 .8h0m-16.6 1.5h0m-.1-4.2h0m-.1 4.3h0m-.7-1.7h0m0-2.1h0m-1 1.6h0m-2.6 1.4h0m-1.5-2.8h0m-.1 3.3h0m-.3-2.6h0m-.9 .5h0m-.6-.5h0m-.1-1.4h0m-1.1 3.3h0m-.5 .1h0m-.9 1.2h0m-46.3-4.8h0m-2.2 3.1h0m-1.5 1h0m-.2 1.1h0m-.3-1.7h0m-.4-3.2h0m-.2 4.1h0m-.1 .4h0m-1.1-1.1h0m-.6-1.6h0m-.3 2.1h0m-.1 .7h0m-.1 .1h0m-.3-1.9h0m-.3 1.1h0m0 .8h0m-.2-1.6h0m-.3 1.3h0m-.4-1.2h0m-.4-3.5h0m-2.1 .5h0m-.3 3.2h0m-.5 1.2h0m-.6-4.1h0m-.2-.8h0m-1.5 4.6h0m-.1-2h0m-.1 1.2h0m-.4 1.2h0m-10-.3h0m-1.6-1.5h0m-.8 2h0m-1.5-.4h0m-2.9 1.7h0m.9 .1h0m.3-.6h0m.7 3h0m0-1.6h0m1.6 .3h0m.4-.4h0m.6-.6h0m.5 1.7h0m.9-2.2h0m10.1 1.1h0m1.6 0h0m.6-1.1h0m.7 .4h0m.2-.5h0m.8 0h0m1.1 .6h0m1.4 1.2h0m.5-2h0m.4-.3h0m.5 0h0m.3 2.8h0m.1-1.9h0m.8 .2h0m1.9-.4h0m1.4 1h0m.4-1.5h0m.2 .7h0m48.7-.9h0m5.5 .8h0m3.1-.2h0m2.1 .2h0m2.1 4.5h0m47.4 5.1h0m-.3 1.4h0m-.5-3h0m-1.4 .7h0m-.3-1.7h0m-.8 2.3h0m-.5 1.3h0m-.6-1.3h0m-.1 .9h0m-1.2 .7h0m-39.1-3.3h0m-.3 1.6h0m-3.9-2.2h0m-2.7 3h0m-44.8-3.8h0m-.5 4.7h0m-.7-5.6h0m-2.4 4.1h0m-.6-3.3h0m-3.2 3.6h0m-.8 .4h0m.8 1.5h0m3 .7h0m47.7 .9h0m.4-1.1h0m2.5 2.9h0m1-3.6h0m.3 1.7h0m3.3 .5h0m41.7 3h0m.9-4.5h0m.2-.3h0m1.2 4.8h0m0-.7h0m3.8-2.2h0m.5 3h0m89.1 6.2h0m-90.3-2h0m-1.7-1.6h0m-.2 2.4h0m-.6-3.6h0m-.2 4h0m-.5-.5h0m-.3 .4h0m-2-2h0m-.8-2h0m-10.7 2h0m-1 .1h0m-.3-.3h0m0 2.7h0m-.5-2.8h0m-.5-.9h0m-.5 3.2h0m-.5-1.1h0m-.6-.4h0m-3.6 2.4h0m-100.9-.8h0m-55.2 5.4h0m51.6-.2h0m.4-4.2h0m2.4 2.6h0m.2-1.6h0m.4 2.9h0m.5 1.9h0m.6-5.5h0m4.7 4.4h0m46.3-2.7h0m.6-.4h0m.4 1.9h0m.3-2.7h0m.6 .9h0m.8-.7h0m0 2.8h0m.1-.1h0m1.1-3.1h0m0 4.6h0m1.9-4.1h0m4.5 2.9h0m1.2 1.4h0m1.7-4.2h0m.1 3.1h0m0-2.2h0m1.5 2h0m.1-.5h0m.3-2h0m1.7 1.8h0m.3 1.1h0m.1 1.1h0m.4-3h0m2.2 .3h0m.4 2.7h0m.6-1.6h0m.1 .9h0m.7 .5h0m0-.4h0m.2-.7h0m.7 1.1h0m1.7-1.6h0m.2 .9h0m1.5 1h0m11-1.9h0m1.5-.6h0m.3 2.3h0m.2-.6h0m.4-1.6h0m.7 2.4h0m.2-.3h0m1.5-.8h0m.3-.4h0m6.7-4h0m.1 .6h0m3.1 3.4h0m2.8-.5h0m.3 .1h0m25.6 2h0m3.4-.3h0m7.1 .1h0m69.7-3.7h0m.7 0h0m1.7-.6h0m2.6 2.4h0m.3 .2h0m.6-.9h0m.8 0h0m.1 1h0m.2-.9h0m1.3 2.1h0m.4-.4h0m.4-4.8h0m.1 4.8h0m1.5 .8h0m.8-3.6h0m0-.6h0m2.9 10.3h0m-6-1.8h0m-2.1-1.9h0m-.2-1.8h0m-1.1 .1h0m-1.1 1.1h0m-.7 1.7h0m-3.8-1.6h0m-.2 .2h0m-3 3.3h0m-67.1-4.6h0m-2.6 5.2h0m-.6-1.4h0m0 1.6h0m-4.1-5h0m-41.2-.2h0m-.9 .4h0m-14.3 .4h0m-1.1 1.5h0m-.4 .2h0m-.2-1.9h0m-2 .4h0m-.7-.8h0m-.2 .7h0m-.4-.7h0m-.5-.2h0m-.1-.2h0m-1.9 .3h0m-.9 1.3h0m-.3-.9h0m-1.1 .3h0m-.9 4h0m-.5-2.7h0m-.7-.2h0m-2.8-.1h0m-1-1.6h0m-.2-.4h0m-4.2 4.9h0m-1.5-.1h0m-.1-.6h0m-1.1-4.4h0m-.3 1.6h0m-1.9 1.9h0m-.2 .7h0m-7.6-2.7h0m-.9 .7h0m-.1 3.2h0m-37.1-1.6h0m-.3-.7h0m-.7-2.5h0m-3.3 .6h0m-.3 .8h0m-1.7 2.7h0m-2.1-4.6h0m-16.6 5.5h0m-8.4-2.8h0m-4.2 1.2h0m-23.2-3.4h0m-2.1-.7h0m60.4 7.1h0m.1 .5h0m1.3 3.4h0m2.5 .5h0m32.6-3.3h0m1.3-2.1h0m.3 1.2h0m2 .6h0m3.4-1.3h0m.1 4.4h0m.1-4.4h0m1.3 4h0m.4-1.2h0m.6-.3h0m.3-1.5h0m3.3-1.1h0m.3 .5h0m.2-.6h0m.7 1.3h0m0 .1h0m1.2-1.4h0m1.9-.1h0m9.9 2.3h0m1.2-.5h0m.7 .9h0m1.4 1.2h0m.7-.7h0m.7-.5h0m.4-2h0m.1 2.4h0m.3-.2h0m.4-2.3h0m.6 3.5h0m.1-2.1h0m9.2-1.2h0m1.1 1.7h0m1.1 2.7h0m1.9-5.2h0m.4 1.4h0m.1 0h0m.4 3.7h0m0-1.2h0m.8-2.7h0m1.1 1.5h0m43.5-3h0m4.1 .5h0m71.6 1.6h0m.5-1.2h0m1.8 3.5h0m.8-2.3h0m.2 2.4h0m4.9-2.4h0m4.9 2.4h0m1.3-2.3h0m.9-.5h0m0 2.7h0m.1-2.8h0m.7 1.2h0m.4 .7h0m.4-.6h0m.2 .8h0m1.1 2h0m.5-1h0m0-.5h0m.6-1.5h0m.3-2.5h0m.1 1.5h0m2 1.8h0m5.4-.3h0m6.6 7.8h0m-16-3.4h0m-.1 2.1h0m-.8-3.3h0m-1.4 3.3h0m-.2-2.9h0m-1.5 .4h0m-6.9 .9h0m-2.8-1.2h0m-2.4 2.5h0m-.5 .3h0m-.1-3.4h0m-.9 2.3h0m-1 0h0m-80.1 1.1h0m-.3 1.5h0m-.6-.1h0m-.1 .5h0m-.1-2.6h0m-2.7 1.1h0m-50.4-2h0m-1.5-1.6h0m-.7 2h0m-.4-1.6h0m-.4 .1h0m-1.8-.2h0m-60.8 1.3h0m-.1-1.7h0m-.2-.3h0m-.8 1.3h0m-1.5-.6h0m-.1 1.5h0m-.7-.9h0m0 1.5h0m-.7-.5h0m-20.8-1.9h0m-3.4 3.2h0m-5.4-.5h0m-.2-.8h0m47.8 8.8h0m.2-1.8h0m.8 .4h0m1.3-.6h0m.1-2h0m2.4-.7h0m1.8 2.7h0m96.9-1.8h0m.9-.5h0m5.4 .7h0m.1 .7h0m.2-1.6h0m0-.1h0m.5 2.1h0m.6 .4h0m0-.5h0m.1-2h0m.2 1.3h0m.2 1.2h0m.2-1.2h0m90.7 .5h0m21.5 6.5h0m-.5-.4h0m-16.9 1.6h0m-2.4-.1h0m-198.2-3.9h0m-1.7 1.1h0m-3 .2h0m-59.3 8.6h0m.3 1.3h0m2.6-.9h0m39.9-2h0m.3 3.1h0m.3-.1h0m19.1-2.3h0m4-1.6h0m1.3 3.7h0m1.9-.5h0m.2 .6h0m5-2.4h0m.7-1.8h0m.6-.9h0m.1 1.8h0m1.1 .7h0m4.7-1h0m1.5 1.3h0m44 1.8h0m.1 .6h0m2.5-.6h0m1.3 .7h0m.4-1.5h0m.1-.4h0m146.9-1h0m7.8-2.7h0m-78.1 9.5h0m-.5-.3h0m-1 2.2h0m-.1 .4h0m-.2-.4h0m-1.4 .1h0m-.3-3.1h0m-.3 2h0m-.4-1.9h0m-66.8 1.3h0m-.4-.4h0m-1 1.6h0m0-1.7h0m-.4-1.3h0m-.2-.1h0m-1.5 3.3h0m-.2-1.2h0m-1.3-3.5h0m-.4-.2h0m-1 1.4h0m-1.8 .3h0m-11.3 3.9h0m-38.7-5.1h0m-1 1.4h0m-1.7 .6h0m-8 .1h0m-.4 .1h0m-.7 2.2h0m-3-2.5h0m0-.2h0m-.4-1.2h0m-3.2 .7h0m-.6 2.1h0m-1.1-.2h0m-10.5-2.5h0m-1.6 2.2h0m-.3-2h0m-44.1-1h0m-1.6 2.6h0m-.2 .1h0m34.9 8.5h0m.4-2.2h0m2.9 .1h0m.4 .9h0m2.2 .8h0m11.7-1.1h0m2.5-.7h0m.5 2.2h0m6.3-.3h0m.9-2.4h0m.4-2.5h0m.3 5.1h0m0-2.3h0m.1 .5h0m.1-3.6h0m.2 5.5h0m.6-.5h0m.4 0h0m.1-.2h0m.3-2.8h0m2.5-.6h0m43.7 1.2h0m1.7-.4h0m2.5-1.2h0m.4 1.1h0m.6 2.3h0m.5-3.4h0m.5 3.9h0m1.3-1.8h0m.4-1.3h0m.8 2.5h0m.5 0h0m.7-2.7h0m.8 1.7h0m2.8 2h0m.3-1h0m7.9-4.6h0m.8 .8h0m1.1-.6h0m48.6 5.1h0m3.7 .1h0m16.3-3.7h0m1.3 1.4h0m.7-1.8h0m.5-1.1h0m1.2 .4h0m-18.4 5.7h0m0 5.6h0m-1.5-1.3h0m-.6-2.7h0m-2 1.2h0m-1-1.2h0m-.1 1.8h0m-.3-.3h0m-.8 2.3h0m-1-.9h0m-5.3-1.5h0m-.6-1.5h0m-2.3 4h0m-1.3-1.8h0m-46.7-3.4h0m-.1-.5h0m-2.1 2.9h0m-2.8-2.3h0m-4.1 .2h0m-1.2-.2h0m-7.3 4.3h0m-.5-.1h0m-.1 .7h0m-.7 .3h0m-.1-1h0m-.1-.7h0m-1.2 .8h0m-8.6-2.4h0m-.4-.9h0m-2.6-1.1h0m0 1.6h0m-.3 .2h0m-.6 1.3h0m-1.3-3.4h0m-.5 1.2h0m-.6 2.1h0m-21.6-2.7h0m-1.7-.4h0m-.6 .8h0m-.4 0h0m-.5 4.5h0m-1 .1h0m-.2-5.7h0m-.2 1.4h0m-.1 1.7h0m-.6-3h0m-.3 4.8h0m-1.3-2.2h0m-1.5-.8h0m-.4 3.4h0m-.3-1.4h0m-1 1.6h0m-5.3-4.2h0m-.2 1.6h0m-1.4-2.2h0m-.1-.7h0m-1.2 .3h0m-.2 .8h0m-.1 .7h0m-8.5-1.5h0m-.7 2.9h0m-.5 .3h0m-.3-2.2h0m-1.2 1h0m-1.4-2.1h0m-.5-.4h0m-.1 .4h0m-.2 4.3h0m-.6-3.1h0m-1.7 .2h0m-.5 2.4h0m-12.1 7.5h0m.4-1.7h0m1.9-.5h0m.6 .1h0m2.8 2h0m30.6-5.2h0m.3-.3h0m2.1 .6h0m1 3.2h0m0-2.4h0m1.6-1.4h0m3 .4h0m26.2 4.2h0m1-2.5h0m.6 3.6h0m9.7-5.1h0m.3 0h0m2.4 1.3h0m.5-.8h0m0 .5h0m60.1 3.3h0m1.8 .4h0m2.4-4.2h0m.6 1.8h0m.3-2.7h0m.7-.3h0m1.2 2h0m.8 .2h0m1.6 1.6h0m.2-2.8h0m.6-.1h0m5.5-.5h0m3.6 8.4h0m-.7 .3h0m-3.4 .6h0m-2.1-2.1h0m-.5 3.3h0m-.9 .3h0m-.4-3.1h0m-.2 3.2h0m-.2-1.7h0m-.1-1.7h0m-.1 2.7h0m-.1-3.3h0m-.2 1.3h0m0 3.2h0m0-5.1h0m-.1 1.6h0m-1 2.1h0m-.6-.8h0m-1-1.5h0m-.6 3.6h0m0-2.9h0m-.5 .6h0m-4.5-1.2h0m-1 2.4h0m-.1-1.6h0m-.3 1.4h0m-.2-4.2h0m-71.7 .6h0m-1.6 1.6h0m0-.5h0m-.5 .9h0m-.4-1.2h0m-1.4-1.1h0m-.7 2h0m-.3-2h0m-62.5 4.9h0m0-5.4h0m-2.9 5h0m-1.1-.7h0m-3.9-1h0m-2.2-.5h0m17.2 8.1h0m.3-.1h0m2.8-2h0m2.3 1.2h0m1.6 1.1h0m3 .1h0m115.4-1.5h0m1.4-.2h0m14.7-3.2h0m1 .8h0m7 2.8h0m-21.3 3.7h0m-1.9-.8h0m-1.3 3.3h0m-1-.5h0m-.4-1.1h0m-115.6-1.7h0m-.4 2.7h0m-1.6-1.6h0m-2.5 1h0m-1.4 2.2h0m-2.3-2.2h0m2.8 3.8h0m22.7 21h0m-.6 .8h0m-1.1-.2h0m-.3 .9h0m-.2-1.2h0m-.5 0h0m-.1-3.4h0m-1.6 2.9h0m-.4-1.2h0m-.7 1.2h0m-.5 1.8h0m-.5-1.5h0m3.5 3.8h0"/>
<path stroke="#3F9A35" stroke-width="2.3" d="M990.8 521.9h0m.1-1.7h0m.4-.4h0m3.1 2.1h0m3.6 0h0m1 2.3h0m0 .4h0m-.4 .4h0m-3.1 .1h0m-.3-.8h0m-.4 .6h0m-.3-2.4h0m-.2 0h0m-.6-.1h0m-.6 .3h0m-.9 .3h0m-.4 .2h0m0-.5h0m98 20.8h0m4.1 1.1h0m.8 .7h0m14.4-.9h0m3.9 3.6h0m0 2.7h0m-1.5-2.9h0m-2.2 1.2h0m-.9 2.7h0m-1.1-5.7h0m-1.4 3.2h0m-1.1-2.5h0m-.3 .9h0m-.3 .7h0m-9.1-1.2h0m-.8 3.8h0m-.8-3.7h0m-.7 .2h0m-1.8 .9h0m-.5 2.6h0m-1.1-2.9h0m-1.1-.3h0m-.6-.4h0m-121.7 4.6h0m-2.1-.8h0m-12.9 5h0m4.4-.3h0m.5-2.8h0m.2 3.8h0m.2-4.8h0m2.1 4.9h0m.4-2.4h0m1.5 1.2h0m.1-2.3h0m2.5 3h0m1.6-2.6h0m.5 3.8h0m1.1-1.2h0m.6-.4h0m2.9-4h0m.5 5.8h0m47.3-1.1h0m22-.7h0m.7 1.8h0m1.3-4.2h0m.7-.3h0m2.4 2.4h0m60.2 1.8h0m.3 .3h0m1.5-5.3h0m4.2 .5h0m-1.7 7.2h0m-.8 .2h0m-.2 .2h0m-.2 1.5h0m-.6-2h0m-.7 .6h0m-.7 1.2h0m-1.4 1.5h0m-1.1-2.6h0m-63.1 .6h0m-1.1-1.3h0m-2.6-1.6h0m-11.8 3.6h0m-.5-2.7h0m-.7 2.1h0m-1.6-1.8h0m0-.8h0m-.8 2.9h0m-.3-.5h0m0-.1h0m0 .3h0m-1.4 .4h0m-.5 1.2h0m-.6-.3h0m-.1 .1h0m-.4 .4h0m-1.6 .6h0m-.3-4.2h0m-.6 .3h0m-.9-.1h0m-.3-1.6h0m-1.7 1h0m-.7 3.1h0m-45.1-3.8h0m-1.3-.6h0m0 2h0m-.7-1h0m-1.4 3.4h0m-2.1 0h0m-.1-2.4h0m-1.7 .1h0m-1 1.8h0m-.4-2.7h0m-.2 4.2h0m-2.4-5h0m-.2 5.5h0m-.5-2.3h0m-1.3 1.3h0m-1.2-.5h0m-1.8 .7h0m-.6 .7h0m-9.2-1.5h0m-.5-1h0m-1.4 2.4h0m-2.8-.6h0m1.3 3.7h0m.5 .1h0m.2-1.4h0m1-.5h0m10.9-.2h0m2.2 .8h0m.6-1.2h0m.8 1.5h0m1-1.7h0m2.7 .3h0m.6 .6h0m.2-.4h0m.1-.5h0m0 1.6h0m.7-1.5h0m0 2.6h0m.3-.2h0m2-2.3h0m.3-.4h0m7.5 4.4h0m1.5 .1h0m2.2 1.2h0m1.1-1.1h0m.7 .5h0m43.1-4.2h0m1.3 3.4h0m0 .6h0m53.5 6.6h0m-.6-2.3h0m-.1 .9h0m-.2 1.2h0m-.1-2.9h0m-.8 .5h0m-.2 .6h0m-.9 1.2h0m-.8-2.1h0m-1.6 1.9h0m-39.6 1h0m-1.1-2.9h0m-2.2-1.6h0m-1.2 4.7h0m-.7-1.2h0m-.6-2h0m-.5-.3h0m-47.8 .6h0m-.4 2.9h0m-.8-3.1h0m-1.2-.1h0m-.3 1.2h0m-2.3 .7h0m51.3 2.9h0m.4 1.3h0m2.1-1.4h0m.2 1.2h0m2.4-1.8h0m1 .6h0m41.7-1h0m0 3.8h0m.5-3.3h0m2.5 3.1h0m5.1 .9h0m.1 4.2h0m-.4-1.4h0m-2.6-.3h0m-1.4 .6h0m-.3 1.5h0m-1.5-1h0m-.2 2h0m-12.9 1.4h0m-.1-.3h0m-6.3-2.4h0m-.4 1.4h0m-46 1.5h0m-111.9 5.7h0m1.1 .3h0m.8 0h0m.3-.6h0m1.1 .4h0m49.8-5.6h0m.9 .2h0m1.2 2.2h0m.1-2h0m2.5 2.9h0m.5-1.8h0m.4 1h0m.4 3.3h0m.3-4.4h0m49.1 1.1h0m.4-2.1h0m.9 .6h0m1.3 1.1h0m.4 3.3h0m.3-4h0m.3-.1h0m.5-.3h0m1.1 2.5h0m6.8 1.7h0m.5 .3h0m1.2-2.6h0m2.5-2.3h0m.5 5.2h0m.3 0h0m1.4-3.1h0m2 1.2h0m.2-.9h0m.4 1.8h0m.4-2.1h0m0 .4h0m.4 .9h0m.1-.8h0m.5 2.5h0m.1-1.5h0m.3 .1h0m1.1-.4h0m1.5 1.2h0m11.8-2.4h0m1.2 1.1h0m.1-1.7h0m.4 2.5h0m1.4 .1h0m1.1-1h0m.1 .3h0m.2-.1h0m.4 1.8h0m9.3-2.1h0m.2 .2h0m.6-.2h0m.5 .7h0m.8 0h0m30.1 .6h0m3.2-1.8h0m1.6 2h0m70.8-2.5h0m3.3 2.9h0m.1-1.5h0m1.2 .6h0m.3-.3h0m1.7-3.6h0m.2 3.8h0m.6-3.7h0m.5 3h0m.7-2.4h0m.7 2h0m.3 .5h0m.2-2.1h0m0 2.8h0m.1-.9h0m0-2.3h0m.4-1.3h0m.5 4.1h0m1.6 0h0m.2-1.7h0m.5 2.8h0m.1 .3h0m.2-4.1h0m.8 .9h0m5 9.4h0m-6.9-4.2h0m-2.4-.8h0m-1.7 1h0m-3.4 .4h0m-4.1-1.7h0m-1-.2h0m-67.8 .5h0m-1 3.4h0m-5 .7h0m-.4-.9h0m-2.3 1h0m-.4-3.2h0m-.2 1.5h0m-.5-1.7h0m-.2-.4h0m-40.4-1.3h0m-.8 2.3h0m-.5-.7h0m-2.2-1.6h0m-3.5 5.6h0m-7.4-4.7h0m-.2 1h0m-1.3-1.8h0m-.9 2.8h0m-.8-.3h0m-.5-1.5h0m-1.2-1h0m0 3.7h0m-.2-2.8h0m-.2 2.1h0m-2.4 .8h0m-1.1-3.2h0m-.2 .2h0m-.9 .2h0m-.4 4.2h0m-.4-3.8h0m-.3 3.9h0m-4-5h0m-4.6 4.7h0m-.3 .1h0m-2.3-2.4h0m-1.6 2.1h0m-1.7 .2h0m-.1-.4h0m-1.8-.7h0m-2.9-2.2h0m-2.5 1.7h0m-1.2-.1h0m-1.3 2.1h0m-33.4-1.6h0m-1.1 0h0m-2.3-2.4h0m-.9-.6h0m-1.9 4.5h0m-.9 .3h0m-.4-2.6h0m-.3 0h0m-1.9-2.4h0m-25.7 7.2h0m35.4 3.9h0m31.3-3.3h0m1.2-1.2h0m3.3 2h0m2-2.9h0m0 1.1h0m7.8-1.1h0m.8 1.5h0m1.8-1.3h0m11.4 3.9h0m1.4 .5h0m0-3.1h0m.4 1.1h0m.4 1.8h0m0-.9h0m.9-3h0m.7 2.9h0m.2 .2h0m.1-2.2h0m.7 2.8h0m0-4.5h0m2.1 5.4h0m10-3.2h0m.3 .8h0m.2 1h0m.5-2.9h0m.1 4.5h0m.6-3.2h0m0 2.5h0m0-3.3h0m1.3 3.4h0m.8-4.5h0m.3 .3h0m.1 3.1h0m.2-1.2h0m117.5 1.8h0m.4 .4h0m1.4 .5h0m4.2-.3h0m.3-1.4h0m.6 .6h0m.4 .6h0m8.8-3.3h0m1.9 1.1h0m1-2.3h0m.9 2.6h0m.8-2.5h0m.1 4h0m.2-1.9h0m.1 1.2h0m.3-3.4h0m.3-.5h0m2.1 5.9h0m1.8-1.5h0m17.2 2.6h0m-7.7 3.8h0m-10.8-3.4h0m-2.5-.7h0m-4.6 3.2h0m-12.1-1.4h0m-.5 .9h0m-4.6-3.1h0m-69.7 5.6h0m-1.3-1.6h0m-1.4 .9h0m-.5-.4h0m-.1 1.1h0m-1.1-.4h0m-3.5-.5h0m-.7 .2h0m-.5-1.9h0m-.1 1.1h0m0 .5h0m-1-1.6h0m-1.5 .7h0m-.2-.2h0m-.6 .4h0m-50.3-2.7h0m-2.4-1.5h0m-1.5 1.9h0m-.1-.9h0m-.7 1h0m-61.4-2h0m0 3.1h0m-1.8-2.9h0m-.5 1.7h0m-1 .9h0m-.8-2h0m19 7.5h0m.2 0h0m.1 2h0m.2 1.5h0m.4-.3h0m.1-3.5h0m.1 2.4h0m5.7-.2h0m.4-1.6h0m.3-.4h0m.2 1.8h0m95.5-3.7h0m.2 .3h0m.2-.5h0m1.1 .4h0m.3 .6h0m4.4 .3h0m.6-.4h0m1.7-.6h0m.1 1.6h0m2.2-1.5h0m96.6 3.6h0m-203.4 2.5h0m-3.3-.4h0m-1.3 1.3h0m-63.2 10h0m.2-.7h0m1.7 0h0m1.3 .1h0m1 .8h0m.5-1.3h0m1.2 1.2h0m39.3-4.1h0m2.7 .7h0m1.5-.8h0m.6 1.9h0m0-.7h0m.4-.5h0m.6 .5h0m.5-.6h0m.3 3h0m.2-1.2h0m13.6-.1h0m.9 0h0m1.7 1.3h0m1.6-2.2h0m1.3 1.8h0m8-4.1h0m.2 4.5h0m1.5-1.8h0m1.8-.3h0m0-1.5h0m.8 .4h0m.5 1.4h0m.4 .4h0m.8 1.2h0m.4 .3h0m0-3.5h0m.3 .1h0m43.8 4.2h0m1.1-1.1h0m.9 1h0m.8-2.4h0m.1 1.9h0m.1 .2h0m.5-1.1h0m.5 .9h0m77.1 4.5h0m-.9-1.1h0m-2.3 2.6h0m-.4-2.7h0m-.4 .4h0m-.3 0h0m-66.8 1.2h0m-.3-1.8h0m-.9 .9h0m-1.2 1.5h0m-1.1-3h0m-.2 2.3h0m-.7-1.5h0m0 0h0m-1 2.1h0m-2.6-2.4h0m-.5-.3h0m-.1-.5h0m-.8-.8h0m-48 2h0m-.2-.4h0m-11.1 3.5h0m-.3-.1h0m-1.1-3.7h0m-3.5 3.8h0m-.4 0h0m-14.8-3.4h0m-.7-.6h0m-.6 .2h0m-1.3 0h0m-.2 1.1h0m-1.9-2.5h0m-.4 .2h0m-1.1-.1h0m-39.4-.3h0m-.4 .7h0m-.7-.7h0m-1.8 2.7h0m-.5-1.2h0m37.2 9.7h0m14.4-1.4h0m0 .7h0m.2-.2h0m.1 .5h0m.7-.3h0m1.3-1.1h0m.2 .5h0m.4-1.3h0m.4 1.5h0m8.8 .1h0m.3-.2h0m.6 1.3h0m.4-3.1h0m.6 1.8h0m.5-.2h0m.6 .4h0m0 .8h0m.3-.7h0m.1-1.7h0m.2 .3h0m.2 2.3h0m.5-2.9h0m0-.1h0m.9 3h0m.4 .2h0m.7-2.9h0m.6-2.4h0m.7 .8h0m1.2 1.9h0m25.2 1.6h0m15.7-2.7h0m.6 2.8h0m.3-2.6h0m.6 .1h0m.1 1.2h0m.9-2.4h0m.8 3.4h0m2-4.1h0m1.9 4.5h0m.1-2.9h0m1.1 3.5h0m.8-3.4h0m1 .5h0m1.4 .1h0m.2-.7h0m0 2.2h0m1.2-1h0m.3 .3h0m8.1-1.8h0m.3-1.7h0m69.5 2.3h0m.8-.8h0m.6 1.1h0m.5 .4h0m-16.5 4.7h0m-.9 3.1h0m-.6 .4h0m-.7-3h0m-.1 3.4h0m-1.3-.7h0m-.7-.4h0m-.9-2.2h0m-.3 2.3h0m-.5 .4h0m-.4-5.1h0m-2.1 4.3h0m-1.4-1.5h0m-1.4 3h0m-2.2-3.6h0m-50.5-1.8h0m-.6 1.8h0m-1.3 .2h0m-2-2.1h0m-13.7 3.7h0m-.1 1.7h0m-.1-.1h0m-1.7-1.9h0m-.7 1.3h0m-.5 .7h0m-.3 .2h0m-5.9-2h0m-2.2 .7h0m-.1-.4h0m-.2 1.3h0m-2.3-2h0m-.4 .5h0m-.3 .2h0m-.3-3.8h0m-.4 3.9h0m-.7-3.6h0m-.9 1h0m0-.2h0m-22.8 .9h0m-1.9-2h0m-.5 2.9h0m0-.1h0m-.4-2.2h0m-.1-.5h0m-.3 1h0m-.8 1.7h0m0-2.1h0m0-.8h0m-.1 .7h0m-1.9 1.4h0m-1.5 0h0m-4.2-2.3h0m-.1 2h0m-1.1-1.8h0m-.5 0h0m-.2 1.9h0m-12.3 1.1h0m-.4-3.1h0m-1 1.7h0m-.5 3.4h0m-1-.6h0m-.5-2.4h0m-13.7 8.9h0m37-2h0m2.2-.6h0m2.6-.5h0m25.7 1.4h0m.3 2.1h0m2.5-3.6h0m.6 1.5h0m.1-1.2h0m.1 1.6h0m.2 .7h0m9.8-3.4h0m1.7-.4h0m.2 .5h0m55.5 3.7h0m1.9 .8h0m1.5-2.1h0m1.4 1.3h0m4.5-3.6h0m2.2 1.1h0m1 2h0m.8-1.9h0m.9 1.7h0m2.7-2.1h0m.2-1.7h0m3 4.5h0m3.6 1.8h0m-.2 4.3h0m-2.2 .4h0m-.5-.1h0m-.1-3.6h0m-2.1 .5h0m-1.3 .8h0m-.1-.4h0m0 .8h0m-.5-.9h0m-.1 3.2h0m-.6-2.8h0m-.7 2.1h0m-.5-3.1h0m0 2.2h0m-.8 .6h0m-.8-2.6h0m-6.3 .3h0m-.7-.2h0m-1.4 0h0m-.1 1.6h0m-.1-1h0m-.8-2.8h0m-.6 .1h0m-2 3.1h0m-.7-1.3h0m-.5 3.8h0m-.4-2.1h0m-.4-.4h0m-.4-.1h0m-64.5-1.9h0m-2.4-1.2h0m-.5 .6h0m-2.6-.7h0m-62.4 3.6h0m-1.3-3.1h0m-2.5 1.2h0m-.4-1.5h0m-.2 1.1h0m-.6-.7h0m-1.3 3.9h0m0-3.2h0m-.2 4.1h0m-.2-.1h0m-.6 .2h0m-.2-5.4h0m139.5 9.1h0m.4 2.1h0m.2-.3h0m1.7-2.3h0m.1 .7h0m.1 1.9h0m1.4 .2h0m1.4 0h0m9-5.5h0m3 3.3h0m1.9-1.1h0m5 1.2h0m.1-.4h0m-20.1 6.7h0m-.5-3.4h0m-2 1.2h0m-1.3 2.3h0m-.8-2.1h0m-.2 2.4h0m-.1-.8h0m-.1-.9h0m-.4-1h0m-114 3h0m-1.2 1.5h0m-1.1-2.1h0m-3.3 .5h0m-.9-.1h0m-3.3-3.8h0m-.5 5.4h0m-1-4.7h0m4.5 5h0m.6 1h0m0-.1h0m20.6 19h0m-.7-.5h0m-.6-.4h0m-.9 1.6h0m-3.3 .2h0m0-.5h0m2.8 4.7h0m1.7 .1h0m.4-.5h0"/>
<path stroke="#2F8B2C" stroke-width="1.6" d="M993.5 519.4h0m1.1 1.6h0m.5 .7h0m1.1 0h0m.2-1.7h0m6 1.3h0m.2-1.5h0m.3 1.6h0m.7 .4h0m.7-1.4h0m.3 2.8h0m-.3 .7h0m-.5-.9h0m-1.1 .1h0m-.5 1.1h0m-.4-.2h0m-6.7-1.8h0m35.9 22.3h0m2.4-.4h0m0 .3h0m1-.8h0m.4 .7h0m0 .5h0m.8-.5h0m.5 1.4h0m0-2.8h0m2.2 1.1h0m1.3-1.6h0m.7 2.2h0m.1-1h0m53.8 .9h0m.2 .6h0m1.3-.2h0m2.2 .3h0m.7 .3h0m1.7 .1h0m.1 .1h0m16.1 6h0m-2.3-2.8h0m-.6 2h0m-3.3-2.1h0m-9.6 .5h0m-.9-1.7h0m-.1-1.5h0m-.6 2.2h0m-.3 .8h0m-.5-.4h0m-.4 .4h0m-.1-2h0m-.2 3h0m-.1-3.8h0m-.9 2.9h0m-.3-.9h0m-6.7 3.5h0m-1-.5h0m-47 .4h0m-1.4 .2h0m-.9-.2h0m0 .2h0m-.2-1.7h0m-.6-1.4h0m-.6 2.2h0m0-3h0m-.5 2.6h0m-.1-1.3h0m-.1-.2h0m-.7-1.8h0m-.1 .9h0m-.1 0h0m-.2 2.5h0m-.1-2.6h0m-.8 2.2h0m-.9-.9h0m0 1.9h0m-.1-3h0m-.1 2.8h0m-1.2-1h0m-.6-1.6h0m-.1 .9h0m-.1 1.3h0m-.7-.5h0m-.1-1.3h0m-.5 2.2h0m0-1.1h0m-.2 .3h0m-.6 .4h0m-.5-1.7h0m-62.3 2.8h0m0-1h0m-.7-2h0m-.1 1.7h0m-.6-1.5h0m-.3 2h0m-.3-3.1h0m-.3 3.7h0m-.8 0h0m-.1-2.4h0m-.3 2.2h0m-1.9-1.7h0m-.4 1.5h0m-.5-3h0m-2.1 3.2h0m-.2-3.3h0m-2.1 3.1h0m-1.3 .1h0m-24.5 5.1h0m.8-.7h0m1.1 1.7h0m.9-.1h0m.9 .4h0m.3 0h0m2.7-.2h0m15.5-1h0m4.1-1.1h0m.4-1h0m1.1 1.4h0m.4-.2h0m1.6-.2h0m1.5-2.4h0m.2-.8h0m0 2.5h0m1.3-2.5h0m2.5 .3h0m62.8 .4h0m.9 .6h0m.1-1.2h0m1.1 2.8h0m.2-2.2h0m1.2 .8h0m0-1.5h0m.2-.1h0m.7 1.4h0m.2 3h0m.6 .5h0m.1-1.2h0m.2 2.1h0m.3-5.9h0m1.4 3.2h0m.1-.7h0m.4 1h0m.2-2.1h0m.4 2.6h0m.5-3.5h0m.4 3.6h0m.7 .5h0m.2-2.5h0m1.1-1.8h0m1.3 1.9h0m.5-1.8h0m.2 4h0m1-3.3h0m.4-.4h0m0 1.5h0m43.3 1.5h0m.2-.8h0m.1-2.1h0m.2-.4h0m5.9 4.4h0m.8-4.4h0m.7 2.5h0m.4 .9h0m.2-.7h0m0 .6h0m0-1.5h0m1.4 2.6h0m1-.3h0m.5-2.2h0m.5 3.6h0m4-.3h0m1.7-3.2h0m.1-1h0m.1 .5h0m.7-1.1h0m4 .5h0m.8 2.3h0m.2 .4h0m1.6-.4h0m.5-1.8h0m1 3.9h0m.1-.8h0m1.3-.8h0m.3 1.2h0m.2-2h0m.6 1.7h0m.1 .6h0m0-.9h0m.8 .5h0m-.4 3.7h0m-.5 2.3h0m-.8-1.4h0m-2.2 1.7h0m-.7-1.4h0m-1.2-1h0m-3.9-2.8h0m-.6 1.2h0m-4.2-1h0m-.4 0h0m-3.7 0h0m-.5-.5h0m-3.1 .4h0m-54.9-.4h0m-2.1 1.5h0m0 2.4h0m-.4-1.7h0m-.7 .9h0m-.2-1.8h0m-.1 1.8h0m-.1-2.3h0m-.1 1.1h0m-.5 1.9h0m-.3-1.1h0m-1.2 2.2h0m-.1-3h0m-.3 .9h0m-.9-2.7h0m-73 4.1h0m-.1-.2h0m-.5-1.3h0m-1.1 1.1h0m-.4 .8h0m-.7-3.5h0m0-.1h0m-.7 4.8h0m-.7-2.7h0m-1.4 .3h0m-.3-2.5h0m-.2 .4h0m-.7 2.7h0m-.8 1.8h0m-.2-4.4h0m0 .2h0m-.5-.1h0m-.4 2.8h0m-14.5-2.2h0m-.9 1.3h0m-.8-1.7h0m-1.7 .5h0m-.2 .4h0m-3.7 9h0m12.5-4.9h0m1 .8h0m5.4 1h0m2.9 1.2h0m0-2.3h0m1.6-.4h0m5.7-.5h0m56.8 3.4h0m.2-.5h0m1-1h0m.5 2h0m.6 1.4h0m.1-4.4h0m1 3.4h0m.8 .9h0m.4-1.1h0m95.2-3.1h0m0-1.3h0m-95 5.9h0m-.5 .3h0m-.1 2.1h0m-.1-1.2h0m-.7 2.3h0m-.5-2.9h0m-1.2-.2h0m-.1 3.8h0m-4.4-2.4h0m-65.3 0h0m-1.8 1.7h0m-.3-2.3h0m-.6 1.1h0m0 3.1h0m-.1-1.3h0m-.1 1.6h0m0-4.1h0m-.1 1.3h0m-.2-2.4h0m-.2 3.6h0m-.5-3.2h0m-.1 3.6h0m-.1-3.4h0m-.9 3.7h0m0-4.2h0m-.3 .6h0m-.4-.8h0m-.1 .2h0m-.9 1.4h0m-.6-.5h0m-.6-.7h0m-6.6 2.8h0m-.9-2h0m-1.3-.2h0m-1.5 2.2h0m-.5 1.6h0m-1-2.2h0m-1.6 1.1h0m-.4-3.7h0m-1 5.3h0m-.5-.4h0m-.2-2.9h0m-.6 3.1h0m-1.3-.8h0m-.1 3.9h0m.9-2.3h0m.3 1.4h0m1.6-.8h0m.4-.9h0m.2 4.8h0m1.8-4.4h0m.2 3.4h0m.2-3.6h0m1.1 2.1h0m.3 .4h0m1.6 1.5h0m.7-3.2h0m.1 1.9h0m12.4-2.1h0m25.9 4.9h0m.3-.5h0m1.6-.4h0m1.4 .4h0m1.6-2.2h0m2.7-2.8h0m.1 4.5h0m.2-3.4h0m1.3 1.5h0m.2 .9h0m.3 .7h0m.3-1.6h0m.2-1.9h0m.3 3.7h0m.5-2.9h0m.2 1.4h0m4.2-2.6h0m.2 4h0m.1-1.3h0m.2 .2h0m.5 1.3h0m0-4.2h0m0-.6h0m.1 .9h0m.4 3.1h0m.2 0h0m.5 .5h0m.1-4.1h0m.3 .6h0m2.2 2.7h0m0 .4h0m1.8 1.7h0m.7-2.7h0m.4 1.1h0m1.7-2h0m1.6 2.7h0m.2-.6h0m.4-3.2h0m1.3 1.5h0m.4 1.7h0m.4-2.6h0m.5 3.1h0m.1-1.2h0m1.4-1h0m10.7 3.2h0m.9-1.6h0m.3-.3h0m1-.6h0m3.4 2h0m150.1 2.5h0m-.7-.3h0m0 4.4h0m-1.1-.8h0m-2.2-2.6h0m-2.7 1.8h0m-13.5 1.6h0m-129.3-5.8h0m-3.4 1.7h0m-.9-.9h0m-.3-.5h0m-.1 1.1h0m-.7-1.1h0m-.1 .5h0m-1.5 .9h0m-.2 3.1h0m-4.6-2.9h0m-.1 1.5h0m-.8-2.3h0m-.2 2.6h0m-.6-.9h0m-.7 2.7h0m0 .1h0m-.5-.5h0m-.2-.7h0m-1.9 .7h0m-.5-1.9h0m-.1-2.3h0m-.5 4.1h0m-.8-2.6h0m-.9-1.8h0m-.1 3.5h0m-.2-2.7h0m-.4 1.6h0m-.1-3.1h0m-.2 .5h0m-1.1 1h0m-.3-1.1h0m-.2 .4h0m-4.3 1.9h0m-1.2-2.6h0m0 .7h0m-.8 3.2h0m-.3-2.6h0m-.3 1h0m-2.1 .1h0m-1.4-2h0m-8.7-.3h0m-1.9 4.3h0m-.8 .3h0m-.4-3h0m-.2-.5h0m-.4 .5h0m-.4 2.3h0m-.6-1.8h0m-1.4 .1h0m-.6-.8h0m-.4 2.2h0m-.8 1.7h0m0-.9h0m-.5 .2h0m-18.3 .9h0m-27.3 5.7h0m.8 0h0m1.5 .5h0m15.3-2.9h0m.7 .9h0m.2 .1h0m1.5 .8h0m.5-3.2h0m.7 2.2h0m.1 .9h0m.2-.9h0m0 .3h0m.9-2.8h0m.4 2.9h0m.4-3.2h0m2.4 1.4h0m.6 1h0m.4-2.7h0m1.4 2.5h0m47-2.7h0m1.3 1.7h0m1-1.4h0m.1 .9h0m.2 .5h0m.3 .7h0m.3-1.7h0m.4 .6h0m1.5 .2h0m3.6 .4h0m.2 1.5h0m.2-.7h0m0-.8h0m.8 .8h0m3-1.3h0m84 3.8h0m.6 .2h0m.3-1.4h0m.1 .5h0m2-.2h0m45.7-1.6h0m.6-1.1h0m0 .5h0m.8 .7h0m.2 1.9h0m.3-2h0m.3-1.8h0m0 .6h0m1.2 0h0m.4 1.8h0m8.7 2h0m3.9-4.6h0m.9-.4h0m1.2-.1h0m.2-.3h0m.4 2.4h0m.4-2.4h0m.4 3.9h0m.2-3h0m.2-.6h0m2.5 5.1h0m.1-1.6h0m.3 .9h0m.3 6.5h0m-2.6 0h0m-1-4h0m-3 2.9h0m-.3-.8h0m-3.7-1.5h0m-57.2-1.3h0m-.7 1h0m-.2-.1h0m-.3-.9h0m-.5 1.6h0m-1.1 .7h0m-.2-1.2h0m-.5-1.7h0m-.1 1h0m-.1-.8h0m-.4-.2h0m-1 2.2h0m0-1.5h0m-.1-.2h0m-.3 .6h0m-.3 .1h0m-.4 .4h0m-.4 3.3h0m-.6-2.8h0m-1.1 .3h0m-62 1.3h0m0 .3h0m-.8 .4h0m-.3 .3h0m-1.2 .2h0m-1-1.6h0m-.6 .5h0m-.1-.4h0m-.4 .9h0m-1.2-2.3h0m-2.6 3.4h0m-.1-3.3h0m-15.4-1.1h0m-.1 1h0m-.2-2h0m-3.4 4.7h0m-.8-4.3h0m-1.5 5.2h0m-53.9-3.4h0m-.7 .5h0m-.7 .1h0m-.2 2.3h0m-.9-.8h0m-1.6-1.8h0m-.7 .9h0m-.4 1.5h0m-4.6-.5h0m-5.8-2.6h0m-1.8 1.5h0m-4.2-2.7h0m-4.2 9.2h0m2.1 .2h0m3.2-1h0m6.4-2.8h0m3-.4h0m9.6-.1h0m51.9 2.8h0m.3-1.9h0m.5 2.1h0m2 1.8h0m.6-4.4h0m.2 3.3h0m1 .8h0m0 .9h0m.7-4.3h0m.5 3.5h0m1-3.1h0m.3 2h0m.1 .5h0m13.4 1.2h0m3.5-4.5h0m.5 .1h0m1.3 1.1h0m1.9 1.1h0m.6-2h0m.3-1h0m.5 .3h0m.1 1.5h0m1 1.3h0m.8 .1h0m130.8-.8h0m1.3-1.6h0m.9 2.3h0m.7-2.5h0m.3 1.7h0m.7 1.7h0m.2-2.1h0m.7 1.4h0m.1-.5h0m.7-1.5h0m1.2-1.3h0m.5 3.8h0m0-2h0m1.4-.1h0m1.1 1.2h0m.6-.8h0m4.3 3.8h0m.5-2.5h0m.3 .2h0m.3 1.7h0m.9-2.3h0m.1 1h0m.2-2h0m.8 1.2h0m1.1 .4h0m.3 2h0m.2-2h0m.2 .5h0m.1-.8h0m.2-1.3h0m.3 1.9h0m.2-1.6h0m.5 1h0m.4 1.7h0m2.8-2.8h0m.2-1.4h0m6.4 2.5h0m0 1.7h0m.5-3.8h0m.3 2h0m.2 2.5h0m.4-.1h0m1.6-3.8h0m1 4.1h0m.3-4.2h0m-1.2 4.9h0m-1.5 4.1h0m-9.1-3.3h0m-1.2 .3h0m-.1 3.2h0m-5.7-1.8h0m-5.8 2.1h0m-149.3-2.2h0m-.7 .6h0m-.5 1.8h0m-.5-1.2h0m-.2-4.1h0m-.4 4.8h0m-.4 .4h0m-1.1-4.6h0m-1 4.8h0m-1.1-2.7h0m-.4 .4h0m0-.9h0m-2.5 3.5h0m-7.3-.1h0m-69.5-1h0m-.1-1.2h0m-3-3h0m-1.7 .1h0m-8.2 3.1h0m47.6 7.2h0m2.7-2h0m1.5 2.3h0m.3 .5h0m.3-2.9h0m20.5 2.8h0m.5-3.9h0m.2 0h0m.3 4h0m1.2-5h0m.2 2.4h0m1.6 2.4h0m0-2h0m.6 .9h0m1.2-.6h0m4.2-3.6h0m2 .5h0m1-.6h0m1.2 3.2h0m1.9-2.4h0m5-.9h0m.9 .1h0m0 .6h0m150.5 2.2h0m.6 1h0m10.2-3.5h0m4.6 5.1h0m4-3.3h0m.8 .7h0m1.1 .4h0m.3-1.9h0m.2 4.2h0m1-5.2h0m.7 .4h0m.3 4.5h0m.4-2.7h0m.7-2.4h0m.2 5.7h0m.6-5.7h0m5.7 10.2h0m-2.7-.4h0m-1.6 .9h0m-.8-2.4h0m-.7 2.5h0m0-.8h0m-3.4-1.7h0m-1.9 .7h0m-.5-1.3h0m-.5 .8h0m-3.4-2.5h0m-.1 5.7h0m-.4-.9h0m-.2-2.8h0m-.8-.2h0m-.5 1.6h0m-.2-.5h0m-.8 2.8h0m-1.4-2.4h0m0 2.1h0m-.9-2h0m-118.8-2.7h0m-1.1 1.1h0m-.2 1.4h0m-.7 .8h0m-.2-1.7h0m-1.6 .1h0m-.4 2.4h0m-5.1 .6h0m-2.5 .3h0m-.3-1.4h0m-44 .6h0m-.7 .2h0m-.2-1.2h0m-.1-.8h0m-.9 1h0m-1 0h0m-2.9-2.2h0m-1.1-1.3h0m-.1-.6h0m-15.9 4.9h0m-1.2-2.2h0m-.1 2.9h0m-.5-1h0m-.3-1.2h0m-.2 1.3h0m-.4 .9h0m0-1.6h0m-1.1-2.7h0m-.5 2.4h0m-.9-.2h0m0 .4h0m-.8-3h0m-1.4 4.3h0m-.2-2.3h0m0 2.7h0m-.3-3h0m-.3 2.3h0m-54.4-1.3h0m-.6 .5h0m-1.2 1.2h0m-.1 .1h0m-6.1 4h0m.7-2.1h0m.5 1.1h0m.6 2.7h0m.5-3.2h0m.3 2.6h0m.3 .8h0m.9-1.3h0m.2-1.1h0m.7 1.8h0m.2-2.3h0m.6-.9h0m.2 3.3h0m.1 0h0m0-1.1h0m.1-.2h0m.1-3.4h0m.1 3.4h0m0 1.4h0m.3-.3h0m.5 0h0m.2-1.9h0m.2-1.7h0m.3 1.2h0m.1-.7h0m2.4 .5h0m.2 2.9h0m.3-.9h0m52.7-4.2h0m5.2 .9h0m.5 .6h0m.7 1.2h0m.2-2h0m.5 .9h0m21.1-.8h0m33.8 3.7h0m2.1-1.6h0m1.4 .4h0m.2 1.3h0m.8 1.1h0m5.4-1h0m.9-2.5h0m.6-.5h0m0 4h0m1-5.5h0m1.5 1.1h0m2.1 2h0m.1-2.4h0m1.4 3.3h0m.7-3.6h0m0 1.7h0m.5 0h0m.8 3.1h0m2.2-5.4h0m.2 1.8h0m.3 .3h0m1.5 .6h0m.2 .1h0m.2-1.4h0m0-.1h0m.2 3.1h0m0-.4h0m.5-1.4h0m.5-2.6h0m.6 .8h0m2.8-.4h0m.4-.3h0m111.4 4h0m4.5-2h0m.1-1.1h0m.8 1.4h0m.7-1.2h0m.6-.8h0m.5 .8h0m1.9 2.2h0m.2 .1h0m.3-3.3h0m.4 4.5h0m.6 .1h0m.1-2.9h0m.4 2.6h0m.6-3.2h0m1 .4h0m1-1h0m.3 2.4h0m.4-.8h0m.1-1.8h0m1 3.4h0m.1-.7h0m1.3-3h0m.5 .5h0m3.1 1.3h0m.1 1.9h0m.3-2.5h0m2.1 1.6h0m1.2-.6h0m-102.7 9.3h0m-.5 .2h0m-.9-.8h0m-.5 .6h0m-.3-.2h0m-.2-.7h0m-.8-.6h0m-.4-.8h0m-.1 .4h0m-1.1 1.2h0m-.2-.7h0m-.9 1.3h0m-.2-1.4h0m-.3 1.2h0m-33.7-2.3h0m-.9-2.1h0m-.2 2.3h0m-14.8-2.1h0m-.6-.8h0m-.4 .6h0m-.5-.5h0m-.8 2.4h0m-2.9-2.8h0m-76.2 3.2h0m-.4 2.1h0m-.2-2.1h0m-.3 1.7h0m-.7 .6h0m-.4-3h0m-.2 .9h0m-.2 2.4h0m-.4-2.3h0m-.1-.4h0m-37.6-2.4h0m-1.8 1.9h0m-.1-1.2h0m-.2-1.2h0m-.5 1.4h0m-.1 1h0m-.8-1.6h0m-.8 .4h0m-.2-1.2h0m-.1 1.9h0m-.6 .9h0m-.8-2.3h0m-.7 1h0m-.5-.7h0m-1.4 .2h0m44 7.7h0m.8 1.1h0m.4-3.3h0m1.3 1.7h0m.6-2.5h0m.7 2h0m.2-.8h0m.6 1.9h0m24.2 1.3h0m.4 .2h0m.4-1.9h0m.8 1.6h0m1.1-.7h0m0 1.6h0m.4-1.3h0m.6-3.5h0m2.2 4.9h0m3.8-.3h0m84-1.2h0m1.5 2h0m.7-1.6h0m.3 1.7h0m1.4-2.4h0m1.4 .5h0m.1-.1h0m8.3-3.2h0m.2 1.2h0m.6-1.2h0m1 3h0m.8-3.2h0m2.5 2.5h0m3.6 1.6h0m0-4.4h0m.1-.1h0m-1.1 6.8h0m-.1-.2h0m-.5 1.6h0m-.8-1.2h0m-1.5-1h0m-12.5 2.5h0m-.5 .9h0m-.1-2h0m-.6 1.7h0m-1-2.5h0m-1.8 .3h0m-.1 1.9h0m-.2 2.6h0m-1.5-4.1h0m-2.1 1.1h0m-56.7 1.4h0m-13 2h0m-2.7 0h0m-9.8-3.2h0m-1.4-1.9h0m-.6 4h0m-1.6-2.8h0m-1.7-.2h0m-2.1 3.7h0m-.1-5.3h0m-.2 3.7h0m-.5-3.1h0m-.4-.7h0m-.4 .8h0m-1.9-.1h0m-.6 2.4h0m-.2 2.5h0m-1.4-4.2h0m-20.1 .4h0m-2 2.9h0m-3.2-4.8h0m-.3 2.7h0m-.6 1.3h0m-1.4-3.2h0m-1 1.7h0m-.6-1.2h0m-6.8 10.3h0m5-2.8h0m1.7 1.6h0m3.4 .2h0m2-4.4h0m29.9 .2h0m1.7-.4h0m12.5 4.2h0m2.9 .3h0m.9-3.1h0m3.5 1.9h0m2.9 0h0m.6-1.8h0m1 2.6h0m1.6 1.3h0m2-3.9h0m.8 2.3h0m.1-3h0m.8 2.9h0m1.9-3.6h0m11.8 5h0m.2-3.6h0m2.5 4.4h0m.8-1h0m0-2.9h0m.6 1h0m0 2.6h0m.6-1.9h0m.5-3.3h0m.3 .5h0m.9 4.8h0m27.9-.6h0m1.8-.6h0m2.2-.7h0m2 .3h0m.1-.9h0m6.1-2.2h0m18.7 8.1h0m-.7 2.2h0m-1.4-1.7h0m-1.2-2h0m0 2h0m-1.5-3.1h0m-1.1 2h0m-1.2 2.3h0m-.7-1.1h0m-18.2-1.6h0m-1.7-2.1h0m-2.4 1.7h0m-29.2-1.3h0m-36.4 1.7h0m-1.3-1.3h0m-45.8 3h0m-.5 1.8h0m0-5.3h0m-.4 4.4h0m-.5 .5h0m-.1-3.1h0m-.8-.9h0m-.1 1.8h0m-1.3-2.9h0m-.5 3.9h0m-2.7 .2h0m0-1.7h0m-.5 2.2h0m-.8-2h0m0-.4h0m-.1-.1h0m-.1-2h0m-.2 2.1h0m-.1 2.3h0m0-1.3h0m-.1-2.1h0m-.1 3h0m-.4 .4h0m-1.2-2.9h0m-1-.5h0m-.3 2.6h0m-.9-2.1h0m-.5 .8h0m-.9 1.7h0m-.3-.9h0m-2-1.3h0m-.4 2h0m0-2.1h0m-.1 2.6h0m0-2.7h0m-.5 2.3h0m5.2 3.5h0m2.1 .2h0m.1 .1h0m1.8-.6h0m.1 0h0m8.8-.6h0m50.6 3.2h0m.1 1.8h0m3-.6h0m.1 .4h0m65.7-.7h0m.7-3.4h0m.8 .2h0m.5-1.1h0m2.1 1.2h0m.1 .9h0m.5 1.5h0m0-.1h0m.5-2.9h0m.1 .1h0m.1 2h0m.2-2.1h0m.1 1.1h0m.9 .8h0m.6 .2h0m8.9-1.5h0m2 1.6h0m.2-1.2h0m2.1-.2h0m1.3 0h0m.6-.8h0m-8.4 10.2h0m-4-.8h0m0 .7h0m-6.8-4.7h0m-1.2 .9h0m-13 4h0m-.2 0h0m-54.4-4.8h0m-1.1 1.4h0m-.3 1.6h0m-1.1-.7h0m-1.5-1h0m-1.2-.1h0m56.1 6.1h0m1.3 2.4h0m1.4-1.5h0m.4-.7h0m1.5 .7h0m1.6-1.1h0m.4-1.1h0m.3 2.7h0m.7-1.5h0m0 .8h0m12.7 1.1h0m1.4-1.3h0m1.8-1.5h0m.1 .2h0m.4 4.1h0m1-1.5h0m.7 1.7h0m2.3 0h0m1-.5h0m.8 0h0m.6 6.2h0m-1-.6h0m-.6 1h0m-1.9-.4h0m-.4-4.5h0m-.5 1.9h0m-.9 1.9h0m-.2-3h0m-2.1 2.9h0m-1.4-1h0m-.4-1.4h0m-.5-1.4h0m-41.1 5.4h0m-.8 1.7h0m.1-.4h0m.3-.5h0m.1-.4h0m.6 .2h0m.5 2.9h0m.9-.8h0m.7-1.2h0m.4 .1h0m.3 1.9h0m23.3 .9h0m5.6-1.3h0m1 .1h0m8.6-2.8h0m4.9 1.1h0m1.5 0h0m.4-1.1h0m.5 .9h0m1 .6h0m.4-.1h0m.2-1.6h0m.4 .7h0m-16 5.4h0m-.9 .3h0m-.9 2h0m-2.9 2h0m0-1.5h0m-.3-2.6h0m-.8 1.8h0m-1.2 2.9h0m-.2 .8h0m-7.4-.7h0m-.3-.5h0m-7.5 .2h0m-1-2.5h0m-.5-.5h0m-1.2-.2h0m-3.7 6.9h0m.7 .2h0m1.1-1.7h0m.6-.2h0m.7 2.9h0m2-.6h0m0-1.2h0m.2-1.6h0m.3 3.2h0m.5-.6h0m.5-.4h0m3.7-1.1h0m1.7 2.2h0m.1-2.2h0m.9-.2h0m0-1.1h0m1.1 1.6h0m.7-1.6h0m.3 4h0m.4-1.4h0m.2-2.8h0m.2 3.3h0m.5-2.3h0"/>
<path stroke="#2F8B2C" stroke-width="2.3" d="M993.3 521.3h0m.1 .5h0m.2-1.7h0m.3-.4h0m.5 2h0m.3-.1h0m.1-1h0m1.4 .8h0m0-.4h0m5.5-1.1h0m2 .9h0m-.6 4.1h0m-1.8-.4h0m-2-.6h0m-5.2-1.7h0m37.9 20.2h0m3.2-1.3h0m.7 3.7h0m.8-1.8h0m.3-.7h0m1.1 1.1h0m.7 1.5h0m55.4 1h0m.3-2h0m1.6 .8h0m.1-2.7h0m.8 1.3h0m.4 .9h0m0-1.8h0m.6 3.5h0m.4-1.3h0m18.5 6.2h0m-1.1-.2h0m0-.7h0m-1.3 .2h0m-1.5-.1h0m-1-1.2h0m-11.5 .1h0m-.3 .3h0m-.8-1.3h0m-.4 .5h0m-1.4-.6h0m-.1-1h0m-.1-.1h0m-.1-.2h0m-.1 3h0m-1.1-.7h0m-.6-.2h0m-1.4-.9h0m-4.1 3.7h0m-49-4.3h0m-.1 3.7h0m-1-2.4h0m-.1 2.8h0m-1.6 .5h0m-.2-4.4h0m-.2 2.9h0m-.6-.9h0m-.2-.2h0m-.2-1.8h0m-.4 3.3h0m-.9-1.1h0m-.9-.4h0m-.3-2.5h0m0 4.3h0m-.1-.6h0m-.6 .4h0m0 1h0m-1.2-2.2h0m-.2 2.2h0m-.1 .2h0m0-1.6h0m-.4-1.1h0m-.4 .9h0m-.1-4.1h0m-.4 3.7h0m-.4 .7h0m-.1-2.8h0m-.8-1h0m-.1-.5h0m-.7 4.7h0m-.2-1.4h0m-61 .2h0m-.5-.4h0m-.3-1.6h0m-.7 3.6h0m-.3 .5h0m-.6-4.4h0m-.3 .4h0m-.2 3.4h0m0-3.4h0m-1.8 .4h0m-.3 3.6h0m-.2-2h0m-2 1.3h0m-1.1 .6h0m-2.2-.5h0m-1.5 .7h0m-23.1 3.7h0m1.1 1.4h0m1.8-2.1h0m.6 2.7h0m17.1-3.1h0m.1-1h0m1.5 .9h0m.3 1.8h0m.6 1.1h0m0-1.9h0m.6 .8h0m1 .9h0m.5 .5h0m.8-.9h0m.2-4h0m.5-.4h0m.1 .6h0m.4 2.5h0m1.3-1.8h0m.3 2.9h0m.9-2.3h0m.3 1h0m.3 2.4h0m.1-4h0m.1 3.1h0m.4 .3h0m0-.4h0m.7-3.9h0m.1 1.2h0m1.9-.8h0m63-.2h0m.9-.5h0m.3 .5h0m.2 .3h0m.2 .6h0m.1 .5h0m1.5-1h0m.4 3.1h0m.9 1.4h0m.1-3.2h0m1.4-1.2h0m.1 3.2h0m.3-3.9h0m.8 1.3h0m.7 .6h0m0 .8h0m.2 1.4h0m.7-1.1h0m.2 1.1h0m.2-.4h0m.7-1.3h0m.9 1.7h0m2.2 1.2h0m1.3-.8h0m.2-4.1h0m44.6 3.3h0m2.3 .4h0m.2-2.7h0m1.2-.3h0m.6-.6h0m0 3.6h0m.5 1.2h0m.9-.4h0m1.3-3.5h0m.2 2h0m2.5 1.7h0m6.2-1h0m.7-3.1h0m1 1.9h0m.3-2.5h0m2.4 1.5h0m2.1 1h0m.7-.8h0m.1-2.5h0m2.3 4.4h0m.8-1.1h0m.2 .9h0m.1-1.8h0m0-1.1h0m.1 2.8h0m.3 1.4h0m.1-2.5h0m.8-.6h0m.2 1.1h0m1.2 1.7h0m-1.4 4.5h0m-.4-.9h0m-.2-2.4h0m-.1 1.5h0m-.1-1.4h0m-.5 2.7h0m-1.1 1.8h0m-.1-5.1h0m-.1 .2h0m-.1 3.7h0m0-1.4h0m0 0h0m-.6 2.7h0m-.5-2.1h0m-3.3-2h0m-.4 1.8h0m-2.2 .2h0m-.7-2h0m-9.2-.4h0m-.6 .8h0m-2-1.1h0m-3.4 .9h0m-1.1-1.2h0m-.5 0h0m-1.2 .1h0m-.5-.3h0m-49.2 2.7h0m-.8 1.7h0m-.7-1.1h0m0 1.2h0m-.2-4.3h0m-.7 2.7h0m-.4-2.6h0m-.1 4.7h0m-.3-1.3h0m-.2-2.2h0m-.2 .1h0m-.7 2.7h0m-.7-2.1h0m-.3 0h0m-69.7 .2h0m-2.3-2.2h0m-.3-.1h0m-1 .2h0m-.3 4.8h0m0-4h0m-1-.8h0m-.3 4.3h0m-.4-2.6h0m-.7-.2h0m-2.1 2.6h0m-.1-2.8h0m0 .2h0m-.3 3.1h0m-.1-.7h0m-.4 .3h0m-.4-.5h0m0-1.3h0m-.1 2.9h0m-.1-.2h0m-1.1-1.5h0m-.7 .2h0m-.1 1.6h0m-.4-3h0m0 1.1h0m-.6-1h0m-13-2.4h0m-1.1 2.7h0m-.4-2.5h0m-1.7 .6h0m-.5 1.4h0m-2.4-2.5h0m-3.7 11.5h0m2.5-.1h0m8.6-2h0m1.5-1.2h0m6 3.4h0m1.4 .1h0m.3-.5h0m.1 .4h0m.6-.1h0m.6-1.3h0m1.9-3h0m.1 1.4h0m2.3-.3h0m.2 2.7h0m.1-1.4h0m.4-2.4h0m1.2 3.9h0m.1-3.2h0m.1 .5h0m.5-1.1h0m.9 3.1h0m1.3-2h0m0-2.3h0m56.5 5.2h0m.6-.6h0m.7-.7h0m.1 .1h0m.2-1.4h0m0-1.7h0m.1 .7h0m.1-.3h0m.5 .9h0m1.4 2.2h0m1.1 1.1h0m.2-1.3h0m91.3-4.2h0m.1 .4h0m-91.6 8.3h0m-.1-2.2h0m-.3 1.6h0m-.4-2.1h0m0 0h0m-.1 .4h0m-.8-.6h0m-.4 1.2h0m-.3 .7h0m-.6-1.9h0m-.1 .4h0m-.1 2h0m-.5-1.1h0m0-1.3h0m-.1 1h0m-.1 4.3h0m-1.1-3.1h0m-.1 .6h0m-18.1 2.6h0m-50.8-.8h0m-.4 .5h0m-.3-2.1h0m-.3 2.9h0m-1.3-3.6h0m-1.1 3.6h0m0-4.7h0m-.5-1h0m-1.9 3.9h0m-1-1.4h0m-10.6 3h0m-.2-2.1h0m-3.1 .8h0m-1.3 1.5h0m-1.2 .3h0m.1 2.4h0m.8-2.4h0m.4 4.4h0m4.6-4.5h0m.2 1.9h0m0-1.4h0m3.2 2.6h0m.7-1.7h0m.1 2.1h0m37.4 2.2h0m0-.5h0m3.6 .3h0m.2 .1h0m.7 0h0m.5-2.2h0m.7-2.4h0m1.2 1.9h0m1.9 2.5h0m.3 0h0m1.7-1.3h0m.3-1.6h0m2.6 0h0m.2 .8h0m1.3 1.1h0m.6 0h0m0-.9h0m.1 1.2h0m.3-2.8h0m.1 .4h0m.2-1.5h0m.1 2.4h0m.3 .5h0m.9-1.7h0m.4 .5h0m5.1 .3h0m.1-2.3h0m.9 1.2h0m.9-.9h0m.1 .1h0m1.3 1.9h0m.2 1.8h0m2-.2h0m0-1.9h0m.7 .7h0m0-.5h0m.1 2.7h0m.2-.7h0m.6 .7h0m11-.3h0m2.5-1.8h0m150.3 7.7h0m-.4-2.9h0m-1.9-.3h0m-.7 3.7h0m-145.4-3.4h0m-.6-1.8h0m-1.6 1.6h0m0-.4h0m-1-1.5h0m-.5 2h0m-.1-.9h0m-.1 .4h0m-.1 3.9h0m-.5-.6h0m-.7-.6h0m-2.3 1.5h0m-1.9-1.3h0m-3.9-.7h0m0-3.8h0m-.7 2.9h0m0 .4h0m-.5 .9h0m-.2-3.9h0m-.3-.1h0m-1.2 4.1h0m-.2 1.4h0m-.2-1.7h0m0-1.1h0m0-2.9h0m-.4 4h0m-.7 1.6h0m-6.4-5.5h0m-3.1 3.7h0m-2.5-3h0m-.7 .5h0m-10.3 1.8h0m-.7-1.2h0m-.8-.2h0m0 3.7h0m-.1-1.7h0m-.4-1h0m-.2-.6h0m-1.1 .1h0m-.2 .9h0m-.3-.2h0m-.2-.5h0m-.2-1h0m-.3 3.4h0m-1.5-2.7h0m-.8 1.8h0m-1 .2h0m-.6-1.9h0m-15.6 3.6h0m-3.6-1.1h0m-7.4 5.2h0m0 .8h0m.2-1.1h0m1.7 .2h0m.5-1.9h0m1.4 .6h0m1.3-2.2h0m0 1.3h0m.1 .2h0m1.2 2.7h0m1.5 .8h0m1.5-3.9h0m.8 0h0m.5 2.1h0m.3-.7h0m20.6-2.2h0m26 .6h0m.3 3.5h0m.1-3.8h0m.8 2.1h0m.2-1h0m2.5-1h0m.6-1h0m.1 3.8h0m.2-1.4h0m.3-.8h0m2.2 0h0m1.9 1h0m.3-1.2h0m.4 1h0m1.1-.2h0m.5-1.7h0m85.6 5.4h0m1.8-1.9h0m.8 1.7h0m45.5-2.5h0m1-1.7h0m.3 .8h0m1.1 .6h0m.2 2.4h0m.4-3.4h0m.3 1.5h0m.7 1.1h0m13.2-3.7h0m.5 3.9h0m.4-1h0m.2-1.7h0m1.7 3.1h0m1.3 .3h0m1-5.3h0m0 .3h0m1.4 .6h0m.2 1.9h0m.1-2.4h0m-.3 10.9h0m-.1-.7h0m-3.5 .9h0m-.1-4.1h0m-.2-.2h0m-1.4 1.9h0m-.3 1.8h0m-.9-1.7h0m-.1 .2h0m-2.2 2.3h0m-59.5-5.6h0m-.3 1h0m-1.4 .1h0m-.8 1h0m-.4 1.4h0m-.1-3.6h0m-.1 2.3h0m-.9-.4h0m-.3-.3h0m-.2-.6h0m-.3 3.1h0m-1-.9h0m-.3-3.3h0m-.2 4.1h0m-.9-.6h0m-.2-1.9h0m-65.1 3.7h0m-.8 .2h0m-.7-2.3h0m-.2 .5h0m-.3-1.9h0m-.5 2.9h0m0-.6h0m-.9-.2h0m-.4 .6h0m-1.3 .6h0m-2.1-1.1h0m0 1.8h0m-15.8-3.9h0m-.3 .3h0m-3.1-2.1h0m-.5 5.4h0m-3.6 .4h0m-50.5-2.2h0m-1-3.4h0m-.1 5.1h0m-.2-1.7h0m-1.3-3.3h0m-1.5 1.6h0m-.6 2.6h0m-13.8-.1h0m-3.4-4.3h0m-2.1 2.6h0m-2.7 1.5h0m-2.3-.7h0m2.5 6.7h0m.9-3.2h0m2.2 .8h0m18.8-1.8h0m.9 .8h0m2 .7h0m.4-.7h0m52.4 2.4h0m1.3 1.3h0m.2-3.9h0m4.2 .2h0m.5 2.4h0m.8-1.5h0m.1 .3h0m10.6 3.7h0m6.6-3.1h0m1.6-.4h0m.5-1.9h0m.4 .1h0m0 1.6h0m0 0h0m1.4 .1h0m.7-1.2h0m1.6 1.2h0m.1-1.4h0m.5 .8h0m.4 .1h0m129.5-.4h0m1.5 1.4h0m.3-2.7h0m.6 3.5h0m.5-2.3h0m.6 1.6h0m1.1-.3h0m1.3 1.2h0m.8-2.8h0m.1 4.2h0m1.4-4.4h0m.1 2.1h0m6.6 3h0m1.2-2.2h0m0 0h0m.5 1.4h0m.6-3.5h0m1.6 1.4h0m0 .6h0m.3-2.5h0m.8 2h0m.2 .5h0m0-.4h0m.3 1.5h0m.3 0h0m.3-4.5h0m.1 5.4h0m10.7-1.2h0m.3-2.8h0m.2 3.3h0m.1-1.8h0m.6 1h0m.5 1.8h0m.7-1.1h0m.6-1.2h0m.5 1.7h0m-6.8 6.5h0m-.1-.9h0m-.8 .8h0m-5.9-4.1h0m-1.4 2.2h0m-.2 1h0m0 .1h0m-.2-2.6h0m-.7-1.4h0m-.1 3.7h0m-.2-3.3h0m-.2 3.8h0m-.2 .8h0m-.8-4.8h0m-.1 1.5h0m-1 2.7h0m-.2-.7h0m-.2 .3h0m-2.3-3.2h0m0 3.6h0m-.1-4h0m-.1 1.9h0m-9.1-2.9h0m-143.1 4.6h0m-1.6-.3h0m-1.7 .6h0m-.3-.7h0m-.1-.7h0m-.2-3.3h0m-.4 1.3h0m-2.1 2.6h0m-.6-1.1h0m0 2.2h0m-.1-4.2h0m-.1 1.9h0m-.4-1.5h0m-.6 .3h0m-1.6 3.6h0m-2-4.7h0m-1.9-.4h0m-.2 2.8h0m-81.4 .9h0m42.6 7.7h0m.3-.1h0m1.7-.2h0m3.3-1.5h0m1.5-.6h0m.2 .6h0m20.1 0h0m1-1.2h0m0 2.9h0m.1-1.7h0m1.7-2.8h0m.1-.4h0m.6 3h0m.3-2.7h0m.3 4.6h0m7.7-5h0m.4 2.8h0m.1-2.5h0m.3-.7h0m3.1 .2h0m.2-.1h0m166.6-.4h0m7.3 .7h0m1.5 .2h0m3.6 4.3h0m.7 .2h0m.3-3.2h0m1.2 3.2h0m6.9 3.5h0m-.3 1.9h0m-.8-.7h0m-1.6 .7h0m-.6-1.4h0m-1.6 .8h0m-5.3 .7h0m-.9 .1h0m-.4-2.3h0m-1.1 .2h0m-1.2 1.1h0m-.2-.9h0m-.4 .7h0m-1.5-3.7h0m-.8 1.1h0m-1.1 1.7h0m-.4 .4h0m-.7-.8h0m-.4 1.8h0m-2 1.5h0m-115.6-4.6h0m-.4 1.1h0m-2.3-1.9h0m-.5 1.9h0m-3.3 1.5h0m-1.1 .2h0m-3.1 1.9h0m-6.7-.5h0m-43-4.3h0m-.6 .3h0m-.1 2.3h0m-.2 .2h0m-.6-1.9h0m0 1.4h0m-.7-1.6h0m0 4h0m-.2-4.7h0m-.1 4.4h0m-.1-4.6h0m-.1 3.6h0m-.7-4.1h0m-.8 5.2h0m-.5-3.6h0m0 1.3h0m-1.6-2.2h0m-.3-.8h0m-14.5 5.1h0m-1.2-1.5h0m-3.5-.4h0m-1.6 2.3h0m-1.5-2.3h0m-.3 .7h0m-1.8 1.1h0m-1.5-2.3h0m-52.4 1.5h0m-.2 1.3h0m-.2-1h0m-3.5 0h0m-1 .8h0m-1.2-1.1h0m-.9 1.2h0m-3.8 2.3h0m.2 1.1h0m.8-3h0m1.5 5.2h0m.7-4h0m1.8 1.9h0m2.4-1.6h0m0 4h0m.1-1.4h0m.9-2.9h0m.4 1.2h0m.1 1.4h0m0-3.8h0m1 2.4h0m.9 3.1h0m.1-.2h0m0-5.1h0m.3 3.4h0m.2-3.2h0m.1 3.8h0m.6-.7h0m0-3.4h0m.3 1h0m57.1 0h0m1.5 1.5h0m.5-2.4h0m.6 2.3h0m.8-.7h0m22.4-1.5h0m33.6 5.4h0m2.4-2.6h0m.3-1h0m.1 1.8h0m1.6-.6h0m.6 2.4h0m.2-1.8h0m4.9-2.4h0m.9 4.3h0m4.4-1.2h0m1-.8h0m0-2.8h0m.4 .8h0m.6-.8h0m.4 .2h0m.7-.5h0m3.4 3.9h0m.3-2.4h0m.7-.3h0m.1-.3h0m.2-.8h0m5-.6h0m115.4 1.5h0m.5-.7h0m.4 1.3h0m2.8-1.1h0m1.5 2.5h0m.6-3.2h0m2.1 .2h0m.4 1.2h0m.2 3.3h0m.4-3.1h0m.1-1h0m.8-.2h0m.9-.2h0m.2 .2h0m.9 1.4h0m.2-1.1h0m.4-1.1h0m1.4 2.8h0m2.3 1.3h0m.5-.1h0m.3-2.1h0m2.7 .9h0m1.1-.6h0m-106 6.1h0m-.4 1.4h0m-2.6 1.1h0m-.3 .5h0m-30.2-5.4h0m-.2 .7h0m-5.8-.6h0m-14.2 .8h0m-1 1.5h0m-1.4-.6h0m-2.9-1.6h0m-75.9 2.9h0m-.2-.8h0m-1.4 2.4h0m-1.1-.8h0m-.2-.4h0m-38.7-.5h0m-1.1 .7h0m-.1-3h0m-.7 1.9h0m0-1.5h0m-.9 1.6h0m0-2.4h0m-.5-.3h0m-.4 3.5h0m-.2-1.5h0m-1.2 .3h0m-.2-1h0m0-1.2h0m39.3 10.5h0m3.3-2.3h0m1.8-1h0m.4 3.9h0m.4-3.5h0m.1-.9h0m.2 1h0m1.2-.7h0m25.3 1h0m.3 .2h0m.5 2.7h0m1.5-2.4h0m1.6-2.2h0m.2 5.3h0m1.2-2.5h0m1.2-1.7h0m.3 2.4h0m.3-3h0m.5 4.2h0m.8-1.1h0m88.6 1.4h0m9.7-4.6h0m2.4-.6h0m.9 1h0m.9-.4h0m.1-.6h0m.7 .4h0m1.3 .3h0m0 1.2h0m.5 1.7h0m3.7-3.1h0m-.5 7.8h0m-1.3-.6h0m-.9-1.7h0m-.2 3h0m-4.6-2.2h0m-.9 .2h0m-13.2-.8h0m-.9 3.8h0m-1.7-3.1h0m-1.3 .3h0m-1.2 .8h0m-56.2 1.3h0m-.7 1.8h0m-3.4-2.8h0m-1.3 .5h0m-1.2-1.2h0m0 3.9h0m-.4-3.6h0m-6.5 2.6h0m-5.2 .8h0m-.2-.2h0m-10.5-.1h0m-.8-3.1h0m-2.1-1.9h0m-.2 4.7h0m-1.2-3.1h0m-.1-.6h0m-1.8-.3h0m-21.3-.1h0m-.4 1.4h0m0-2.2h0m-.6 2.7h0m-1.3-1.5h0m-1.3 4.2h0m-.9-1h0m-3.4-3.8h0m-13.9 9.4h0m1-.6h0m7.6 2.2h0m.2-.3h0m2.2-4.3h0m.2 4h0m.6-3.2h0m.6 2.4h0m.9-1.6h0m.1 .9h0m.3-.2h0m.4 1.1h0m.3 .3h0m.1-3.2h0m0 2.7h0m.7 1.1h0m26.7-5.4h0m3.2 .7h0m14.6-.6h0m.5 5.3h0m3.4-4.5h0m.4 .6h0m1 3.5h0m.5-2.8h0m.7 1.8h0m.8 1.5h0m2.3-4.6h0m1.7 1.3h0m.2 .8h0m3.7-1.6h0m3.9 .9h0m12.9-.6h0m1.1 2.1h0m1-2.8h0m1.5 .7h0m1.1 1.3h0m.4-.7h0m0-.7h0m.6 3.1h0m.5-1.7h0m29.8 2.6h0m.4-2.4h0m.2-1.2h0m.6 3.9h0m.6-2.8h0m1.1-1.3h0m.7 1.1h0m.5 2.5h0m22.6 5h0m-.8-3h0m-.3 1.6h0m-4.8-.1h0m-16.1-2.8h0m-.4 2h0m-1.6-.6h0m-.1 1.8h0m-.9-.6h0m-.2 .4h0m-.8-.1h0m-.7-.5h0m-35-1.4h0m-27.9 1.2h0m-1.4-.4h0m-.4-1.8h0m-48 0h0m-.5 1.1h0m-.6 2.3h0m-.1-1.1h0m-.4 2.9h0m-.2-3.1h0m-.2-.6h0m-.1 4h0m-.4-1.1h0m-.2 1.1h0m-.2-3.7h0m-.1 .4h0m-.5-.4h0m-.2 1.6h0m-.3 1.3h0m-.1-.7h0m-.2-1.4h0m-.4-2.4h0m-2.8 1h0m-1.6 2.2h0m-.2-1.4h0m-.1 1h0m-.1-2.9h0m-.2 3.1h0m-.2-1.4h0m-.1 2.5h0m-.4-.7h0m-2.1-2.7h0m-1.6 4.8h0m-1.6-2.1h0m-1.4-.4h0m-1.9 .3h0m15.6 3.2h0m1.4-.1h0m51.8 4.1h0m2.8 .1h0m.9 .1h0m.1-.2h0m67.5 .7h0m.9-1.6h0m.8-3.5h0m.7 2.7h0m1.6-.2h0m0-1.9h0m9.5 .3h0m.2 1.4h0m2.7 .7h0m.8-3h0m2.5 .1h0m-6.9 10.3h0m-1.5-.8h0m-.7 .7h0m-8.8-3.5h0m-13 2.7h0m-.3 .8h0m-.5 .9h0m-.9-2.4h0m-1.4 2.1h0m-53.3-2.2h0m-4-2.5h0m-.5 1.5h0m-.1-1.9h0m-.3 2.8h0m0-1h0m-.1-.9h0m-1.5 .1h0m57.4 5.3h0m0 .5h0m.2 1.5h0m2-1.2h0m1.8 2.9h0m1-1.1h0m.9-1.1h0m12.7 3.1h0m.2-1h0m.3 1.7h0m.1-1.5h0m.5 .4h0m1.7 .6h0m.7 .5h0m1.7-3.6h0m.7 1.3h0m1.3 1.6h0m.3 0h0m1.8-3.2h0m1.2 3.9h0m-.8 5.5h0m-.2-.6h0m-.3 .7h0m-.9-1.2h0m-1.5 1.7h0m-1.8-4h0m-1.3-.9h0m-.5 4.9h0m-.4-3.3h0m-1.8-1.7h0m-.5 .4h0m-.5-.2h0m0 1.7h0m-.1 1.3h0m-1.6-2.7h0m-36.9 4.1h0m-1.2 4.4h0m.6-3.6h0m.5 2.5h0m0-2.2h0m.6 4.5h0m.1-2.8h0m.2 1.8h0m.9 .1h0m.3-2.9h0m.7 2.7h0m.3-3.2h0m.4 .5h0m24.2 4.3h0m2.7 .1h0m1.6-.4h0m14.5-3h0m1.1-2.1h0m.2 1.3h0m1.5-1.2h0m.4 .4h0m.2 .2h0m0 .8h0m-15.9 8.3h0m-.5 .3h0m-2.4-4h0m-1 3h0m-1.4 2.6h0m-1.1-2.9h0m-.6-2.9h0m-.6 2.7h0m-13.6 .9h0m-1.9-1h0m-2.4 2h0m-.5 1h0m-.2-1.4h0m-1-1.8h0m-.4 1.4h0m0 3.8h0m.2 1h0m9.2-1h0m3.2 .9h0m.6 .5h0m.5 1.1h0m.3-.8h0m.2-.2h0m.2-.6h0m.3-.6h0m.4 .6h0m.2-2.2h0m6.8-.4h0"/>
<path stroke="#277A26" stroke-width="1.6" d="M1003 521.9h0m.5-1.4h0m0-1h0m.3 .7h0m0-.3h0m1.2 .5h0m1.3-.2h0m.2 .9h0m7.1 4.4h0m-.3 .5h0m-1-.1h0m-2-1.9h0m-1.3 4.9h0m3.4 .2h0m3-.2h0m14.7 16.2h0m.9-1.1h0m0 .8h0m58.7 6h0m-.7 .2h0m-.4 .3h0m-1.4 .4h0m-52.4-1.1h0m-4.1-2.2h0m-1.4 2.8h0m0-1.8h0m-.9 .7h0m-2.9-1.4h0m-1.7-.5h0m-1.1-1.5h0m-1-.1h0m-1 2.6h0m-.7 .5h0m-.3 .6h0m-.3-2.5h0m-.1 1.4h0m-.3-.6h0m-.4 .5h0m-65.1 1.5h0m-2.1-.5h0m-.5 1h0m-.7-.7h0m1.1 2.8h0m1.7-.9h0m.4 3h0m.8-2.8h0m.2 4.1h0m2.7-1.6h0m130.1-.8h0m1-1.1h0m.4 2.1h0m.7-1.1h0m-71.6 9.4h0m-57-.1h0m-1.6-.9h0m-3.6-.2h0m-.9-.8h0m-.2 .9h0m-1.3 1.2h0m-12-.8h0m-.2-1.5h0m-.2 1.1h0m-.3-.3h0m-4.1 1h0m-.4-.9h0m-.8 .2h0m-.2 1.8h0m2.8 .1h0m1.7 1.5h0m.9-1.6h0m10.9 1.2h0m1.6 .5h0m.6 1.1h0m1.4 1.4h0m.2-.8h0m1.7-3.6h0m1.6 5.4h0m2.5-3.5h0m50.2-.1h0m1.5 2.9h0m0-4.6h0m1.2 5h0m1.1-1.4h0m1 .4h0m1-4.1h0m.7 5.7h0m.7-2.7h0m1 1h0m.1-1.2h0m2.2 0h0m-3.4 3.3h0m-.3 .9h0m-42.3 4.8h0m-.3-1h0m-4.8 2.2h0m1.7-1h0m1.1 .1h0m.3 4.9h0m.4-.4h0m.2-4.2h0m2.3 4.5h0m8.4 .6h0m60.6-2.2h0m.6 2.5h0m1.7-3.5h0m.4-1.6h0m.2-.2h0m1.6 0h0m.4 1.2h0m12.2 3.5h0m1.7-.7h0m8.6 .6h0m.6 .8h0m.6-2.7h0m1 1.2h0m1.2 .6h0m.6-4.5h0m.4 1.1h0m.5-1h0m.8 2.8h0m.1 .6h0m0-1.9h0m1 2.8h0m.9-1.2h0m-2.4 2.9h0m-2.9 1.1h0m-7.2 2.6h0m-.2-4.2h0m-2.6 4.8h0m-.5-.2h0m-1.3-2.1h0m-.4 0h0m-1.3 2.5h0m-1.8-1.3h0m-.7-.6h0m-5-2.6h0m-2.3 1.2h0m-3.1 .2h0m-31.9 2.4h0m-25.1-1.3h0m-2.5-3h0m-4.1 1.6h0m-6.1 4h0m-1.1-5.7h0m-.3 .6h0m-.2 3.7h0m-4.1-4.2h0m-51.8 11.8h0m.8-.7h0m0 .7h0m54.9-4h0m.1 3.6h0m.3-2.1h0m.2 .5h0m.3-1.3h0m.4 .3h0m39.2-2.3h0m.3 3.7h0m.9-2.6h0m1.1 4.2h0m0-.2h0m1.6-.2h0m.7-2h0m.2 .1h0m0 1.1h0m.2-.1h0m.4-.8h0m0 1.6h0m1 .4h0m.9-.6h0m.3 .6h0m0-4.3h0m.1 3.8h0m.1-2.7h0m0-.8h0m.5 1.9h0m.1 1.8h0m.3-3.6h0m.3 2.5h0m.4 .5h0m.5-.5h0m1.2-1.7h0m.2 1h0m.1 1.4h0m.6 .7h0m.3-.5h0m32.3-2.7h0m.9-.2h0m3.3-1.6h0m98.4 10.1h0m-1-1.2h0m-1.6 0h0m-.8-1.7h0m-.5-.6h0m-.2 1.5h0m-1.6-2.5h0m-.8 .6h0m-1 3h0m0-2.4h0m-.5 2h0m-.2 .4h0m-.1 1.7h0m-2.5-.3h0m-.4 .5h0m-124.6-.3h0m-.2-5.1h0m-.1 1.8h0m-.9-1.6h0m-.5-.7h0m-.2 .3h0m-.3 3.4h0m-1.2-3.4h0m0 .5h0m-.2-.8h0m-.1 4.5h0m-.2-3.3h0m-.1-.7h0m-.1-.2h0m-.3 .4h0m-.2-.4h0m-.5 2h0m0-2.1h0m-1 .2h0m-.2 .4h0m-.5-.8h0m-.2 2.4h0m-44.3-2.4h0m-22.7 4.8h0m-26.2 1h0m-2.1-4.7h0m-6.6 .2h0m27.8 9.9h0m.1 .1h0m.7-1.8h0m1.5-1.2h0m.2-.4h0m.1 1.9h0m.1-.1h0m.3 .1h0m0-.3h0m0 2.4h0m1-1.2h0m0-1.7h0m1.5 2.4h0m1-.2h0m.2-.1h0m199-2.5h0m.9-2h0m.3 1.8h0m.2 .5h0m.6-2.4h0m1.3 3.1h0m1-2h0m2.6 .2h0m.9 .6h0m2.9 .2h0m26.6 3.1h0m9.1-2.2h0m1 2.4h0m2.1-1.9h0m0 3.5h0m-3.1 3.4h0m-.2-3.6h0m-.3 3.6h0m-.9-.8h0m-.3-1.7h0m-5.3-1.7h0m-1 5.1h0m-5.9-1.3h0m-1.5 0h0m-1.3-3.1h0m-.3 0h0m-.5-.2h0m-.4 .8h0m-230.6 .4h0m-1.1-.3h0m-2.3-.3h0m-28.7 1h0m50.2 6.8h0m1.3 1.9h0m.2-2.8h0m.1 .9h0m29.5 1.5h0m8.2-.3h0m175.8-3.9h0m.5 0h0m.9 .5h0m.5-.2h0m10.5 3.3h0m.7 0h0m2.5 3.2h0m-1.3 .7h0m-.6 2h0m-.4-1.9h0m-.2-.3h0m-1.3-2.2h0m-137.8 5.4h0m-1.2-.8h0m-.7 .3h0m-3.9-.4h0m-44.3-1.1h0m-1.2 1.7h0m-1.7-.2h0m-1.1-.8h0m-2.6 .9h0m-2.1-.7h0m-26-3.6h0m-1.8 1.4h0m0 0h0m-.9 .3h0m-.4-1.2h0m-.3-.9h0m-.1 .5h0m-1.2 1h0m-.4-.3h0m-6.7 10.4h0m.8-2.2h0m.5 1.9h0m5.2-1.3h0m37.2-2.9h0m1-.1h0m43.8 4.2h0m.4-.1h0m.7-2.1h0m.3-.7h0m.1-.9h0m.2 2.1h0m.6-3.1h0m1.2 0h0m.2 .8h0m.6 3.6h0m2.1-.2h0m1.3-1.1h0m.7-1.2h0m50.1 .6h0m.4-1.1h0m.1-1.6h0m1.2 .6h0m0 4h0m4.9 2h0m-.2 1h0m-3.3-1.6h0m-3 1.3h0m-51.3 1.7h0m-1.4-1.3h0m-1.3-2.1h0m0 4.4h0m-2.2-1.2h0m0-.8h0m-1.2-1.5h0m-.1 1.4h0m-.7 1.7h0m-1.3-1.8h0m-.6-.6h0m-1.8 2.9h0m-.2 1.2h0m-.1-1.5h0m-.8-.9h0m-77.3-.1h0m-1.4-2.6h0m-1.2 1.7h0m-.3-1.8h0m-.3 .5h0m-.9 3h0m-.1-2.3h0m0-1.2h0m-.2 1.3h0m0 2.3h0m-.4-1.1h0m-.2-2.8h0m-.4 .1h0m-.4 .1h0m-52.7 3.8h0m-.3-.2h0m-.2-.7h0m-.4-2.7h0m-.1 2.5h0m-.2-1.4h0m-1.2 1.1h0m-.6 2.3h0m-.2-.7h0m-.8 4.2h0m1.7-.1h0m.4 2.9h0m.6-3.2h0m.3 .4h0m2.1 .6h0m136.3-3h0m-74.9 11.2h0m-2.1-1.6h0m-.8 1h0m-.5 0h0m-.7-.9h0m-.2-.4h0m-.9 .1h0m-55.9-2.6h0m-1.3-.7h0m-1.9 1.6h0m-1.4-1.4h0m-1.2 .1h0m58.3 10h0m1.9 .6h0m2.6-.7h0m.1-2.6h0m.4 .8h0m.8 .9h0m26.7 .3h0m.7-.6h0m1 .3h0m1.4 2h0m3.4-.5h0m54.4-1h0m.8 .4h0m2.6-.3h0m.5-.4h0m3.6 5.7h0m-.9-.6h0m-1.9-2.7h0m-.9 1.6h0m-.3-1h0m-.2 3.7h0m-.4-1.7h0m-.8 1.7h0m-.8 1.2h0m-.6-2.1h0m-1.5-1.5h0m-.4 .6h0m-.2 .4h0m-.5 2.7h0m-52.2-4.7h0m-.1-.1h0m-1.7 3.1h0m-1.3-.9h0m-1.5-1h0m-1.2 1.1h0m-.7-1h0m-.3-.9h0m-30.5-.6h0m97.7 5.6h0m-75.2 9.4h0m-.6-2h0m-.6 .1h0m0 2.6h0m-.4-2.1h0m-.2 2.5h0m-.4-1h0m-1.2 1.6h0m-.4-2.1h0m0 .8h0m1.4 2.5h0m.6-.2h0m51.6 2.5h0m.6 .2h0m1.2 1.1h0m0-.6h0m.1 .7h0m.3-3.3h0m.7 4.3h0m0-5.5h0m.1 2.3h0m.4-.6h0m.4-.5h0m0-.8h0m.4 2.9h0m.3 .1h0m.4-.5h0m10.6 1.5h0m9.9-1.6h0m2.8-1.4h0m.7 1.8h0m1.3-.5h0m.7 7.7h0m-1 .8h0m-1-4.2h0m-1.4-.1h0m-.4-.8h0m-2.9 2.9h0m-1 .3h0m-2.5 2.6h0m-2.2-4.3h0m-3 1.8h0m-2.7 .3h0m3.5 5.4h0m1.9-2.5h0m2.2-.6h0m-2.7 14.1h0m1.5 .7h0m.6 .7h0m1.2-2.6h0m0-.1h0m.5-.5h0m.7 4.2h0m.3-.9h0m-4.3 3.7h0m-.8-.4h0m-2.7 .5h0"/>
<path stroke="#277A26" stroke-width="2.3" d="M1004.2 519.7h0m.5 1.1h0m.3-.2h0m1.2 .8h0m7.9 4.7h0m-1.1-.2h0m-.4-1.7h0m-.4 3.3h0m-1.5-.6h0m-.3 .1h0m-.3-.5h0m-4.6-4.2h0m-1 .3h0m-.1-.3h0m-.7 .8h0m8 6.9h0m3.9-1.2h0m12.5 16.1h0m.4-.6h0m1.3 0h0m3 1h0m1 .4h0m56.7 5.8h0m-2.3-.5h0m-.3-.3h0m0 .5h0m-.1 .7h0m-53.6-2.4h0m-3.1-2.8h0m-2.3 4.1h0m-.3-3.3h0m-.7 3.2h0m-2.2 .6h0m-.2-4.4h0m-.1 4h0m-1.3-.7h0m-.1-1.2h0m-.1 1.6h0m-.1-3.3h0m-1 1.1h0m-.4 .6h0m0-.1h0m-.1-1.5h0m-.6 2.9h0m-.6 .2h0m-.3-2.2h0m-.2-.2h0m-.1 .3h0m-.5-2.1h0m-.2 .2h0m-.6 2.7h0m-61.2 1.5h0m-1.5-1.7h0m-1.1 2h0m-6 2.3h0m1.5 3.4h0m1-4.7h0m2.3 3.4h0m1.1 1.7h0m.1-.5h0m.3-1.1h0m.1-1.6h0m.4-.6h0m131 .5h0m.4 .9h0m.6 1h0m1-2.8h0m0 2h0m.6 .5h0m.4 0h0m-130.8 8.1h0m-3.9-1.6h0m-1-1.1h0m-1.3 3.1h0m-11-1.7h0m-3.6 1.1h0m-1.5-1.3h0m-.1-.5h0m-1.3 1.8h0m-.3-.9h0m2.1 2.9h0m.3 1.9h0m.4-.3h0m2.3-.6h0m.9-1.4h0m15.3 .4h0m.6 1.6h0m0 2.9h0m1.7-2.8h0m53.7-2.7h0m1.4 2.9h0m.7-1.8h0m0 2.3h0m2.3-1.3h0m3.5 .8h0m-4.8 5.1h0m-.6-.7h0m-1.9 .6h0m-37.3 1.9h0m-2.6 1.3h0m-1.7 0h0m.5 4.5h0m0-2.4h0m1 2.3h0m2.8 1.4h0m.4-.8h0m9.6-.3h0m2.6 .3h0m.3 .5h0m.1 .2h0m55.6 .2h0m1.4-1.8h0m.2-2.4h0m1.5 4.5h0m1.7-5.4h0m.3 1.4h0m.9 3.9h0m3.2-2.9h0m.8 .2h0m19.2 2.5h0m.1-.8h0m.5-.8h0m2 1h0m.7-2h0m.5-1.7h0m.1 0h0m.5 .6h0m-2.5 5.9h0m-6.8 2.5h0m-2.8-.7h0m-.7-2.1h0m-.5 2.5h0m-1.7-2.7h0m-3.4 3.4h0m-.6 0h0m-4.8-2.2h0m-.3-1.9h0m-1.1 1.3h0m-.9-.9h0m-1.7 1.4h0m-26.9 .3h0m-1.6 1.4h0m-1.3-1h0m-28.4-2.1h0m-.2 1.7h0m-.3 .1h0m-.6-2.5h0m-1.6 2.3h0m-.8 1.6h0m-.2 .3h0m-.8 .8h0m-.2-3.7h0m-.5-1h0m-2.1 3.4h0m-.6-2.9h0m-2.9 4.1h0m-.3 .9h0m-2.1 0h0m-.1-1.3h0m-2.8 2.2h0m.4 4.2h0m1.1-3.5h0m.9 1.5h0m.6 .7h0m3.1-2.4h0m.6 2.9h0m33.5-3.6h0m1.1 .3h0m1.8-.2h0m.1 1.9h0m.6-2h0m.2 4.6h0m.9-1.2h0m.3 .1h0m.7 1.9h0m.3-2.8h0m.2 1.9h0m.1-1.8h0m.1-2.5h0m.3 5h0m.3-.7h0m.4 .8h0m.5-2.8h0m.2 1.8h0m0-1.4h0m.2 1.1h0m0 1.3h0m.2-.9h0m0-3.5h0m.1 4h0m.1-.5h0m.2-2.9h0m.1-.6h0m.3 4.2h0m0-1.3h0m.3-1.8h0m.5 2.5h0m0-1h0m.1 1.2h0m0-3.4h0m.1 1.6h0m.3 1.6h0m.2-.6h0m.4-.3h0m.4 1.1h0m32.4-3.3h0m.3 .2h0m5.4-1.2h0m98.1 9.7h0m-1.6-1.9h0m-3.3 1.9h0m-.7-.3h0m-127.5-2.3h0m-.4 2.7h0m-.2-3h0m-.7-.3h0m-.6-1.3h0m-1 2.6h0m-1.3 1.8h0m-.1-4.5h0m-.2 2.6h0m-.6 3h0m-.1-4.6h0m-.2 .7h0m-.2-1.6h0m0 1h0m-1.2-.3h0m-.8-.2h0m-.5 .4h0m-.1 .9h0m-.2-1.2h0m0 1.9h0m-.6-1.2h0m-1.7-1.3h0m-65.7 5h0m-.8 .7h0m-2.4-.2h0m-28.3-1.6h0m-7.4-1.8h0m16.3 5.4h0m15.3-1.3h0m.1 .2h0m.6 1.4h0m1.3 2.7h0m.1 1.3h0m.1-.4h0m.5-1.7h0m.2 .9h0m.5-2.4h0m.6-.5h0m4.1 3.6h0m72.6-5.4h0m125 2.4h0m.7-2h0m.4 .4h0m.8 1.7h0m.4-1.3h0m.2 2.7h0m.6 0h0m.2-.4h0m1.8-1.4h0m14.6-.5h0m10.2 2.5h0m15.2 1.7h0m1.5-2h0m6.7 2.5h0m-.2-.3h0m-.4 2.8h0m-.3 .3h0m-3.2-.7h0m-.7-.1h0m-1.6 2.2h0m-1.5-.7h0m-5.9-1.4h0m-5.5 2.6h0m-7.2-.4h0m-.6-.2h0m-228.4-3.2h0m-.2-1.1h0m-1.3 1.6h0m-22.7 1.6h0m43.6 6.6h0m.4 .4h0m0 .2h0m.8 0h0m1.1 .2h0m.7 .2h0m.2-.8h0m31.3 .9h0m.1-2.4h0m.5 1.9h0m156.4-2h0m10.2 2.5h0m8-4.3h0m.3 .1h0m1 .2h0m2.4 1.4h0m.9-.2h0m17.9 7h0m-.8 .4h0m-.4 1.5h0m-.4-5h0m-.2 5.7h0m-.1-3.8h0m-1.4-1.4h0m-.3 5.2h0m-5.2-4.8h0m-.2 3.5h0m-27.9-2.4h0m-107.6 2.4h0m-48.8-.9h0m-1.5 .2h0m-.7 1h0m-1.1-1h0m-.6-1.8h0m-.6 .7h0m-.3 1.7h0m-.2-1.2h0m-3 2.5h0m-.1-.4h0m-.2-4.4h0m-26.9 1.1h0m-.1-1.8h0m-.8 .5h0m-1.7 1.7h0m-8.2 9.4h0m.2-.2h0m.3-.7h0m.3-.2h0m.2 .9h0m.2-1.5h0m1.3 1.7h0m.3-2.2h0m1.5 2.1h0m.9 0h0m81.1-.2h0m1.3 0h0m2.1-2.7h0m.1-.5h0m.1 1.4h0m0 1.5h0m.1-1.4h0m.6-.3h0m.4-2.3h0m.4 3.7h0m0-.2h0m.2-2.2h0m.8 1.7h0m1.6-.6h0m.7-.5h0m.2 1h0m50.3 1h0m.5-1.8h0m1.1-.7h0m.6-2.1h0m.5 .2h0m1.3 2.2h0m.4-.7h0m2.9 1.1h0m.4-2.7h0m.1 .1h0m1.6 3.3h0m-.5 2.8h0m-.3 0h0m-4.2-.6h0m-1.7 .6h0m-53.4 .1h0m-.6 1h0m-1.4-1.9h0m-.7 5.4h0m-2.4-2.1h0m-.1 1.2h0m-.4-2.1h0m-.5 .3h0m-1-2.2h0m-.3 2.9h0m-.3 2h0m-.1-2h0m-.9 2.5h0m-78.7-5.4h0m-1.2 1.5h0m-.5 1.3h0m-1.5-1.1h0m-.5-1.7h0m-1 2h0m-.1 1h0m-.2-1.7h0m-.1 2h0m-.2 1h0m-.7-3.7h0m-.1 .6h0m0-1h0m-.1 3.8h0m-.1-2.1h0m-.1-1.3h0m-.2 .8h0m-.4 2.2h0m-1-4.1h0m-.1 3.5h0m-52 .9h0m-.6-.7h0m-.1-1.6h0m-.2 2.8h0m-.3-2.8h0m0-.7h0m-.4 1.5h0m-.7-1.2h0m0 .8h0m1 7.6h0m.2 1h0m1-.8h0m1.7-1.6h0m1 2h0m.6-.1h0m134.7-4.2h0m.8 .7h0m2.4-.5h0m-85.4 9.7h0m-56.9-2.4h0m56.4 7.6h0m.2 .7h0m.7-.8h0m0-1.6h0m1.1 .9h0m0 3.1h0m0-4.9h0m2.3 2.8h0m28.2 .9h0m.2-2.9h0m.7 .1h0m1.2 3.7h0m1.3-1.4h0m56.2 .3h0m.9-.8h0m1.1 2.2h0m6 2.9h0m-.1 1h0m-.1-.9h0m-.5 2.1h0m-.2 .4h0m-1.1-4.5h0m-.8 .5h0m-.1 3.9h0m-.2 0h0m-.5-.4h0m-.1-3.2h0m-.2 3.8h0m0-.4h0m-.1-4.3h0m-.1 3.7h0m-.4-3.2h0m-.2-.2h0m-.3 3.1h0m0-2.8h0m-.5 1.9h0m-.3-1.4h0m-.5 1.8h0m-1.6 .5h0m0-4h0m-1.3 4.4h0m-52.5-4h0m-.3 1.5h0m-2.3-.8h0m-4.4-.5h0m-25.6 .1h0m92.5 6.1h0m-74.1 9.3h0m-.2-.5h0m-.1 .6h0m-1.3 1.4h0m-.9-4h0m-.2 1.4h0m-.4-.2h0m-1.4 2.7h0m0-.8h0m1.9 2.2h0m51.9 2.3h0m.5-2.3h0m.5 3.3h0m.9-.6h0m.1-1.1h0m0 .2h0m.6-1.1h0m2.1 2.3h0m0 0h0m11.6 1.9h0m2.4-.8h0m5.8-1.6h0m.2-.2h0m1.6-1.3h0m7.1 7.9h0m-1.7-1.3h0m-1.9 .6h0m-.1 1.1h0m-.2 1h0m-1.3-4h0m-2.1 3h0m-2.1-.2h0m-3.3-2.5h0m0-.2h0m-.1 .7h0m-1.2 2.2h0m-.8-4.2h0m-1.3-.1h0m-.1 5.7h0m-.2-4.7h0m-.9 .2h0m0-.5h0m-4.8 2.4h0m2.3 3.1h0m1.5 2h0m3-.3h0m9.6-1.9h0m.5 .3h0m-10.3 13.9h0m.9 .8h0m.2-1.3h0m1.2 1.3h0m.2 2.2h0m0 0h0m1.5-2.7h0m2 2.5h0m-3.3 4.7h0m-1.1-1.1h0m-.9 1.4h0m-.8-1.8h0m-.3-1.8h0"/>
<path stroke="#43B9B1" stroke-width="1.6" d="M1104.7 575.6h0m-1.3-2.5h0m-1.4-.4h0m-3.5 2.1h0m-.6-.5h0m-9.7 7.3h0m.6-.8h0m.9-2.8h0m2.1 2.4h0m.1-.8h0m1.4 2.1h0m.1-2.5h0m.3-2.3h0m1.7-.5h0m1.3 1h0m1.6 1.8h0m-11.9 6.5h0m-10.5-1.4h0m-3.7 3.5h0m-14 5.7h0m1.1-.7h0m12-1.6h0m.1-2.3h0m3.4-.5h0m.9 3.7h0m.7-2.8h0m2-.1h0m52.4 3.4h0m1.7-.7h0m1.3-1.7h0m2.4 2h0m0 .2h0m.7-.3h0m.9 1h0m1.2-.1h0m1.4-.1h0m.3 0h0m.8-1.3h0m4.1 8h0m-.5 .2h0m-.4-2.9h0m-2.3 .7h0m-1.3-2.6h0m-3.9 .8h0m-1.7-.9h0m-1.9 .2h0m-1 3.9h0m-.3-1h0m-1.7 .8h0m-.4-.1h0m-2-.7h0m-.7-1.1h0m-.7-2.6h0m-.8 4.8h0m-1-4.7h0m-.5 2.6h0m-.7 .4h0m-.6-2.3h0m-2.1 1.6h0m-.2-.6h0m-.5 2.1h0m-1.6 1.5h0m-2-.2h0m-.4 .3h0m-.2 0h0m-1.4 .1h0m-45-2.5h0m-1.5-3h0m-3.8 1.7h0m-.2 3.3h0m-2-3.2h0m-.4-1.7h0m-1 2.3h0m-2.5 .1h0m-6.7 2.6h0m-5 .7h0m3 4.7h0m3.2-1.4h0m2.3-1.3h0m2.6-.5h0m2.5-1.5h0m.2 3h0m1.5-2.8h0m1.2 .7h0m41.7 4.6h0m2.3-.6h0m4.3-3.2h0m1.5 1.6h0m.1-1h0m0 .6h0m.7 2.6h0m.8-4.4h0m1.2 4h0m.4 .3h0m.8-.8h0m.2-.1h0m.5 .3h0m.2-.5h0m.2 .3h0m1.4-3.7h0m.7 2.5h0m11.6 2.3h0m3.1-3.4h0m3-1.8h0m1.2 3h0m2-3h0m.1 3.7h0m.7-2.2h0m.8 .1h0m.7 1.5h0m2.6-3h0m1.1 4.1h0m-.9 2.8h0m-2 2.7h0m-2.2-.4h0m-1.7-1.5h0m-.8 3.2h0m-.7-1.4h0m-3-2.7h0m-.6 2.6h0m-.2 1.6h0m-.1-.2h0m-.4-3.5h0m-.6 2.4h0m-.9 1h0m-1.6-3.3h0m-1 .3h0m-2.3 0h0m-1.1-.8h0m-1.9 0h0m-1.3 3.8h0m-.3-.4h0m-1.4-1h0m-9.3-1.8h0m-.2-1.3h0m-.8-.9h0m-.6 1.5h0m-3.4 1.2h0m-1.2 1.9h0m-.3-.3h0m-.1 .6h0m-.8-3.1h0m-1 3.6h0m-2.3-2.1h0m-.8 2.1h0m-.6-.1h0m-1.6-.8h0m-.4 .2h0m-44-3.9h0m-2.2 .6h0m-3.2 3.9h0m-2.4-5h0m-.5 .6h0m-.8 2.7h0m-.8-2.6h0m-.2 3.5h0m-2.1-1.4h0m-.5 .9h0m-6.3 1.3h0m-5-1h0m-6.6 5.4h0m.9 .1h0m5.9 .2h0m3.5 1.5h0m5.9-2.8h0m.2 .9h0m.2-1.4h0m1.1 .4h0m2.5-.5h0m43.6 3.6h0m2.9-1.6h0m.4-.1h0m.3-.1h0m.3-1h0m.7 1.9h0m.2-1.2h0m.1-1.3h0m1.3 1h0m.1-.7h0m1.5 1.6h0m.3 1.4h0m.9-5.2h0m1.9 0h0m.4 1.4h0m.7 .4h0m.2 2.6h0m.5-3.3h0m.2 3h0m.9-4.2h0m.2 1.2h0m.7 1.3h0m0-.9h0m.1-2h0m1.1 1.3h0m20.8 2.3h0m1.1 2h0m1.6-3.5h0m1.1-.7h0m.2 1.1h0m.6-1.2h0m.9 1.1h0m.2 2.4h0m1 .9h0m.3-1.1h0m.4-1.2h0m1.8 .4h0m2.7 1.6h0m.2-4.9h0m1.6 1.1h0m.6 3.4h0m1.5-2.2h0m.5-1.7h0m.7 4.1h0m1.5-1.1h0m2.6-3.6h0m.2 3h0m-1.2 4.1h0m-.3 3.5h0m-.6-4.4h0m-.4 4.9h0m-.2-2.8h0m-1.4 1.6h0m-.1-4.1h0m-.1 4.9h0m-1.5-2.6h0m-.1 .6h0m-1.3 .9h0m0 1.3h0m-1.2-1.9h0m-1.5 1.9h0m-.6-.2h0m-1.9-1.2h0m-1.6-.6h0m-1.4 1.3h0m-.7 .9h0m-1.6-.9h0m-1.2 .8h0m-1.5-3.4h0m-.5 1.1h0m-.5-2h0m-28.9 .7h0m-.2 1.2h0m-1.2-.8h0m-3.4 2.6h0m-.2-3.2h0m-2.4-1.2h0m-1.6-.3h0m0 4.5h0m-.8 .2h0m-.1-2.8h0m-.9 1h0m-.4-.7h0m-.1 2.9h0m-.1-2.7h0m-.2 .9h0m-.1 .7h0m-2.2 .5h0m-44.7-3.4h0m-6.5-.8h0m-1.9 2.4h0m0-2.9h0m-4.4 5.8h0m-1.8-3.5h0m-.8-.5h0m-1.3 .1h0m-1.9 1.2h0m-5.1 1.2h0m-8 7.6h0m1.9-2.5h0m4.7-3.1h0m.8 2.7h0m1 1.6h0m.6 1.1h0m.2-5h0m1.8 2.2h0m1.4-.9h0m4 .2h0m2.8 2h0m1.3-.5h0m1-2.5h0m51.2 .8h0m.9 .8h0m.8-1.3h0m.7 1.2h0m.2-2.6h0m.3 0h0m1.3 .5h0m.3 2.9h0m2.9 1h0m.7-3.6h0m3.5-.5h0m35.8-.3h0m.7 3.2h0m1.5 1.5h0m.6-4.8h0m3.5 2.3h0m.7-.5h0m.4 1.3h0m.4-2h0m.9 4.1h0m2.1-3h0m.5 .3h0m0-2h0m.8 .9h0m0 2.1h0m1.6 .5h0m.2-1.8h0m.3 1.7h0m.3-.1h0m1.1-1.3h0m1.1 2.1h0m.4 4.2h0m-.9 3h0m-1.5-1.7h0m-2.4 1.7h0m-.4-2.8h0m-3.9-.6h0m-2.8-2.4h0m-1.1 3.6h0m-47.5-1.3h0m-.1-2.2h0m-64.5 2.8h0m-.7 .2h0m-1.9 1.2h0m-.9-1.3h0m-2.5-1.3h0m0 3.1h0m-.2-2.6h0m-1.1 .2h0m-3.4 .2h0m-1.1 .3h0m-1.8-.1h0m-1.7-.8h0m-.1 1.4h0m-8.9 8h0m2.1-.6h0m1.7-2.4h0m1.6 1.8h0m1-.1h0m.6-3.7h0m.5 3.4h0m4.4-1.5h0m.2-1.5h0m1.4 2.7h0m.6 1.3h0m.5-1.3h0m.5 .6h0m4-3.8h0m.4 .2h0m44.3 5.4h0m3.4-.3h0m.1 0h0m1.8-4.6h0m.9 .8h0m.3 .5h0m.4 1.6h0m74.8-3.5h0m-81.2 8.1h0m-.9-1h0m-.2 3.1h0m-.3-4.5h0m-.7 3h0m-2.2 1.8h0m-.4-2h0m-.4 1.4h0m-1.2 1.2h0m-46.6-3.8h0m-.4-.2h0m-2.3-.8h0m-1.2 3.4h0m-2.5 1.1h0m-.1-3.8h0m-1.6 .9h0m-1.1-1.8h0m-1.9 5.2h0m-.7-1.8h0m-.1 0h0m-1.9 .2h0m-.7 .5h0m-8 5.3h0m1.1-2.1h0m2.7 1.3h0m.1 1.7h0m.4-2.1h0m.3 2.8h0m1-2.7h0m1.8-1.8h0m1.1 .7h0m.8 1.4h0m1.3 1.9h0m2.9-4.5h0m1.4 2.4h0m48.7 .7h0m1.2 .6h0m1.9-.4h0m.2-3.2h0m1.1 .1h0m.3 3.4h0m3.8-2.4h0m-7.5 4.5h0m-2.9 2.3h0m-.8 1.8h0m-3 .9h0m-2.6 0h0m-.4-1.4h0m-4 2.1h0m-42.6-4.1h0m-1.5 2h0m-2-3.7h0m-1.3 4.4h0m-1 .2h0m-2.2-1.1h0m-.3 2.2h0m-1.2-3.2h0m-.4 2.4h0m-.1-3h0m-.3 .9h0m-3.8 .1h0m-.6 1.9h0m-6.4 6.2h0m.7 0h0m1.2-.5h0m0-1.4h0m.4-.8h0m1.9 2.6h0m1.9-3.8h0m1.9 4.4h0m.8-3.8h0m.9-.2h0m.8 .3h0m46.9 2h0m5.3-2.2h0m1.3 .9h0m.9 .1h0m2.9-2.7h0m.8 .8h0m-58.9 6.3h0m-2.8-.1h0m-3.3 2.3h0m-1.8 1.3h0m-3-2.2h0m-.2 .5h0m-.3-2.7h0m-.6 4.1h0m-.1 1.2h0m-1.7-3.2h0m-.4-.3h0m-.7 3h0m-7.9 6h0m.8 .3h0m4.9-.3h0m.2-4.1h0m.7-.5h0m1.6 1.6h0m.7 3.3h0m5.9-1.8h0m.6-1.1h0m.2 .8h0m.2-.4h0m-3.1 4.8h0m-.6 1.2h0m-.4-1.7h0m-.5 .1h0m-10.1-.1h0m-3 2.2h0m-2.7-1.5h0m-10 6.4h0m2.6 1.6h0m2.3 1.8h0m4.3-2.9h0m.3-1.4h0m5.1 .4h0m2.7 3.5h0m.8-2h0m.7-2h0m4.3-1.2h0m-2.1 6h0m-2.7 .7h0m-1.8 1.7h0m-.2 3.5h0m-.5-1.3h0m-.6-1.4h0m-3.9-2.1h0m-2.5 8.2h0m.2 1h0m.7-1.5h0m.3 1.1h0m3.9-3.9h0m-3.6 6.4h0"/>
<path stroke="#43B9B1" stroke-width="2.3" d="M1105.9 574.7h0m-1.5 .1h0m-.1 1h0m-.4-3.2h0m0-1.3h0m-1.2 2.5h0m-.3-1h0m-.3-.7h0m-3.4 2.6h0m-18 6.9h0m1.2 .1h0m.1-.5h0m1.7 .6h0m.7-1.5h0m.3 1.1h0m1.1 .5h0m.9-.5h0m1.8-.2h0m.1-1.3h0m.2-1.3h0m1.1 1.4h0m2-1.7h0m.5 3.2h0m.8-4.1h0m.1 3.3h0m.8-1.3h0m.2 .1h0m.2 .8h0m2.7-3.9h0m2.1 1.3h0m1.4-1.3h0m0 1.5h0m.9-1.8h0m37.5 11.8h0m-48.4-5h0m-2.7-.1h0m-.1-.1h0m-.3 2.5h0m-.7-2.2h0m-.4 2.1h0m-.1-.9h0m0-2.2h0m-1.4 4.2h0m0-4.2h0m-1.6 5.2h0m-.1-4.8h0m-.3 2.4h0m-.3 2.9h0m-.5-5h0m-.6 3.5h0m-.1-2.4h0m-.2 .9h0m-.8-.5h0m-.1 .5h0m-.7-1.1h0m-.5 3.2h0m-.8-2h0m-.1 1.1h0m-1.8 1.2h0m-.7-2.3h0m-1 1.6h0m-.2-.9h0m-.3 .4h0m-16 7.8h0m3-1.4h0m.1 .2h0m3.6-1.9h0m.8-.6h0m.1 2.3h0m.1-1.8h0m.5 1.8h0m.9-.2h0m.2-1.4h0m.6 .3h0m.4-1.6h0m.4 0h0m.2-1.3h0m.1 5.5h0m.8-3h0m1.2 3.1h0m.1-3.1h0m.2 .5h0m.9-.9h0m0 .3h0m.5 1h0m1.5-2.4h0m.3 4.5h0m1-3.3h0m0 1.5h0m.4-1.1h0m4.3-1.7h0m2.1-.8h0m45.3 4.9h0m.4-.2h0m2.2 .3h0m0 .1h0m0-.9h0m2.1-1.9h0m.1 2.1h0m.5-2.1h0m.8 3.4h0m.2-1.5h0m.4-1.7h0m.1-.3h0m.1 1.9h0m.5 .8h0m.5-2.1h0m.1-1h0m.1 1.4h0m.4-.3h0m.2-2.1h0m.9 .6h0m.1 3.1h0m.2-1.3h0m.1 1.9h0m.1-1.4h0m.1 1.6h0m.3-2.6h0m.9 0h0m.8-1.6h0m0 .6h0m1.3 5h0m-.7 .2h0m-1 .5h0m-1.5 .8h0m-.7 .4h0m-.4-1.2h0m-.5 1h0m-2-1h0m-.2-.7h0m-.5 2.6h0m-.8 .2h0m-1.1 .9h0m-1-.4h0m-.1 .3h0m-.6-3.1h0m0 .5h0m-.1 3.3h0m0 .6h0m-2.1-.2h0m-.8-1.9h0m-.1-.7h0m-.8-2.8h0m-.3 4.9h0m-.9 .6h0m-.7-.6h0m-.1-1.8h0m-.9-.3h0m-.4 2.2h0m-.1-4.2h0m-.2 .7h0m-3.5 4.1h0m-.2-1.1h0m-1.4 .5h0m-1.2-.8h0m-44.4-4.3h0m-.7 2.1h0m-1 .1h0m-1.7 0h0m-.6 1.4h0m-1.2-2.7h0m-.5 .2h0m-.3-.9h0m-.5 2.2h0m-.2-2.4h0m-.9 2.9h0m-.1 1.6h0m-.6-3.5h0m-.1 4.3h0m-2.5 .2h0m-.5 .1h0m-.1-4.1h0m-.4-1.5h0m-.4 1.2h0m-1.9 1.6h0m-.1 .9h0m-.8-3.1h0m-.1 4.1h0m-1.2-2.1h0m-.3 .8h0m-.4 1.9h0m-.2-.3h0m-.4-3.5h0m0 .2h0m-.6 2.3h0m-.2-2h0m-.4 3h0m-1.1-1.6h0m-13.8 7.6h0m.9 .2h0m1.1-.2h0m1.6-2.1h0m.5 .7h0m.6-.2h0m.8-1.5h0m.1 2.3h0m.5 1.4h0m2.6-3.5h0m.7 0h0m.2-1.4h0m.2 .1h0m.3 3.9h0m.5-3.1h0m.4-1.2h0m.3 1.7h0m.6-1.1h0m.1-.5h0m.1 4.4h0m.2 .4h0m0-1.4h0m.1-.4h0m.1 1h0m.4-.9h0m1.3 1.6h0m.4-2.2h0m.4-1h0m.7 1h0m2.7 2.4h0m.1-3.9h0m.1 3.5h0m.1-2.5h0m.1 0h0m.4-1.5h0m.1 2.8h0m.5-2.5h0m.6 1.1h0m.5-1.3h0m0 3.3h0m.3 .2h0m.7-3.3h0m.3 1.4h0m.8-1.2h0m.8 1.1h0m1.2-1.2h0m40.7 3.9h0m1.7 .4h0m.8-.5h0m.9 .3h0m2.5-.6h0m1.1 .6h0m.3-3.2h0m.2 1.1h0m0 1h0m.6-3.3h0m.9 .4h0m.1 4.1h0m.1-.8h0m.6-4.1h0m.3 4.1h0m.4-.9h0m.2 .9h0m.4 .5h0m.2-2.1h0m.6-1.6h0m0-1.4h0m.6 2.1h0m1.3-1h0m.3 .2h0m1.2 2.6h0m.7-.4h0m.2-3.5h0m1.6 2.2h0m.9-1.8h0m3.1 1.5h0m.5-.8h0m.4-.7h0m.7 .6h0m3 4.3h0m5.4-3.5h0m5.5-.4h0m3.6 3.1h0m1.2-3.4h0m-.2 5.4h0m-.5 2.2h0m-4.1-1h0m-.3-1.9h0m-1 3.1h0m-2.4 2.1h0m-1.3-3.6h0m-4 0h0m-4.1-.6h0m-2.3 2.7h0m-8.6-3.6h0m-1-.1h0m-.5 .2h0m-.2-.1h0m-.7 .3h0m-1.4 1.3h0m-.1 .6h0m-1.9-1.3h0m-1.4-.6h0m-.2 2h0m-.7 2.3h0m-.4-2.5h0m-.6 3h0m-.1-2.8h0m-.1 2.6h0m-.3-3.1h0m-.2 3.1h0m-.3-4.1h0m-.1 2h0m-.1 .1h0m-.2 2h0m-.8 .5h0m-.2-2.6h0m-.9 .6h0m-.6-3.5h0m-.1 4.5h0m-.1 .9h0m-.1-1.7h0m-1.1 .6h0m-.3 1.2h0m-.9-2.5h0m-.1-.2h0m0 .4h0m-1 1.9h0m-.4-.6h0m-.8 1.2h0m-1.2-.9h0m-.4 .1h0m-.3-.6h0m0 .2h0m-.2-.9h0m-.1 .2h0m-.3-.3h0m-.4 1.5h0m-39.8-4.6h0m-2.4-.2h0m-.2 .8h0m-.5 .6h0m-.1-.9h0m-.6 .2h0m-1.6-.4h0m-1.2 .6h0m-.3 3.7h0m-.5-3.5h0m0-1.4h0m-.9 3.5h0m-.9 2.4h0m-.8-1.5h0m-1.3-1.7h0m-.1-.1h0m-2-1.3h0m-.2 2h0m-.1 2h0m-.3-4.5h0m-.4 2.1h0m-1.4 1.3h0m-2.6-.1h0m-.8 .7h0m-1-2.1h0m-.6 0h0m-.2 2h0m-1.8-1.9h0m-.7 1.8h0m-5.1 1.3h0m-.1-.2h0m-.1 .2h0m-7.8 5.8h0m3.9 .2h0m1.7 0h0m.3-2.5h0m1.4 0h0m.6-.4h0m.1 .1h0m.3 2.7h0m.9-3.1h0m.9-.4h0m.9-1.2h0m.1 1.3h0m0 3.5h0m0-.1h0m1.3-1.7h0m.6 1.7h0m.3-3.2h0m1.2 .7h0m.3-1.5h0m.6 3.3h0m.1-2.2h0m.1-1.5h0m.1-1.4h0m.1 3.6h0m.4-3.2h0m.8 .7h0m.6 3.9h0m.3-.8h0m.2-3.9h0m.4 3.8h0m.1 .8h0m1.2-1.1h0m0-1.9h0m.4 3.7h0m.2-1.4h0m.3-2.9h0m1.2 2.9h0m.5-1.4h0m.9 .8h0m.7-2.5h0m.7-.6h0m.9 .8h0m.4-.6h0m.4 .6h0m0-1.3h0m.5 1h0m43.4 4.4h0m0 0h0m2.3-1.6h0m.3 0h0m.1-1.8h0m.2 .8h0m.1-1h0m1.7 1.1h0m3.2-.1h0m.7 1.7h0m.1-1.3h0m.1-.4h0m.3 2.1h0m.3-1.8h0m.1 1.5h0m.3-.7h0m.5-3.5h0m.9 2.6h0m.5-2.2h0m.1 1.1h0m.5-.4h0m.2 1.3h0m.8-.8h0m0 .3h0m4.2-2.2h0m16.1 .8h0m2.4-.1h0m.4 1.1h0m1.2 1.3h0m.1 1.5h0m1.1-4.6h0m.6 3.4h0m.5-2.7h0m3.9-.7h0m.9 4.8h0m.2-4.2h0m.3 2.3h0m2.2 1.5h0m.6-3.2h0m2.3 3.2h0m.9-.9h0m.5-.7h0m.6 1.5h0m-.9 6.5h0m-2.6 .1h0m-.5-.3h0m-5.2-1.5h0m-1.2 .4h0m-2-3.4h0m-1.2 .1h0m-4 .2h0m-29 .7h0m-.1 0h0m-.6 .1h0m-2.5 1.8h0m-.4-.2h0m-.6-1.3h0m-.8 3.9h0m-.8-4.5h0m-1.7 3.4h0m-.1-.8h0m-.9-3.2h0m-.8 2.2h0m-.4 1h0m-.2-.7h0m-.2 1h0m-1.5 .4h0m-46.9-3.5h0m-3.9 2.9h0m-.2-2.7h0m-.8 3.1h0m-.1-3.6h0m-.3 .4h0m-.1 2.1h0m-.2-1.1h0m-.3 .1h0m-.4-.7h0m-.5 2.9h0m0 .4h0m-1.6-1.8h0m-2.3 .4h0m-.1 2.5h0m-1-3.6h0m-1.1-1.2h0m-.2 4.4h0m-.9-.3h0m-.9-2h0m-.9 .3h0m-.6-2.7h0m-.7 2.2h0m-1.9 .5h0m-.1-2.8h0m0-.5h0m-.4 1h0m-.5 3.1h0m-.6 1.8h0m-.2-1.7h0m-.3 1.5h0m-.7-1.2h0m-.1 .3h0m-1 .5h0m-1.4 .5h0m-.5-1.1h0m-8.3 6.7h0m1.8-1h0m2.3 .2h0m.1-1.4h0m.4 1.7h0m.2 0h0m1.4-2.9h0m1.8-1.5h0m0 3.3h0m.6 .9h0m.3-3.7h0m0-.3h0m.1 3.9h0m.6 .1h0m1.1-.6h0m.4-1.8h0m.5 .1h0m.4 2.4h0m.5-2.8h0m.8 1.5h0m0 1h0m.1-3.5h0m.2 1h0m.5 1.6h0m.3-.1h0m.7 1.4h0m.2-4.2h0m.4 1.2h0m.2 1.4h0m.2 .5h0m.7 .2h0m1-2.6h0m.1 .2h0m.4-.6h0m.8 4h0m1.2-3.1h0m1.1-1.2h0m0-.7h0m.5 2.5h0m.1-1h0m.7-1h0m50.3 2.3h0m1.4-2.1h0m.1 4.2h0m2-3.2h0m.9 2.1h0m.4-2.3h0m1.8-1.1h0m.9 1.4h0m1.1-1.3h0m.1 .3h0m.3 3.3h0m1.2-.6h0m1-2.3h0m.3 .5h0m37 1.2h0m1.8 1.6h0m4.7-3.2h0m3.2 1.8h0m1.1 2h0m.3 .4h0m2.9-1.5h0m3.6-3.5h0m-3.4 10.7h0m-2.1-.2h0m-2.4-3h0m-1.4-.7h0m-.3 2.8h0m-52.4-3.2h0m-.3 .5h0m-62.2 1h0m-.6-2.4h0m0 1.5h0m-.5 1.6h0m-.1-1.1h0m-2.1 .1h0m-1.4-1.1h0m0 0h0m-1.9 3.5h0m-.2 .9h0m-.9-2h0m0 0h0m-1.4-3.2h0m-.5 3.8h0m-1.5 1.8h0m-.7-4.4h0m-.4 .6h0m-.1 .1h0m-.4 2.9h0m-1.6-4.2h0m-1.2 1.2h0m-.2-.1h0m-1.3 3.2h0m0-.6h0m0-.7h0m-1.1 2.1h0m-.6-.3h0m-8.2 5h0m.1 1.1h0m.2-1.2h0m2.7-.4h0m.6-.5h0m.6-2.4h0m.8 3h0m.1-2.1h0m.5 0h0m.4-.5h0m.1 .8h0m1.1-2h0m.6 5.1h0m1.4-1.4h0m0-2.6h0m.1 .6h0m.3 .8h0m1.3 2.8h0m.2-.6h0m.2-2.6h0m0-1.4h0m.1-.6h0m.2 .5h0m.5 .8h0m.2-.5h0m.2 .7h0m.4-2h0m.6 5.9h0m.9-5.3h0m0 .1h0m1.9 2.1h0m.5-.6h0m.4-1.5h0m.1 2.7h0m.2-2.5h0m1 .4h0m.2-.6h0m0-.4h0m1.3 1.1h0m48.2 3.3h0m1.7 .9h0m.4-2.3h0m73.8-3.1h0m-76.7 8.1h0m-.4 .7h0m-.3 .9h0m-4.7-1.1h0m-.1-1.2h0m-50.6-.9h0m-1.9 1h0m-1 1.7h0m-.9-1.3h0m-.3 .4h0m-.3 1.6h0m-.1 1.3h0m-1.2-1.9h0m-.4-2.6h0m-2.4 3.3h0m-.1 1.5h0m-.7-2.2h0m-.8-.3h0m-.3-2.7h0m-.3-.3h0m-.1 1.9h0m-.3 2.5h0m-.1 .2h0m-.3-2h0m-.7 .7h0m-.2-2.7h0m-.1 0h0m-.2 1.7h0m-.1-.6h0m-.6 2.6h0m-.6-3.3h0m-3.6 3h0m-2 1.6h0m-5.8 5.5h0m2.7 .4h0m2-2.4h0m.9 1.1h0m0-2.8h0m1.1-1.4h0m.1 2.9h0m1.3 1h0m.2-.7h0m.4 .8h0m.2-2.1h0m.5-1h0m.2-.5h0m.7 2.6h0m.5-2.8h0m.3 1.2h0m.1 1.3h0m.3-1.7h0m.1-.2h0m.4 .5h0m.1 1.4h0m.8 .4h0m.5-.5h0m.8 0h0m.5 2.3h0m.1-3.5h0m.1 .1h0m.9-.1h0m1-.7h0m1.2 1.8h0m1.1-.5h0m.6-1.2h0m47.9 3h0m5.7-.1h0m1.1-2.3h0m1.9-.7h0m-15.7 7.8h0m-47.2-2.6h0m-1.2 1.8h0m0-1.5h0m-1.3 1.9h0m-.1 .7h0m-1.1 1.7h0m0-3.2h0m-.5 3.4h0m-.3-.6h0m0-3.3h0m0 1.6h0m-.1 2.2h0m-.5-2.1h0m-.7-.9h0m-.1 2h0m-.8-1.1h0m0 3.1h0m-.5-4.3h0m-.6 .5h0m-.8 3.6h0m-1.1-3.2h0m-.8 1.3h0m-1.7-3h0m0 3.6h0m-1.2-.2h0m-.1-2.7h0m-.3 3h0m0 1.4h0m-.6-4.2h0m-.3-.7h0m-2.1 3.1h0m-.3-.8h0m-.1 2.6h0m-.2-1.2h0m-.8 .9h0m-4.2 4.3h0m.5-1.7h0m1 2.8h0m.1 .1h0m.1-2.3h0m0 .6h0m1-1.4h0m.4-.5h0m.7 .8h0m.7 1.4h0m.5-.8h0m.4-2.4h0m.5-.1h0m.7 5.3h0m.3-4.6h0m.5 2.2h0m2.7-2h0m.3 .7h0m.1 2.6h0m.3-1.3h0m.1-1.6h0m.8 1.6h0m.3-1.9h0m0 3.5h0m4.5-4.6h0m45.4 4.1h0m.5-1h0m9-3.1h0m-59.9 5.9h0m0 .5h0m-2.9 2.6h0m-1.1 .1h0m-1.1-1h0m-.7-.6h0m-.3 .2h0m-.1 1.1h0m-1.5-.3h0m-.6 1.5h0m-.1-3.2h0m-.1 .6h0m-.2-1.2h0m-.5 1.4h0m-.7 .3h0m0 3.6h0m-.1-5.7h0m-.7 5.5h0m-.2-2.1h0m-1.9 .1h0m-.9-1.1h0m-.6 2.1h0m-.1-4.4h0m-1.3 1.2h0m0 4.1h0m-1.2-1.9h0m-.1-1.8h0m-1.6 3.6h0m-6.7 6.3h0m1.3-.9h0m.6-1.3h0m2.1 .8h0m.1-1.6h0m.6 2.3h0m.2-2.7h0m.2 3h0m.1-4h0m1.5 4.6h0m0-2.7h0m.4-.1h0m1.6 .7h0m1.5 .4h0m.5-.2h0m.3 0h0m.1 .1h0m.2-2.2h0m0 1h0m.5 .6h0m0 2.1h0m0-5.4h0m0 2.6h0m1-.7h0m.3 2.3h0m1.4-3.2h0m.2 1.1h0m.2 2.7h0m0-3.6h0m.7 3.7h0m.6-.9h0m.5-.4h0m.5-1.8h0m.6 1.1h0m2.1-2.6h0m-7.6 7.4h0m-.2 .7h0m-.2-2.4h0m-2.1 1.1h0m-1.6 3.7h0m-.1-4.8h0m-.5 2.5h0m-.3-.5h0m-.1 3.4h0m-.3-1.2h0m-.1-1.3h0m-.6 2.6h0m-.1-.9h0m-1.2 .6h0m-.3-2.7h0m-.5 1.4h0m-.2-3.2h0m-.3-.1h0m-.3 2.8h0m-.6-1.7h0m-.1 4.1h0m-.2-3h0m-.1 2.6h0m0-2.6h0m-.5 1.7h0m-.6-2.8h0m-.9 2.8h0m-.2-2.6h0m-.1 .8h0m-.3 2.3h0m-1.5-4.6h0m-.5 .6h0m-.3 4.7h0m-1.1-4.1h0m-2.4 1.8h0m1.3 4.8h0m.5 1.1h0m1.3 2.3h0m.1-2.2h0m0 .3h0m.4 1.3h0m1-4.9h0m.1 1.4h0m.3 .2h0m.5-1.6h0m.5 .9h0m.6 .2h0m.3-.6h0m.1 5.2h0m2.3-2h0m1.3-2.1h0m.3-.4h0m.5 .3h0m.3 3.2h0m.2 1h0m.1-1.5h0m.5 1h0m.1-4.5h0m1 3.5h0m.5-4h0m-3 8.5h0m-.8 1.5h0m-.1-.6h0m-.2-.8h0m-.4 .5h0m-.1-2.9h0m-1 1.1h0m-.4 2.1h0m-.8 1.7h0m-.1-2.5h0m-.7-.8h0m-2.2-2h0m5.3 5.9h0"/>
<path stroke="#66C9C3" stroke-width="1.6" d="M1074.5 590.9h0m60.1 7.4h0m-5.1 .3h0m-1.5-1.5h0m-1.5-.8h0m-1-1.4h0m-.5-.4h0m-56.7 2.7h0m-5.3-1.5h0m-16.2 10.1h0m.1-4.3h0m10.8-.9h0m51.6 2.5h0m5 2h0m2-4.2h0m5.8-.6h0m.1 .9h0m1.6 1.3h0m.2-1.2h0m17.8 5.4h0m-4.9 2.1h0m-6.7-2.5h0m-4.1 4.9h0m-3.2-.9h0m-.2-.8h0m-8.9-3.1h0m-3 3.1h0m-1-3.5h0m-2.3 2h0m-1.4 3.8h0m-55-3.7h0m-.9 1.7h0m-8.2 .5h0m-3.9-2.6h0m52.1 8.5h0m2.6-2.6h0m.3-.2h0m4.9 1.2h0m2.6-2.1h0m6.7-.4h0m27.6 1.1h0m7.3 4.9h0m-1.1 5.1h0m-2.4-.5h0m-7.9-1.4h0m-1.8-1.6h0m-36-1.1h0m-5.7 3.3h0m-3.4-1.2h0m-77.9 8.1h0m4.2-1.4h0m15.3-1.4h0m53 1h0m2-1.8h0m50 4.7h0m11.1 5.6h0m-9.7-2.9h0m-.8 1h0m-2.8-2.8h0m-47.1-.8h0m-78.4 7h0m1.6-1h0m.3 2h0m131.2-1.8h0m-135.7 9.4h0m-.3-2.6h0m-8.7 2.4h0m6.2 4.1h0m-9.4 8.7h0m-6.2-3.3h0m-16.3 11.4h0m-7.6 6.7h0m1.2-.7h0m8.9 .2h0m-18.7 10.6h0m-6.9 3.9h0m.7 2.3h0m2.1-5h0m0-.3h0m.1 1.6h0m0-1.2h0m.8 5.1h0m0-4.6h0m.4 2.5h0m.2 1.1h0m12.6-1.2h0m4.6-1.6h0m-13.6 8h0m-1-.4h0m0 1.8h0m-2.3-1.6h0m0 .9h0m-.2-.4h0m-1.2-3.2h0m5.3 8.5h0m.3 2.5h0m.7-1.6h0m1.8-1.5h0m.7 .4h0"/>
<path stroke="#66C9C3" stroke-width="2.3" d="M1099.3 573.2h0m-16.9 8.5h0m.6-1h0m7.5-2.2h0m.5-.1h0m.6 1.5h0m2.2-1.8h0m2.1 0h0m42.8 9.8h0m-52.5-4.1h0m-1.4-.3h0m-6 1.1h0m-4.8 2.1h0m-7.3 4.2h0m4.3-1.8h0m5.1 .1h0m57.6 4.2h0m7 6.2h0m-3.6-2.7h0m-2-2.8h0m-.9 3h0m-.7 .6h0m-3.3 1.6h0m-6.2-3.4h0m-.2 2.4h0m-7.3-.1h0m-47.1-4.1h0m-3.8 1.9h0m-2.7 3.3h0m-.4-3.2h0m-.3 1.6h0m-1.5-3.3h0m-.2 2.2h0m-3.3-1.3h0m-1.7 0h0m-3.5 2.4h0m-14.2 8h0m9.3-1.4h0m2.8-3.4h0m5.9 4.1h0m3.2-4.3h0m.8 .7h0m54.8 1.9h0m3.6-.9h0m4.5 1.2h0m24.3-1.1h0m1.2 1.4h0m-9 6.7h0m-.8 1.3h0m-1.1-2.1h0m-13.2 .5h0m-11.1-1.3h0m-1.4 .6h0m-1.5 .4h0m-5.2 1h0m-4.2-3.6h0m-3.7 2.9h0m-41.2-4.2h0m-3.8 .4h0m-2.7 4.5h0m-.3-2.8h0m-6.9 1.2h0m-3.5-1.4h0m-3.1 .3h0m-6.1 3.3h0m-9.2 5.8h0m4.9-1.7h0m.4-.2h0m.7-.2h0m2.8 1.2h0m.2-1h0m1.6-.5h0m61.7 2.3h0m5.2-3.6h0m.9 1.7h0m43.5 2.5h0m-16.4 4.7h0m-1.7-3.4h0m-27.6-.9h0m-8.2 3.9h0m-3.8 .9h0m-.5-2.2h0m-1.5 2.3h0m-50.3-5.2h0m-1.8 5.5h0m-2.3-2.8h0m-.2-2.1h0m-1.2 .8h0m-1.2-1h0m-2.8 1h0m-1.5-1h0m-1 5.1h0m-.1-3.5h0m-8.7 5.5h0m3.3 4.1h0m1.2 .2h0m3.1-1.7h0m8-1.7h0m1-.6h0m51.1 0h0m.8-.4h0m2 1.1h0m54 1.5h0m6.3 3h0m-3.8 1.9h0m-.4 2.9h0m-2.1-3.6h0m-6.6-1.4h0m-114.7 3.5h0m-.3-3.7h0m-.3 .3h0m-1.7 4h0m-3.3-2.8h0m-.4 0h0m-3.4 .7h0m-.6-1.9h0m-4.3 2.2h0m-.2 .5h0m-8.4 7.4h0m11.3-3.2h0m1.8 1.9h0m.7-2.6h0m-3.3 5.3h0m-.8 4.4h0m-2.4-.3h0m-17.9 6.1h0m5.6-3.5h0m4.9 2.7h0m.5-3.5h0m5.2 .1h0m-15 11.3h0m0-4.7h0m-2.1 4.7h0m-2.2-2.7h0m-5 5.8h0m.3-2h0m.8 3.5h0m3.2-2h0m1.3 1.8h0m.5 .2h0m.8-2.6h0m5.5-1.2h0m-21.2 7.6h0m-1.9 2.7h0m-.5 0h0m1.6 2.1h0m2.6 .2h0m1 3.9h0m3.5-3.3h0m-1.5 5.5h0m-14.3-1.2h0m-.6 .6h0m-2.5 8.3h0m.9 1.4h0m1.1-3.6h0m1.1 2.6h0m4.4-2.1h0m-1.5 13h0"/>
<path stroke="#3B0F4F" stroke-width="1.6" d="M1097.7 569.5h0m-3.6 2.7h0m-1.7 .4h0m-.6 .2h0m-.1 .4h0m-.3-.3h0m-.4 1.3h0m-.1-1h0m-.8 1.6h0m-.7-1.6h0m-.2 0h0m-.4 .2h0m-.2 1.9h0m0-1.9h0m-.4 2.1h0m-2.1 .4h0m-.7-1h0m-.9 .4h0m-7.4 3.2h0m1.2 1.3h0m1.3 .2h0m1.9-3.2h0m.2 1.8h0m.4-1.3h0m2 .2h0m2.8-1.2h0m-12.9 6.3h0m-.9 .4h0m-1.4 .5h0m-1.6-.5h0m-.8-.1h0m-1.1 1.4h0m-.8 1.7h0m0-.1h0m-.7-.7h0m-1.1-.5h0m-.2 1.6h0m-.2-1.3h0m-.6 .5h0m0 .4h0m-.4 1.7h0m-.4 .1h0m-.1-1.5h0m-.2 .2h0m-2.6 1.1h0m-.2 0h0m-6.5 3.9h0m.5 1.8h0m1.5-1.8h0m.7-2h0m1.8 .9h0m.5-.1h0m.4-2h0m.7 1.4h0m0-.6h0m.1-1h0m0 .6h0m.1 .9h0m.7-.5h0m104.5 6.8h0m-.2-.4h0m-.1 .1h0m-1.5 .9h0m-.7 .4h0m-1.5-1.3h0m-111.6-.4h0m-.8-.3h0m-.9-.4h0m-2.3 3.3h0m-1.4 .7h0m-.6-1.8h0m-.2 .8h0m-1.3 .4h0m-.8 2h0m-.6-1h0m0 .4h0m-.1-.6h0m-.8 .7h0m-.2-.4h0m-5.8 3.9h0m.6 1.5h0m0-.6h0m0-1.2h0m.2 2.3h0m.7-1.8h0m.1 .9h0m.5-1.7h0m.3 .2h0m.4-1.4h0m.2-.3h0m.1 .3h0m.9-.4h0m1.3-.2h0m1.2-.3h0m100.9 5.8h0m.8 0h0m3.2-1.3h0m1 .3h0m.4-.5h0m.1 .8h0m.5-.5h0m.4 .6h0m.1-1.8h0m1.3 .4h0m1.7-1.3h0m.1 .9h0m.2 .1h0m.1-1.3h0m.4 .1h0m-8.5 4.1h0m-1.8 1.7h0m-.4 .3h0m0-2h0m-1.3 1.2h0m-.3 2.1h0m-.1-.3h0m-1.1-.9h0m-.1-.1h0m-.2 .8h0m-.2 .1h0m-.5 1.6h0m-.1 .6h0m0-1.9h0m-.5 1.5h0m-.1 .6h0m-.4-1.7h0m-77.9-1.6h0m-1.8-.8h0m-.1 .9h0m-.4 1h0m-.1 1.1h0m-.2-1h0m-.8 .5h0m-.3 1.2h0m-.5-.9h0m0-.8h0m-.9 .6h0m-.4 1.3h0m-.1-1.3h0m-.3 1.3h0m-.3-.6h0m-22.1-3h0m-.3-1.3h0m-.2 .7h0m-1-.2h0m-.3 .1h0m-1.4 2.5h0m-.3-.4h0m-1.7 1.5h0m-.6-1.7h0m-.1 .6h0m-.3-.2h0m-.1 .2h0m-.3 1.3h0m-.3-.7h0m-1.4 .7h0m-.5 .4h0m-.6-.3h0m-8.8 6.4h0m1.2-.6h0m.2 .2h0m2.8-2.2h0m.3 1.3h0m.1-1.4h0m2-1.4h0m1.9 .7h0m.2-.7h0m0-1h0m2.5-.3h0m22.5 3.8h0m.2-1.1h0m.8 1.5h0m.1-1h0m.9-.9h0m1 .9h0m1.1-2.5h0m1.5-.8h0m79.6 4.7h0m.2 0h0m.4 .4h0m.5-1.7h0m.4 2.3h0m.3-.6h0m.1-1h0m-1.3 1.9h0m-87.2 0h0m-.2 0h0m-.8 .1h0m-.8 1.5h0m-.1 .1h0m-.4-1.1h0m-1 .6h0m-.1 .9h0m-1.1 .2h0m-.2-.1h0m-2.5 3h0m-.6-.2h0m-1.2 .8h0m-.3-.2h0m-.6-1.2h0m-.2 1.4h0m-1.2-.4h0m-20.9-5.1h0m-.3 1.5h0m0-1.2h0m-.9 1.3h0m-1.6 2.8h0m-.4 .3h0m-1 .8h0m-.6-.7h0m-.3 .1h0m-2.2 .3h0m0 .2h0m-5.5 4.8h0m2 .1h0m.7-2.3h0m.9 .4h0m.8-2.3h0m.6 1.3h0m.6 .3h0m.4-.1h0m.7-.8h0m0 .3h0m18.9 3.8h0m1.7 .2h0m.6-.8h0m1.2 .1h0m.3-.5h0m.8 .1h0m2.2-1.4h0m.4-.9h0m.9-1.5h0m.1-.2h0m.7 0h0m-7.2 6.2h0m-1.5 .2h0m-.2 1.1h0m-1.2-.6h0m-.1-1.1h0m-.1 .5h0m-.9 2.2h0m-1.2 .4h0m-1.8 1.1h0m-.4 1.5h0m-.1-.7h0m-2.5 .1h0m0 .1h0m-.6 .5h0m-16-5.4h0m-.7-.2h0m-.6 .8h0m-.3-.9h0m-1.8 1.1h0m-.5 1.5h0m-.6 .8h0m-1.8 1.1h0m-.2 .2h0m-.2 .3h0m-.7-.1h0m-.3 0h0m-.1-.3h0m-1.3 .7h0m-4.5 5.5h0m.9-1.6h0m.2-.7h0m.7-.4h0m.8-.6h0m.4 1.5h0m1.2-1.1h0m18.3 3.5h0m.4-.8h0m.2 1h0m2.8-2.8h0m.4 .3h0m.2 1.3h0m.2-.8h0m1.6-2.6h0m1.5 .4h0m1-1.5h0m.4 .6h0m54.4 4.8h0m.5 .4h0m.1 0h0m1.3-1.3h0m1.9-2h0m1.3 0h0m.7-.9h0m.1 .2h0m0-1.5h0m.9-.2h0m-6.8 6.7h0m-1.3 .6h0m-2.8 3h0m-.1-.1h0m-.4 .9h0m-1.1-.9h0m-1.7 .9h0m-55.2-5.3h0m-.5 1.4h0m-1.1 .9h0m-.9 0h0m-.4 1.5h0m-.9-1.9h0m0 1.4h0m-.5 1.1h0m-.9-1.3h0m-.5 2.2h0m-.2 .3h0m-.2-.8h0m-.6 0h0m-.5 .6h0m-.1-.3h0m-18.9-2.7h0m-.4-.1h0m-1.1 2.8h0m-.3-2h0m-8.6 8.4h0m1.4 0h0m.5-1.1h0m.5 .1h0m.6-2.1h0m.8-.5h0m.6-.7h0m0 1.7h0m.1 .2h0m.5-2.1h0m.4 .2h0m.2 .9h0m.1-1.3h0m.9-.8h0m.8 .2h0m14.8 5.7h0m1.9-1.1h0m0-.6h0m.3 .8h0m.4-.1h0m.5 .3h0m1.4-3.3h0m59.6 3.6h0m.6-.2h0m.6-1h0m.3-1.1h0m.4 .3h0m0-.7h0m.4 .4h0m.6-1.4h0m1.3-.5h0m2-1.1h0m-7.8 7.4h0m-.5-1.1h0m-.5 1.5h0m-.9-.4h0m-.6 1.3h0m-1.3 2h0m0-.4h0m-1 .2h0m-57-4.6h0m-.1 1.4h0m-.9-1.1h0m-1 .4h0m-.9 .9h0m-.4 .8h0m-1 1.5h0m-.9 .9h0m-.2-.5h0m-17.2-4h0m-.9 .5h0m-1.5 3.2h0m-.2-3.1h0m-.2 .7h0m-.2 2.9h0m-.4-1.8h0m-1 2.3h0m-.3-1.2h0m-.3 1.4h0m-8.9 6.1h0m1.1-.8h0m.2 .1h0m3.4-1.9h0m.2-1h0m.2-.5h0m.1 1.3h0m.1 1.1h0m.1-.4h0m.3 .4h0m.5-2.2h0m.3-1.1h0m17.3 5.4h0m.1-.7h0m4.7-4.8h0m.1 .2h0m.4 1.2h0m.1-1.4h0m.5 .3h0m.3-.2h0m58.2 4.4h0m.7 .9h0m.5-2.5h0m.4 2h0m.2-.8h0m1.5-2.1h0m.3-1.7h0m.1-.1h0m-4.7 7.6h0m-.5-1.8h0m-1.3 3.1h0m-.2 .6h0m-.5-.5h0m-.9 1.5h0m-.2 .8h0m-.5 .1h0m-59.8-3.8h0m0-2.1h0m-1.5 2.3h0m-.2 1.1h0m-.2-1.4h0m-2 3.1h0m-.9 .7h0m-.1-.4h0m-.1 .5h0m-.7-.3h0m-16.5-3.7h0m-.9-1.3h0m-.4 .5h0m-2.2 1.7h0m-3.4 2.3h0m-7.2 5.8h0m3.8-3.1h0m.1 1.7h0m.1 .9h0m.7-2.9h0m1.1 .3h0m.1-.8h0m.1 .7h0m2.8-1.2h0m17.9 4.8h0m.9-2h0m1.2-.1h0m.3 0h0m.3-2.4h0m0-.1h0m.4 1.1h0m.1-1.4h0m.7 1.2h0m.3-1.2h0m60.5 5.3h0m.8-2.5h0m1.1 .6h0m.1-.3h0m.2 .6h0m0-1.9h0m.2 .6h0m.6 0h0m.2-.2h0m.4 0h0m.3-1.2h0m.1 .5h0m1.1-1.3h0m-6.4 7.2h0m-.6 0h0m0-.5h0m-.9 1.1h0m-.2 .3h0m-1.3 2.1h0m-.1-1.3h0m0-.4h0m-.4 .3h0m-.3 1.7h0m-59.4-4.8h0m-1.2 1.4h0m-.5 .4h0m-.4 .8h0m-.3-.6h0m-.6 1.5h0m0-.2h0m-1.2-1.3h0m-1 1.3h0m-.2 1.5h0m-.1-.7h0m-.3 .9h0m-.4 .4h0m-.7 .2h0m-18-5.9h0m-1.3 1.2h0m-.9-.8h0m16.2 11.2h0m1.5 .2h0m1.2-.7h0m0 .1h0m0-1.8h0m1 .1h0m.9-1.6h0m.7-1.3h0m58.6 3.9h0m.1 .5h0m.2-.1h0m.2 .2h0m.3-.7h0m.4-.8h0m1.5-1.6h0m1.7-1.4h0m.4-.2h0m.5-.3h0m-5.8 6.1h0m-.8 .3h0m-.6 1.5h0m-.6-.4h0m-.7 1.1h0m-.8-.6h0m-.1 1.2h0m-.4-.8h0m-.4 1.5h0m-.1 .8h0m-.6 .8h0m-.1 .3h0m-58.3-4.8h0m-.7 2h0m-1.5 2h0m-.9 .4h0m-3.1 4.9h0m.4 1h0m.1 .3h0m0-3.2h0m.2 3.1h0m0-3.6h0m.6 .9h0m.1 .4h0m.3 .3h0m.4-.8h0m56.8 3h0m2.1-.5h0m1.4-3.8h0m.1 2h0m1.3-3.2h0m-3.5 6.1h0m-1.2 .2h0m-1.4 2.9h0m-.7-.2h0m-.8 .6h0m-.7 .3h0m-5.2 7.6h0m2-3h0m.8 1.2h0m.4-.2h0m.1-3h0m.2 1.5h0m.2-.8h0m.6-1.2h0m.4 1.2h0m.3-.4h0m-3.9 5.4h0m-2.4 2.4h0m-.4-1.7h0m-2.3 3.2h0m-1.4 .7h0m-.1 .7h0m-.4-.2h0m-5.1 6.1h0m.6-1.3h0m1.6-.1h0m0 .1h0m0-.2h0m.2-.3h0m.2-1.3h0m.3 1.7h0m.5-.9h0m1.9-3.3h0m.1 1.5h0"/>
<path stroke="#3B0F4F" stroke-width="2.3" d="M1100.9 569h0m.2-.3h0m.5-.8h0m.4 .6h0m-.3 1.5h0m-3.9 .7h0m-.1 .8h0m-.8 .5h0m-.3-2h0m-.4 2.3h0m-.8-1.5h0m-.1 1.7h0m-.9-1.3h0m-.5 .2h0m-.9 .2h0m-1.7 1.8h0m-1.9 2.3h0m0-2.8h0m-.3 2.7h0m0-1.3h0m0 1h0m-.1-1.7h0m-.7 1.9h0m0-2h0m-.8 .3h0m-3.1 1.6h0m-11.7 5.5h0m.2 .2h0m.3 .8h0m.3-1.1h0m.3-.1h0m2.8-.2h0m.6-1.1h0m.6 .8h0m1.6-1h0m.6-1.6h0m.6 1.5h0m.4-1.1h0m.6 .3h0m.6-2h0m.7 .6h0m.2 0h0m.3 1.4h0m1.7-1.7h0m.6 .3h0m.5-.5h0m1.7-.2h0m-14 6.5h0m-.9 .2h0m-.5 .5h0m-.4 .2h0m-.3-1h0m-.1 1.4h0m-2 .1h0m0-1.4h0m-.4 2.1h0m-.3 .5h0m-.3-1.7h0m-.6 .5h0m-.9 .6h0m-.3-.6h0m-1.6 .9h0m-.2 .1h0m-.4 1.2h0m-.6 .1h0m0-.2h0m-2.8 1.3h0m-.6 0h0m-10.8 6.1h0m0-.6h0m.3 .6h0m.6-.4h0m.9 .7h0m.9-.9h0m.6-1.3h0m.3 1.4h0m.1-.7h0m.6 .5h0m1.3-1.8h0m.5-.1h0m.1-.6h0m.2 1h0m1.1-.9h0m.5-.8h0m.9-.2h0m.5-.8h0m.4 .1h0m.1-.4h0m.2 0h0m.2 1.4h0m2.5-.8h0m.3-.1h0m102.4 6.4h0m-.1 .8h0m-1.1 0h0m-.1-.1h0m-112.3-1.7h0m-1.1 .5h0m-1.4-.7h0m-.2 .8h0m-1.6-.3h0m-.4 .9h0m-.2 .7h0m0-1.4h0m0 1.9h0m-.6-1.4h0m-2 2.1h0m-.9-.3h0m-.2 1.9h0m-1 .8h0m-10.6 4.4h0m.6 1.5h0m.7-1.7h0m.6 .4h0m1.1 .3h0m.1-2.5h0m.1 3h0m.2-1.9h0m.1 .1h0m.2 .3h0m.2-.4h0m.5-.2h0m1.2 .4h0m.3-1.9h0m.8 .6h0m1.6-1.2h0m.1-.2h0m.7 .4h0m.3-.4h0m104 3.7h0m.1 .1h0m1-.2h0m.1-.2h0m.6 1.6h0m0-2.1h0m1.3 .2h0m.6-1h0m.1-.5h0m1 1.8h0m.2-1.5h0m.8 .5h0m.6-.2h0m-11.4 6.1h0m-.6 0h0m-1.7 2.2h0m-.7-1h0m-79-2.9h0m-.5 .5h0m-.2 .9h0m-.5-.5h0m-.5 .9h0m-.4 1.4h0m-1.4 1.1h0m-.4-.9h0m-.9-.6h0m-20.3-3.9h0m-1 .4h0m-.9-.7h0m-.1 1.3h0m-.2 .2h0m-1.5 .3h0m-.3 0h0m-.1 .9h0m-.4-.7h0m-.9 .6h0m-.1 .6h0m0-.1h0m-1.8-.4h0m-.2 .6h0m-.2-.9h0m-.5 1.9h0m-.1 1.2h0m0-.1h0m-.2-.3h0m-.7 .7h0m-.1-1.7h0m-.3 .4h0m-.1-.1h0m0-.2h0m-1.2 1h0m0 .3h0m-1.6 .1h0m-6.7 5.2h0m.7-.1h0m1-1.2h0m.2 .9h0m.2-1.6h0m1 1.7h0m0-.2h0m0-.2h0m.5-1.3h0m.2-.3h0m.5-1.1h0m.7-.5h0m.3 0h0m1.1-.2h0m23.3 4.8h0m2-1.9h0m.2 1.4h0m.1-1.3h0m0-.5h0m1.3 .8h0m.7-2.3h0m.1 2.4h0m1.1-2.6h0m2.5-1.5h0m.1 .5h0m.1-.5h0m.1 .3h0m81.2 1.9h0m1.2 1.4h0m.2-1.9h0m-90.2 4.5h0m-1 1.1h0m-.9 0h0m-1.3 0h0m-.2-.9h0m-.2 1h0m-.4 1.8h0m-1.8 .5h0m-.2 0h0m-1.6 1.1h0m-.3-.6h0m-.2 1.2h0m0-1h0m-.7 1.3h0m-1-1.1h0m-.8 .6h0m-.3 .3h0m-19.2-4.9h0m-1 .5h0m-1.5 1.3h0m-.4 .9h0m-.1-.3h0m-.2 .2h0m-.1 .2h0m-.4-.6h0m-.1-1h0m-.5-.3h0m-.4 1.2h0m-.6 .8h0m-.9 .3h0m-.7 .2h0m-.2-.3h0m-.6 .4h0m-.4 .8h0m-7.5 7h0m.5-.3h0m1.1-1.6h0m.3-.6h0m1.2-1.3h0m1 .1h0m.8-.7h0m.1 2.4h0m.2-2.1h0m.3 0h0m.9-1h0m.4-.7h0m.3-.1h0m.6 1.2h0m19.9 4.7h0m0-1h0m.1 .7h0m1.4-.1h0m.9-2h0m.1-.8h0m.3 .7h0m1.3 .6h0m.2-.2h0m.8-.6h0m1.1-3h0m.2 2.2h0m1.3-1.2h0m.5 0h0m.3-.6h0m.2-.2h0m-9.2 6.6h0m-.2 .3h0m-.7 .8h0m-1.3-1.6h0m-.4 1h0m-.1-.4h0m-1.1 .6h0m-.3 1.5h0m-.5-.4h0m-.3 0h0m-.9 .8h0m-.5 .1h0m-19.5-2.9h0m-.6 .2h0m-1.7-.1h0m-1.5 2.7h0m-.2-1h0m-.4 1.2h0m-.1-.2h0m-.4-1.2h0m-.5 2.5h0m0-1h0m-1.9 1.2h0m-1.7 .5h0m-5.6 5.4h0m.1-.6h0m.9-.7h0m.4 2.2h0m.6-.5h0m.2-.7h0m.4-1.9h0m1-1.5h0m.8-1h0m.1 1.2h0m2-.4h0m.5-.3h0m1.1-.7h0m16.1 5.1h0m1.1-.5h0m2.9-.3h0m1.1-1.8h0m1-1.8h0m.5-.2h0m1.3-.2h0m.3 1h0m55.3 3.1h0m.9-.4h0m2-.6h0m-7.1 5.7h0m-.1 .5h0m-1.4 1.5h0m-.6-.8h0m-57-3.6h0m-.1 .1h0m-.7-.2h0m-.7 .4h0m-.1-.6h0m-.8 2.6h0m-1.4-.7h0m-.6 .7h0m-.2 1.8h0m-.5-1.2h0m-1.6 1.8h0m-.4-.9h0m-1.1 1.3h0m-17.6-3.1h0m-.5-1.7h0m-.9 2.7h0m0-.1h0m-.7 .8h0m-.1 .4h0m-1-1.9h0m-.3 2.4h0m-.4 .4h0m-6.8 5h0m.1-.4h0m1.4 .4h0m.6 .6h0m1-3.8h0m.5 2.4h0m0-.7h0m.7-2.5h0m.1 2.1h0m.1-2.6h0m.5-.3h0m1.4 .9h0m17.1 3.8h0m.3-.3h0m.5 .8h0m.8-1.5h0m.5 1h0m1.4-2h0m.6 .4h0m.4-.8h0m.6-2h0m.3-.2h0m.3 1.2h0m.4-.3h0m55.6 4.6h0m1.9-2.4h0m.2 1.9h0m.1-.6h0m1-1.5h0m.6-.9h0m1.5 .3h0m.1-1.4h0m-6 6h0m-.7-1h0m-.2 .1h0m-1 2.2h0m-2.8 1.7h0m-56.6-3.1h0m-1.7 .4h0m-.5 .2h0m-.2 1.6h0m-.7 .2h0m-.5-1h0m-1.1 .5h0m-.5 2h0m-.3-1.4h0m0 1.9h0m-.5-.8h0m-.3 .6h0m-.1-.6h0m-1 1.3h0m-.1-.1h0m-14.7-5.2h0m-3-.5h0m-.8 3.2h0m-.7-1h0m-.9 3.4h0m-.2-2.4h0m-.2 2.5h0m-.3-.9h0m0 .5h0m-.1-1.5h0m-8.5 7.9h0m1.4-.6h0m.2-.7h0m.2 1h0m.2-.8h0m.5-1.1h0m.2 1.4h0m.7-.1h0m.2-.6h0m.2-.5h0m0 .1h0m1 .6h0m.4-1.6h0m0-.4h0m.5 .5h0m.3-2.6h0m.1-.3h0m.7 2h0m1-.4h0m15.2 3.8h0m.3 .3h0m.1-.4h0m.4 0h0m.2-1.3h0m.7 .7h0m.4-.3h0m1.3-.7h0m.2 .1h0m.4-1.8h0m0 .4h0m.1-.9h0m.5-.2h0m1.9-.2h0m.5-1h0m.6 .4h0m58.3 4.8h0m.5-.6h0m.2-.2h0m1.8-1.8h0m.3-1.9h0m-5.4 6.1h0m-.2 2.3h0m-.4-1.8h0m-.7 1h0m-.3 2.3h0m-.6 .4h0m-.3 .7h0m-1.4-.1h0m-.3 .2h0m-59.3-5.9h0m-.2 2.6h0m-.8-.3h0m-.3-1.4h0m-.4 1.6h0m-.8 1.9h0m-1.7-.2h0m-.2 .4h0m0 1h0m-16.4-4.7h0m0-.3h0m-2.3 .3h0m-1.1 1.7h0m-.1 .7h0m-.1-2.7h0m-.6 .7h0m-.1 2.9h0m-.5 .6h0m-.1-2.7h0m0 2h0m-.7 .4h0m0 1.3h0m-1.1-1.1h0m-8.6 6.5h0m1.1-.8h0m.9 1h0m1-2.2h0m.4-.5h0m.7-.3h0m.1-.1h0m.4 .9h0m0 .8h0m.9-1.3h0m.6-1.6h0m.6 1.3h0m1.4-1.8h0m.8-.2h0m17.1 5.1h0m.2-.1h0m.1-.1h0m.9 .2h0m1-2.6h0m1.2-1.5h0m.7 .4h0m.2 .4h0m.1-.7h0m.1 .7h0m1.7-1.9h0m57.9 5.6h0m.5-.6h0m1.4-1.2h0m.1 1.1h0m.7-1.9h0m.7 .8h0m.3-2.5h0m.6 .3h0m.9-1.1h0m.3-.3h0m1.3-.3h0m.3 0h0m-6.4 6.9h0m-.3-.7h0m-1.4 .4h0m-.7 1.8h0m-.6-.1h0m-1.2 1.8h0m-.3-.2h0m-1.1 .9h0m-.3 .5h0m-60-3.1h0m-.3-.7h0m-1.6 3.3h0m0-1.1h0m-.9 1.6h0m-.3-.8h0m-.2 .9h0m-.2-1.4h0m-19.3-3.7h0m-1.1 .6h0m-.5-1.1h0m-.2 .5h0m15.5 11.4h0m1.3-1.4h0m.5-1.3h0m.1 .7h0m.4 .6h0m.1-1.5h0m1-2.4h0m.3 1.4h0m1.9-1.3h0m.4-.4h0m57.9 4.8h0m.1 .1h0m.3 .7h0m1.9-2.2h0m.8-1.7h0m.2-1.3h0m.3-.1h0m.2 .2h0m.4 .6h0m.4 .3h0m-4.7 4.4h0m-1.3 .9h0m-.1-.2h0m-.1-.1h0m-.2-.5h0m-.5 .4h0m-.7 1.1h0m-.2 .3h0m-.1-.1h0m-1.1 3.4h0m-.2-.7h0m-.7 1h0m-57.8-3.9h0m-.7 .4h0m-.1-1.7h0m-1.8 4.8h0m-.5 .5h0m-.5 0h0m-4.8 6.1h0m.7-.7h0m1.1-1.3h0m1.5-1.2h0m.2-2.3h0m.1-.2h0m.5 2.8h0m0-2h0m.2-.4h0m.2 .8h0m.3 .6h0m.2-1.9h0m1 0h0m55.6 5.2h0m1.4-2.3h0m1.1-1.2h0m1.9-1.7h0m0 0h0m-5.4 7.8h0m-1.3 .5h0m-.3 2.1h0m-.8 .6h0m-.8-.1h0m-.6 .3h0m-56.5-4.7h0m52.5 10.5h0m.3-.9h0m.3-.7h0m-1.9 3.6h0m-.4 0h0m-1 .5h0m-.4 1.9h0m-.8-.3h0m-5.1 6.4h0m.3 .2h0m.1 .3h0m1.6-2.9h0m.7-.4h0m-4.7 5.7h0"/>
<path stroke="#277A26" stroke-width="1.6" d="M1116.9 567.9h0m1.4 1.9h0m1.8-1.5h0m1.4 1.1h0m.6-1.3h0m1.4 1.6h0m3.1-.6h0m1.9 2.7h0m0 2.8h0m-.7-2.2h0m0 2.5h0m-.9-4.6h0m-.2 1.8h0m-.5 3.8h0m-1.5-4h0m-.3 2.8h0m-.1-.8h0m-.6-.4h0m-.1-1.2h0m-1.5 .2h0m-.5 2.9h0m-.2-5h0m-.1 2.5h0m-1.2 .7h0m-2.1 1.3h0m-1.3-4h0m-.5 5h0m-1.5-4.8h0m-1-.6h0m-.1 5.3h0m-1.6-3.5h0m4.6 4.8h0m.6-.3h0m1-.2h0m3.5 2.3h0m4.7 .4h0m1.3-1.3h0m-19 8.9h0m-4.7-1.7h0m-.1 2.6h0m-.4-.5h0m-2.3-4.6h0m-26.3 11.2h0m1.6-1.2h0m2.5 1.2h0m18.9-3.6h0m2.4 1.8h0m.5-4.1h0m.3 2.4h0m.4-.8h0m.6 2.9h0m2.9 1h0m.7-4.5h0m2.3 3.2h0m.4-1.7h0m-29.3 5h0m-.3 2.3h0m-.4-.4h0m-1-2.4h0m-.3 4.6h0m-.9-4.7h0m-2.4 2.9h0m-.1-1.5h0m-.4-1.9h0m-11.1 9.2h0m1.9 1.8h0m.1 .3h0m1.7-1.9h0m.2 1.9h0m.6-1.3h0m.3 1.4h0m1.1-2.6h0m-2.9 3.2h0m-6 2h0m-.9-1.4h0m-1.8 3.2h0m-.2-1.5h0m-1.3 .6h0m-.8-1.6h0m0-.4h0m0 .6h0m-18.2 6.7h0m.2 .9h0m2.5-2h0m.1 3.2h0m.2-.7h0m1.5 1.2h0m.2-1.3h0m.1 .9h0m-.1 2.2h0m-4.4 .6h0m-3.9 6.8h0m1 1.5h0m.6 0h0m1.8-1.2h0m.1 5.1h0m-1.5 .9h0m-.1-1.2h0m-.9 1.5h0m-1.8-1.2h0m-1.8-.4h0m-25 17.1h0m.6 .6h0m.4-.7h0m.7 .9h0m2 2.5h0m.8-3.8h0m-33.9 33.1h0m-.2-1.8h0m-.9 2.2h0m0 .2h0m-.4 .4h0m-.2-2.8h0m-.4 2.2h0m-.1 2.1h0m0-5h0m0 3h0m-.1-.3h0m-.1 .1h0m-.4 1.9h0m0-1.7h0m-.2 .9h0m-.5 .3h0m-.9-1.3h0m-.6 .3h0m1.9 2.4h0"/>
<path stroke="#277A26" stroke-width="2.3" d="M1114.6 569.7h0m1-1.6h0m.1 .4h0m5.3 .2h0m2.1 1.2h0m6.7 1.2h0m-1.7 4.4h0m-.1-2.7h0m-.2 2h0m-1.5-2.6h0m-.4-2h0m-1.1 2.9h0m-.1 2.1h0m-.5-4h0m-.3 3.8h0m-.1-2.2h0m-.3 .5h0m-.2 2.4h0m-2.2-1.2h0m-.3-3.8h0m-.4 .7h0m0-1.2h0m-.2 2.3h0m-.2-1.4h0m-1 2.8h0m-.4-2.7h0m-.5 4.2h0m-2.4 .5h0m-1.4-2.4h0m-1.3-2.1h0m-.7 0h0m-.6-.5h0m5.3 5.7h0m.1-.6h0m3.6 2h0m1.1-1.6h0m.6 1.6h0m1.1-1h0m1.9 2.6h0m1.2-1.7h0m1.5-.9h0m-26.2 6.6h0m-.4 1.3h0m-2.4-.5h0m-24.4 8.8h0m3.3 .3h0m20-3.1h0m5 2.6h0m.5-.9h0m.5-.7h0m3.3 .7h0m1.4-.9h0m0-3.1h0m.4 2.9h0m-29.8 6.3h0m-.7-.4h0m-1-1.5h0m-.3-1.4h0m-.6 5.3h0m-.9-3.1h0m-.2 2.4h0m-.2-1.6h0m-.4-1.5h0m-1.6 .8h0m-17.5 9.4h0m6.7-4.6h0m.3 .7h0m.1 1.8h0m.5-.4h0m0-2.8h0m.3 5.5h0m.1-2.4h0m.2 .1h0m.4 .2h0m.3 .5h0m.2-3.1h0m1.1 4.7h0m.6-5.3h0m.1 1.1h0m-1.7 4.4h0m-6.8 3.6h0m-.9-2.8h0m-.6 1.3h0m-.1-1.8h0m-.3 1.4h0m-.2-1.4h0m-1.4 2.4h0m-18.4 8.3h0m.3-3.4h0m1 .6h0m.2 2.8h0m2.6 .4h0m0 1.2h0m-1-.6h0m-2.3 .5h0m-5.5 9.9h0m2-1.9h0m2.8 .8h0m-.2 3.8h0m-2.2-.6h0m-1.1-.3h0m-27.5 19.4h0m.4 1.8h0m.1-.3h0m.5-.8h0m.5-1.5h0m.8-.7h0m.1 .8h0m.2 2.3h0m.7 .3h0m.3-3.2h0m-33.6 32.8h0m-.2-2.8h0m-.5 3.1h0m-.8-.6h0m-.5-2h0m-1 3.2h0m-.4-.1h0m0-.7h0m-.2 .8h0m0 1.8h0m-.8-1.7h0m-.8 1.2h0m-.5 .1h0"/>
<path stroke="#3F9A35" stroke-width="1.6" d="M1118 573.6h0m-1.2 0h0m-1.2 .4h0m-10.9 5.6h0m.3-.1h0m.9 .4h0m1.7-.7h0m1.3-.2h0m.1-.6h0m4.3-.7h0m1-.9h0m1.2 .1h0m3.3 0h0m1 2h0m1.5-2.3h0m1.1 4.8h0m.6-4h0m5.2 9.1h0m-.7 1.1h0m-7.2-4.5h0m-.4 2h0m-1.7 1.4h0m-1.8-1.6h0m-1.4 1h0m-1.4 2h0m-7.3-5.5h0m-.2 2.6h0m-.8-1h0m7.2 8.5h0m5 0h0m.6-1.5h0m.4 1h0m.9-3.9h0m1.3 4.5h0m2.2-4.3h0m.3 0h0m1.9 2.8h0m1.6 .2h0m.2-2.9h0m1.6 1.6h0m.4-2h0m-12.4 7.1h0m-.2-1h0m-63.2 17.4h0m-1.1 .3h0m-.9-1.1h0m-.1 .3h0m-.3-1.4h0m-1.5 1.6h0m-11.8-.1h0m-.5 0h0m-.5 .1h0m-8.9 6.4h0m2 0h0m5.7-2.4h0m1.1 .9h0m1.9 .9h0m.8-.4h0m2-1.9h0m.8 1.2h0m.3-3.1h0m.1 2h0m8.4-.4h0m2.9-2.4h0m.4 1.8h0m-8.4 8h0m-.3 1.5h0m-.8-2.7h0m-2 .8h0m-1.2-1.1h0m-.6 3.5h0m-9.2-4.8h0m-.2-.6h0m-1.9-.2h0m-.1 .6h0m-.1 2.8h0m-1.7-2.9h0m-11 9.4h0m.9 1.7h0m.4-1.8h0m.2 .4h0m.3-.3h0m.2 .3h0m1.2-3.4h0m.1 1h0m.4 .3h0m20.6-1.1h0m1.1 .6h0m.3 .2h0m-21.5 4.2h0m-2.7 2.3h0m-.5 .9h0m-.6 .1h0m-2.4 .5h0m-8.6 7.7h0m.2-2h0m4.7 1.2h0m.7-3.7h0m.2-.9h0m1.7 1.4h0m.5 3.9h0m0-3.3h0m1.1-1.9h0m.1-.2h0m.2 .1h0m.1 1.8h0m1.4 .3h0m.4 .4h0m.1-.7h0m.1-1h0m.4-.9h0m-6.3 6.5h0m-2.4 .7h0m-.8 .4h0m-3.2-1.3h0m-1 .9h0m-.1 .6h0m-.2-1.9h0m-10 11.2h0m2.3-1.1h0m1.4-.5h0m.2 1.5h0m.3-2.3h0m1 2h0m.3-1.8h0m.3-1.7h0m.8 1.1h0m.3 0h0m.7-.3h0m3.5 .1h0m-2.6 3.7h0m-3.9 2.1h0m-.3-2.1h0m-.4 .8h0m-.3-.5h0m-1.9 1.5h0m-6.4 2h0m-.8 1.1h0m-.5-1.9h0m-8.8 8.7h0m.1-1.4h0m.3-.6h0m1.2 .7h0m.1-1.2h0m.2 2.5h0m.4-3h0m.9 .3h0m.2-1.1h0m2.1 1.9h0m.3-1.4h0m.9-1h0m.2-.8h0m3.5 1.4h0m-6.5 5.1h0m-1.5-.1h0"/>
<path stroke="#3F9A35" stroke-width="2.3" d="M1120.7 574.1h0m-2.8 1.3h0m-2-1.4h0m-7.8 1.2h0m-4.1 .4h0m-1.8 3h0m.1 .8h0m.6-3.1h0m.4 1.3h0m1.1 3.9h0m.2-4.6h0m.1 3.2h0m.6-.1h0m.7-2.6h0m.1-1.3h0m1.9 5.4h0m2.3-3.8h0m3.2 1h0m2.4-1.8h0m.1 4h0m.7-1h0m.5 1.9h0m.3-2.5h0m2.1-3.1h0m0 4.1h0m.1-2.7h0m.1-.7h0m2.3-.4h0m6.2 11.1h0m0-.8h0m-.2 .6h0m-1.5 .1h0m-.2-1.2h0m-.6-1.3h0m-.1 2.9h0m0-1.5h0m-.5 .5h0m-.6-.8h0m-.3 1.4h0m-10.8-1.3h0m-4.7-1.2h0m-.3-1.6h0m-3.3 0h0m7.2 5h0m.6 1.3h0m1.5 3.8h0m.5-5.1h0m2.5 1.7h0m.6-.7h0m1 2.3h0m.6 .9h0m1.3-4h0m1.2 2h0m.3-.7h0m.9 1h0m.6-.8h0m.5-.1h0m.3 1.3h0m.2-.9h0m.5-2h0m-5.3 5.8h0m-65.2 17.2h0m-3.7-1.1h0m-.6 .8h0m-21.3 5.8h0m.5 .1h0m6.1-4.8h0m1.1 5.2h0m.2-3.8h0m.2 1.4h0m.5 0h0m3.3-.2h0m8.8-1.3h0m.3-.5h0m2.1 .7h0m1.6-.4h0m-8.1 10.2h0m-2.2 .3h0m-1.4-.8h0m-.5-2.4h0m-3.4-2.2h0m-7.6 .6h0m-.3 .3h0m-.7 1.6h0m-1.5 .1h0m-.3-1.9h0m-.2-.9h0m-.2 1.7h0m-1.8-1.5h0m-10 8.4h0m.5-.1h0m.2-.7h0m0 1.6h0m.5 .2h0m.8-1.2h0m0 0h0m.7 .4h0m.2 2.5h0m.1-3.8h0m1.6 1.9h0m20.6-3.6h0m.7 .2h0m1.2 1.3h0m-21.2 8.6h0m-1.2-2.8h0m0 2.6h0m-3.2 1.2h0m-.5-.3h0m-1.1-.8h0m-.3 .9h0m-.3 .1h0m-.4-.7h0m0 .8h0m-2.7 .8h0m-6.5 5h0m.7-.5h0m.1-1.2h0m1.3 .3h0m.4 2.1h0m.8-1.4h0m3.7 .8h0m1.3-4.3h0m.9 1.3h0m.3 2.8h0m.5-3.6h0m.2 2h0m.8-2.7h0m1.4 .6h0m.8 .4h0m.8-1.4h0m-9.3 5.9h0m-1.9 0h0m-.3 1.3h0m-.4 0h0m-.9-1.2h0m-2.6 .7h0m-7.7 8.2h0m0 2.4h0m.1-3.1h0m3 2.4h0m.6 1.1h0m.5-2.9h0m.7 1.3h0m.2 1h0m1.1-2.6h0m.9 3.3h0m0-3.5h0m1.2 1.6h0m-7.6 2.2h0m-3.3 .6h0m-5.5 3.2h0m-3.8-.2h0m-.4 1.9h0m-3.4 2.9h0m.6 1.7h0m1.2 1h0m.5-3.6h0m3.4-.3h0m.2-.1h0m.7 .6h0m.1 1.7h0m1.8-2.9h0m-8.1 5.5h0"/>
<path stroke="#2F8B2C" stroke-width="1.6" d="M1108.9 567.3h0m1.1 1.3h0m.2-.8h0m.3 1.8h0m.8-1.2h0m.6 0h0m9.1 .3h0m.1-.5h0m.2 .9h0m1.3-.5h0m.5-.1h0m3.8 4h0m-.6 .3h0m-.2 2.9h0m-.5-2.8h0m-1.2-.8h0m0 2.6h0m-.3-2.3h0m-.4 0h0m-2.5 2.9h0m-2.7-4.3h0m-5.7-.9h0m-4.1 2.3h0m-.1-.3h0m-.6-.1h0m14.8 6.4h0m1-.4h0m.6 .3h0m.9-1.8h0m2.1-.3h0m.7 3.3h0m1.7-.9h0m1.7-1h0m-4 5.4h0m-1.8 1.2h0m-4.5-2.2h0m-9.1 9.5h0m.4-1.5h0m.3-.8h0m.2 4.3h0m.4 0h0m.1-1.8h0m.4 .9h0m.1-4h0m.1 4.7h0m0-4.1h0m.1 4h0m.2-.6h0m.1 .7h0m.7-1.6h0m.1 1.6h0m.1-.4h0m.1-2.6h0m.1 3.6h0m.1-3.7h0m0 3.4h0m.4-1.7h0m.4-.2h0m.1 .7h0m.2 .3h0m1.8 .2h0m4.1-2.3h0m1.2 2.1h0m.9-4.7h0m.4 1.2h0m.9 1.9h0m.3-1.1h0m1.2 1.7h0m1.5 .2h0m.6 1.3h0m-.5 1.1h0m-3 .3h0m-7.7 0h0m-.3-.2h0m-.9 1.5h0m-1.5-.1h0m-.6-1.8h0m-.2 .2h0m-1.3 1.5h0m-33.8 2.9h0m-4.2 .4h0m-.8 .7h0m-1.2-1.3h0m-.6-.2h0m-.7 .9h0m-.3-1h0m-.5 .5h0m-1-1h0m-.9 .5h0m-.3-.7h0m-.2 .7h0m-2.3 1h0m-2.1-.2h0m-1.8-.6h0m-.1-.2h0m-1.1 1.4h0m-2.5 0h0m-1.1 .2h0m-2 2.4h0m1.7-.5h0m1.6 2.4h0m.1 1.1h0m.6-4h0m1 .8h0m.4 1.7h0m.3-2.7h0m.7 .6h0m.2-.4h0m.2 1.4h0m.2-.1h0m.1-1.7h0m2.1 1h0m.3 2.1h0m.2-3.1h0m.6 2h0m.2-2.4h0m.5 2.8h0m.6 1.8h0m1.6-.6h0m.5-2.5h0m.4 1.4h0m1-1.5h0m.4 1.7h0m.3-2h0m.1 .2h0m0 2.5h0m.5 .2h0m.4-2.6h0m.2 2.6h0m.2-3.6h0m0 3.1h0m.1-2.9h0m.3 1.1h0m0 0h0m.6 1.4h0m.3-2.1h0m.6-.6h0m.1-.7h0m1.5 .5h0m1.1 .8h0m.1 1.7h0m1.1-2.7h0m0 1.3h0m1-.5h0m1.4 1.6h0m-5.4 4.6h0m-22.6 3.6h0m-.6-.2h0m-1.7 .5h0m-9.8 4.3h0m1.1-.8h0m.1-.5h0m.1 1.8h0m1.1-1.7h0m.4 .3h0m.1-.9h0m.1-.4h0m.4 3.6h0m.6-2.3h0m.1 1h0m.6 2.2h0m.3-3.4h0m.2 2.3h0m3.8-1.5h0m3.5 .8h0m.1-2.6h0m.7 .4h0m.2 2.7h0m.6-2.2h0m.4-.3h0m-12.6 4h0m-.2 .7h0m-.9-.7h0m-24.4 4.5h0m-.9-.2h0m-.4-2.5h0m0 4h0m-.2-3.4h0m-.4-.3h0m-.4 .5h0m-.1 .6h0m-.1-1.6h0m0-.1h0m-.4 1.8h0m-.3 2.4h0m-.2-1.1h0m.9 11.1h0m-1.4-.3h0m-.9 .2h0m-.2 1.5h0m-.5-1.1h0m0 2.3h0m3.3 1.9h0m1.4 .2h0m-42.2 25.5h0m.2 1.3h0m1-2.9h0m.7 2.4h0m.5-1.5h0m.8 1.6h0m10.3-1.9h0m1.2 .5h0m-2.5 5.2h0m-.1-1.1h0m-.6 1.1h0m-.5-.4h0m-.5 .4h0m-1.2-2.6h0m0 3.7h0m-1.1 .7h0m-.2 1.3h0m-.2-1.4h0m-.9 .3h0m-.7 1.3h0m-.8-2.7h0m-.8 2.4h0m-2.2 1.1h0m0 1.5h0m.9 .1h0m1.3-.2h0m1-1.4h0m.4 3.6h0m.5-1.1h0m.2-2.9h0m.2 2.3h0m.2-1.4h0m.5-.6h0"/>
<path stroke="#2F8B2C" stroke-width="2.3" d="M1107.3 569.1h0m.1 .3h0m.7-2.5h0m.7 .5h0m0 .9h0m.6 .1h0m.6-1.7h0m.6 1.5h0m.1-1.5h0m.7 .1h0m.3 2.7h0m.2 0h0m.2-1.1h0m7.4-.1h0m2.3 .1h0m5.3 4.7h0m-.7-.1h0m-1 .7h0m-3.9 1.6h0m-1.9 .2h0m-1.8-1.2h0m-.2-3.5h0m-5.8 .3h0m-.7 1.8h0m-4.4-1.4h0m11 4.8h0m1.6 .5h0m1.7 1.9h0m1-1.4h0m3.3 1.3h0m0-.6h0m.2 .2h0m4.3 1h0m1.1-1.8h0m.4 .6h0m.5 0h0m0 3.8h0m.9-1.3h0m0-1.3h0m-6.4 3.1h0m-1 .8h0m-2.4 1.6h0m-10.5 8.3h0m1-4.4h0m.5 4.1h0m.2 .3h0m.3-1.4h0m.7 .2h0m.9 1.7h0m.1 .1h0m0-.7h0m.2-3h0m.3 3.5h0m.4-3.1h0m0 3h0m.4-1.2h0m.5 .6h0m4.6 1.1h0m.5-3.9h0m.5-.9h0m.2 4.8h0m.5-1.5h0m.2 .2h0m1.1-1.3h0m2-.6h0m0 .5h0m.1-2.9h0m.3-.1h0m2.3 4.8h0m-2.3 1.3h0m-2.8 1.3h0m-1.8-1.5h0m-4.6 .2h0m-.7 .9h0m-.3-.4h0m-3.2-.2h0m-.4 1.1h0m-36.3 2.5h0m-.9 1.2h0m-.3 .6h0m-1.8-.2h0m-.2-1.1h0m-.4-1.7h0m-.2 1.6h0m-2.2-.5h0m-.7 .4h0m-.3-.2h0m0-.9h0m-.8 1h0m-.3 .3h0m-2.8 .3h0m-.1 .7h0m-.3-1.4h0m-.6 1.2h0m-.1-2h0m-.7-1.4h0m-1.9 0h0m-.8 1.9h0m-5.2 2.6h0m.6 .7h0m.1 2.3h0m1.7-1.7h0m0 .8h0m1.1 1.1h0m.1-3.6h0m.5 1.4h0m.2-.9h0m.5 2.7h0m.2-2h0m.2 0h0m.1 1.3h0m.4-2.6h0m.3 1.3h0m1.8-.9h0m.3 4.9h0m.2-5.1h0m1.3 4.2h0m.4-2.2h0m.2-.6h0m.8-.7h0m.5-.5h0m.9 5.1h0m.3-5.5h0m.4 3.3h0m.3-2h0m.1 2.8h0m.2 .5h0m.5-2.8h0m0 .4h0m.3 3.2h0m.4-4.4h0m.5 .9h0m.1 2.7h0m.1-2.4h0m.2-.7h0m2-1h0m1.2 0h0m.5 1.5h0m.3-1.6h0m.6 2h0m.7 2.1h0m1.3 .1h0m.5-3.9h0m1.3 7.8h0m-4.9 .4h0m-2.4-2.7h0m-2.2 .3h0m-2.6 1.1h0m-.3-1.2h0m-.1 1.5h0m-1.3-1.1h0m-.4 0h0m-.1 0h0m-2.1-.5h0m-11.6 3h0m0 .7h0m-11.9 7.7h0m1-3.1h0m.4 2.1h0m.4-.7h0m0 .5h0m.5-2h0m0-.1h0m.1 3.2h0m.2 .3h0m.6-2h0m.1-2.2h0m.4 1.2h0m.4 1.9h0m.7 1h0m5-2.5h0m1.1 .5h0m2.3-.6h0m3.3-3.2h0m-16.2 6h0m-24.3 3.7h0m-1.8-.5h0m-.3-1.5h0m-.9 3.9h0m-.1-2.3h0m1.2 12.4h0m-5.5 5.4h0m2.3-2h0m2 4.1h0m.2-1.4h0m.2-3.7h0m.8 1.6h0m.5 .3h0m-41 24.8h0m.2 1.8h0m.1-1h0m.9-.4h0m.4 2.1h0m.6-1.7h0m.5 .1h0m.2 .8h0m6.9 .9h0m.6-1.1h0m2.1 1.1h0m2.8-.7h0m-1.1 3.1h0m-.7 .1h0m-.6-.1h0m-.6-.7h0m-3.8 2.8h0m-1.6-1.9h0m-.7 2.9h0m-.1 0h0m-1.3 .9h0m-.4 3.5h0m.9 .2h0m2-3.5h0m1.1 .9h0"/>
<path stroke="#BDA27B" stroke-width="1.6" d="M1039 554.8h0m.1 1.1h0m.3 1.4h0m.1-2.1h0m.1 1.9h0m.2-.7h0m.6-1.2h0m.5 2.2h0m.1 0h0m.1 .4h0m.1-.9h0m.3-.1h0m-.3 1.8h0m-.6 2.1h0m-.6 .4h0m-.2-.9h0m-.9-1.6h0m-.2 1.3h0m25.9 14.8h0m-.2 1.1h0m-.2-.1h0m-17.5 3.9h0m.6 1.5h0m.4-.4h0m.2-1.1h0m.5-.1h0m.8 1.5h0m.5-1.9h0m.2-.5h0m.1 2.6h0m.1-1.9h0m0 1.9h0m.1-2.5h0m.2-.4h0m.1 3.4h0m13.9-.4h0m0-.8h0m0 .5h0m.5-4.8h0m0 3.7h0m.3-3h0m0 1.7h0m0 1.1h0m.1-.8h0m.1-2.3h0m.5 4h0m.3-1.9h0m.1-2.2h0m0 4.5h0m.1-3.9h0m.4-1.1h0m.2 3.5h0m14.6 7.7h0m0-2.8h0m-.3 1.5h0m-.5 .8h0m-.2-2.8h0m-.3 .1h0m-.1 3.3h0m-.3-4h0m-.2 2.9h0m0-2.7h0m-.3 4h0m-28.9-2.1h0m-.4 .1h0m-.1 2.1h0m0-5.6h0m-.3 4.9h0m-.2 .1h0m-.2-.7h0m-.1 1.6h0m-.1-5.4h0m-.2 4.3h0m-.1-3.8h0m-.1 2.2h0m-.4 2.5h0m-.1-3.6h0m-.1-2h0m-.1 2.6h0m-.2-1.5h0m0-.5h0m0 4.6h0m-.2-3.2h0m-.1 3.8h0m-.3-4.9h0m-.3 3.3h0m-.1-1.4h0m-.1-1h0m-.1 7.2h0m.2-1.1h0m.4-.5h0m.1 .9h0m.8-1.9h0m.5-.5h0m.6 3.4h0m0-2.9h0m.2-.3h0m.5 .6h0m.6 .1h0m.1 .8h0m28.9 0h0m.1 0h0m.1 1h0m.2-2.7h0m1 1.5h0m.3 1.4h0m6 9.5h0m.3 3.8h0m.1-2h0m.9-.8h0m.1 4.1h0m.1-.8h0m.1-2.5h0m.1-1.3h0m.5 4.7h0m.3-4.2h0m.4-.4h0m49.9 3.5h0m.3 1.2h0m0-.8h0m.1 .4h0m.1-.4h0m1.4-.1h0m0-.2h0m1.2 .2h0m-.1 5.2h0m-.5-1.2h0m-.1-2.4h0m-.7 3.2h0m-.2-1.8h0m0 3.4h0m-.1-1.3h0m-.7 1.8h0m-.5-1.7h0m-.1 .4h0m0 .8h0m-50-4.2h0m-.3-.7h0m-.4-.2h0m-.1 1.6h0m-.1 .4h0m0-1h0m-.2-.9h0m0 .6h0m-80.2 3.9h0m-.1-1.2h0m-.2-1.7h0m-.3 .1h0m-.1 3.4h0m-.5-2.7h0m-.1 2.3h0m122.7 6.2h0m1.2-1.9h0m1.6-.5h0m.3 1.4h0m4.6 1.4h0m1.4 .2h0m2.1-5.7h0m21.8 11.8h0m-13-.2h0m-4.7-1.5h0m-.2 .3h0m-.6 .3h0m-.1-1.1h0m-.4-1.2h0m-1.2 2.2h0m-1.1-4h0m-.2 3.5h0m-2-.7h0m-.7 2.3h0m-.6-4.3h0m-.7 2.1h0m-.9 .4h0m0 .2h0m-.6-2h0m0 1.7h0m-.1-3.2h0m-.4 2.3h0m-1.4-2h0m-3.2 3.1h0m-.6-1.6h0m-.6 2.1h0m-.5-4.1h0m-12.3 4.4h0m-.1-.1h0m-1 1.2h0m-.5-1h0m-1 1.9h0m0 3.9h0m.3 .3h0m.2-3.8h0m.3 .8h0m.8 .3h0m.6 2h0m.2-2.8h0m.2-1.1h0m0 4.6h0m.1 .5h0m19.2-4.3h0m1.4-.7h0m.8 .6h0m.4-.4h0m1.1 2.6h0m.9-2.1h0m.1 4.5h0m2.3-3.3h0m.2 1.8h0m.1-2.6h0m0 4h0m.2-2.8h0m.2 .3h0m.2-2.4h0m.6 1.2h0m.2-1.4h0m.3 3.9h0m.5-1.3h0m.7-.5h0m1.2-.6h0m.3 3.7h0m.6-.9h0m0 .1h0m.4 .2h0m.1-3.5h0m.3 2.3h0m.3 .4h0m.1 1.5h0m0-2.6h0m.2-.5h0m.1 2h0m0 .6h0m.2-.6h0m1.4 .2h0m.3 .4h0m0-2.3h0m1.8-2h0m.7 1.2h0m.2 3.3h0m.4-3.2h0m.2-1.1h0m.7 2.6h0m.3-.9h0m.3-.1h0m.7 1.2h0m3 .3h0m.2 1h0m1.2-1.2h0m.5 .4h0m.5-.1h0m.4-.7h0m1.9-.3h0m.1-1.7h0m.9-.1h0m.8 .3h0m.3 0h0m-4.7 4.3h0m-1.2 .5h0m-.2-.1h0m-.1 2.4h0m-1.4-.4h0m-.7-2.4h0m-.1 1.4h0m-.1-.3h0m0 0h0m-.3 2.1h0m-.6-2.6h0m-2 .6h0m-4.5-.5h0m-2.1-.1h0m-1.5 1.8h0m-.4-.3h0m0-1.6h0m-.3 .8h0m-128.8 8.8h0m1-1.1h0m.4 .9h0m9.1-3.1h0m.4 2.1h0m.1 1.7h0m0 0h0m.2-.2h0m.2-2.4h0m.3-.1h0m.6-.3h0m.3 3.8h0m.3-1.8h0m.1-2.5h0m.1 3.9h0m.1 .2h0m42.6-1.3h0m.4 .7h0m.1-1.5h0m.4 .1h0m.4 .6h0m.4 1.6h0m.1 .1h0m-.4 2.6h0m-.4-.5h0m-.9-.8h0m-.4-.5h0m-54 1h0m-.3-1.4h0m-.5 1.5h0m-.9-.1h0m87.4 9h0m.8 1.1h0m.2-2.3h0m0 0h0m1.2 1h0m.5 .3h0m.2 .7h0m.2-1.5h0m.1-.4h0m-.5 2.8h0m0 3h0m-.2-1.7h0m-.3-1h0m-.7 2.1h0m0 .4h0m0-.5h0m-.3-2.2h0"/>
<path stroke="#BDA27B" stroke-width="2.3" d="M1038.8 556.7h0m.6 .1h0m.6 .3h0m1.1 .4h0m.4-3h0m-.6 5.5h0m6.3 19.3h0m.1-1h0m2.9 2.7h0m.5 .7h0m13.9-2.2h0m.7-1.4h0m.6-1h0m.7-1h0m.1 2.5h0m.7 .4h0m12.5 5.9h0m-29.8 1.2h0m-.4-2.2h0m-.8 1.1h0m-.1-.8h0m-.4 2.6h0m-1 .4h0m2.5 1.7h0m.5-.6h0m28.9 3.1h0m.4-.3h0m.9 .4h0m.3-3.1h0m.6 .2h0m.1 1.7h0m.1 1.5h0m6.6 8.1h0m-.9 4h0m.6-.5h0m.4-1.8h0m.3 3.7h0m.8 .5h0m50.6-1.4h0m.5 1.1h0m1.5-.6h0m.5 5.7h0m0-3.2h0m-.2 1.4h0m-.5 1.9h0m-.1-2.5h0m-51.7-2.2h0m-1.3 1.2h0m-1.1-.3h0m-79.1 1.8h0m-.8 1.2h0m-.1-.8h0m-.1 .6h0m-.6-.4h0m124.6 6.2h0m9.8-3.1h0m1.4 0h0m3 7.3h0m-5.7-.9h0m-1 3.1h0m-.2 1.8h0m-.9-2h0m0 1.5h0m-.5-4.2h0m-.1 4.8h0m-.7-5.3h0m0 3.4h0m-1.7 .5h0m-4.7-.2h0m-13.9 .9h0m-.7 .8h0m-.8 2.4h0m.6-.9h0m.2 3.2h0m.3 .4h0m18.6-4.5h0m5.1 .7h0m1 .6h0m.3 3h0m.4-1.8h0m1.4 1.2h0m1.8-.2h0m.3 1.2h0m2.5 .2h0m.2 .3h0m0-.1h0m.2-2.1h0m1 .7h0m.4-2.8h0m.2 4.4h0m.9-1.6h0m.7 1.6h0m.1-2.2h0m1.6 .9h0m.6-2.7h0m.9 .1h0m.6-.7h0m.3 .6h0m.1 2.8h0m1.4 1.2h0m.1-2.9h0m.3-.2h0m.3-1.1h0m.1 .7h0m3.2 1.5h0m.9-.6h0m.9-.7h0m1.9-1.7h0m1.1 4.1h0m0-.2h0m-3.4 2.5h0m-.5-.7h0m-.6 .6h0m-.2 .4h0m-.3-.9h0m-1.7 1.2h0m-1.4 1.4h0m-5.7-3.1h0m-.3 1.4h0m-.2-1.4h0m-.5 1.4h0m-1.2-1.4h0m-.1 .7h0m-1-.8h0m-.7 1.1h0m-129.6 10.1h0m1-1.6h0m10-2.9h0m.3-.4h0m0 1.6h0m0-.4h0m0-.9h0m.6 5h0m.1-1.4h0m.2 .6h0m43.9-.3h0m1.5 1.7h0m-1 1.4h0m-.3 .8h0m-.6-1.8h0m-44.8-.6h0m-9.4 1.4h0m-.2-1h0m-.8-.3h0m87.1 10.6h0m.1 .7h0m2.3-1.6h0m.5 .8h0m-2 3.6h0"/>
<path stroke="#C8501E" stroke-width="1.6" d="M987.2 701.9h0m2.3 0h0m.6-.8h0m4.4 .7h0m.6-.3h0m10 4.4h0m-.9-.4h0m-2.1-2.2h0m-.7 1h0m-1.2 3.2h0m-3.1-2.3h0m-.5 .4h0m-1.7 2h0m0-1.8h0m-.6 1.5h0m-.1 .5h0m-.4-4.7h0m-.5 4.8h0m0-.6h0m-.4-3.4h0m-.1 3h0m-.3-1.4h0m-1.2-.2h0m-.9 .9h0m0 .5h0m-.2-3.3h0m0 .5h0m-.6-.3h0m-.5 3.3h0m-.1 .7h0m-.3-2h0m-.2-3.1h0m-.4-.2h0m-.2 .6h0m-.6 0h0m0 .5h0m-7.6 9h0m.5-2.3h0m1.5-.7h0m.6 1.3h0m.2-.6h0m4.6 .4h0m.2 3.1h0m.2-.6h0m.5-2.4h0m2.9-1.9h0m5.2 1.7h0m.3-2.1h0m0 .6h0m.2-.4h0m.3 .5h0m.9 1.2h0m.7-.4h0m0 3h0m.8-2h0m.1-2.4h0m.4 3.2h0m.5-2.4h0m.4 .5h0m.8 1.3h0m.1-2.7h0m2.1 0h0m-9.6 7h0m-3.2 2.9h0m-.9-1.9h0m-1.7-.8h0m-1 3.6h0m-.4-4.1h0m0 3.5h0m-.1 .4h0m-1-.2h0m-.8 1.1h0m0-.7h0m-2.1 .5h0m-.2-.6h0m-.8-3.5h0m-.8 6.1h0m1.5 1.2h0m.7-1.5h0m.5 .1h0m1-1h0m.3-.4h0m1.9 .1h0"/>
<path stroke="#C8501E" stroke-width="2.3" d="M986.7 700.4h0m1.3 1.3h0m3.2-.3h0m13.7 4.2h0m-2.6-.6h0m-1.3 .1h0m-2.1 2h0m-.3-.5h0m-.4-2.2h0m-2 1.8h0m0-2.1h0m-.7 .3h0m-.4 1.6h0m-.1-1h0m-.1-1.6h0m-.1-1.1h0m-.6 2.3h0m-.5-.3h0m-.1 2.6h0m0 .4h0m-.3-5.3h0m-.1 .2h0m-.1 1h0m-.3 3.5h0m-.1-1.3h0m-.3-2.7h0m-.2 .3h0m-.7 1.6h0m-.3-1.8h0m-.2 1.6h0m-.7-1.4h0m-.2 3h0m-.3-2.1h0m-.1-1.5h0m-.9 2.7h0m-.3-2.4h0m0 2h0m-2.2-.1h0m-.9-2.1h0m-7.2 9.1h0m.4 0h0m4.6 .7h0m.8-.7h0m3.6 1.2h0m.5-2h0m.8-1.3h0m2.1 1.4h0m.5-1.9h0m.2-.2h0m.7-.8h0m.7 5.8h0m.3-5.1h0m.2 3.6h0m1.1-1.1h0m.3-2.1h0m.7 1.9h0m.3-2.3h0m.6 .3h0m.7 1.3h0m.5-.8h0m.2 2h0m.3-3.2h0m.3 .2h0m.6 1.6h0m.3 1.9h0m0-3h0m.1 3.3h0m.9-3.7h0m1 1.9h0m.6-2.2h0m1.3 .2h0m-9 6.7h0m-.9 .7h0m-3.1-1.5h0m-3.6 4.5h0m-.1 .4h0m0 .2h0m-.9-.6h0m-.6-.9h0m-1.5-4h0m-1 1.2h0m-.5-.2h0m-3.2-.9h0m2.9 7.1h0m.7-.4h0m.7 1.9h0m.1 .3h0m1.3-.5h0m.9-2.1h0m.3 .9h0m.1-.9h0"/>
<path stroke="#3B0F4F" stroke-width="1.6" d="M976 700.6h0m1.5-.9h0m.2-.2h0m.5 1.5h0m-1.6 1.3h0m-1.6 1.1h0m-2.1-.5h0m-.2 .1h0"/>
</g>
<polygon points="1112.0,600.8 1121.1,596.0 1125.4,600.2 1124.8,605.1 1116.3,608.1 1112.6,605.7" fill="#D98B2B"/><polygon points="1069.6,624.5 1079.3,619.0 1084.1,623.3 1083.5,628.1 1073.8,631.8 1070.2,629.4" fill="#D98B2B"/><polygon points="1061.1,639.1 1066.5,636.6 1068.4,641.5 1062.9,643.9" fill="#C8324A"/><polygon points="1103.5,560.5 1108.4,559.6 1109.3,564.1 1104.5,565.1" fill="#0A0AA0"/>
<text x="1024.1" y="773.8" font-size="27" font-weight="bold" font-style="normal" text-anchor="middle" fill="#000" >3D Occupancy Prediction</text>
<polygon points="1222.2,766.8 1323.6,767.1 1323.6,773.6 1343.1,763.9 1323.6,754.0 1323.6,760.5 1222.2,760.2" fill="#B02318"/>
<rect x="1300.5" y="190.5" width="488.3" height="480" rx="40" fill="#fff" stroke="#000" stroke-width="2"/>
<text x="1357.2" y="236.5" font-size="27" font-weight="bold">(b) Inter-Sample Diversity (</text>
<text x="1677.5" y="236.5" font-size="27" font-weight="bold" font-style="italic">D</text>
<text x="1697.8" y="241.5" font-size="19.5" font-weight="bold" font-style="italic" font-family="'DejaVu Serif Condensed', 'DejaVu Serif', serif" textLength="47.4" lengthAdjust="spacing">inter</text>
<text x="1747.8" y="236.5" font-size="27" font-weight="bold">)</text>
<rect x="1307.3" y="259.5" width="182" height="58.3" fill="#000"/>
<rect x="1309.3" y="261.5" width="79.6" height="54.3" fill="#4FAFA3"/>
<rect x="1388.6" y="261.5" width="24.4" height="54.3" fill="#429128"/>
<rect x="1412.7" y="261.5" width="16.3" height="54.3" fill="#6E9B47"/>
<rect x="1428.7" y="261.5" width="17.4" height="54.3" fill="#BDA27B"/>
<rect x="1445.8" y="261.5" width="13.4" height="54.3" fill="#B5461F"/>
<rect x="1458.9" y="261.5" width="7.2" height="54.3" fill="#A02837"/>
<rect x="1465.8" y="260.3" width="8.1" height="56.7" fill="#472B42"/>
<rect x="1473.6" y="261.5" width="7.6" height="54.3" fill="#D38D33"/>
<rect x="1480.9" y="261.5" width="6.7" height="54.3" fill="#060692"/>
<rect x="1307.3" y="330.1" width="182" height="58.3" fill="#000"/>
<rect x="1309.3" y="332.1" width="83.6" height="54.3" fill="#4FAFA3"/>
<rect x="1392.6" y="332.1" width="21.6" height="54.3" fill="#BDA27B"/>
<rect x="1413.9" y="332.1" width="20.4" height="54.3" fill="#6E9B47"/>
<rect x="1434.0" y="332.1" width="12.1" height="54.3" fill="#429128"/>
<rect x="1445.8" y="332.1" width="18.1" height="54.3" fill="#472B42"/>
<rect x="1463.6" y="332.1" width="11.6" height="54.3" fill="#D38D33"/>
<rect x="1474.9" y="332.1" width="8.1" height="54.3" fill="#B5461F"/>
<rect x="1482.7" y="332.1" width="4.9" height="54.3" fill="#060692"/>
<rect x="1307.3" y="441.2" width="182" height="58.3" fill="#000"/>
<rect x="1309.3" y="443.2" width="62.7" height="54.3" fill="#4FAFA3"/>
<rect x="1371.7" y="443.2" width="36.4" height="54.3" fill="#6E9B47"/>
<rect x="1407.8" y="443.2" width="25.2" height="54.3" fill="#429128"/>
<rect x="1432.7" y="443.2" width="13.4" height="54.3" fill="#BDA27B"/>
<rect x="1445.8" y="443.2" width="25.0" height="54.3" fill="#472B42"/>
<rect x="1470.5" y="443.2" width="17.1" height="54.3" fill="#D38D33"/>
<rect x="1597.1" y="344.5" width="182" height="58.3" fill="#000"/>
<rect x="1599.1" y="346.5" width="73.7" height="54.3" fill="#4FAFA3"/>
<rect x="1672.5" y="346.5" width="25.5" height="54.3" fill="#429128"/>
<rect x="1697.7" y="346.5" width="21.3" height="54.3" fill="#6E9B47"/>
<rect x="1718.7" y="346.5" width="17.3" height="54.3" fill="#BDA27B"/>
<rect x="1735.7" y="346.5" width="13.3" height="54.3" fill="#B5461F"/>
<rect x="1748.7" y="346.5" width="7.5" height="54.3" fill="#A02837"/>
<rect x="1755.9" y="345.3" width="8.3" height="56.7" fill="#472B42"/>
<rect x="1763.9" y="346.5" width="7.1" height="54.3" fill="#D38D33"/>
<rect x="1770.7" y="346.5" width="6.7" height="54.3" fill="#060692"/>
<circle cx="1393" cy="399.1" r="4" fill="#000"/>
<circle cx="1393" cy="418.8" r="4" fill="#000"/>
<circle cx="1393" cy="431.3" r="4" fill="#000"/>
<rect x="1801.5" y="191" width="487.8" height="477" rx="40" fill="#fff" stroke="#000" stroke-width="2"/>
<text x="1878.2" y="236.5" font-size="27" font-weight="bold">(c) Intra-Set Diversity (</text>
<text x="2147" y="236.5" font-size="27" font-weight="bold" font-style="italic">D</text>
<text x="2168.6" y="241.5" font-size="19.5" font-weight="bold" font-style="italic" font-family="'DejaVu Serif Condensed', 'DejaVu Serif', serif" textLength="49.2" lengthAdjust="spacing">intra</text>
<text x="2220.4" y="236.5" font-size="27" font-weight="bold">)</text>
<rect x="1807.3" y="259.5" width="182" height="58.3" fill="#000"/>
<rect x="1809.3" y="261.5" width="73.6" height="54.3" fill="#4FAFA3"/>
<rect x="1882.6" y="261.5" width="25.5" height="54.3" fill="#BDA27B"/>
<rect x="1907.8" y="261.5" width="21.2" height="54.3" fill="#429128"/>
<rect x="1928.7" y="261.5" width="17.4" height="54.3" fill="#6E9B47"/>
<rect x="1945.8" y="261.5" width="16.3" height="54.3" fill="#A02837"/>
<rect x="1961.8" y="260.3" width="13.4" height="56.7" fill="#472B42"/>
<rect x="1974.9" y="261.5" width="6.3" height="54.3" fill="#D38D33"/>
<rect x="1980.9" y="261.5" width="6.7" height="54.3" fill="#060692"/>
<rect x="1807.3" y="330.1" width="182" height="58.3" fill="#000"/>
<rect x="1809.3" y="332.1" width="87.7" height="54.3" fill="#4FAFA3"/>
<rect x="1896.7" y="332.1" width="20.3" height="54.3" fill="#429128"/>
<rect x="1916.7" y="332.1" width="15.4" height="54.3" fill="#6E9B47"/>
<rect x="1931.8" y="332.1" width="16.3" height="54.3" fill="#BDA27B"/>
<rect x="1947.8" y="332.1" width="11.4" height="54.3" fill="#B5461F"/>
<rect x="1958.9" y="332.1" width="7.2" height="54.3" fill="#A02837"/>
<rect x="1965.8" y="330.9" width="8.3" height="56.7" fill="#472B42"/>
<rect x="1973.8" y="332.1" width="7.4" height="54.3" fill="#D38D33"/>
<rect x="1980.9" y="332.1" width="6.7" height="54.3" fill="#060692"/>
<rect x="1807.3" y="441.2" width="182" height="58.3" fill="#000"/>
<rect x="1809.3" y="443.2" width="99.3" height="54.3" fill="#4FAFA3"/>
<rect x="1908.3" y="443.2" width="21.0" height="54.3" fill="#6E9B47"/>
<rect x="1929.0" y="443.2" width="17.3" height="54.3" fill="#429128"/>
<rect x="1946.0" y="443.2" width="17.4" height="54.3" fill="#BDA27B"/>
<rect x="1963.1" y="443.2" width="18.2" height="54.3" fill="#D38D33"/>
<rect x="1981.0" y="443.2" width="6.6" height="54.3" fill="#060692"/>
<rect x="2100.8" y="344.6" width="182" height="58.3" fill="#000"/>
<rect x="2102.8" y="346.6" width="73.7" height="54.3" fill="#4FAFA3"/>
<rect x="2176.2" y="346.6" width="25.5" height="54.3" fill="#429128"/>
<rect x="2201.4" y="346.6" width="21.3" height="54.3" fill="#6E9B47"/>
<rect x="2222.4" y="346.6" width="17.3" height="54.3" fill="#BDA27B"/>
<rect x="2239.4" y="346.6" width="13.3" height="54.3" fill="#B5461F"/>
<rect x="2252.4" y="346.6" width="7.5" height="54.3" fill="#A02837"/>
<rect x="2259.6" y="345.4" width="8.3" height="56.7" fill="#472B42"/>
<rect x="2267.6" y="346.6" width="7.1" height="54.3" fill="#D38D33"/>
<rect x="2274.4" y="346.6" width="6.7" height="54.3" fill="#060692"/>
<circle cx="1893" cy="399.1" r="4" fill="#000"/>
<circle cx="1893" cy="418.8" r="4" fill="#000"/>
<circle cx="1893" cy="431.3" r="4" fill="#000"/>
<text x="1549" y="713" font-size="26.8" font-weight="bold" font-style="normal" text-anchor="middle" fill="#000" >Class Distribution</text>
<rect x="1458.2" y="729.3" width="182" height="57.6" fill="#000"/>
<rect x="1459.8" y="730.9" width="74.1" height="54.4" fill="#4FAFA3"/>
<rect x="1533.6" y="730.9" width="25.6" height="54.4" fill="#429128"/>
<rect x="1559.0" y="730.9" width="21.4" height="54.4" fill="#6E9B47"/>
<rect x="1580.1" y="730.9" width="17.4" height="54.4" fill="#BDA27B"/>
<rect x="1597.2" y="730.9" width="13.4" height="54.4" fill="#B5461F"/>
<rect x="1610.2" y="730.9" width="7.5" height="54.4" fill="#A02837"/>
<rect x="1617.5" y="729.7" width="8.3" height="56.8" fill="#472B42"/>
<rect x="1625.5" y="730.9" width="7.1" height="54.4" fill="#D38D33"/>
<rect x="1632.4" y="730.9" width="6.5" height="54.4" fill="#060692"/>
<defs>
<marker id="mb" viewBox="0 0 12 10" markerWidth="12" markerHeight="10" refX="11" refY="5" orient="auto-start-reverse" markerUnits="userSpaceOnUse"><path d="M0 0L12 5L0 10Z" fill="#3778C2"/></marker>
<marker id="mg" viewBox="0 0 12 10" markerWidth="12" markerHeight="10" refX="11" refY="5" orient="auto-start-reverse" markerUnits="userSpaceOnUse"><path d="M0 0L12 5L0 10Z" fill="#4DAF5B"/></marker>
<marker id="mgr" viewBox="0 0 12 10" markerWidth="12" markerHeight="10" refX="11" refY="5" orient="auto-start-reverse" markerUnits="userSpaceOnUse"><path d="M0 0L12 5L0 10Z" fill="#8C8C8C"/></marker>
<marker id="mk" viewBox="0 0 13 13" markerWidth="13" markerHeight="13" refX="12" refY="6.5" orient="auto-start-reverse" markerUnits="userSpaceOnUse"><path d="M0 0L13 6.5L0 13Z" fill="#000"/></marker>
<marker id="ml1" viewBox="0 0 13 13" markerWidth="13" markerHeight="13" refX="12" refY="6.5" orient="auto-start-reverse" markerUnits="userSpaceOnUse"><path d="M0 0L13 6.5L0 13Z" fill="#4A72C4"/></marker>
<marker id="ml2" viewBox="0 0 13 13" markerWidth="13" markerHeight="13" refX="12" refY="6.5" orient="auto-start-reverse" markerUnits="userSpaceOnUse"><path d="M0 0L13 6.5L0 13Z" fill="#3F9A32"/></marker>
</defs>
<line x1="1490.1" y1="289.9" x2="1597.2" y2="373.2" stroke="#3778C2" stroke-width="1.4" marker-start="url(#mb)" marker-end="url(#mb)"/>
<line x1="1490.3" y1="360.1" x2="1595.5" y2="372.2" stroke="#8C8C8C" stroke-width="1.2" stroke-dasharray="4.5 3.2" marker-start="url(#mgr)" marker-end="url(#mgr)"/>
<line x1="1490.1" y1="467.1" x2="1595.7" y2="375.3" stroke="#8C8C8C" stroke-width="1.2" stroke-dasharray="4.5 3.2" marker-start="url(#mgr)" marker-end="url(#mgr)"/>
<line x1="1990.1" y1="290.1" x2="2099.5" y2="370.9" stroke="#8C8C8C" stroke-width="1.2" stroke-dasharray="4.5 3.2" marker-start="url(#mgr)" marker-end="url(#mgr)"/>
<line x1="1990.2" y1="359.2" x2="2100.0" y2="373.6" stroke="#4DAF5B" stroke-width="1.4" marker-start="url(#mg)" marker-end="url(#mg)"/>
<line x1="1990.0" y1="468.3" x2="2099.5" y2="375.4" stroke="#8C8C8C" stroke-width="1.2" stroke-dasharray="4.5 3.2" marker-start="url(#mgr)" marker-end="url(#mgr)"/>
<text x="1503.3" y="287.9" font-size="16.5" font-weight="bold" font-style="italic" fill="#3778C2" textLength="221.3" lengthAdjust="spacing"><tspan font-size="16.5" dy="0.0">JSD(q</tspan><tspan font-size="11.9" dy="-5.9">l</tspan><tspan font-size="9.2" dy="2.3">1</tspan><tspan font-size="16.5" dy="3.6">||q</tspan><tspan font-size="11.9" dy="-5.9">s</tspan><tspan font-size="16.5" dy="5.9">) = minJSD(q</tspan><tspan font-size="11.9" dy="-5.9">L</tspan><tspan font-size="16.5" dy="5.9">||q</tspan><tspan font-size="11.9" dy="-5.9">s</tspan><tspan font-size="16.5" dy="5.9">)</tspan></text>
<text x="1495.1" y="392.7" font-size="17" font-weight="normal" font-style="italic" fill="#8C8C8C" textLength="82.5" lengthAdjust="spacing"><tspan font-size="17.0" dy="0.0">JSD(q</tspan><tspan font-size="12.2" dy="-6.1">l</tspan><tspan font-size="9.5" dy="2.4">2</tspan><tspan font-size="17.0" dy="3.7">||q</tspan><tspan font-size="12.2" dy="-6.1">S</tspan><tspan font-size="17.0" dy="6.1">)</tspan></text>
<text x="1515.5" y="473.6" font-size="17" font-weight="normal" font-style="italic" fill="#8C8C8C" textLength="84.8" lengthAdjust="spacing"><tspan font-size="17.0" dy="0.0">JSD(q</tspan><tspan font-size="12.2" dy="-6.1">l</tspan><tspan font-size="9.5" dy="2.4">N</tspan><tspan font-size="17.0" dy="3.7">||q</tspan><tspan font-size="12.2" dy="-6.1">S</tspan><tspan font-size="17.0" dy="6.1">)</tspan></text>
<text x="2021.5" y="300.4" font-size="17" font-weight="normal" font-style="italic" fill="#8C8C8C" textLength="83.8" lengthAdjust="spacing"><tspan font-size="17.0" dy="0.0">JSD(q</tspan><tspan font-size="12.2" dy="-6.1">r</tspan><tspan font-size="9.5" dy="2.4">1</tspan><tspan font-size="17.0" dy="3.7">||q</tspan><tspan font-size="12.2" dy="-6.1">S</tspan><tspan font-size="17.0" dy="6.1">)</tspan></text>
<text x="2020.6" y="469.8" font-size="17" font-weight="normal" font-style="italic" fill="#8C8C8C" textLength="84.8" lengthAdjust="spacing"><tspan font-size="17.0" dy="0.0">JSD(q</tspan><tspan font-size="12.2" dy="-6.1">r</tspan><tspan font-size="9.5" dy="2.4">1</tspan><tspan font-size="17.0" dy="3.7">||q</tspan><tspan font-size="12.2" dy="-6.1">S</tspan><tspan font-size="17.0" dy="6.1">)</tspan></text>
<text x="2015.8" y="429.4" font-size="16.5" font-weight="bold" font-style="italic" fill="#4DAF5B" textLength="225" lengthAdjust="spacing"><tspan font-size="16.5" dy="0.0">JSD(q</tspan><tspan font-size="11.9" dy="-5.9">r</tspan><tspan font-size="9.2" dy="2.3">2</tspan><tspan font-size="16.5" dy="3.6">||q</tspan><tspan font-size="11.9" dy="-5.9">s</tspan><tspan font-size="16.5" dy="5.9">) = minJSD(q</tspan><tspan font-size="11.9" dy="-5.9">R</tspan><tspan font-size="16.5" dy="5.9">||q</tspan><tspan font-size="11.9" dy="-5.9">s</tspan><tspan font-size="16.5" dy="5.9">)</tspan></text>
<path d="M1363.2 583.4V606.3A47.1 11.3 0 0 0 1457.3999999999999 606.3V583.4Z" fill="#4E72C4" stroke="#000" stroke-width="1.6" stroke-linejoin="round"/>
<ellipse cx="1410.3" cy="583.4" rx="47.1" ry="11.3" fill="#93A5DC" stroke="#000" stroke-width="1.6"/>
<path d="M1363.2 552.7V574.4A47.1 11.3 0 0 0 1457.3999999999999 574.4V552.7Z" fill="#4E72C4" stroke="#000" stroke-width="1.6" stroke-linejoin="round"/>
<ellipse cx="1410.3" cy="552.7" rx="47.1" ry="11.3" fill="#93A5DC" stroke="#000" stroke-width="1.6"/>
<path d="M1363.2 523.7V545.2A47.1 11.3 0 0 0 1457.3999999999999 545.2V523.7Z" fill="#4E72C4" stroke="#000" stroke-width="1.6" stroke-linejoin="round"/>
<ellipse cx="1410.3" cy="523.7" rx="47.1" ry="11.3" fill="#98A9DC" stroke="#000" stroke-width="1.6"/>
<text x="1414.7" y="650.3" font-size="25" font-weight="bold" font-style="normal" text-anchor="middle" fill="#000" >Labeled Pool</text>
<line x1="1503.7" y1="598.5" x2="1580.0" y2="598.5" stroke="#000" stroke-width="1.3" marker-start="url(#mk)" marker-end="url(#mk)"/>
<path d="M1623.6 592.3V609.2A47 8.4 0 0 0 1717.6 609.2V592.3Z" fill="#BFBFBF" stroke="#000" stroke-width="1.6" stroke-linejoin="round"/>
<ellipse cx="1670.6" cy="592.3" rx="47" ry="8.4" fill="#DCDCDC" stroke="#000" stroke-width="1.6"/>
<text x="1669" y="648.2" font-size="25" font-weight="bold" font-style="normal" text-anchor="middle" fill="#000" >Unlabeled Sample</text>
<path d="M1859.3 578.3V604.1A46.9 13 0 0 0 1953.1000000000001 604.1V578.3Z" fill="#B7C4E6" stroke="#000" stroke-width="1.6" stroke-linejoin="round"/>
<ellipse cx="1906.2" cy="578.3" rx="46.9" ry="13" fill="#D5DDF0" stroke="#000" stroke-width="1.6"/>
<text x="1912.7" y="650.4" font-size="25" font-weight="bold" font-style="normal" text-anchor="middle" fill="#000" >Selected Pool</text>
<line x1="1994.2" y1="605.4" x2="2070.5" y2="605.4" stroke="#000" stroke-width="1.3" marker-start="url(#mk)" marker-end="url(#mk)"/>
<path d="M2122.2999999999997 595V611.7A46.9 8.3 0 0 0 2216.1 611.7V595Z" fill="#BFBFBF" stroke="#000" stroke-width="1.6" stroke-linejoin="round"/>
<ellipse cx="2169.2" cy="595" rx="46.9" ry="8.3" fill="#DCDCDC" stroke="#000" stroke-width="1.6"/>
<text x="2171.6" y="650.4" font-size="25" font-weight="bold" font-style="normal" text-anchor="middle" fill="#000" >Unlabeled Sample</text>
<text x="1906.9" y="698.4" font-size="23.5" font-style="italic" textLength="360.7" lengthAdjust="spacing" fill="#111">Jensen − Shannon Divergence (JSD)</text>
<line x1="1890.9" y1="729.3" x2="1969.3" y2="729.3" stroke="#4A72C4" stroke-width="1.3" marker-start="url(#ml1)" marker-end="url(#ml1)"/>
<line x1="1890.9" y1="771.7" x2="1969.3" y2="771.7" stroke="#3F9A32" stroke-width="1.3" marker-start="url(#ml2)" marker-end="url(#ml2)"/>
<text x="1987" y="736.3" font-size="23" textLength="228" lengthAdjust="spacing">Inter-Sample Diversity (</text>
<text x="2216" y="736.3" font-size="23" font-style="italic">D</text>
<text x="2231.2" y="739.8" font-size="18" font-style="italic" font-family="'DejaVu Serif Condensed', 'DejaVu Serif', serif" textLength="40.2" lengthAdjust="spacing">inter</text>
<text x="2273.8" y="736.3" font-size="22.5">)</text>
<text x="1987" y="780.4" font-size="23" textLength="187.3" lengthAdjust="spacing">Intra-Set Diversity (</text>
<text x="2175.5" y="780.4" font-size="23" font-style="italic">D</text>
<text x="2190.9" y="783.9" font-size="18" font-style="italic" font-family="'DejaVu Serif Condensed', 'DejaVu Serif', serif" textLength="42.2" lengthAdjust="spacing">intra</text>
<text x="2235.2" y="780.4" font-size="22.5">)</text>
</svg></body></html>
